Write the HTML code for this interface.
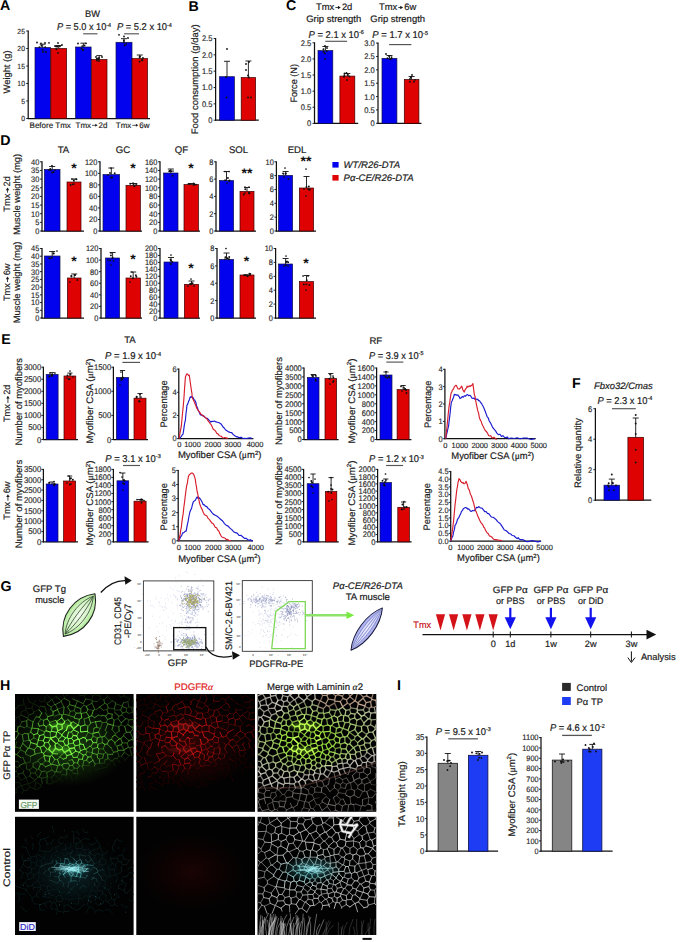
<!DOCTYPE html>
<html><head><meta charset="utf-8"><title>Figure</title>
<style>
html,body{margin:0;padding:0;background:#fff;overflow:hidden;}
svg{display:block;}
text{font-family:"Liberation Sans",sans-serif;text-rendering:geometricPrecision;}
</style></head><body>
<svg width="700" height="942" viewBox="0 0 700 942">
<rect x="0" y="0" width="700" height="942" fill="#fff"/>
<text x="0.1" y="10.3" font-size="14.2" fill="#000" font-weight="bold">A</text>
<text x="92.5" y="16.85" font-size="9.3" text-anchor="middle" fill="#1a1a1a" stroke="#1a1a1a" stroke-width="0.19">BW</text>
<text x="57" y="30.45" font-size="9.9" fill="#1a1a1a" stroke="#1a1a1a" stroke-width="0.2" textLength="54" lengthAdjust="spacingAndGlyphs"><tspan font-style="italic">P</tspan> = 5.0 x 10<tspan font-size="5.74" dy="-3.56">-4</tspan></text>
<text x="116.9" y="30.45" font-size="9.9" fill="#1a1a1a" stroke="#1a1a1a" stroke-width="0.2" textLength="55" lengthAdjust="spacingAndGlyphs"><tspan font-style="italic">P</tspan> = 5.2 x 10<tspan font-size="5.74" dy="-3.56">-4</tspan></text>
<line x1="83.2" y1="33.8" x2="97.5" y2="33.8" stroke="#555" stroke-width="1.15"/>
<line x1="124.1" y1="33.8" x2="139" y2="33.8" stroke="#555" stroke-width="1.15"/>
<line x1="28.2" y1="30.5" x2="28.2" y2="119" stroke="#111" stroke-width="1.25"/>
<line x1="27.7" y1="118.5" x2="150" y2="118.5" stroke="#111" stroke-width="1.25"/>
<line x1="26.2" y1="118.5" x2="28.2" y2="118.5" stroke="#111" stroke-width="0.9"/>
<text x="25" y="121.16" font-size="7.4" text-anchor="end" fill="#2a2a2a" stroke="#2a2a2a" stroke-width="0.15" textLength="3.82" lengthAdjust="spacingAndGlyphs">0</text>
<line x1="26.2" y1="101" x2="28.2" y2="101" stroke="#111" stroke-width="0.9"/>
<text x="25" y="103.66" font-size="7.4" text-anchor="end" fill="#2a2a2a" stroke="#2a2a2a" stroke-width="0.15" textLength="3.82" lengthAdjust="spacingAndGlyphs">5</text>
<line x1="26.2" y1="83.5" x2="28.2" y2="83.5" stroke="#111" stroke-width="0.9"/>
<text x="25" y="86.16" font-size="7.4" text-anchor="end" fill="#2a2a2a" stroke="#2a2a2a" stroke-width="0.15" textLength="7.63" lengthAdjust="spacingAndGlyphs">10</text>
<line x1="26.2" y1="66" x2="28.2" y2="66" stroke="#111" stroke-width="0.9"/>
<text x="25" y="68.66" font-size="7.4" text-anchor="end" fill="#2a2a2a" stroke="#2a2a2a" stroke-width="0.15" textLength="7.63" lengthAdjust="spacingAndGlyphs">15</text>
<line x1="26.2" y1="48.5" x2="28.2" y2="48.5" stroke="#111" stroke-width="0.9"/>
<text x="25" y="51.16" font-size="7.4" text-anchor="end" fill="#2a2a2a" stroke="#2a2a2a" stroke-width="0.15" textLength="7.63" lengthAdjust="spacingAndGlyphs">20</text>
<line x1="26.2" y1="31" x2="28.2" y2="31" stroke="#111" stroke-width="0.9"/>
<text x="25" y="33.66" font-size="7.4" text-anchor="end" fill="#2a2a2a" stroke="#2a2a2a" stroke-width="0.15" textLength="7.63" lengthAdjust="spacingAndGlyphs">25</text>
<rect x="35" y="47.5" width="15.4" height="71" fill="#0202ee" stroke="#10104a" stroke-width="0.7"/>
<line x1="42.7" y1="44.2" x2="42.7" y2="47.5" stroke="#111" stroke-width="0.9"/>
<line x1="39.7" y1="44.2" x2="45.7" y2="44.2" stroke="#111" stroke-width="0.9"/>
<circle cx="45.24" cy="47.24" r="0.95" fill="#111"/>
<circle cx="39.4" cy="47.08" r="0.95" fill="#111"/>
<circle cx="41.45" cy="45.72" r="0.95" fill="#111"/>
<circle cx="42.66" cy="49.87" r="0.95" fill="#111"/>
<rect x="50.8" y="48.5" width="15.8" height="70" fill="#de0202" stroke="#3a0000" stroke-width="0.7"/>
<line x1="58.7" y1="45.5" x2="58.7" y2="48.5" stroke="#111" stroke-width="0.9"/>
<line x1="55.7" y1="45.5" x2="61.7" y2="45.5" stroke="#111" stroke-width="0.9"/>
<circle cx="56.3" cy="49.29" r="0.95" fill="#111"/>
<circle cx="59.9" cy="46.29" r="0.95" fill="#111"/>
<circle cx="56.09" cy="46.44" r="0.95" fill="#111"/>
<circle cx="57.56" cy="46.63" r="0.95" fill="#111"/>
<rect x="75.6" y="47" width="15.5" height="71.5" fill="#0202ee" stroke="#10104a" stroke-width="0.7"/>
<line x1="83.35" y1="43.2" x2="83.35" y2="47" stroke="#111" stroke-width="0.9"/>
<line x1="80.35" y1="43.2" x2="86.35" y2="43.2" stroke="#111" stroke-width="0.9"/>
<circle cx="81.51" cy="48.54" r="0.95" fill="#111"/>
<circle cx="84.53" cy="45.54" r="0.95" fill="#111"/>
<circle cx="82.97" cy="50.02" r="0.95" fill="#111"/>
<circle cx="82.21" cy="46.11" r="0.95" fill="#111"/>
<rect x="91.5" y="59.5" width="15.5" height="59" fill="#de0202" stroke="#3a0000" stroke-width="0.7"/>
<line x1="99.25" y1="55.6" x2="99.25" y2="59.5" stroke="#111" stroke-width="0.9"/>
<line x1="96.25" y1="55.6" x2="102.25" y2="55.6" stroke="#111" stroke-width="0.9"/>
<circle cx="96.93" cy="58.72" r="0.95" fill="#111"/>
<circle cx="98.24" cy="59.1" r="0.95" fill="#111"/>
<circle cx="98" cy="58.53" r="0.95" fill="#111"/>
<circle cx="96.92" cy="60.47" r="0.95" fill="#111"/>
<rect x="116" y="42.3" width="16" height="76.2" fill="#0202ee" stroke="#10104a" stroke-width="0.7"/>
<line x1="124" y1="38.7" x2="124" y2="42.3" stroke="#111" stroke-width="0.9"/>
<line x1="121" y1="38.7" x2="127" y2="38.7" stroke="#111" stroke-width="0.9"/>
<circle cx="123.89" cy="42.21" r="0.95" fill="#111"/>
<circle cx="126.17" cy="44.08" r="0.95" fill="#111"/>
<circle cx="123.85" cy="40.4" r="0.95" fill="#111"/>
<circle cx="124.78" cy="45.31" r="0.95" fill="#111"/>
<rect x="132" y="58.6" width="15.5" height="59.9" fill="#de0202" stroke="#3a0000" stroke-width="0.7"/>
<line x1="139.75" y1="55" x2="139.75" y2="58.6" stroke="#111" stroke-width="0.9"/>
<line x1="136.75" y1="55" x2="142.75" y2="55" stroke="#111" stroke-width="0.9"/>
<circle cx="139.61" cy="61.67" r="0.95" fill="#111"/>
<circle cx="142.43" cy="60.4" r="0.95" fill="#111"/>
<circle cx="142.04" cy="60" r="0.95" fill="#111"/>
<circle cx="139.51" cy="57.11" r="0.95" fill="#111"/>
<circle cx="37" cy="42.5" r="0.9" fill="#111"/>
<circle cx="41" cy="43.5" r="0.9" fill="#111"/>
<circle cx="45" cy="43" r="0.9" fill="#111"/>
<circle cx="49" cy="42.8" r="0.9" fill="#111"/>
<circle cx="43" cy="52" r="0.9" fill="#111"/>
<circle cx="46" cy="52" r="0.9" fill="#111"/>
<circle cx="55" cy="46" r="0.9" fill="#111"/>
<circle cx="58" cy="43" r="0.9" fill="#111"/>
<circle cx="62" cy="45" r="0.9" fill="#111"/>
<circle cx="58" cy="53" r="0.9" fill="#111"/>
<circle cx="78" cy="43.5" r="0.9" fill="#111"/>
<circle cx="86" cy="43.3" r="0.9" fill="#111"/>
<circle cx="83" cy="50" r="0.9" fill="#111"/>
<circle cx="96" cy="57" r="0.9" fill="#111"/>
<circle cx="99" cy="58" r="0.9" fill="#111"/>
<circle cx="102" cy="57" r="0.9" fill="#111"/>
<circle cx="99" cy="61" r="0.9" fill="#111"/>
<circle cx="119" cy="34.8" r="0.9" fill="#111"/>
<circle cx="124" cy="36.5" r="0.9" fill="#111"/>
<circle cx="128" cy="38" r="0.9" fill="#111"/>
<circle cx="140" cy="56.5" r="0.9" fill="#111"/>
<circle cx="143" cy="58" r="0.9" fill="#111"/>
<text x="50.2" y="127.5" font-size="8" text-anchor="middle" fill="#1a1a1a" stroke="#1a1a1a" stroke-width="0.16" textLength="41.3" lengthAdjust="spacingAndGlyphs">Before Tmx</text>
<g transform="translate(91.5 127.5)"><text x="-16" y="0" font-size="8" fill="#1a1a1a" stroke="#1a1a1a" stroke-width="0.16" textLength="15.55" lengthAdjust="spacingAndGlyphs">Tmx</text><text x="16" y="0" font-size="8" fill="#1a1a1a" stroke="#1a1a1a" stroke-width="0.16" text-anchor="end" textLength="8.9" lengthAdjust="spacingAndGlyphs">2d</text><path d="M0.51 -2.16H4.7" stroke="#1a1a1a" stroke-width="0.72"/><path d="M6.14 -2.16L3.74 -3.68L3.74 -0.64Z" fill="#1a1a1a"/></g>
<g transform="translate(132.6 127.5)"><text x="-16.85" y="0" font-size="8" fill="#1a1a1a" stroke="#1a1a1a" stroke-width="0.16" textLength="15.55" lengthAdjust="spacingAndGlyphs">Tmx</text><text x="16.85" y="0" font-size="8" fill="#1a1a1a" stroke="#1a1a1a" stroke-width="0.16" text-anchor="end" textLength="10.22" lengthAdjust="spacingAndGlyphs">6w</text><path d="M-0.34 -2.16H4.23" stroke="#1a1a1a" stroke-width="0.72"/><path d="M5.67 -2.16L3.27 -3.68L3.27 -0.64Z" fill="#1a1a1a"/></g>
<text x="9.68" y="72" font-size="9.4" text-anchor="middle" fill="#1a1a1a" stroke="#1a1a1a" stroke-width="0.19" transform="rotate(-90 9.68 72)" textLength="43" lengthAdjust="spacingAndGlyphs">Weight (g)</text>
<text x="188.4" y="10.6" font-size="14.2" fill="#000" font-weight="bold">B</text>
<line x1="215.6" y1="38" x2="215.6" y2="120.7" stroke="#111" stroke-width="1.25"/>
<line x1="215.1" y1="120.2" x2="258.8" y2="120.2" stroke="#111" stroke-width="1.25"/>
<line x1="213.6" y1="120.2" x2="215.6" y2="120.2" stroke="#111" stroke-width="0.9"/>
<text x="212.4" y="123.13" font-size="8.14" text-anchor="end" fill="#2a2a2a" stroke="#2a2a2a" stroke-width="0.16" textLength="4.2" lengthAdjust="spacingAndGlyphs">0</text>
<line x1="213.6" y1="103.86" x2="215.6" y2="103.86" stroke="#111" stroke-width="0.9"/>
<text x="212.4" y="106.79" font-size="8.14" text-anchor="end" fill="#2a2a2a" stroke="#2a2a2a" stroke-width="0.16" textLength="10.49" lengthAdjust="spacingAndGlyphs">0.5</text>
<line x1="213.6" y1="87.52" x2="215.6" y2="87.52" stroke="#111" stroke-width="0.9"/>
<text x="212.4" y="90.45" font-size="8.14" text-anchor="end" fill="#2a2a2a" stroke="#2a2a2a" stroke-width="0.16" textLength="10.49" lengthAdjust="spacingAndGlyphs">1.0</text>
<line x1="213.6" y1="71.18" x2="215.6" y2="71.18" stroke="#111" stroke-width="0.9"/>
<text x="212.4" y="74.11" font-size="8.14" text-anchor="end" fill="#2a2a2a" stroke="#2a2a2a" stroke-width="0.16" textLength="10.49" lengthAdjust="spacingAndGlyphs">1.5</text>
<line x1="213.6" y1="54.84" x2="215.6" y2="54.84" stroke="#111" stroke-width="0.9"/>
<text x="212.4" y="57.77" font-size="8.14" text-anchor="end" fill="#2a2a2a" stroke="#2a2a2a" stroke-width="0.16" textLength="10.49" lengthAdjust="spacingAndGlyphs">2.0</text>
<line x1="213.6" y1="38.5" x2="215.6" y2="38.5" stroke="#111" stroke-width="0.9"/>
<text x="212.4" y="41.43" font-size="8.14" text-anchor="end" fill="#2a2a2a" stroke="#2a2a2a" stroke-width="0.16" textLength="10.49" lengthAdjust="spacingAndGlyphs">2.5</text>
<rect x="219.5" y="76.7" width="14.9" height="43.5" fill="#0202ee" stroke="#10104a" stroke-width="0.7"/>
<line x1="227" y1="61.3" x2="227" y2="76.7" stroke="#111" stroke-width="0.9"/>
<line x1="224" y1="61.3" x2="230" y2="61.3" stroke="#111" stroke-width="0.9"/>
<rect x="241.2" y="77.6" width="14.4" height="42.6" fill="#de0202" stroke="#3a0000" stroke-width="0.7"/>
<line x1="248.4" y1="61" x2="248.4" y2="77.6" stroke="#111" stroke-width="0.9"/>
<line x1="245.4" y1="61" x2="251.4" y2="61" stroke="#111" stroke-width="0.9"/>
<circle cx="227" cy="49" r="0.9" fill="#111"/>
<circle cx="226" cy="77" r="0.9" fill="#111"/>
<circle cx="226.5" cy="97.5" r="0.9" fill="#111"/>
<circle cx="249" cy="62" r="0.9" fill="#111"/>
<circle cx="246" cy="64" r="0.9" fill="#111"/>
<circle cx="246" cy="70" r="0.9" fill="#111"/>
<circle cx="248" cy="75.5" r="0.9" fill="#111"/>
<circle cx="249" cy="77.5" r="0.9" fill="#111"/>
<circle cx="248" cy="97.5" r="0.9" fill="#111"/>
<circle cx="251" cy="97.5" r="0.9" fill="#111"/>
<text x="197.58" y="79.3" font-size="9.4" text-anchor="middle" fill="#1a1a1a" stroke="#1a1a1a" stroke-width="0.19" transform="rotate(-90 197.58 79.3)" textLength="110" lengthAdjust="spacingAndGlyphs">Food consumption (g/day)</text>
<text x="286" y="10.4" font-size="14.2" fill="#000" font-weight="bold">C</text>
<g transform="translate(334.2 10.08)"><text x="-18.15" y="0" font-size="9.4" fill="#1a1a1a" stroke="#1a1a1a" stroke-width="0.19" textLength="18.27" lengthAdjust="spacingAndGlyphs">Tmx</text><text x="18.15" y="0" font-size="9.4" fill="#1a1a1a" stroke="#1a1a1a" stroke-width="0.19" text-anchor="end" textLength="10.45" lengthAdjust="spacingAndGlyphs">2d</text><path d="M1.25 -2.54H4.88" stroke="#1a1a1a" stroke-width="0.85"/><path d="M6.57 -2.54L3.75 -4.32L3.75 -0.75Z" fill="#1a1a1a"/></g>
<text x="333.7" y="21.98" font-size="9.4" text-anchor="middle" fill="#1a1a1a" stroke="#1a1a1a" stroke-width="0.19" textLength="55" lengthAdjust="spacingAndGlyphs">Grip strength</text>
<g transform="translate(397.6 10.08)"><text x="-18.6" y="0" font-size="9.4" fill="#1a1a1a" stroke="#1a1a1a" stroke-width="0.19" textLength="18.21" lengthAdjust="spacingAndGlyphs">Tmx</text><text x="18.6" y="0" font-size="9.4" fill="#1a1a1a" stroke="#1a1a1a" stroke-width="0.19" text-anchor="end" textLength="11.97" lengthAdjust="spacingAndGlyphs">6w</text><path d="M0.73 -2.54H3.81" stroke="#1a1a1a" stroke-width="0.85"/><path d="M5.5 -2.54L2.68 -4.32L2.68 -0.75Z" fill="#1a1a1a"/></g>
<text x="397.7" y="21.98" font-size="9.4" text-anchor="middle" fill="#1a1a1a" stroke="#1a1a1a" stroke-width="0.19" textLength="54.7" lengthAdjust="spacingAndGlyphs">Grip strength</text>
<text x="308.6" y="37.75" font-size="9.9" fill="#1a1a1a" stroke="#1a1a1a" stroke-width="0.2" textLength="55.3" lengthAdjust="spacingAndGlyphs"><tspan font-style="italic">P</tspan> = 2.1 x 10<tspan font-size="5.74" dy="-3.56">-6</tspan></text>
<text x="372.3" y="38.35" font-size="9.9" fill="#1a1a1a" stroke="#1a1a1a" stroke-width="0.2" textLength="55.7" lengthAdjust="spacingAndGlyphs"><tspan font-style="italic">P</tspan> = 1.7 x 10<tspan font-size="5.74" dy="-3.56">-5</tspan></text>
<line x1="325.3" y1="41.3" x2="347.1" y2="41.3" stroke="#555" stroke-width="1.15"/>
<line x1="389.1" y1="44.6" x2="411.4" y2="44.6" stroke="#555" stroke-width="1.15"/>
<line x1="314.5" y1="42.3" x2="314.5" y2="123.9" stroke="#111" stroke-width="1.25"/>
<line x1="314" y1="123.4" x2="358.2" y2="123.4" stroke="#111" stroke-width="1.25"/>
<line x1="312.5" y1="123.4" x2="314.5" y2="123.4" stroke="#111" stroke-width="0.9"/>
<text x="311.3" y="126.33" font-size="8.14" text-anchor="end" fill="#2a2a2a" stroke="#2a2a2a" stroke-width="0.16" textLength="4.2" lengthAdjust="spacingAndGlyphs">0</text>
<line x1="312.5" y1="107.28" x2="314.5" y2="107.28" stroke="#111" stroke-width="0.9"/>
<text x="311.3" y="110.21" font-size="8.14" text-anchor="end" fill="#2a2a2a" stroke="#2a2a2a" stroke-width="0.16" textLength="10.49" lengthAdjust="spacingAndGlyphs">0.5</text>
<line x1="312.5" y1="91.16" x2="314.5" y2="91.16" stroke="#111" stroke-width="0.9"/>
<text x="311.3" y="94.09" font-size="8.14" text-anchor="end" fill="#2a2a2a" stroke="#2a2a2a" stroke-width="0.16" textLength="10.49" lengthAdjust="spacingAndGlyphs">1.0</text>
<line x1="312.5" y1="75.04" x2="314.5" y2="75.04" stroke="#111" stroke-width="0.9"/>
<text x="311.3" y="77.97" font-size="8.14" text-anchor="end" fill="#2a2a2a" stroke="#2a2a2a" stroke-width="0.16" textLength="10.49" lengthAdjust="spacingAndGlyphs">1.5</text>
<line x1="312.5" y1="58.92" x2="314.5" y2="58.92" stroke="#111" stroke-width="0.9"/>
<text x="311.3" y="61.85" font-size="8.14" text-anchor="end" fill="#2a2a2a" stroke="#2a2a2a" stroke-width="0.16" textLength="10.49" lengthAdjust="spacingAndGlyphs">2.0</text>
<line x1="312.5" y1="42.8" x2="314.5" y2="42.8" stroke="#111" stroke-width="0.9"/>
<text x="311.3" y="45.73" font-size="8.14" text-anchor="end" fill="#2a2a2a" stroke="#2a2a2a" stroke-width="0.16" textLength="10.49" lengthAdjust="spacingAndGlyphs">2.5</text>
<rect x="318" y="50.6" width="14.8" height="72.8" fill="#0202ee" stroke="#10104a" stroke-width="0.7"/>
<line x1="325.4" y1="46.5" x2="325.4" y2="50.6" stroke="#111" stroke-width="0.9"/>
<line x1="322.4" y1="46.5" x2="328.4" y2="46.5" stroke="#111" stroke-width="0.9"/>
<circle cx="323.47" cy="51.7" r="0.95" fill="#111"/>
<circle cx="324.8" cy="53.32" r="0.95" fill="#111"/>
<circle cx="323.45" cy="49.24" r="0.95" fill="#111"/>
<circle cx="326.9" cy="51.09" r="0.95" fill="#111"/>
<rect x="339.9" y="76.1" width="14.9" height="47.3" fill="#de0202" stroke="#3a0000" stroke-width="0.7"/>
<line x1="347.3" y1="73.5" x2="347.3" y2="76.1" stroke="#111" stroke-width="0.9"/>
<line x1="344.3" y1="73.5" x2="350.3" y2="73.5" stroke="#111" stroke-width="0.9"/>
<circle cx="344.39" cy="75.27" r="0.95" fill="#111"/>
<circle cx="349.31" cy="76.56" r="0.95" fill="#111"/>
<circle cx="344.51" cy="73.55" r="0.95" fill="#111"/>
<circle cx="343.96" cy="76.68" r="0.95" fill="#111"/>
<line x1="378" y1="42.6" x2="378" y2="123.8" stroke="#111" stroke-width="1.25"/>
<line x1="377.5" y1="123.3" x2="421.4" y2="123.3" stroke="#111" stroke-width="1.25"/>
<line x1="376" y1="123.3" x2="378" y2="123.3" stroke="#111" stroke-width="0.9"/>
<text x="374.8" y="126.23" font-size="8.14" text-anchor="end" fill="#2a2a2a" stroke="#2a2a2a" stroke-width="0.16" textLength="4.2" lengthAdjust="spacingAndGlyphs">0</text>
<line x1="376" y1="109.93" x2="378" y2="109.93" stroke="#111" stroke-width="0.9"/>
<text x="374.8" y="112.86" font-size="8.14" text-anchor="end" fill="#2a2a2a" stroke="#2a2a2a" stroke-width="0.16" textLength="10.49" lengthAdjust="spacingAndGlyphs">0.5</text>
<line x1="376" y1="96.57" x2="378" y2="96.57" stroke="#111" stroke-width="0.9"/>
<text x="374.8" y="99.5" font-size="8.14" text-anchor="end" fill="#2a2a2a" stroke="#2a2a2a" stroke-width="0.16" textLength="10.49" lengthAdjust="spacingAndGlyphs">1.0</text>
<line x1="376" y1="83.2" x2="378" y2="83.2" stroke="#111" stroke-width="0.9"/>
<text x="374.8" y="86.13" font-size="8.14" text-anchor="end" fill="#2a2a2a" stroke="#2a2a2a" stroke-width="0.16" textLength="10.49" lengthAdjust="spacingAndGlyphs">1.5</text>
<line x1="376" y1="69.83" x2="378" y2="69.83" stroke="#111" stroke-width="0.9"/>
<text x="374.8" y="72.76" font-size="8.14" text-anchor="end" fill="#2a2a2a" stroke="#2a2a2a" stroke-width="0.16" textLength="10.49" lengthAdjust="spacingAndGlyphs">2.0</text>
<line x1="376" y1="56.47" x2="378" y2="56.47" stroke="#111" stroke-width="0.9"/>
<text x="374.8" y="59.4" font-size="8.14" text-anchor="end" fill="#2a2a2a" stroke="#2a2a2a" stroke-width="0.16" textLength="10.49" lengthAdjust="spacingAndGlyphs">2.5</text>
<line x1="376" y1="43.1" x2="378" y2="43.1" stroke="#111" stroke-width="0.9"/>
<text x="374.8" y="46.03" font-size="8.14" text-anchor="end" fill="#2a2a2a" stroke="#2a2a2a" stroke-width="0.16" textLength="10.49" lengthAdjust="spacingAndGlyphs">3.0</text>
<rect x="382" y="58.4" width="14.9" height="64.9" fill="#0202ee" stroke="#10104a" stroke-width="0.7"/>
<line x1="389.5" y1="55.5" x2="389.5" y2="58.4" stroke="#111" stroke-width="0.9"/>
<line x1="386.5" y1="55.5" x2="392.5" y2="55.5" stroke="#111" stroke-width="0.9"/>
<circle cx="390.18" cy="59.18" r="0.95" fill="#111"/>
<circle cx="391.55" cy="57.11" r="0.95" fill="#111"/>
<circle cx="391.72" cy="58.6" r="0.95" fill="#111"/>
<circle cx="387.52" cy="58.2" r="0.95" fill="#111"/>
<rect x="404.3" y="79.5" width="14.6" height="43.8" fill="#de0202" stroke="#3a0000" stroke-width="0.7"/>
<line x1="411.6" y1="76.5" x2="411.6" y2="79.5" stroke="#111" stroke-width="0.9"/>
<line x1="408.6" y1="76.5" x2="414.6" y2="76.5" stroke="#111" stroke-width="0.9"/>
<circle cx="409.81" cy="81.8" r="0.95" fill="#111"/>
<circle cx="413.91" cy="81.8" r="0.95" fill="#111"/>
<circle cx="415" cy="79.83" r="0.95" fill="#111"/>
<circle cx="410.75" cy="77.24" r="0.95" fill="#111"/>
<circle cx="325" cy="46" r="0.9" fill="#111"/>
<circle cx="327" cy="48" r="0.9" fill="#111"/>
<circle cx="325" cy="59" r="0.9" fill="#111"/>
<circle cx="346.5" cy="73" r="0.9" fill="#111"/>
<circle cx="348" cy="75" r="0.9" fill="#111"/>
<circle cx="347" cy="80" r="0.9" fill="#111"/>
<circle cx="386" cy="54" r="0.9" fill="#111"/>
<circle cx="389" cy="56" r="0.9" fill="#111"/>
<circle cx="412" cy="75" r="0.9" fill="#111"/>
<circle cx="410" cy="79" r="0.9" fill="#111"/>
<text x="297.15" y="83.3" font-size="9.3" text-anchor="middle" fill="#1a1a1a" stroke="#1a1a1a" stroke-width="0.19" transform="rotate(-90 297.15 83.3)" textLength="38.6" lengthAdjust="spacingAndGlyphs">Force (N)</text>
<text x="0.2" y="145.4" font-size="14.2" fill="#000" font-weight="bold">D</text>
<text x="63.5" y="153.46" font-size="9.6" text-anchor="middle" fill="#1a1a1a" stroke="#1a1a1a" stroke-width="0.19">TA</text>
<text x="123" y="153.46" font-size="9.6" text-anchor="middle" fill="#1a1a1a" stroke="#1a1a1a" stroke-width="0.19">GC</text>
<text x="181.5" y="153.46" font-size="9.6" text-anchor="middle" fill="#1a1a1a" stroke="#1a1a1a" stroke-width="0.19">QF</text>
<text x="238.5" y="153.46" font-size="9.6" text-anchor="middle" fill="#1a1a1a" stroke="#1a1a1a" stroke-width="0.19">SOL</text>
<text x="297" y="153.46" font-size="9.6" text-anchor="middle" fill="#1a1a1a" stroke="#1a1a1a" stroke-width="0.19">EDL</text>
<line x1="42" y1="161.3" x2="42" y2="231.5" stroke="#111" stroke-width="1.25"/>
<line x1="41.5" y1="231" x2="84" y2="231" stroke="#111" stroke-width="1.25"/>
<line x1="40" y1="231" x2="42" y2="231" stroke="#111" stroke-width="0.9"/>
<text x="39.4" y="233.89" font-size="8.03" text-anchor="end" fill="#2a2a2a" stroke="#2a2a2a" stroke-width="0.16" textLength="4.14" lengthAdjust="spacingAndGlyphs">0</text>
<line x1="40" y1="222.35" x2="42" y2="222.35" stroke="#111" stroke-width="0.9"/>
<text x="39.4" y="225.24" font-size="8.03" text-anchor="end" fill="#2a2a2a" stroke="#2a2a2a" stroke-width="0.16" textLength="4.14" lengthAdjust="spacingAndGlyphs">5</text>
<line x1="40" y1="213.7" x2="42" y2="213.7" stroke="#111" stroke-width="0.9"/>
<text x="39.4" y="216.59" font-size="8.03" text-anchor="end" fill="#2a2a2a" stroke="#2a2a2a" stroke-width="0.16" textLength="8.28" lengthAdjust="spacingAndGlyphs">10</text>
<line x1="40" y1="205.05" x2="42" y2="205.05" stroke="#111" stroke-width="0.9"/>
<text x="39.4" y="207.94" font-size="8.03" text-anchor="end" fill="#2a2a2a" stroke="#2a2a2a" stroke-width="0.16" textLength="8.28" lengthAdjust="spacingAndGlyphs">15</text>
<line x1="40" y1="196.4" x2="42" y2="196.4" stroke="#111" stroke-width="0.9"/>
<text x="39.4" y="199.29" font-size="8.03" text-anchor="end" fill="#2a2a2a" stroke="#2a2a2a" stroke-width="0.16" textLength="8.28" lengthAdjust="spacingAndGlyphs">20</text>
<line x1="40" y1="187.75" x2="42" y2="187.75" stroke="#111" stroke-width="0.9"/>
<text x="39.4" y="190.64" font-size="8.03" text-anchor="end" fill="#2a2a2a" stroke="#2a2a2a" stroke-width="0.16" textLength="8.28" lengthAdjust="spacingAndGlyphs">25</text>
<line x1="40" y1="179.1" x2="42" y2="179.1" stroke="#111" stroke-width="0.9"/>
<text x="39.4" y="181.99" font-size="8.03" text-anchor="end" fill="#2a2a2a" stroke="#2a2a2a" stroke-width="0.16" textLength="8.28" lengthAdjust="spacingAndGlyphs">30</text>
<line x1="40" y1="170.45" x2="42" y2="170.45" stroke="#111" stroke-width="0.9"/>
<text x="39.4" y="173.34" font-size="8.03" text-anchor="end" fill="#2a2a2a" stroke="#2a2a2a" stroke-width="0.16" textLength="8.28" lengthAdjust="spacingAndGlyphs">35</text>
<line x1="40" y1="161.8" x2="42" y2="161.8" stroke="#111" stroke-width="0.9"/>
<text x="39.4" y="164.69" font-size="8.03" text-anchor="end" fill="#2a2a2a" stroke="#2a2a2a" stroke-width="0.16" textLength="8.28" lengthAdjust="spacingAndGlyphs">40</text>
<rect x="44.4" y="169.4" width="15.6" height="61.6" fill="#0202ee" stroke="#10104a" stroke-width="0.7"/>
<line x1="52.2" y1="166.5" x2="52.2" y2="169.4" stroke="#111" stroke-width="0.9"/>
<line x1="49.2" y1="166.5" x2="55.2" y2="166.5" stroke="#111" stroke-width="0.9"/>
<circle cx="52.09" cy="172.6" r="0.95" fill="#111"/>
<circle cx="50.26" cy="168.89" r="0.95" fill="#111"/>
<circle cx="50.78" cy="169.89" r="0.95" fill="#111"/>
<circle cx="53.55" cy="172" r="0.95" fill="#111"/>
<rect x="67" y="182" width="14" height="49" fill="#de0202" stroke="#3a0000" stroke-width="0.7"/>
<line x1="74" y1="179" x2="74" y2="182" stroke="#111" stroke-width="0.9"/>
<line x1="71" y1="179" x2="77" y2="179" stroke="#111" stroke-width="0.9"/>
<circle cx="70.68" cy="185.01" r="0.95" fill="#111"/>
<circle cx="76.5" cy="179.33" r="0.95" fill="#111"/>
<circle cx="73.76" cy="180.37" r="0.95" fill="#111"/>
<circle cx="72.76" cy="184.34" r="0.95" fill="#111"/>
<text x="74" y="172.88" font-size="14" text-anchor="middle" fill="#111" font-weight="bold">*</text>
<line x1="100" y1="161.3" x2="100" y2="231.5" stroke="#111" stroke-width="1.25"/>
<line x1="99.5" y1="231" x2="142" y2="231" stroke="#111" stroke-width="1.25"/>
<line x1="98" y1="231" x2="100" y2="231" stroke="#111" stroke-width="0.9"/>
<text x="97.4" y="233.89" font-size="8.03" text-anchor="end" fill="#2a2a2a" stroke="#2a2a2a" stroke-width="0.16" textLength="4.14" lengthAdjust="spacingAndGlyphs">0</text>
<line x1="98" y1="219.47" x2="100" y2="219.47" stroke="#111" stroke-width="0.9"/>
<text x="97.4" y="222.36" font-size="8.03" text-anchor="end" fill="#2a2a2a" stroke="#2a2a2a" stroke-width="0.16" textLength="8.28" lengthAdjust="spacingAndGlyphs">20</text>
<line x1="98" y1="207.93" x2="100" y2="207.93" stroke="#111" stroke-width="0.9"/>
<text x="97.4" y="210.82" font-size="8.03" text-anchor="end" fill="#2a2a2a" stroke="#2a2a2a" stroke-width="0.16" textLength="8.28" lengthAdjust="spacingAndGlyphs">40</text>
<line x1="98" y1="196.4" x2="100" y2="196.4" stroke="#111" stroke-width="0.9"/>
<text x="97.4" y="199.29" font-size="8.03" text-anchor="end" fill="#2a2a2a" stroke="#2a2a2a" stroke-width="0.16" textLength="8.28" lengthAdjust="spacingAndGlyphs">60</text>
<line x1="98" y1="184.87" x2="100" y2="184.87" stroke="#111" stroke-width="0.9"/>
<text x="97.4" y="187.76" font-size="8.03" text-anchor="end" fill="#2a2a2a" stroke="#2a2a2a" stroke-width="0.16" textLength="8.28" lengthAdjust="spacingAndGlyphs">80</text>
<line x1="98" y1="173.33" x2="100" y2="173.33" stroke="#111" stroke-width="0.9"/>
<text x="97.4" y="176.22" font-size="8.03" text-anchor="end" fill="#2a2a2a" stroke="#2a2a2a" stroke-width="0.16" textLength="12.42" lengthAdjust="spacingAndGlyphs">100</text>
<line x1="98" y1="161.8" x2="100" y2="161.8" stroke="#111" stroke-width="0.9"/>
<text x="97.4" y="164.69" font-size="8.03" text-anchor="end" fill="#2a2a2a" stroke="#2a2a2a" stroke-width="0.16" textLength="12.42" lengthAdjust="spacingAndGlyphs">120</text>
<rect x="103" y="174.6" width="16.6" height="56.4" fill="#0202ee" stroke="#10104a" stroke-width="0.7"/>
<line x1="111.3" y1="168" x2="111.3" y2="174.6" stroke="#111" stroke-width="0.9"/>
<line x1="108.3" y1="168" x2="114.3" y2="168" stroke="#111" stroke-width="0.9"/>
<circle cx="110" cy="172.95" r="0.95" fill="#111"/>
<circle cx="111" cy="177.49" r="0.95" fill="#111"/>
<circle cx="112.12" cy="177.56" r="0.95" fill="#111"/>
<circle cx="114.73" cy="173.23" r="0.95" fill="#111"/>
<rect x="126" y="185.4" width="14.4" height="45.6" fill="#de0202" stroke="#3a0000" stroke-width="0.7"/>
<line x1="133.2" y1="183.5" x2="133.2" y2="185.4" stroke="#111" stroke-width="0.9"/>
<line x1="130.2" y1="183.5" x2="136.2" y2="183.5" stroke="#111" stroke-width="0.9"/>
<circle cx="136.47" cy="183.9" r="0.95" fill="#111"/>
<circle cx="134.38" cy="186.32" r="0.95" fill="#111"/>
<circle cx="133.75" cy="184.08" r="0.95" fill="#111"/>
<circle cx="130.2" cy="183.82" r="0.95" fill="#111"/>
<text x="133" y="172.88" font-size="14" text-anchor="middle" fill="#111" font-weight="bold">*</text>
<line x1="160" y1="161.3" x2="160" y2="231.5" stroke="#111" stroke-width="1.25"/>
<line x1="159.5" y1="231" x2="200" y2="231" stroke="#111" stroke-width="1.25"/>
<line x1="158" y1="231" x2="160" y2="231" stroke="#111" stroke-width="0.9"/>
<text x="157.4" y="233.89" font-size="8.03" text-anchor="end" fill="#2a2a2a" stroke="#2a2a2a" stroke-width="0.16" textLength="4.14" lengthAdjust="spacingAndGlyphs">0</text>
<line x1="158" y1="222.35" x2="160" y2="222.35" stroke="#111" stroke-width="0.9"/>
<text x="157.4" y="225.24" font-size="8.03" text-anchor="end" fill="#2a2a2a" stroke="#2a2a2a" stroke-width="0.16" textLength="8.28" lengthAdjust="spacingAndGlyphs">20</text>
<line x1="158" y1="213.7" x2="160" y2="213.7" stroke="#111" stroke-width="0.9"/>
<text x="157.4" y="216.59" font-size="8.03" text-anchor="end" fill="#2a2a2a" stroke="#2a2a2a" stroke-width="0.16" textLength="8.28" lengthAdjust="spacingAndGlyphs">40</text>
<line x1="158" y1="205.05" x2="160" y2="205.05" stroke="#111" stroke-width="0.9"/>
<text x="157.4" y="207.94" font-size="8.03" text-anchor="end" fill="#2a2a2a" stroke="#2a2a2a" stroke-width="0.16" textLength="8.28" lengthAdjust="spacingAndGlyphs">60</text>
<line x1="158" y1="196.4" x2="160" y2="196.4" stroke="#111" stroke-width="0.9"/>
<text x="157.4" y="199.29" font-size="8.03" text-anchor="end" fill="#2a2a2a" stroke="#2a2a2a" stroke-width="0.16" textLength="8.28" lengthAdjust="spacingAndGlyphs">80</text>
<line x1="158" y1="187.75" x2="160" y2="187.75" stroke="#111" stroke-width="0.9"/>
<text x="157.4" y="190.64" font-size="8.03" text-anchor="end" fill="#2a2a2a" stroke="#2a2a2a" stroke-width="0.16" textLength="12.42" lengthAdjust="spacingAndGlyphs">100</text>
<line x1="158" y1="179.1" x2="160" y2="179.1" stroke="#111" stroke-width="0.9"/>
<text x="157.4" y="181.99" font-size="8.03" text-anchor="end" fill="#2a2a2a" stroke="#2a2a2a" stroke-width="0.16" textLength="12.42" lengthAdjust="spacingAndGlyphs">120</text>
<line x1="158" y1="170.45" x2="160" y2="170.45" stroke="#111" stroke-width="0.9"/>
<text x="157.4" y="173.34" font-size="8.03" text-anchor="end" fill="#2a2a2a" stroke="#2a2a2a" stroke-width="0.16" textLength="12.42" lengthAdjust="spacingAndGlyphs">140</text>
<line x1="158" y1="161.8" x2="160" y2="161.8" stroke="#111" stroke-width="0.9"/>
<text x="157.4" y="164.69" font-size="8.03" text-anchor="end" fill="#2a2a2a" stroke="#2a2a2a" stroke-width="0.16" textLength="12.42" lengthAdjust="spacingAndGlyphs">160</text>
<rect x="163.6" y="173" width="14.4" height="58" fill="#0202ee" stroke="#10104a" stroke-width="0.7"/>
<line x1="170.8" y1="169" x2="170.8" y2="173" stroke="#111" stroke-width="0.9"/>
<line x1="167.8" y1="169" x2="173.8" y2="169" stroke="#111" stroke-width="0.9"/>
<circle cx="169.91" cy="170.67" r="0.95" fill="#111"/>
<circle cx="172.55" cy="175.69" r="0.95" fill="#111"/>
<circle cx="169.21" cy="171.32" r="0.95" fill="#111"/>
<circle cx="171.19" cy="171.13" r="0.95" fill="#111"/>
<rect x="184" y="184.6" width="14.4" height="46.4" fill="#de0202" stroke="#3a0000" stroke-width="0.7"/>
<line x1="191.2" y1="183.5" x2="191.2" y2="184.6" stroke="#111" stroke-width="0.9"/>
<line x1="188.2" y1="183.5" x2="194.2" y2="183.5" stroke="#111" stroke-width="0.9"/>
<circle cx="193.54" cy="184.88" r="0.95" fill="#111"/>
<circle cx="194.57" cy="184.43" r="0.95" fill="#111"/>
<circle cx="193.68" cy="183.43" r="0.95" fill="#111"/>
<circle cx="188.48" cy="183.89" r="0.95" fill="#111"/>
<text x="191" y="172.88" font-size="14" text-anchor="middle" fill="#111" font-weight="bold">*</text>
<line x1="216" y1="161.3" x2="216" y2="231.5" stroke="#111" stroke-width="1.25"/>
<line x1="215.5" y1="231" x2="256" y2="231" stroke="#111" stroke-width="1.25"/>
<line x1="214" y1="231" x2="216" y2="231" stroke="#111" stroke-width="0.9"/>
<text x="213.4" y="233.89" font-size="8.03" text-anchor="end" fill="#2a2a2a" stroke="#2a2a2a" stroke-width="0.16" textLength="4.14" lengthAdjust="spacingAndGlyphs">0</text>
<line x1="214" y1="213.7" x2="216" y2="213.7" stroke="#111" stroke-width="0.9"/>
<text x="213.4" y="216.59" font-size="8.03" text-anchor="end" fill="#2a2a2a" stroke="#2a2a2a" stroke-width="0.16" textLength="4.14" lengthAdjust="spacingAndGlyphs">2</text>
<line x1="214" y1="196.4" x2="216" y2="196.4" stroke="#111" stroke-width="0.9"/>
<text x="213.4" y="199.29" font-size="8.03" text-anchor="end" fill="#2a2a2a" stroke="#2a2a2a" stroke-width="0.16" textLength="4.14" lengthAdjust="spacingAndGlyphs">4</text>
<line x1="214" y1="179.1" x2="216" y2="179.1" stroke="#111" stroke-width="0.9"/>
<text x="213.4" y="181.99" font-size="8.03" text-anchor="end" fill="#2a2a2a" stroke="#2a2a2a" stroke-width="0.16" textLength="4.14" lengthAdjust="spacingAndGlyphs">6</text>
<line x1="214" y1="161.8" x2="216" y2="161.8" stroke="#111" stroke-width="0.9"/>
<text x="213.4" y="164.69" font-size="8.03" text-anchor="end" fill="#2a2a2a" stroke="#2a2a2a" stroke-width="0.16" textLength="4.14" lengthAdjust="spacingAndGlyphs">8</text>
<rect x="219.4" y="180.6" width="14.2" height="50.4" fill="#0202ee" stroke="#10104a" stroke-width="0.7"/>
<line x1="226.5" y1="171.5" x2="226.5" y2="180.6" stroke="#111" stroke-width="0.9"/>
<line x1="223.5" y1="171.5" x2="229.5" y2="171.5" stroke="#111" stroke-width="0.9"/>
<circle cx="229.16" cy="180.9" r="0.95" fill="#111"/>
<circle cx="227.93" cy="178" r="0.95" fill="#111"/>
<circle cx="225.15" cy="180.17" r="0.95" fill="#111"/>
<circle cx="229.6" cy="180.41" r="0.95" fill="#111"/>
<rect x="240" y="191.4" width="14" height="39.6" fill="#de0202" stroke="#3a0000" stroke-width="0.7"/>
<line x1="247" y1="187.5" x2="247" y2="191.4" stroke="#111" stroke-width="0.9"/>
<line x1="244" y1="187.5" x2="250" y2="187.5" stroke="#111" stroke-width="0.9"/>
<circle cx="249.56" cy="193.41" r="0.95" fill="#111"/>
<circle cx="245.27" cy="189.26" r="0.95" fill="#111"/>
<circle cx="249.02" cy="192.68" r="0.95" fill="#111"/>
<circle cx="243.79" cy="194.56" r="0.95" fill="#111"/>
<text x="247" y="178.48" font-size="14" text-anchor="middle" fill="#111" font-weight="bold">**</text>
<line x1="276.4" y1="161.3" x2="276.4" y2="231.5" stroke="#111" stroke-width="1.25"/>
<line x1="275.9" y1="231" x2="316" y2="231" stroke="#111" stroke-width="1.25"/>
<line x1="274.4" y1="231" x2="276.4" y2="231" stroke="#111" stroke-width="0.9"/>
<text x="273.8" y="233.89" font-size="8.03" text-anchor="end" fill="#2a2a2a" stroke="#2a2a2a" stroke-width="0.16" textLength="4.14" lengthAdjust="spacingAndGlyphs">0</text>
<line x1="274.4" y1="217.16" x2="276.4" y2="217.16" stroke="#111" stroke-width="0.9"/>
<text x="273.8" y="220.05" font-size="8.03" text-anchor="end" fill="#2a2a2a" stroke="#2a2a2a" stroke-width="0.16" textLength="4.14" lengthAdjust="spacingAndGlyphs">2</text>
<line x1="274.4" y1="203.32" x2="276.4" y2="203.32" stroke="#111" stroke-width="0.9"/>
<text x="273.8" y="206.21" font-size="8.03" text-anchor="end" fill="#2a2a2a" stroke="#2a2a2a" stroke-width="0.16" textLength="4.14" lengthAdjust="spacingAndGlyphs">4</text>
<line x1="274.4" y1="189.48" x2="276.4" y2="189.48" stroke="#111" stroke-width="0.9"/>
<text x="273.8" y="192.37" font-size="8.03" text-anchor="end" fill="#2a2a2a" stroke="#2a2a2a" stroke-width="0.16" textLength="4.14" lengthAdjust="spacingAndGlyphs">6</text>
<line x1="274.4" y1="175.64" x2="276.4" y2="175.64" stroke="#111" stroke-width="0.9"/>
<text x="273.8" y="178.53" font-size="8.03" text-anchor="end" fill="#2a2a2a" stroke="#2a2a2a" stroke-width="0.16" textLength="4.14" lengthAdjust="spacingAndGlyphs">8</text>
<line x1="274.4" y1="161.8" x2="276.4" y2="161.8" stroke="#111" stroke-width="0.9"/>
<text x="273.8" y="164.69" font-size="8.03" text-anchor="end" fill="#2a2a2a" stroke="#2a2a2a" stroke-width="0.16" textLength="8.28" lengthAdjust="spacingAndGlyphs">10</text>
<rect x="278.6" y="175.4" width="14" height="55.6" fill="#0202ee" stroke="#10104a" stroke-width="0.7"/>
<line x1="285.6" y1="171.5" x2="285.6" y2="175.4" stroke="#111" stroke-width="0.9"/>
<line x1="282.6" y1="171.5" x2="288.6" y2="171.5" stroke="#111" stroke-width="0.9"/>
<circle cx="286.01" cy="173.49" r="0.95" fill="#111"/>
<circle cx="283.02" cy="173.34" r="0.95" fill="#111"/>
<circle cx="288.45" cy="178.91" r="0.95" fill="#111"/>
<circle cx="283.64" cy="173.86" r="0.95" fill="#111"/>
<rect x="299.4" y="188" width="14.2" height="43" fill="#de0202" stroke="#3a0000" stroke-width="0.7"/>
<line x1="306.5" y1="176.5" x2="306.5" y2="188" stroke="#111" stroke-width="0.9"/>
<line x1="303.5" y1="176.5" x2="309.5" y2="176.5" stroke="#111" stroke-width="0.9"/>
<circle cx="306.46" cy="186.9" r="0.95" fill="#111"/>
<circle cx="309.85" cy="189.46" r="0.95" fill="#111"/>
<circle cx="308.85" cy="186.57" r="0.95" fill="#111"/>
<circle cx="309.23" cy="189.87" r="0.95" fill="#111"/>
<text x="306" y="165.88" font-size="14" text-anchor="middle" fill="#111" font-weight="bold">**</text>
<line x1="42" y1="248" x2="42" y2="318.5" stroke="#111" stroke-width="1.25"/>
<line x1="41.5" y1="318" x2="84" y2="318" stroke="#111" stroke-width="1.25"/>
<line x1="40" y1="318" x2="42" y2="318" stroke="#111" stroke-width="0.9"/>
<text x="39.4" y="320.89" font-size="8.03" text-anchor="end" fill="#2a2a2a" stroke="#2a2a2a" stroke-width="0.16" textLength="4.14" lengthAdjust="spacingAndGlyphs">0</text>
<line x1="40" y1="310.28" x2="42" y2="310.28" stroke="#111" stroke-width="0.9"/>
<text x="39.4" y="313.17" font-size="8.03" text-anchor="end" fill="#2a2a2a" stroke="#2a2a2a" stroke-width="0.16" textLength="4.14" lengthAdjust="spacingAndGlyphs">5</text>
<line x1="40" y1="302.56" x2="42" y2="302.56" stroke="#111" stroke-width="0.9"/>
<text x="39.4" y="305.45" font-size="8.03" text-anchor="end" fill="#2a2a2a" stroke="#2a2a2a" stroke-width="0.16" textLength="8.28" lengthAdjust="spacingAndGlyphs">10</text>
<line x1="40" y1="294.83" x2="42" y2="294.83" stroke="#111" stroke-width="0.9"/>
<text x="39.4" y="297.72" font-size="8.03" text-anchor="end" fill="#2a2a2a" stroke="#2a2a2a" stroke-width="0.16" textLength="8.28" lengthAdjust="spacingAndGlyphs">15</text>
<line x1="40" y1="287.11" x2="42" y2="287.11" stroke="#111" stroke-width="0.9"/>
<text x="39.4" y="290" font-size="8.03" text-anchor="end" fill="#2a2a2a" stroke="#2a2a2a" stroke-width="0.16" textLength="8.28" lengthAdjust="spacingAndGlyphs">20</text>
<line x1="40" y1="279.39" x2="42" y2="279.39" stroke="#111" stroke-width="0.9"/>
<text x="39.4" y="282.28" font-size="8.03" text-anchor="end" fill="#2a2a2a" stroke="#2a2a2a" stroke-width="0.16" textLength="8.28" lengthAdjust="spacingAndGlyphs">25</text>
<line x1="40" y1="271.67" x2="42" y2="271.67" stroke="#111" stroke-width="0.9"/>
<text x="39.4" y="274.56" font-size="8.03" text-anchor="end" fill="#2a2a2a" stroke="#2a2a2a" stroke-width="0.16" textLength="8.28" lengthAdjust="spacingAndGlyphs">30</text>
<line x1="40" y1="263.94" x2="42" y2="263.94" stroke="#111" stroke-width="0.9"/>
<text x="39.4" y="266.84" font-size="8.03" text-anchor="end" fill="#2a2a2a" stroke="#2a2a2a" stroke-width="0.16" textLength="8.28" lengthAdjust="spacingAndGlyphs">35</text>
<line x1="40" y1="256.22" x2="42" y2="256.22" stroke="#111" stroke-width="0.9"/>
<text x="39.4" y="259.11" font-size="8.03" text-anchor="end" fill="#2a2a2a" stroke="#2a2a2a" stroke-width="0.16" textLength="8.28" lengthAdjust="spacingAndGlyphs">40</text>
<line x1="40" y1="248.5" x2="42" y2="248.5" stroke="#111" stroke-width="0.9"/>
<text x="39.4" y="251.39" font-size="8.03" text-anchor="end" fill="#2a2a2a" stroke="#2a2a2a" stroke-width="0.16" textLength="8.28" lengthAdjust="spacingAndGlyphs">45</text>
<rect x="44.4" y="256" width="15.6" height="62" fill="#0202ee" stroke="#10104a" stroke-width="0.7"/>
<line x1="52.2" y1="251.5" x2="52.2" y2="256" stroke="#111" stroke-width="0.9"/>
<line x1="49.2" y1="251.5" x2="55.2" y2="251.5" stroke="#111" stroke-width="0.9"/>
<circle cx="53.49" cy="253.37" r="0.95" fill="#111"/>
<circle cx="49.94" cy="258.49" r="0.95" fill="#111"/>
<circle cx="51.91" cy="257.74" r="0.95" fill="#111"/>
<circle cx="53.71" cy="253.49" r="0.95" fill="#111"/>
<rect x="67.4" y="278" width="13.6" height="40" fill="#de0202" stroke="#3a0000" stroke-width="0.7"/>
<line x1="74.2" y1="274" x2="74.2" y2="278" stroke="#111" stroke-width="0.9"/>
<line x1="71.2" y1="274" x2="77.2" y2="274" stroke="#111" stroke-width="0.9"/>
<circle cx="71.34" cy="275.84" r="0.95" fill="#111"/>
<circle cx="71.45" cy="276.49" r="0.95" fill="#111"/>
<circle cx="75.02" cy="275.04" r="0.95" fill="#111"/>
<circle cx="77.38" cy="279.99" r="0.95" fill="#111"/>
<text x="74" y="265.88" font-size="14" text-anchor="middle" fill="#111" font-weight="bold">*</text>
<line x1="101" y1="248" x2="101" y2="318.5" stroke="#111" stroke-width="1.25"/>
<line x1="100.5" y1="318" x2="142" y2="318" stroke="#111" stroke-width="1.25"/>
<line x1="99" y1="318" x2="101" y2="318" stroke="#111" stroke-width="0.9"/>
<text x="98.4" y="320.89" font-size="8.03" text-anchor="end" fill="#2a2a2a" stroke="#2a2a2a" stroke-width="0.16" textLength="4.14" lengthAdjust="spacingAndGlyphs">0</text>
<line x1="99" y1="306.42" x2="101" y2="306.42" stroke="#111" stroke-width="0.9"/>
<text x="98.4" y="309.31" font-size="8.03" text-anchor="end" fill="#2a2a2a" stroke="#2a2a2a" stroke-width="0.16" textLength="8.28" lengthAdjust="spacingAndGlyphs">20</text>
<line x1="99" y1="294.83" x2="101" y2="294.83" stroke="#111" stroke-width="0.9"/>
<text x="98.4" y="297.72" font-size="8.03" text-anchor="end" fill="#2a2a2a" stroke="#2a2a2a" stroke-width="0.16" textLength="8.28" lengthAdjust="spacingAndGlyphs">40</text>
<line x1="99" y1="283.25" x2="101" y2="283.25" stroke="#111" stroke-width="0.9"/>
<text x="98.4" y="286.14" font-size="8.03" text-anchor="end" fill="#2a2a2a" stroke="#2a2a2a" stroke-width="0.16" textLength="8.28" lengthAdjust="spacingAndGlyphs">60</text>
<line x1="99" y1="271.67" x2="101" y2="271.67" stroke="#111" stroke-width="0.9"/>
<text x="98.4" y="274.56" font-size="8.03" text-anchor="end" fill="#2a2a2a" stroke="#2a2a2a" stroke-width="0.16" textLength="8.28" lengthAdjust="spacingAndGlyphs">80</text>
<line x1="99" y1="260.08" x2="101" y2="260.08" stroke="#111" stroke-width="0.9"/>
<text x="98.4" y="262.97" font-size="8.03" text-anchor="end" fill="#2a2a2a" stroke="#2a2a2a" stroke-width="0.16" textLength="12.42" lengthAdjust="spacingAndGlyphs">100</text>
<line x1="99" y1="248.5" x2="101" y2="248.5" stroke="#111" stroke-width="0.9"/>
<text x="98.4" y="251.39" font-size="8.03" text-anchor="end" fill="#2a2a2a" stroke="#2a2a2a" stroke-width="0.16" textLength="12.42" lengthAdjust="spacingAndGlyphs">120</text>
<rect x="105.6" y="258" width="14" height="60" fill="#0202ee" stroke="#10104a" stroke-width="0.7"/>
<line x1="112.6" y1="252.5" x2="112.6" y2="258" stroke="#111" stroke-width="0.9"/>
<line x1="109.6" y1="252.5" x2="115.6" y2="252.5" stroke="#111" stroke-width="0.9"/>
<circle cx="112.57" cy="257.69" r="0.95" fill="#111"/>
<circle cx="110.12" cy="260.42" r="0.95" fill="#111"/>
<circle cx="113.57" cy="260.87" r="0.95" fill="#111"/>
<circle cx="110.94" cy="255.38" r="0.95" fill="#111"/>
<rect x="126" y="278" width="14.4" height="40" fill="#de0202" stroke="#3a0000" stroke-width="0.7"/>
<line x1="133.2" y1="272" x2="133.2" y2="278" stroke="#111" stroke-width="0.9"/>
<line x1="130.2" y1="272" x2="136.2" y2="272" stroke="#111" stroke-width="0.9"/>
<circle cx="132.81" cy="278.36" r="0.95" fill="#111"/>
<circle cx="135.88" cy="275.27" r="0.95" fill="#111"/>
<circle cx="130.74" cy="276.32" r="0.95" fill="#111"/>
<circle cx="136.41" cy="276.77" r="0.95" fill="#111"/>
<text x="133" y="263.88" font-size="14" text-anchor="middle" fill="#111" font-weight="bold">*</text>
<line x1="160" y1="248" x2="160" y2="318.5" stroke="#111" stroke-width="1.25"/>
<line x1="159.5" y1="318" x2="200" y2="318" stroke="#111" stroke-width="1.25"/>
<line x1="158" y1="318" x2="160" y2="318" stroke="#111" stroke-width="0.9"/>
<text x="157.4" y="320.89" font-size="8.03" text-anchor="end" fill="#2a2a2a" stroke="#2a2a2a" stroke-width="0.16" textLength="4.14" lengthAdjust="spacingAndGlyphs">0</text>
<line x1="158" y1="311.05" x2="160" y2="311.05" stroke="#111" stroke-width="0.9"/>
<text x="157.4" y="313.94" font-size="8.03" text-anchor="end" fill="#2a2a2a" stroke="#2a2a2a" stroke-width="0.16" textLength="8.28" lengthAdjust="spacingAndGlyphs">20</text>
<line x1="158" y1="304.1" x2="160" y2="304.1" stroke="#111" stroke-width="0.9"/>
<text x="157.4" y="306.99" font-size="8.03" text-anchor="end" fill="#2a2a2a" stroke="#2a2a2a" stroke-width="0.16" textLength="8.28" lengthAdjust="spacingAndGlyphs">40</text>
<line x1="158" y1="297.15" x2="160" y2="297.15" stroke="#111" stroke-width="0.9"/>
<text x="157.4" y="300.04" font-size="8.03" text-anchor="end" fill="#2a2a2a" stroke="#2a2a2a" stroke-width="0.16" textLength="8.28" lengthAdjust="spacingAndGlyphs">60</text>
<line x1="158" y1="290.2" x2="160" y2="290.2" stroke="#111" stroke-width="0.9"/>
<text x="157.4" y="293.09" font-size="8.03" text-anchor="end" fill="#2a2a2a" stroke="#2a2a2a" stroke-width="0.16" textLength="8.28" lengthAdjust="spacingAndGlyphs">80</text>
<line x1="158" y1="283.25" x2="160" y2="283.25" stroke="#111" stroke-width="0.9"/>
<text x="157.4" y="286.14" font-size="8.03" text-anchor="end" fill="#2a2a2a" stroke="#2a2a2a" stroke-width="0.16" textLength="12.42" lengthAdjust="spacingAndGlyphs">100</text>
<line x1="158" y1="276.3" x2="160" y2="276.3" stroke="#111" stroke-width="0.9"/>
<text x="157.4" y="279.19" font-size="8.03" text-anchor="end" fill="#2a2a2a" stroke="#2a2a2a" stroke-width="0.16" textLength="12.42" lengthAdjust="spacingAndGlyphs">120</text>
<line x1="158" y1="269.35" x2="160" y2="269.35" stroke="#111" stroke-width="0.9"/>
<text x="157.4" y="272.24" font-size="8.03" text-anchor="end" fill="#2a2a2a" stroke="#2a2a2a" stroke-width="0.16" textLength="12.42" lengthAdjust="spacingAndGlyphs">140</text>
<line x1="158" y1="262.4" x2="160" y2="262.4" stroke="#111" stroke-width="0.9"/>
<text x="157.4" y="265.29" font-size="8.03" text-anchor="end" fill="#2a2a2a" stroke="#2a2a2a" stroke-width="0.16" textLength="12.42" lengthAdjust="spacingAndGlyphs">160</text>
<line x1="158" y1="255.45" x2="160" y2="255.45" stroke="#111" stroke-width="0.9"/>
<text x="157.4" y="258.34" font-size="8.03" text-anchor="end" fill="#2a2a2a" stroke="#2a2a2a" stroke-width="0.16" textLength="12.42" lengthAdjust="spacingAndGlyphs">180</text>
<line x1="158" y1="248.5" x2="160" y2="248.5" stroke="#111" stroke-width="0.9"/>
<text x="157.4" y="251.39" font-size="8.03" text-anchor="end" fill="#2a2a2a" stroke="#2a2a2a" stroke-width="0.16" textLength="12.42" lengthAdjust="spacingAndGlyphs">200</text>
<rect x="164" y="262" width="14" height="56" fill="#0202ee" stroke="#10104a" stroke-width="0.7"/>
<line x1="171" y1="257.5" x2="171" y2="262" stroke="#111" stroke-width="0.9"/>
<line x1="168" y1="257.5" x2="174" y2="257.5" stroke="#111" stroke-width="0.9"/>
<circle cx="172.26" cy="261.87" r="0.95" fill="#111"/>
<circle cx="171.02" cy="260.58" r="0.95" fill="#111"/>
<circle cx="170.55" cy="259.8" r="0.95" fill="#111"/>
<circle cx="170.79" cy="263.95" r="0.95" fill="#111"/>
<rect x="184.4" y="284.4" width="14.2" height="33.6" fill="#de0202" stroke="#3a0000" stroke-width="0.7"/>
<line x1="191.5" y1="281" x2="191.5" y2="284.4" stroke="#111" stroke-width="0.9"/>
<line x1="188.5" y1="281" x2="194.5" y2="281" stroke="#111" stroke-width="0.9"/>
<circle cx="191.13" cy="283.64" r="0.95" fill="#111"/>
<circle cx="192.59" cy="283.18" r="0.95" fill="#111"/>
<circle cx="190.58" cy="284.36" r="0.95" fill="#111"/>
<circle cx="190.21" cy="283.86" r="0.95" fill="#111"/>
<text x="191" y="272.88" font-size="14" text-anchor="middle" fill="#111" font-weight="bold">*</text>
<line x1="217" y1="248" x2="217" y2="318.5" stroke="#111" stroke-width="1.25"/>
<line x1="216.5" y1="318" x2="256" y2="318" stroke="#111" stroke-width="1.25"/>
<line x1="215" y1="318" x2="217" y2="318" stroke="#111" stroke-width="0.9"/>
<text x="214.4" y="320.89" font-size="8.03" text-anchor="end" fill="#2a2a2a" stroke="#2a2a2a" stroke-width="0.16" textLength="4.14" lengthAdjust="spacingAndGlyphs">0</text>
<line x1="215" y1="300.62" x2="217" y2="300.62" stroke="#111" stroke-width="0.9"/>
<text x="214.4" y="303.52" font-size="8.03" text-anchor="end" fill="#2a2a2a" stroke="#2a2a2a" stroke-width="0.16" textLength="4.14" lengthAdjust="spacingAndGlyphs">2</text>
<line x1="215" y1="283.25" x2="217" y2="283.25" stroke="#111" stroke-width="0.9"/>
<text x="214.4" y="286.14" font-size="8.03" text-anchor="end" fill="#2a2a2a" stroke="#2a2a2a" stroke-width="0.16" textLength="4.14" lengthAdjust="spacingAndGlyphs">4</text>
<line x1="215" y1="265.88" x2="217" y2="265.88" stroke="#111" stroke-width="0.9"/>
<text x="214.4" y="268.77" font-size="8.03" text-anchor="end" fill="#2a2a2a" stroke="#2a2a2a" stroke-width="0.16" textLength="4.14" lengthAdjust="spacingAndGlyphs">6</text>
<line x1="215" y1="248.5" x2="217" y2="248.5" stroke="#111" stroke-width="0.9"/>
<text x="214.4" y="251.39" font-size="8.03" text-anchor="end" fill="#2a2a2a" stroke="#2a2a2a" stroke-width="0.16" textLength="4.14" lengthAdjust="spacingAndGlyphs">8</text>
<rect x="219.4" y="259.4" width="14.2" height="58.6" fill="#0202ee" stroke="#10104a" stroke-width="0.7"/>
<line x1="226.5" y1="253" x2="226.5" y2="259.4" stroke="#111" stroke-width="0.9"/>
<line x1="223.5" y1="253" x2="229.5" y2="253" stroke="#111" stroke-width="0.9"/>
<circle cx="225.39" cy="257.31" r="0.95" fill="#111"/>
<circle cx="229.25" cy="256.99" r="0.95" fill="#111"/>
<circle cx="227.43" cy="258.17" r="0.95" fill="#111"/>
<circle cx="228.76" cy="259.37" r="0.95" fill="#111"/>
<rect x="240" y="275" width="14" height="43" fill="#de0202" stroke="#3a0000" stroke-width="0.7"/>
<line x1="247" y1="275" x2="247" y2="275" stroke="#111" stroke-width="0.9"/>
<line x1="244" y1="275" x2="250" y2="275" stroke="#111" stroke-width="0.9"/>
<circle cx="249.43" cy="273.58" r="0.95" fill="#111"/>
<circle cx="247.63" cy="276.19" r="0.95" fill="#111"/>
<circle cx="250.35" cy="273.89" r="0.95" fill="#111"/>
<circle cx="245.4" cy="275.23" r="0.95" fill="#111"/>
<text x="246.4" y="265.88" font-size="14" text-anchor="middle" fill="#111" font-weight="bold">*</text>
<line x1="275.6" y1="248" x2="275.6" y2="318.5" stroke="#111" stroke-width="1.25"/>
<line x1="275.1" y1="318" x2="316" y2="318" stroke="#111" stroke-width="1.25"/>
<line x1="273.6" y1="318" x2="275.6" y2="318" stroke="#111" stroke-width="0.9"/>
<text x="273" y="320.89" font-size="8.03" text-anchor="end" fill="#2a2a2a" stroke="#2a2a2a" stroke-width="0.16" textLength="4.14" lengthAdjust="spacingAndGlyphs">0</text>
<line x1="273.6" y1="304.1" x2="275.6" y2="304.1" stroke="#111" stroke-width="0.9"/>
<text x="273" y="306.99" font-size="8.03" text-anchor="end" fill="#2a2a2a" stroke="#2a2a2a" stroke-width="0.16" textLength="4.14" lengthAdjust="spacingAndGlyphs">2</text>
<line x1="273.6" y1="290.2" x2="275.6" y2="290.2" stroke="#111" stroke-width="0.9"/>
<text x="273" y="293.09" font-size="8.03" text-anchor="end" fill="#2a2a2a" stroke="#2a2a2a" stroke-width="0.16" textLength="4.14" lengthAdjust="spacingAndGlyphs">4</text>
<line x1="273.6" y1="276.3" x2="275.6" y2="276.3" stroke="#111" stroke-width="0.9"/>
<text x="273" y="279.19" font-size="8.03" text-anchor="end" fill="#2a2a2a" stroke="#2a2a2a" stroke-width="0.16" textLength="4.14" lengthAdjust="spacingAndGlyphs">6</text>
<line x1="273.6" y1="262.4" x2="275.6" y2="262.4" stroke="#111" stroke-width="0.9"/>
<text x="273" y="265.29" font-size="8.03" text-anchor="end" fill="#2a2a2a" stroke="#2a2a2a" stroke-width="0.16" textLength="4.14" lengthAdjust="spacingAndGlyphs">8</text>
<line x1="273.6" y1="248.5" x2="275.6" y2="248.5" stroke="#111" stroke-width="0.9"/>
<text x="273" y="251.39" font-size="8.03" text-anchor="end" fill="#2a2a2a" stroke="#2a2a2a" stroke-width="0.16" textLength="8.28" lengthAdjust="spacingAndGlyphs">10</text>
<rect x="278.6" y="264" width="14" height="54" fill="#0202ee" stroke="#10104a" stroke-width="0.7"/>
<line x1="285.6" y1="258.5" x2="285.6" y2="264" stroke="#111" stroke-width="0.9"/>
<line x1="282.6" y1="258.5" x2="288.6" y2="258.5" stroke="#111" stroke-width="0.9"/>
<circle cx="286.08" cy="262.06" r="0.95" fill="#111"/>
<circle cx="288.16" cy="262.16" r="0.95" fill="#111"/>
<circle cx="285.81" cy="265.22" r="0.95" fill="#111"/>
<circle cx="286.95" cy="261.54" r="0.95" fill="#111"/>
<rect x="299.4" y="281.6" width="14.2" height="36.4" fill="#de0202" stroke="#3a0000" stroke-width="0.7"/>
<line x1="306.5" y1="275.5" x2="306.5" y2="281.6" stroke="#111" stroke-width="0.9"/>
<line x1="303.5" y1="275.5" x2="309.5" y2="275.5" stroke="#111" stroke-width="0.9"/>
<circle cx="309.34" cy="285.07" r="0.95" fill="#111"/>
<circle cx="303.73" cy="284.38" r="0.95" fill="#111"/>
<circle cx="306.76" cy="280.16" r="0.95" fill="#111"/>
<circle cx="306.28" cy="284.33" r="0.95" fill="#111"/>
<text x="306" y="267.88" font-size="14" text-anchor="middle" fill="#111" font-weight="bold">*</text>
<circle cx="52" cy="165.5" r="0.85" fill="#111"/>
<circle cx="49" cy="170" r="0.85" fill="#111"/>
<circle cx="55" cy="170" r="0.85" fill="#111"/>
<circle cx="72" cy="179" r="0.85" fill="#111"/>
<circle cx="76" cy="179" r="0.85" fill="#111"/>
<circle cx="74" cy="184" r="0.85" fill="#111"/>
<circle cx="111" cy="168" r="0.85" fill="#111"/>
<circle cx="108" cy="175" r="0.85" fill="#111"/>
<circle cx="133" cy="183" r="0.85" fill="#111"/>
<circle cx="136" cy="185" r="0.85" fill="#111"/>
<circle cx="170" cy="171" r="0.85" fill="#111"/>
<circle cx="173" cy="171" r="0.85" fill="#111"/>
<circle cx="190" cy="184" r="0.85" fill="#111"/>
<circle cx="194" cy="184" r="0.85" fill="#111"/>
<circle cx="196" cy="184.5" r="0.85" fill="#111"/>
<circle cx="225" cy="171.5" r="0.85" fill="#111"/>
<circle cx="229" cy="171.5" r="0.85" fill="#111"/>
<circle cx="227" cy="183" r="0.85" fill="#111"/>
<circle cx="245" cy="187" r="0.85" fill="#111"/>
<circle cx="249" cy="187" r="0.85" fill="#111"/>
<circle cx="245" cy="193" r="0.85" fill="#111"/>
<circle cx="249" cy="193" r="0.85" fill="#111"/>
<circle cx="285" cy="168" r="0.85" fill="#111"/>
<circle cx="284" cy="177" r="0.85" fill="#111"/>
<circle cx="306" cy="169" r="0.85" fill="#111"/>
<circle cx="304" cy="189" r="0.85" fill="#111"/>
<circle cx="308" cy="189" r="0.85" fill="#111"/>
<circle cx="306" cy="196" r="0.85" fill="#111"/>
<circle cx="57" cy="251" r="0.85" fill="#111"/>
<circle cx="49" cy="258" r="0.85" fill="#111"/>
<circle cx="75" cy="275" r="0.85" fill="#111"/>
<circle cx="70" cy="282" r="0.85" fill="#111"/>
<circle cx="111" cy="253" r="0.85" fill="#111"/>
<circle cx="108" cy="260" r="0.85" fill="#111"/>
<circle cx="111" cy="265" r="0.85" fill="#111"/>
<circle cx="132" cy="272" r="0.85" fill="#111"/>
<circle cx="130" cy="282" r="0.85" fill="#111"/>
<circle cx="171" cy="255" r="0.85" fill="#111"/>
<circle cx="191" cy="279" r="0.85" fill="#111"/>
<circle cx="188" cy="286" r="0.85" fill="#111"/>
<circle cx="194" cy="286" r="0.85" fill="#111"/>
<circle cx="226" cy="248.5" r="0.85" fill="#111"/>
<circle cx="225" cy="259" r="0.85" fill="#111"/>
<circle cx="229" cy="259" r="0.85" fill="#111"/>
<circle cx="244" cy="275" r="0.85" fill="#111"/>
<circle cx="247" cy="275" r="0.85" fill="#111"/>
<circle cx="250" cy="275" r="0.85" fill="#111"/>
<circle cx="286" cy="256" r="0.85" fill="#111"/>
<circle cx="284" cy="266" r="0.85" fill="#111"/>
<circle cx="288" cy="266" r="0.85" fill="#111"/>
<circle cx="303" cy="276" r="0.85" fill="#111"/>
<circle cx="308" cy="276" r="0.85" fill="#111"/>
<circle cx="306" cy="290" r="0.85" fill="#111"/>
<g transform="translate(10.01 193.9) rotate(-90)"><text x="-17.75" y="0" font-size="9.2" fill="#1a1a1a" stroke="#1a1a1a" stroke-width="0.18" textLength="17.88" lengthAdjust="spacingAndGlyphs">Tmx</text><text x="17.75" y="0" font-size="9.2" fill="#1a1a1a" stroke="#1a1a1a" stroke-width="0.18" text-anchor="end" textLength="10.23" lengthAdjust="spacingAndGlyphs">2d</text><path d="M1.24 -2.48H4.76" stroke="#1a1a1a" stroke-width="0.83"/><path d="M6.42 -2.48L3.66 -4.23L3.66 -0.74Z" fill="#1a1a1a"/></g>
<text x="20.25" y="194.4" font-size="9.3" text-anchor="middle" fill="#1a1a1a" stroke="#1a1a1a" stroke-width="0.19" transform="rotate(-90 20.25 194.4)" textLength="81.2" lengthAdjust="spacingAndGlyphs">Muscle weight (mg)</text>
<g transform="translate(10.01 282.3) rotate(-90)"><text x="-18.75" y="0" font-size="9.2" fill="#1a1a1a" stroke="#1a1a1a" stroke-width="0.18" textLength="17.88" lengthAdjust="spacingAndGlyphs">Tmx</text><text x="18.75" y="0" font-size="9.2" fill="#1a1a1a" stroke="#1a1a1a" stroke-width="0.18" text-anchor="end" textLength="11.76" lengthAdjust="spacingAndGlyphs">6w</text><path d="M0.24 -2.48H4.23" stroke="#1a1a1a" stroke-width="0.83"/><path d="M5.89 -2.48L3.13 -4.23L3.13 -0.74Z" fill="#1a1a1a"/></g>
<text x="20.25" y="282.5" font-size="9.3" text-anchor="middle" fill="#1a1a1a" stroke="#1a1a1a" stroke-width="0.19" transform="rotate(-90 20.25 282.5)" textLength="81.6" lengthAdjust="spacingAndGlyphs">Muscle weight (mg)</text>
<rect x="332.4" y="162" width="6.2" height="5.6" fill="#0202ee"/>
<rect x="332.4" y="175" width="6.2" height="5.6" fill="#de0202"/>
<text x="343.6" y="168" font-size="9.5" fill="#1a1a1a" stroke="#1a1a1a" stroke-width="0.19" font-style="italic" textLength="56.4" lengthAdjust="spacingAndGlyphs">WT/R26-DTA</text>
<text x="343.6" y="181" font-size="9.5" fill="#1a1a1a" stroke="#1a1a1a" stroke-width="0.19" font-style="italic" textLength="70" lengthAdjust="spacingAndGlyphs">Pα-CE/R26-DTA</text>
<text x="1.2" y="344" font-size="14.2" fill="#000" font-weight="bold">E</text>
<text x="130" y="343.46" font-size="9.6" text-anchor="middle" fill="#1a1a1a" stroke="#1a1a1a" stroke-width="0.19">TA</text>
<text x="375.8" y="344.06" font-size="9.6" text-anchor="middle" fill="#1a1a1a" stroke="#1a1a1a" stroke-width="0.19">RF</text>
<text x="105" y="359.35" font-size="9.9" fill="#1a1a1a" stroke="#1a1a1a" stroke-width="0.2" textLength="56" lengthAdjust="spacingAndGlyphs"><tspan font-style="italic">P</tspan> = 1.9 x 10<tspan font-size="5.74" dy="-3.56">-4</tspan></text>
<line x1="122.4" y1="362.4" x2="140" y2="362.4" stroke="#555" stroke-width="1.15"/>
<text x="369.1" y="358.75" font-size="9.9" fill="#1a1a1a" stroke="#1a1a1a" stroke-width="0.2" textLength="54.3" lengthAdjust="spacingAndGlyphs"><tspan font-style="italic">P</tspan> = 3.9 x 10<tspan font-size="5.74" dy="-3.56">-5</tspan></text>
<line x1="386.3" y1="362.1" x2="403.4" y2="362.1" stroke="#555" stroke-width="1.15"/>
<text x="105.3" y="461.75" font-size="9.9" fill="#1a1a1a" stroke="#1a1a1a" stroke-width="0.2" textLength="55.4" lengthAdjust="spacingAndGlyphs"><tspan font-style="italic">P</tspan> = 3.1 x 10<tspan font-size="5.74" dy="-3.56">-3</tspan></text>
<line x1="123" y1="465.5" x2="140" y2="465.5" stroke="#555" stroke-width="1.15"/>
<text x="369.1" y="462.35" font-size="9.9" fill="#1a1a1a" stroke="#1a1a1a" stroke-width="0.2" textLength="54.7" lengthAdjust="spacingAndGlyphs"><tspan font-style="italic">P</tspan> = 1.2 x 10<tspan font-size="5.74" dy="-3.56">-3</tspan></text>
<line x1="386.1" y1="465.5" x2="403.1" y2="465.5" stroke="#555" stroke-width="1.15"/>
<line x1="43.4" y1="366.7" x2="43.4" y2="440" stroke="#111" stroke-width="1.25"/>
<line x1="42.9" y1="439.5" x2="78" y2="439.5" stroke="#111" stroke-width="1.25"/>
<line x1="41.4" y1="439.5" x2="43.4" y2="439.5" stroke="#111" stroke-width="0.9"/>
<text x="41.2" y="442.51" font-size="8.36" text-anchor="end" fill="#2a2a2a" stroke="#2a2a2a" stroke-width="0.17" textLength="4.31" lengthAdjust="spacingAndGlyphs">0</text>
<line x1="41.4" y1="427.45" x2="43.4" y2="427.45" stroke="#111" stroke-width="0.9"/>
<text x="41.2" y="430.46" font-size="8.36" text-anchor="end" fill="#2a2a2a" stroke="#2a2a2a" stroke-width="0.17" textLength="12.93" lengthAdjust="spacingAndGlyphs">500</text>
<line x1="41.4" y1="415.4" x2="43.4" y2="415.4" stroke="#111" stroke-width="0.9"/>
<text x="41.2" y="418.41" font-size="8.36" text-anchor="end" fill="#2a2a2a" stroke="#2a2a2a" stroke-width="0.17" textLength="17.24" lengthAdjust="spacingAndGlyphs">1000</text>
<line x1="41.4" y1="403.35" x2="43.4" y2="403.35" stroke="#111" stroke-width="0.9"/>
<text x="41.2" y="406.36" font-size="8.36" text-anchor="end" fill="#2a2a2a" stroke="#2a2a2a" stroke-width="0.17" textLength="17.24" lengthAdjust="spacingAndGlyphs">1500</text>
<line x1="41.4" y1="391.3" x2="43.4" y2="391.3" stroke="#111" stroke-width="0.9"/>
<text x="41.2" y="394.31" font-size="8.36" text-anchor="end" fill="#2a2a2a" stroke="#2a2a2a" stroke-width="0.17" textLength="17.24" lengthAdjust="spacingAndGlyphs">2000</text>
<line x1="41.4" y1="379.25" x2="43.4" y2="379.25" stroke="#111" stroke-width="0.9"/>
<text x="41.2" y="382.26" font-size="8.36" text-anchor="end" fill="#2a2a2a" stroke="#2a2a2a" stroke-width="0.17" textLength="17.24" lengthAdjust="spacingAndGlyphs">2500</text>
<line x1="41.4" y1="367.2" x2="43.4" y2="367.2" stroke="#111" stroke-width="0.9"/>
<text x="41.2" y="370.21" font-size="8.36" text-anchor="end" fill="#2a2a2a" stroke="#2a2a2a" stroke-width="0.17" textLength="17.24" lengthAdjust="spacingAndGlyphs">3000</text>
<rect x="46.2" y="374.4" width="11.9" height="65.1" fill="#0202ee" stroke="#10104a" stroke-width="0.7"/>
<line x1="52.15" y1="372.6" x2="52.15" y2="374.4" stroke="#111" stroke-width="0.9"/>
<line x1="49.55" y1="372.6" x2="54.75" y2="372.6" stroke="#111" stroke-width="0.9"/>
<circle cx="51.84" cy="375.94" r="0.95" fill="#111"/>
<circle cx="51.42" cy="375.16" r="0.95" fill="#111"/>
<circle cx="52.33" cy="374.74" r="0.95" fill="#111"/>
<circle cx="49.38" cy="376.51" r="0.95" fill="#111"/>
<rect x="64" y="376" width="11.8" height="63.5" fill="#de0202" stroke="#3a0000" stroke-width="0.7"/>
<line x1="69.9" y1="373.1" x2="69.9" y2="376" stroke="#111" stroke-width="0.9"/>
<line x1="67.3" y1="373.1" x2="72.5" y2="373.1" stroke="#111" stroke-width="0.9"/>
<circle cx="69.61" cy="378.9" r="0.95" fill="#111"/>
<circle cx="67.47" cy="375.38" r="0.95" fill="#111"/>
<circle cx="68.96" cy="379.26" r="0.95" fill="#111"/>
<circle cx="70.5" cy="374.3" r="0.95" fill="#111"/>
<line x1="113.4" y1="366.7" x2="113.4" y2="440" stroke="#111" stroke-width="1.25"/>
<line x1="112.9" y1="439.5" x2="148" y2="439.5" stroke="#111" stroke-width="1.25"/>
<line x1="111.4" y1="439.5" x2="113.4" y2="439.5" stroke="#111" stroke-width="0.9"/>
<text x="111.2" y="442.51" font-size="8.36" text-anchor="end" fill="#2a2a2a" stroke="#2a2a2a" stroke-width="0.17" textLength="4.31" lengthAdjust="spacingAndGlyphs">0</text>
<line x1="111.4" y1="415.4" x2="113.4" y2="415.4" stroke="#111" stroke-width="0.9"/>
<text x="111.2" y="418.41" font-size="8.36" text-anchor="end" fill="#2a2a2a" stroke="#2a2a2a" stroke-width="0.17" textLength="12.93" lengthAdjust="spacingAndGlyphs">500</text>
<line x1="111.4" y1="391.3" x2="113.4" y2="391.3" stroke="#111" stroke-width="0.9"/>
<text x="111.2" y="394.31" font-size="8.36" text-anchor="end" fill="#2a2a2a" stroke="#2a2a2a" stroke-width="0.17" textLength="17.24" lengthAdjust="spacingAndGlyphs">1000</text>
<line x1="111.4" y1="367.2" x2="113.4" y2="367.2" stroke="#111" stroke-width="0.9"/>
<text x="111.2" y="370.21" font-size="8.36" text-anchor="end" fill="#2a2a2a" stroke="#2a2a2a" stroke-width="0.17" textLength="17.24" lengthAdjust="spacingAndGlyphs">1500</text>
<rect x="116.4" y="377.4" width="12.2" height="62.1" fill="#0202ee" stroke="#10104a" stroke-width="0.7"/>
<line x1="122.5" y1="370.5" x2="122.5" y2="377.4" stroke="#111" stroke-width="0.9"/>
<line x1="119.9" y1="370.5" x2="125.1" y2="370.5" stroke="#111" stroke-width="0.9"/>
<circle cx="122.09" cy="379.26" r="0.95" fill="#111"/>
<circle cx="121.3" cy="378.23" r="0.95" fill="#111"/>
<circle cx="121.2" cy="380.11" r="0.95" fill="#111"/>
<circle cx="122.8" cy="377.36" r="0.95" fill="#111"/>
<rect x="134" y="398.2" width="12" height="41.3" fill="#de0202" stroke="#3a0000" stroke-width="0.7"/>
<line x1="140" y1="393.5" x2="140" y2="398.2" stroke="#111" stroke-width="0.9"/>
<line x1="137.4" y1="393.5" x2="142.6" y2="393.5" stroke="#111" stroke-width="0.9"/>
<circle cx="139.66" cy="401.57" r="0.95" fill="#111"/>
<circle cx="136.57" cy="397.49" r="0.95" fill="#111"/>
<circle cx="138.95" cy="401.09" r="0.95" fill="#111"/>
<circle cx="136.7" cy="396.66" r="0.95" fill="#111"/>
<line x1="304" y1="367.5" x2="304" y2="440" stroke="#111" stroke-width="1.25"/>
<line x1="303.5" y1="439.5" x2="338.6" y2="439.5" stroke="#111" stroke-width="1.25"/>
<line x1="302" y1="439.5" x2="304" y2="439.5" stroke="#111" stroke-width="0.9"/>
<text x="301.8" y="442.43" font-size="8.14" text-anchor="end" fill="#2a2a2a" stroke="#2a2a2a" stroke-width="0.16" textLength="4.2" lengthAdjust="spacingAndGlyphs">0</text>
<line x1="302" y1="430.56" x2="304" y2="430.56" stroke="#111" stroke-width="0.9"/>
<text x="301.8" y="433.49" font-size="8.14" text-anchor="end" fill="#2a2a2a" stroke="#2a2a2a" stroke-width="0.16" textLength="12.59" lengthAdjust="spacingAndGlyphs">500</text>
<line x1="302" y1="421.62" x2="304" y2="421.62" stroke="#111" stroke-width="0.9"/>
<text x="301.8" y="424.56" font-size="8.14" text-anchor="end" fill="#2a2a2a" stroke="#2a2a2a" stroke-width="0.16" textLength="16.79" lengthAdjust="spacingAndGlyphs">1000</text>
<line x1="302" y1="412.69" x2="304" y2="412.69" stroke="#111" stroke-width="0.9"/>
<text x="301.8" y="415.62" font-size="8.14" text-anchor="end" fill="#2a2a2a" stroke="#2a2a2a" stroke-width="0.16" textLength="16.79" lengthAdjust="spacingAndGlyphs">1500</text>
<line x1="302" y1="403.75" x2="304" y2="403.75" stroke="#111" stroke-width="0.9"/>
<text x="301.8" y="406.68" font-size="8.14" text-anchor="end" fill="#2a2a2a" stroke="#2a2a2a" stroke-width="0.16" textLength="16.79" lengthAdjust="spacingAndGlyphs">2000</text>
<line x1="302" y1="394.81" x2="304" y2="394.81" stroke="#111" stroke-width="0.9"/>
<text x="301.8" y="397.74" font-size="8.14" text-anchor="end" fill="#2a2a2a" stroke="#2a2a2a" stroke-width="0.16" textLength="16.79" lengthAdjust="spacingAndGlyphs">2500</text>
<line x1="302" y1="385.88" x2="304" y2="385.88" stroke="#111" stroke-width="0.9"/>
<text x="301.8" y="388.81" font-size="8.14" text-anchor="end" fill="#2a2a2a" stroke="#2a2a2a" stroke-width="0.16" textLength="16.79" lengthAdjust="spacingAndGlyphs">3000</text>
<line x1="302" y1="376.94" x2="304" y2="376.94" stroke="#111" stroke-width="0.9"/>
<text x="301.8" y="379.87" font-size="8.14" text-anchor="end" fill="#2a2a2a" stroke="#2a2a2a" stroke-width="0.16" textLength="16.79" lengthAdjust="spacingAndGlyphs">3500</text>
<line x1="302" y1="368" x2="304" y2="368" stroke="#111" stroke-width="0.9"/>
<text x="301.8" y="370.93" font-size="8.14" text-anchor="end" fill="#2a2a2a" stroke="#2a2a2a" stroke-width="0.16" textLength="16.79" lengthAdjust="spacingAndGlyphs">4000</text>
<rect x="307.4" y="377.4" width="11.6" height="62.1" fill="#0202ee" stroke="#10104a" stroke-width="0.7"/>
<line x1="313.2" y1="374.5" x2="313.2" y2="377.4" stroke="#111" stroke-width="0.9"/>
<line x1="310.6" y1="374.5" x2="315.8" y2="374.5" stroke="#111" stroke-width="0.9"/>
<circle cx="315.56" cy="379.74" r="0.95" fill="#111"/>
<circle cx="315.85" cy="380.8" r="0.95" fill="#111"/>
<circle cx="312.67" cy="375.99" r="0.95" fill="#111"/>
<circle cx="315.46" cy="375.22" r="0.95" fill="#111"/>
<rect x="325" y="378.6" width="11.6" height="60.9" fill="#de0202" stroke="#3a0000" stroke-width="0.7"/>
<line x1="330.8" y1="373.5" x2="330.8" y2="378.6" stroke="#111" stroke-width="0.9"/>
<line x1="328.2" y1="373.5" x2="333.4" y2="373.5" stroke="#111" stroke-width="0.9"/>
<circle cx="333.52" cy="381" r="0.95" fill="#111"/>
<circle cx="329.41" cy="378.79" r="0.95" fill="#111"/>
<circle cx="333.36" cy="377.67" r="0.95" fill="#111"/>
<circle cx="333.04" cy="382" r="0.95" fill="#111"/>
<line x1="376.6" y1="367.5" x2="376.6" y2="440" stroke="#111" stroke-width="1.25"/>
<line x1="376.1" y1="439.5" x2="411.4" y2="439.5" stroke="#111" stroke-width="1.25"/>
<line x1="374.6" y1="439.5" x2="376.6" y2="439.5" stroke="#111" stroke-width="0.9"/>
<text x="374.4" y="442.43" font-size="8.14" text-anchor="end" fill="#2a2a2a" stroke="#2a2a2a" stroke-width="0.16" textLength="4.2" lengthAdjust="spacingAndGlyphs">0</text>
<line x1="374.6" y1="430.56" x2="376.6" y2="430.56" stroke="#111" stroke-width="0.9"/>
<text x="374.4" y="433.49" font-size="8.14" text-anchor="end" fill="#2a2a2a" stroke="#2a2a2a" stroke-width="0.16" textLength="12.59" lengthAdjust="spacingAndGlyphs">200</text>
<line x1="374.6" y1="421.62" x2="376.6" y2="421.62" stroke="#111" stroke-width="0.9"/>
<text x="374.4" y="424.56" font-size="8.14" text-anchor="end" fill="#2a2a2a" stroke="#2a2a2a" stroke-width="0.16" textLength="12.59" lengthAdjust="spacingAndGlyphs">400</text>
<line x1="374.6" y1="412.69" x2="376.6" y2="412.69" stroke="#111" stroke-width="0.9"/>
<text x="374.4" y="415.62" font-size="8.14" text-anchor="end" fill="#2a2a2a" stroke="#2a2a2a" stroke-width="0.16" textLength="12.59" lengthAdjust="spacingAndGlyphs">600</text>
<line x1="374.6" y1="403.75" x2="376.6" y2="403.75" stroke="#111" stroke-width="0.9"/>
<text x="374.4" y="406.68" font-size="8.14" text-anchor="end" fill="#2a2a2a" stroke="#2a2a2a" stroke-width="0.16" textLength="12.59" lengthAdjust="spacingAndGlyphs">800</text>
<line x1="374.6" y1="394.81" x2="376.6" y2="394.81" stroke="#111" stroke-width="0.9"/>
<text x="374.4" y="397.74" font-size="8.14" text-anchor="end" fill="#2a2a2a" stroke="#2a2a2a" stroke-width="0.16" textLength="16.79" lengthAdjust="spacingAndGlyphs">1000</text>
<line x1="374.6" y1="385.88" x2="376.6" y2="385.88" stroke="#111" stroke-width="0.9"/>
<text x="374.4" y="388.81" font-size="8.14" text-anchor="end" fill="#2a2a2a" stroke="#2a2a2a" stroke-width="0.16" textLength="16.79" lengthAdjust="spacingAndGlyphs">1200</text>
<line x1="374.6" y1="376.94" x2="376.6" y2="376.94" stroke="#111" stroke-width="0.9"/>
<text x="374.4" y="379.87" font-size="8.14" text-anchor="end" fill="#2a2a2a" stroke="#2a2a2a" stroke-width="0.16" textLength="16.79" lengthAdjust="spacingAndGlyphs">1400</text>
<line x1="374.6" y1="368" x2="376.6" y2="368" stroke="#111" stroke-width="0.9"/>
<text x="374.4" y="370.93" font-size="8.14" text-anchor="end" fill="#2a2a2a" stroke="#2a2a2a" stroke-width="0.16" textLength="16.79" lengthAdjust="spacingAndGlyphs">1600</text>
<rect x="380" y="375" width="12" height="64.5" fill="#0202ee" stroke="#10104a" stroke-width="0.7"/>
<line x1="386" y1="372" x2="386" y2="375" stroke="#111" stroke-width="0.9"/>
<line x1="383.4" y1="372" x2="388.6" y2="372" stroke="#111" stroke-width="0.9"/>
<circle cx="385.68" cy="376.95" r="0.95" fill="#111"/>
<circle cx="387.31" cy="377.73" r="0.95" fill="#111"/>
<circle cx="389.46" cy="377.59" r="0.95" fill="#111"/>
<circle cx="388.97" cy="376.47" r="0.95" fill="#111"/>
<rect x="397.1" y="389.6" width="12" height="49.9" fill="#de0202" stroke="#3a0000" stroke-width="0.7"/>
<line x1="403.1" y1="385.5" x2="403.1" y2="389.6" stroke="#111" stroke-width="0.9"/>
<line x1="400.5" y1="385.5" x2="405.7" y2="385.5" stroke="#111" stroke-width="0.9"/>
<circle cx="404.37" cy="389.3" r="0.95" fill="#111"/>
<circle cx="406.03" cy="389.95" r="0.95" fill="#111"/>
<circle cx="406.45" cy="393.02" r="0.95" fill="#111"/>
<circle cx="405.26" cy="388.95" r="0.95" fill="#111"/>
<line x1="43.4" y1="468.9" x2="43.4" y2="542.3" stroke="#111" stroke-width="1.25"/>
<line x1="42.9" y1="541.8" x2="78" y2="541.8" stroke="#111" stroke-width="1.25"/>
<line x1="41.4" y1="541.8" x2="43.4" y2="541.8" stroke="#111" stroke-width="0.9"/>
<text x="41.2" y="544.81" font-size="8.36" text-anchor="end" fill="#2a2a2a" stroke="#2a2a2a" stroke-width="0.17" textLength="4.31" lengthAdjust="spacingAndGlyphs">0</text>
<line x1="41.4" y1="531.46" x2="43.4" y2="531.46" stroke="#111" stroke-width="0.9"/>
<text x="41.2" y="534.47" font-size="8.36" text-anchor="end" fill="#2a2a2a" stroke="#2a2a2a" stroke-width="0.17" textLength="12.93" lengthAdjust="spacingAndGlyphs">500</text>
<line x1="41.4" y1="521.11" x2="43.4" y2="521.11" stroke="#111" stroke-width="0.9"/>
<text x="41.2" y="524.12" font-size="8.36" text-anchor="end" fill="#2a2a2a" stroke="#2a2a2a" stroke-width="0.17" textLength="17.24" lengthAdjust="spacingAndGlyphs">1000</text>
<line x1="41.4" y1="510.77" x2="43.4" y2="510.77" stroke="#111" stroke-width="0.9"/>
<text x="41.2" y="513.78" font-size="8.36" text-anchor="end" fill="#2a2a2a" stroke="#2a2a2a" stroke-width="0.17" textLength="17.24" lengthAdjust="spacingAndGlyphs">1500</text>
<line x1="41.4" y1="500.43" x2="43.4" y2="500.43" stroke="#111" stroke-width="0.9"/>
<text x="41.2" y="503.44" font-size="8.36" text-anchor="end" fill="#2a2a2a" stroke="#2a2a2a" stroke-width="0.17" textLength="17.24" lengthAdjust="spacingAndGlyphs">2000</text>
<line x1="41.4" y1="490.09" x2="43.4" y2="490.09" stroke="#111" stroke-width="0.9"/>
<text x="41.2" y="493.1" font-size="8.36" text-anchor="end" fill="#2a2a2a" stroke="#2a2a2a" stroke-width="0.17" textLength="17.24" lengthAdjust="spacingAndGlyphs">2500</text>
<line x1="41.4" y1="479.74" x2="43.4" y2="479.74" stroke="#111" stroke-width="0.9"/>
<text x="41.2" y="482.75" font-size="8.36" text-anchor="end" fill="#2a2a2a" stroke="#2a2a2a" stroke-width="0.17" textLength="17.24" lengthAdjust="spacingAndGlyphs">3000</text>
<line x1="41.4" y1="469.4" x2="43.4" y2="469.4" stroke="#111" stroke-width="0.9"/>
<text x="41.2" y="472.41" font-size="8.36" text-anchor="end" fill="#2a2a2a" stroke="#2a2a2a" stroke-width="0.17" textLength="17.24" lengthAdjust="spacingAndGlyphs">3500</text>
<rect x="46.2" y="484" width="11.8" height="57.8" fill="#0202ee" stroke="#10104a" stroke-width="0.7"/>
<line x1="52.1" y1="482" x2="52.1" y2="484" stroke="#111" stroke-width="0.9"/>
<line x1="49.5" y1="482" x2="54.7" y2="482" stroke="#111" stroke-width="0.9"/>
<circle cx="49.36" cy="482.6" r="0.95" fill="#111"/>
<circle cx="54.08" cy="485.58" r="0.95" fill="#111"/>
<circle cx="54" cy="483.94" r="0.95" fill="#111"/>
<circle cx="54.93" cy="484.18" r="0.95" fill="#111"/>
<rect x="63.6" y="481" width="12" height="60.8" fill="#de0202" stroke="#3a0000" stroke-width="0.7"/>
<line x1="69.6" y1="476" x2="69.6" y2="481" stroke="#111" stroke-width="0.9"/>
<line x1="67" y1="476" x2="72.2" y2="476" stroke="#111" stroke-width="0.9"/>
<circle cx="70.29" cy="478.65" r="0.95" fill="#111"/>
<circle cx="70.97" cy="478.2" r="0.95" fill="#111"/>
<circle cx="69.85" cy="484.43" r="0.95" fill="#111"/>
<circle cx="72.84" cy="479.8" r="0.95" fill="#111"/>
<line x1="113.4" y1="468.9" x2="113.4" y2="542.3" stroke="#111" stroke-width="1.25"/>
<line x1="112.9" y1="541.8" x2="148.6" y2="541.8" stroke="#111" stroke-width="1.25"/>
<line x1="111.4" y1="541.8" x2="113.4" y2="541.8" stroke="#111" stroke-width="0.9"/>
<text x="111.2" y="544.73" font-size="8.14" text-anchor="end" fill="#2a2a2a" stroke="#2a2a2a" stroke-width="0.16" textLength="4.2" lengthAdjust="spacingAndGlyphs">0</text>
<line x1="111.4" y1="533.76" x2="113.4" y2="533.76" stroke="#111" stroke-width="0.9"/>
<text x="111.2" y="536.69" font-size="8.14" text-anchor="end" fill="#2a2a2a" stroke="#2a2a2a" stroke-width="0.16" textLength="12.59" lengthAdjust="spacingAndGlyphs">200</text>
<line x1="111.4" y1="525.71" x2="113.4" y2="525.71" stroke="#111" stroke-width="0.9"/>
<text x="111.2" y="528.64" font-size="8.14" text-anchor="end" fill="#2a2a2a" stroke="#2a2a2a" stroke-width="0.16" textLength="12.59" lengthAdjust="spacingAndGlyphs">400</text>
<line x1="111.4" y1="517.67" x2="113.4" y2="517.67" stroke="#111" stroke-width="0.9"/>
<text x="111.2" y="520.6" font-size="8.14" text-anchor="end" fill="#2a2a2a" stroke="#2a2a2a" stroke-width="0.16" textLength="12.59" lengthAdjust="spacingAndGlyphs">600</text>
<line x1="111.4" y1="509.62" x2="113.4" y2="509.62" stroke="#111" stroke-width="0.9"/>
<text x="111.2" y="512.55" font-size="8.14" text-anchor="end" fill="#2a2a2a" stroke="#2a2a2a" stroke-width="0.16" textLength="12.59" lengthAdjust="spacingAndGlyphs">800</text>
<line x1="111.4" y1="501.58" x2="113.4" y2="501.58" stroke="#111" stroke-width="0.9"/>
<text x="111.2" y="504.51" font-size="8.14" text-anchor="end" fill="#2a2a2a" stroke="#2a2a2a" stroke-width="0.16" textLength="16.79" lengthAdjust="spacingAndGlyphs">1000</text>
<line x1="111.4" y1="493.53" x2="113.4" y2="493.53" stroke="#111" stroke-width="0.9"/>
<text x="111.2" y="496.46" font-size="8.14" text-anchor="end" fill="#2a2a2a" stroke="#2a2a2a" stroke-width="0.16" textLength="16.79" lengthAdjust="spacingAndGlyphs">1200</text>
<line x1="111.4" y1="485.49" x2="113.4" y2="485.49" stroke="#111" stroke-width="0.9"/>
<text x="111.2" y="488.42" font-size="8.14" text-anchor="end" fill="#2a2a2a" stroke="#2a2a2a" stroke-width="0.16" textLength="16.79" lengthAdjust="spacingAndGlyphs">1400</text>
<line x1="111.4" y1="477.44" x2="113.4" y2="477.44" stroke="#111" stroke-width="0.9"/>
<text x="111.2" y="480.37" font-size="8.14" text-anchor="end" fill="#2a2a2a" stroke="#2a2a2a" stroke-width="0.16" textLength="16.79" lengthAdjust="spacingAndGlyphs">1600</text>
<line x1="111.4" y1="469.4" x2="113.4" y2="469.4" stroke="#111" stroke-width="0.9"/>
<text x="111.2" y="472.33" font-size="8.14" text-anchor="end" fill="#2a2a2a" stroke="#2a2a2a" stroke-width="0.16" textLength="16.79" lengthAdjust="spacingAndGlyphs">1800</text>
<rect x="117" y="480.8" width="11.7" height="61" fill="#0202ee" stroke="#10104a" stroke-width="0.7"/>
<line x1="122.85" y1="473" x2="122.85" y2="480.8" stroke="#111" stroke-width="0.9"/>
<line x1="120.25" y1="473" x2="125.45" y2="473" stroke="#111" stroke-width="0.9"/>
<circle cx="123.85" cy="480.21" r="0.95" fill="#111"/>
<circle cx="122.98" cy="483.22" r="0.95" fill="#111"/>
<circle cx="124.6" cy="480.72" r="0.95" fill="#111"/>
<circle cx="124.12" cy="483.98" r="0.95" fill="#111"/>
<rect x="134" y="501.2" width="12.1" height="40.6" fill="#de0202" stroke="#3a0000" stroke-width="0.7"/>
<line x1="140.05" y1="499.5" x2="140.05" y2="501.2" stroke="#111" stroke-width="0.9"/>
<line x1="137.45" y1="499.5" x2="142.65" y2="499.5" stroke="#111" stroke-width="0.9"/>
<circle cx="142.34" cy="499.69" r="0.95" fill="#111"/>
<circle cx="141.22" cy="499.51" r="0.95" fill="#111"/>
<circle cx="141.56" cy="499.64" r="0.95" fill="#111"/>
<circle cx="141.47" cy="502.79" r="0.95" fill="#111"/>
<line x1="303.6" y1="468.9" x2="303.6" y2="542.3" stroke="#111" stroke-width="1.25"/>
<line x1="303.1" y1="541.8" x2="338.8" y2="541.8" stroke="#111" stroke-width="1.25"/>
<line x1="301.6" y1="541.8" x2="303.6" y2="541.8" stroke="#111" stroke-width="0.9"/>
<text x="301.4" y="544.73" font-size="8.14" text-anchor="end" fill="#2a2a2a" stroke="#2a2a2a" stroke-width="0.16" textLength="4.2" lengthAdjust="spacingAndGlyphs">0</text>
<line x1="301.6" y1="533.76" x2="303.6" y2="533.76" stroke="#111" stroke-width="0.9"/>
<text x="301.4" y="536.69" font-size="8.14" text-anchor="end" fill="#2a2a2a" stroke="#2a2a2a" stroke-width="0.16" textLength="12.59" lengthAdjust="spacingAndGlyphs">500</text>
<line x1="301.6" y1="525.71" x2="303.6" y2="525.71" stroke="#111" stroke-width="0.9"/>
<text x="301.4" y="528.64" font-size="8.14" text-anchor="end" fill="#2a2a2a" stroke="#2a2a2a" stroke-width="0.16" textLength="16.79" lengthAdjust="spacingAndGlyphs">1000</text>
<line x1="301.6" y1="517.67" x2="303.6" y2="517.67" stroke="#111" stroke-width="0.9"/>
<text x="301.4" y="520.6" font-size="8.14" text-anchor="end" fill="#2a2a2a" stroke="#2a2a2a" stroke-width="0.16" textLength="16.79" lengthAdjust="spacingAndGlyphs">1500</text>
<line x1="301.6" y1="509.62" x2="303.6" y2="509.62" stroke="#111" stroke-width="0.9"/>
<text x="301.4" y="512.55" font-size="8.14" text-anchor="end" fill="#2a2a2a" stroke="#2a2a2a" stroke-width="0.16" textLength="16.79" lengthAdjust="spacingAndGlyphs">2000</text>
<line x1="301.6" y1="501.58" x2="303.6" y2="501.58" stroke="#111" stroke-width="0.9"/>
<text x="301.4" y="504.51" font-size="8.14" text-anchor="end" fill="#2a2a2a" stroke="#2a2a2a" stroke-width="0.16" textLength="16.79" lengthAdjust="spacingAndGlyphs">2500</text>
<line x1="301.6" y1="493.53" x2="303.6" y2="493.53" stroke="#111" stroke-width="0.9"/>
<text x="301.4" y="496.46" font-size="8.14" text-anchor="end" fill="#2a2a2a" stroke="#2a2a2a" stroke-width="0.16" textLength="16.79" lengthAdjust="spacingAndGlyphs">3000</text>
<line x1="301.6" y1="485.49" x2="303.6" y2="485.49" stroke="#111" stroke-width="0.9"/>
<text x="301.4" y="488.42" font-size="8.14" text-anchor="end" fill="#2a2a2a" stroke="#2a2a2a" stroke-width="0.16" textLength="16.79" lengthAdjust="spacingAndGlyphs">3500</text>
<line x1="301.6" y1="477.44" x2="303.6" y2="477.44" stroke="#111" stroke-width="0.9"/>
<text x="301.4" y="480.37" font-size="8.14" text-anchor="end" fill="#2a2a2a" stroke="#2a2a2a" stroke-width="0.16" textLength="16.79" lengthAdjust="spacingAndGlyphs">4000</text>
<line x1="301.6" y1="469.4" x2="303.6" y2="469.4" stroke="#111" stroke-width="0.9"/>
<text x="301.4" y="472.33" font-size="8.14" text-anchor="end" fill="#2a2a2a" stroke="#2a2a2a" stroke-width="0.16" textLength="16.79" lengthAdjust="spacingAndGlyphs">4500</text>
<rect x="307.2" y="483.7" width="11.7" height="58.1" fill="#0202ee" stroke="#10104a" stroke-width="0.7"/>
<line x1="313.05" y1="474" x2="313.05" y2="483.7" stroke="#111" stroke-width="0.9"/>
<line x1="310.45" y1="474" x2="315.65" y2="474" stroke="#111" stroke-width="0.9"/>
<circle cx="311.15" cy="485.97" r="0.95" fill="#111"/>
<circle cx="312.51" cy="487.24" r="0.95" fill="#111"/>
<circle cx="311.29" cy="480.94" r="0.95" fill="#111"/>
<circle cx="311.98" cy="482.43" r="0.95" fill="#111"/>
<rect x="325.4" y="491.5" width="11.4" height="50.3" fill="#de0202" stroke="#3a0000" stroke-width="0.7"/>
<line x1="331.1" y1="477.6" x2="331.1" y2="491.5" stroke="#111" stroke-width="0.9"/>
<line x1="328.5" y1="477.6" x2="333.7" y2="477.6" stroke="#111" stroke-width="0.9"/>
<circle cx="331.29" cy="493.06" r="0.95" fill="#111"/>
<circle cx="328.15" cy="491.68" r="0.95" fill="#111"/>
<circle cx="331.12" cy="488.88" r="0.95" fill="#111"/>
<circle cx="332.5" cy="489.48" r="0.95" fill="#111"/>
<line x1="377.6" y1="468.9" x2="377.6" y2="542.3" stroke="#111" stroke-width="1.25"/>
<line x1="377.1" y1="541.8" x2="411.6" y2="541.8" stroke="#111" stroke-width="1.25"/>
<line x1="375.6" y1="541.8" x2="377.6" y2="541.8" stroke="#111" stroke-width="0.9"/>
<text x="375.4" y="544.73" font-size="8.14" text-anchor="end" fill="#2a2a2a" stroke="#2a2a2a" stroke-width="0.16" textLength="4.2" lengthAdjust="spacingAndGlyphs">0</text>
<line x1="375.6" y1="534.56" x2="377.6" y2="534.56" stroke="#111" stroke-width="0.9"/>
<text x="375.4" y="537.49" font-size="8.14" text-anchor="end" fill="#2a2a2a" stroke="#2a2a2a" stroke-width="0.16" textLength="12.59" lengthAdjust="spacingAndGlyphs">200</text>
<line x1="375.6" y1="527.32" x2="377.6" y2="527.32" stroke="#111" stroke-width="0.9"/>
<text x="375.4" y="530.25" font-size="8.14" text-anchor="end" fill="#2a2a2a" stroke="#2a2a2a" stroke-width="0.16" textLength="12.59" lengthAdjust="spacingAndGlyphs">400</text>
<line x1="375.6" y1="520.08" x2="377.6" y2="520.08" stroke="#111" stroke-width="0.9"/>
<text x="375.4" y="523.01" font-size="8.14" text-anchor="end" fill="#2a2a2a" stroke="#2a2a2a" stroke-width="0.16" textLength="12.59" lengthAdjust="spacingAndGlyphs">600</text>
<line x1="375.6" y1="512.84" x2="377.6" y2="512.84" stroke="#111" stroke-width="0.9"/>
<text x="375.4" y="515.77" font-size="8.14" text-anchor="end" fill="#2a2a2a" stroke="#2a2a2a" stroke-width="0.16" textLength="12.59" lengthAdjust="spacingAndGlyphs">800</text>
<line x1="375.6" y1="505.6" x2="377.6" y2="505.6" stroke="#111" stroke-width="0.9"/>
<text x="375.4" y="508.53" font-size="8.14" text-anchor="end" fill="#2a2a2a" stroke="#2a2a2a" stroke-width="0.16" textLength="16.79" lengthAdjust="spacingAndGlyphs">1000</text>
<line x1="375.6" y1="498.36" x2="377.6" y2="498.36" stroke="#111" stroke-width="0.9"/>
<text x="375.4" y="501.29" font-size="8.14" text-anchor="end" fill="#2a2a2a" stroke="#2a2a2a" stroke-width="0.16" textLength="16.79" lengthAdjust="spacingAndGlyphs">1200</text>
<line x1="375.6" y1="491.12" x2="377.6" y2="491.12" stroke="#111" stroke-width="0.9"/>
<text x="375.4" y="494.05" font-size="8.14" text-anchor="end" fill="#2a2a2a" stroke="#2a2a2a" stroke-width="0.16" textLength="16.79" lengthAdjust="spacingAndGlyphs">1400</text>
<line x1="375.6" y1="483.88" x2="377.6" y2="483.88" stroke="#111" stroke-width="0.9"/>
<text x="375.4" y="486.81" font-size="8.14" text-anchor="end" fill="#2a2a2a" stroke="#2a2a2a" stroke-width="0.16" textLength="16.79" lengthAdjust="spacingAndGlyphs">1600</text>
<line x1="375.6" y1="476.64" x2="377.6" y2="476.64" stroke="#111" stroke-width="0.9"/>
<text x="375.4" y="479.57" font-size="8.14" text-anchor="end" fill="#2a2a2a" stroke="#2a2a2a" stroke-width="0.16" textLength="16.79" lengthAdjust="spacingAndGlyphs">1800</text>
<line x1="375.6" y1="469.4" x2="377.6" y2="469.4" stroke="#111" stroke-width="0.9"/>
<text x="375.4" y="472.33" font-size="8.14" text-anchor="end" fill="#2a2a2a" stroke="#2a2a2a" stroke-width="0.16" textLength="16.79" lengthAdjust="spacingAndGlyphs">2000</text>
<rect x="380" y="482.5" width="11.5" height="59.3" fill="#0202ee" stroke="#10104a" stroke-width="0.7"/>
<line x1="385.75" y1="479" x2="385.75" y2="482.5" stroke="#111" stroke-width="0.9"/>
<line x1="383.15" y1="479" x2="388.35" y2="479" stroke="#111" stroke-width="0.9"/>
<circle cx="384.66" cy="485.51" r="0.95" fill="#111"/>
<circle cx="384.12" cy="485.14" r="0.95" fill="#111"/>
<circle cx="382.51" cy="480.7" r="0.95" fill="#111"/>
<circle cx="384.73" cy="482.23" r="0.95" fill="#111"/>
<rect x="397.8" y="507.3" width="11.6" height="34.5" fill="#de0202" stroke="#3a0000" stroke-width="0.7"/>
<line x1="403.6" y1="502" x2="403.6" y2="507.3" stroke="#111" stroke-width="0.9"/>
<line x1="401" y1="502" x2="406.2" y2="502" stroke="#111" stroke-width="0.9"/>
<circle cx="402.45" cy="504.45" r="0.95" fill="#111"/>
<circle cx="406.61" cy="507.02" r="0.95" fill="#111"/>
<circle cx="401.77" cy="509.59" r="0.95" fill="#111"/>
<circle cx="404.89" cy="507.32" r="0.95" fill="#111"/>
<circle cx="50" cy="373" r="0.85" fill="#111"/>
<circle cx="55" cy="373" r="0.85" fill="#111"/>
<circle cx="70" cy="371" r="0.85" fill="#111"/>
<circle cx="67" cy="378" r="0.85" fill="#111"/>
<circle cx="73" cy="377" r="0.85" fill="#111"/>
<circle cx="121" cy="372" r="0.85" fill="#111"/>
<circle cx="123" cy="378" r="0.85" fill="#111"/>
<circle cx="120" cy="385" r="0.85" fill="#111"/>
<circle cx="140" cy="394.5" r="0.85" fill="#111"/>
<circle cx="141" cy="397" r="0.85" fill="#111"/>
<circle cx="312" cy="375.5" r="0.85" fill="#111"/>
<circle cx="316" cy="376" r="0.85" fill="#111"/>
<circle cx="330" cy="374.5" r="0.85" fill="#111"/>
<circle cx="333" cy="376" r="0.85" fill="#111"/>
<circle cx="330" cy="384" r="0.85" fill="#111"/>
<circle cx="386" cy="371.5" r="0.85" fill="#111"/>
<circle cx="384" cy="375.5" r="0.85" fill="#111"/>
<circle cx="401" cy="386.5" r="0.85" fill="#111"/>
<circle cx="404" cy="387.5" r="0.85" fill="#111"/>
<circle cx="402" cy="391" r="0.85" fill="#111"/>
<circle cx="49" cy="483" r="0.85" fill="#111"/>
<circle cx="54" cy="481.5" r="0.85" fill="#111"/>
<circle cx="69" cy="476" r="0.85" fill="#111"/>
<circle cx="67" cy="483" r="0.85" fill="#111"/>
<circle cx="71" cy="484" r="0.85" fill="#111"/>
<circle cx="120" cy="472.5" r="0.85" fill="#111"/>
<circle cx="122" cy="477" r="0.85" fill="#111"/>
<circle cx="124" cy="480" r="0.85" fill="#111"/>
<circle cx="123" cy="490" r="0.85" fill="#111"/>
<circle cx="137" cy="499.5" r="0.85" fill="#111"/>
<circle cx="141" cy="499.5" r="0.85" fill="#111"/>
<circle cx="144" cy="500.5" r="0.85" fill="#111"/>
<circle cx="309" cy="477.5" r="0.85" fill="#111"/>
<circle cx="315" cy="479" r="0.85" fill="#111"/>
<circle cx="313" cy="493" r="0.85" fill="#111"/>
<circle cx="331" cy="477.5" r="0.85" fill="#111"/>
<circle cx="331" cy="485" r="0.85" fill="#111"/>
<circle cx="329" cy="501" r="0.85" fill="#111"/>
<circle cx="332" cy="499.5" r="0.85" fill="#111"/>
<circle cx="385.5" cy="474" r="0.85" fill="#111"/>
<circle cx="386" cy="480" r="0.85" fill="#111"/>
<circle cx="384" cy="484" r="0.85" fill="#111"/>
<circle cx="404" cy="501.5" r="0.85" fill="#111"/>
<circle cx="402" cy="509" r="0.85" fill="#111"/>
<circle cx="404" cy="509" r="0.85" fill="#111"/>
<line x1="178.8" y1="368.6" x2="178.8" y2="439.1" stroke="#111" stroke-width="1.25"/>
<line x1="178.3" y1="438.6" x2="253.4" y2="438.6" stroke="#111" stroke-width="1.25"/>
<line x1="176.8" y1="438.6" x2="178.8" y2="438.6" stroke="#111" stroke-width="0.9"/>
<text x="176.6" y="441.49" font-size="8.03" text-anchor="end" fill="#2a2a2a" stroke="#2a2a2a" stroke-width="0.16" textLength="4.14" lengthAdjust="spacingAndGlyphs">0</text>
<line x1="176.8" y1="415.43" x2="178.8" y2="415.43" stroke="#111" stroke-width="0.9"/>
<text x="176.6" y="418.32" font-size="8.03" text-anchor="end" fill="#2a2a2a" stroke="#2a2a2a" stroke-width="0.16" textLength="4.14" lengthAdjust="spacingAndGlyphs">2</text>
<line x1="176.8" y1="392.27" x2="178.8" y2="392.27" stroke="#111" stroke-width="0.9"/>
<text x="176.6" y="395.16" font-size="8.03" text-anchor="end" fill="#2a2a2a" stroke="#2a2a2a" stroke-width="0.16" textLength="4.14" lengthAdjust="spacingAndGlyphs">4</text>
<line x1="176.8" y1="369.1" x2="178.8" y2="369.1" stroke="#111" stroke-width="0.9"/>
<text x="176.6" y="371.99" font-size="8.03" text-anchor="end" fill="#2a2a2a" stroke="#2a2a2a" stroke-width="0.16" textLength="4.14" lengthAdjust="spacingAndGlyphs">6</text>
<path d="M179.9 438.6 L180.68 437.01 L181.45 436.32 L182.22 434.87 L183 434.07 L183.6 430.55 L184.2 426.1 L184.8 422.47 L185.4 420.24 L185.78 415.79 L186.15 412.22 L186.53 409.92 L186.9 405.55 L187.7 404.16 L188.5 401.61 L189.3 399.9 L190.1 397.14 L190.38 397.52 L190.65 397.49 L190.92 396.54 L191.2 396.49 L192.1 397.35 L193 397.35 L193.9 399.44 L194.8 400.15 L195.38 401.46 L195.95 402.8 L196.53 405.91 L197.1 407.06 L197.9 409.23 L198.7 411.26 L199.5 412.77 L200.3 414.87 L201.48 414.63 L202.65 415.88 L203.82 415.91 L205 417.3 L206.18 418.38 L207.35 418.31 L208.52 419.54 L209.7 420.85 L210.88 422.04 L212.05 421.2 L213.22 421.5 L214.4 420.98 L215.97 421.89 L217.55 422.27 L219.12 422.79 L220.7 423.74 L221.88 425.11 L223.05 427 L224.22 428.02 L225.4 429.79 L226.97 430.67 L228.55 431.89 L230.12 432.37 L231.7 432.56 L233.27 434.65 L234.85 435.79 L236.43 436.67 L238 437.11 L239.57 437.67 L241.15 437.19 L242.73 438.51 L244.3 438.3 L246.25 438.49 L248.2 438.11 L250.15 437.83 L252.1 438.6" fill="none" stroke="#1a1ad0" stroke-width="1.15" stroke-linejoin="round"/>
<path d="M179.1 438.6 L179.68 435.03 L180.25 431.67 L180.82 428.98 L181.4 425.45 L182 418.63 L182.6 412.49 L183.2 406.64 L183.8 399.78 L184.2 394.22 L184.6 387.86 L185 382.86 L185.4 376.94 L185.9 375.8 L186.4 374.72 L186.9 373.92 L187.4 374.08 L187.88 374.5 L188.35 375.04 L188.83 375.61 L189.3 375.21 L189.78 378.55 L190.25 382.2 L190.72 385.52 L191.2 388.87 L191.5 391.26 L191.8 392.34 L192.1 395.52 L192.4 397.97 L193.2 399.68 L194 401.13 L194.8 403.58 L195.6 404.94 L196.78 408.25 L197.95 410.08 L199.12 411.53 L200.3 413.08 L201.48 414.85 L202.65 415.12 L203.82 416.41 L205 417.16 L206.18 418.19 L207.35 419.61 L208.52 421.48 L209.7 422.79 L210.88 424.31 L212.05 426.49 L213.22 429.25 L214.4 429.97 L215.57 431.15 L216.75 433.25 L217.93 433.87 L219.1 435.46 L220.3 435.95 L221.5 436.35 L222.7 438 L223.9 437.8 L224.93 437.51 L225.95 438.06 L226.97 437.92 L228 438.6" fill="none" stroke="#d81e2c" stroke-width="1.15" stroke-linejoin="round"/>
<line x1="444.9" y1="368.8" x2="444.9" y2="439.2" stroke="#111" stroke-width="1.25"/>
<line x1="444.4" y1="438.7" x2="535.7" y2="438.7" stroke="#111" stroke-width="1.25"/>
<line x1="442.9" y1="438.7" x2="444.9" y2="438.7" stroke="#111" stroke-width="0.9"/>
<text x="442.7" y="441.59" font-size="8.03" text-anchor="end" fill="#2a2a2a" stroke="#2a2a2a" stroke-width="0.16" textLength="4.14" lengthAdjust="spacingAndGlyphs">0</text>
<line x1="442.9" y1="421.35" x2="444.9" y2="421.35" stroke="#111" stroke-width="0.9"/>
<text x="442.7" y="424.24" font-size="8.03" text-anchor="end" fill="#2a2a2a" stroke="#2a2a2a" stroke-width="0.16" textLength="4.14" lengthAdjust="spacingAndGlyphs">1</text>
<line x1="442.9" y1="404" x2="444.9" y2="404" stroke="#111" stroke-width="0.9"/>
<text x="442.7" y="406.89" font-size="8.03" text-anchor="end" fill="#2a2a2a" stroke="#2a2a2a" stroke-width="0.16" textLength="4.14" lengthAdjust="spacingAndGlyphs">2</text>
<line x1="442.9" y1="386.65" x2="444.9" y2="386.65" stroke="#111" stroke-width="0.9"/>
<text x="442.7" y="389.54" font-size="8.03" text-anchor="end" fill="#2a2a2a" stroke="#2a2a2a" stroke-width="0.16" textLength="4.14" lengthAdjust="spacingAndGlyphs">3</text>
<line x1="442.9" y1="369.3" x2="444.9" y2="369.3" stroke="#111" stroke-width="0.9"/>
<text x="442.7" y="372.19" font-size="8.03" text-anchor="end" fill="#2a2a2a" stroke="#2a2a2a" stroke-width="0.16" textLength="4.14" lengthAdjust="spacingAndGlyphs">4</text>
<path d="M445.7 438.7 L446.43 435.47 L447.15 432.24 L447.88 428.9 L448.6 425.71 L449.3 419.66 L450 414.23 L450.7 407.07 L451.4 402.04 L452.12 401.03 L452.85 398.79 L453.57 397.42 L454.3 394.38 L455 394.95 L455.7 394.59 L456.4 395.07 L457.1 395.12 L457.83 394.95 L458.55 396 L459.27 396.82 L460 398.57 L461.07 397.95 L462.15 396.61 L463.23 397.25 L464.3 395.82 L465.38 396.24 L466.45 395.1 L467.53 394.55 L468.6 395.59 L469.68 395.26 L470.75 395.99 L471.82 397.95 L472.9 398.5 L473.95 397.91 L475 399.34 L476.05 399.01 L477.1 399.58 L477.83 399.18 L478.55 400.71 L479.27 400.66 L480 401.45 L480.73 402.75 L481.45 403.23 L482.17 404.75 L482.9 405.87 L483.95 408.33 L485 410.7 L486.05 413.58 L487.1 416.56 L488.18 417.76 L489.25 420.98 L490.32 422.59 L491.4 424.7 L492.82 427.66 L494.25 429.27 L495.68 431.16 L497.1 433.57 L498.55 434.63 L500 434.29 L501.45 436.46 L502.9 435.64 L504.32 437.22 L505.75 437.8 L507.18 436.9 L508.6 438.56 L511.45 438.04 L514.3 438.53 L517.15 437.76 L520 438.7 L523.75 437.97 L527.5 438.19 L531.25 439.43 L535 438.7" fill="none" stroke="#1a1ad0" stroke-width="1.15" stroke-linejoin="round"/>
<path d="M445.7 438.7 L446.43 432.17 L447.15 425.22 L447.88 417.68 L448.6 410.32 L449.18 405.63 L449.75 402.41 L450.32 397.83 L450.9 394.02 L451.4 392.32 L451.9 391.88 L452.4 390.01 L452.9 389.78 L453.6 388.59 L454.3 387.01 L455 386.14 L455.7 385.29 L456.43 385.58 L457.15 387.24 L457.88 388.71 L458.6 388.92 L459.3 389.06 L460 388.15 L460.7 387.68 L461.4 386.14 L462.12 387.17 L462.85 389.73 L463.57 391.16 L464.3 392.01 L465 390.03 L465.7 388.77 L466.4 388.04 L467.1 386.07 L467.83 387.12 L468.55 386.54 L469.27 385.92 L470 386.65 L470.73 385.48 L471.45 385.69 L472.17 384.96 L472.9 383.62 L473.25 386.33 L473.6 388.92 L473.95 391.59 L474.3 394.36 L475 396.42 L475.7 400.53 L476.4 404.49 L477.1 407.59 L477.83 410.89 L478.55 412.94 L479.27 417.06 L480 419.34 L481.07 421.19 L482.15 424.56 L483.23 426.5 L484.3 428.81 L485.38 430.7 L486.45 431.57 L487.53 433.11 L488.6 435.58 L489.68 436.04 L490.75 435.67 L491.82 437.62 L492.9 437.9 L493.92 437.33 L494.95 438.03 L495.98 439.15 L497 438.7" fill="none" stroke="#d81e2c" stroke-width="1.15" stroke-linejoin="round"/>
<line x1="178.2" y1="469.9" x2="178.2" y2="541.3" stroke="#111" stroke-width="1.25"/>
<line x1="177.7" y1="540.8" x2="253" y2="540.8" stroke="#111" stroke-width="1.25"/>
<line x1="176.2" y1="540.8" x2="178.2" y2="540.8" stroke="#111" stroke-width="0.9"/>
<text x="176" y="543.69" font-size="8.03" text-anchor="end" fill="#2a2a2a" stroke="#2a2a2a" stroke-width="0.16" textLength="4.14" lengthAdjust="spacingAndGlyphs">0</text>
<line x1="176.2" y1="526.72" x2="178.2" y2="526.72" stroke="#111" stroke-width="0.9"/>
<text x="176" y="529.61" font-size="8.03" text-anchor="end" fill="#2a2a2a" stroke="#2a2a2a" stroke-width="0.16" textLength="4.14" lengthAdjust="spacingAndGlyphs">1</text>
<line x1="176.2" y1="512.64" x2="178.2" y2="512.64" stroke="#111" stroke-width="0.9"/>
<text x="176" y="515.53" font-size="8.03" text-anchor="end" fill="#2a2a2a" stroke="#2a2a2a" stroke-width="0.16" textLength="4.14" lengthAdjust="spacingAndGlyphs">2</text>
<line x1="176.2" y1="498.56" x2="178.2" y2="498.56" stroke="#111" stroke-width="0.9"/>
<text x="176" y="501.45" font-size="8.03" text-anchor="end" fill="#2a2a2a" stroke="#2a2a2a" stroke-width="0.16" textLength="4.14" lengthAdjust="spacingAndGlyphs">3</text>
<line x1="176.2" y1="484.48" x2="178.2" y2="484.48" stroke="#111" stroke-width="0.9"/>
<text x="176" y="487.37" font-size="8.03" text-anchor="end" fill="#2a2a2a" stroke="#2a2a2a" stroke-width="0.16" textLength="4.14" lengthAdjust="spacingAndGlyphs">4</text>
<line x1="176.2" y1="470.4" x2="178.2" y2="470.4" stroke="#111" stroke-width="0.9"/>
<text x="176" y="473.29" font-size="8.03" text-anchor="end" fill="#2a2a2a" stroke="#2a2a2a" stroke-width="0.16" textLength="4.14" lengthAdjust="spacingAndGlyphs">5</text>
<path d="M178.9 540.8 L179.82 538.69 L180.75 536.59 L181.68 535.57 L182.6 532.82 L183.5 532.96 L184.4 532.09 L185.3 530.99 L186.2 531.11 L187.1 525.81 L188 521.89 L188.9 516.76 L189.8 512.25 L190.73 510.03 L191.65 507.92 L192.57 504.05 L193.5 501.46 L194.4 500.9 L195.3 500.22 L196.2 498.42 L197.1 496.93 L197.72 498.16 L198.35 496.97 L198.97 498.57 L199.6 497.96 L200.5 499.26 L201.4 500.74 L202.3 502.57 L203.2 504.91 L204.1 504.49 L205 505.73 L205.9 506.42 L206.8 506.6 L208.03 508.4 L209.25 509.15 L210.47 510.67 L211.7 512.43 L213.52 514.39 L215.35 515.18 L217.18 516.2 L219 517.84 L220.82 519.45 L222.65 521.03 L224.48 523.65 L226.3 525.32 L228.12 526.12 L229.95 528.17 L231.78 529.62 L233.6 531.7 L235.4 532.67 L237.2 533.16 L239 535.47 L240.8 535.29 L242.62 536.79 L244.45 538.36 L246.28 538.42 L248.1 540 L249.32 540.18 L250.55 539.66 L251.78 540.87 L253 540.8" fill="none" stroke="#1a1ad0" stroke-width="1.15" stroke-linejoin="round"/>
<path d="M178.9 540.8 L179.5 537.01 L180.1 534.84 L180.7 530.15 L181.3 527.73 L181.93 521.89 L182.55 517.3 L183.18 513.65 L183.8 507.54 L184.4 503.38 L185 498.23 L185.6 493.38 L186.2 488.59 L186.8 485.06 L187.4 483.03 L188 478.79 L188.6 475.97 L189.4 474.61 L190.2 473.98 L191 473.18 L191.8 472.94 L192.53 473.13 L193.25 473.73 L193.97 474.99 L194.7 477.19 L195.3 479.35 L195.9 483.89 L196.5 487.15 L197.1 491.26 L197.72 493.77 L198.35 497.36 L198.97 500.07 L199.6 503.34 L200.5 506.19 L201.4 508.13 L202.3 509.88 L203.2 512.2 L204.42 514.81 L205.65 515.28 L206.88 516.01 L208.1 518.41 L209.3 519.35 L210.5 521.12 L211.7 522.88 L212.9 523.46 L214.12 525.07 L215.35 527.4 L216.58 527.72 L217.8 530.22 L218.7 530.68 L219.6 533.15 L220.5 534.7 L221.4 536.62 L222.62 537.37 L223.85 537.76 L225.08 538.19 L226.3 539.6 L227.5 539.34 L228.7 540.25 L229.9 540.52 L231.1 540.8" fill="none" stroke="#d81e2c" stroke-width="1.15" stroke-linejoin="round"/>
<line x1="450.7" y1="470.9" x2="450.7" y2="541.6" stroke="#111" stroke-width="1.25"/>
<line x1="450.2" y1="541.1" x2="541.1" y2="541.1" stroke="#111" stroke-width="1.25"/>
<line x1="448.7" y1="541.1" x2="450.7" y2="541.1" stroke="#111" stroke-width="0.9"/>
<text x="448.5" y="543.95" font-size="7.92" text-anchor="end" fill="#2a2a2a" stroke="#2a2a2a" stroke-width="0.16" textLength="10.21" lengthAdjust="spacingAndGlyphs">0.0</text>
<line x1="448.7" y1="533.36" x2="450.7" y2="533.36" stroke="#111" stroke-width="0.9"/>
<text x="448.5" y="536.21" font-size="7.92" text-anchor="end" fill="#2a2a2a" stroke="#2a2a2a" stroke-width="0.16" textLength="10.21" lengthAdjust="spacingAndGlyphs">0.5</text>
<line x1="448.7" y1="525.61" x2="450.7" y2="525.61" stroke="#111" stroke-width="0.9"/>
<text x="448.5" y="528.46" font-size="7.92" text-anchor="end" fill="#2a2a2a" stroke="#2a2a2a" stroke-width="0.16" textLength="10.21" lengthAdjust="spacingAndGlyphs">1.0</text>
<line x1="448.7" y1="517.87" x2="450.7" y2="517.87" stroke="#111" stroke-width="0.9"/>
<text x="448.5" y="520.72" font-size="7.92" text-anchor="end" fill="#2a2a2a" stroke="#2a2a2a" stroke-width="0.16" textLength="10.21" lengthAdjust="spacingAndGlyphs">1.5</text>
<line x1="448.7" y1="510.12" x2="450.7" y2="510.12" stroke="#111" stroke-width="0.9"/>
<text x="448.5" y="512.97" font-size="7.92" text-anchor="end" fill="#2a2a2a" stroke="#2a2a2a" stroke-width="0.16" textLength="10.21" lengthAdjust="spacingAndGlyphs">2.0</text>
<line x1="448.7" y1="502.38" x2="450.7" y2="502.38" stroke="#111" stroke-width="0.9"/>
<text x="448.5" y="505.23" font-size="7.92" text-anchor="end" fill="#2a2a2a" stroke="#2a2a2a" stroke-width="0.16" textLength="10.21" lengthAdjust="spacingAndGlyphs">2.5</text>
<line x1="448.7" y1="494.63" x2="450.7" y2="494.63" stroke="#111" stroke-width="0.9"/>
<text x="448.5" y="497.48" font-size="7.92" text-anchor="end" fill="#2a2a2a" stroke="#2a2a2a" stroke-width="0.16" textLength="10.21" lengthAdjust="spacingAndGlyphs">3.0</text>
<line x1="448.7" y1="486.89" x2="450.7" y2="486.89" stroke="#111" stroke-width="0.9"/>
<text x="448.5" y="489.74" font-size="7.92" text-anchor="end" fill="#2a2a2a" stroke="#2a2a2a" stroke-width="0.16" textLength="10.21" lengthAdjust="spacingAndGlyphs">3.5</text>
<line x1="448.7" y1="479.14" x2="450.7" y2="479.14" stroke="#111" stroke-width="0.9"/>
<text x="448.5" y="482" font-size="7.92" text-anchor="end" fill="#2a2a2a" stroke="#2a2a2a" stroke-width="0.16" textLength="10.21" lengthAdjust="spacingAndGlyphs">4.0</text>
<line x1="448.7" y1="471.4" x2="450.7" y2="471.4" stroke="#111" stroke-width="0.9"/>
<text x="448.5" y="474.25" font-size="7.92" text-anchor="end" fill="#2a2a2a" stroke="#2a2a2a" stroke-width="0.16" textLength="10.21" lengthAdjust="spacingAndGlyphs">4.5</text>
<path d="M450.7 541.1 L451.25 539.69 L451.8 538.2 L452.35 536.47 L452.9 536.29 L453.42 532.51 L453.95 530.9 L454.48 529.14 L455 525.43 L455.8 524.31 L456.6 522.54 L457.4 519.74 L458.2 518.41 L459 517.3 L459.8 515.27 L460.6 514.09 L461.4 511.55 L462.38 510.36 L463.35 508.83 L464.32 508.14 L465.3 507.48 L465.95 507.47 L466.6 508.29 L467.25 508.19 L467.9 509.29 L468.7 508.81 L469.5 509.67 L470.3 510.83 L471.1 511.46 L471.9 510.97 L472.7 510.44 L473.5 510.73 L474.3 510.64 L474.95 509.67 L475.6 509.45 L476.25 507.39 L476.9 507.42 L477.85 507.68 L478.8 506.64 L479.75 507.43 L480.7 507.89 L482.05 508.19 L483.4 509.88 L484.75 511.7 L486.1 511.48 L487.43 513.33 L488.75 513.64 L490.07 515.45 L491.4 517.03 L493.02 517.27 L494.65 518.31 L496.27 519.78 L497.9 521.86 L499.5 522.9 L501.1 524.89 L502.7 527.42 L504.3 529.97 L505.9 530.5 L507.5 531.79 L509.1 533.5 L510.7 533.95 L512.3 535.55 L513.9 535.73 L515.5 537.25 L517.1 538.63 L518.17 537.71 L519.25 539.04 L520.33 539.65 L521.4 539.44 L523.55 539.9 L525.7 541.34 L527.85 541.62 L530 541.1 L532.67 540.49 L535.35 541.43 L538.03 541.82 L540.7 541.1" fill="none" stroke="#1a1ad0" stroke-width="1.15" stroke-linejoin="round"/>
<path d="M450.7 541.1 L451.25 537.71 L451.8 533.99 L452.35 530.72 L452.9 526.63 L453.42 522.25 L453.95 516.92 L454.48 511.3 L455 505.16 L455.52 501.18 L456.05 496.32 L456.58 491.65 L457.1 488.22 L457.55 486.04 L458 482.27 L458.45 481.33 L458.9 478.67 L459.52 479.21 L460.15 479.95 L460.77 481.48 L461.4 482.03 L461.95 482.67 L462.5 482.91 L463.05 482.34 L463.6 483.63 L464.23 483.7 L464.85 483.4 L465.48 482.56 L466.1 481.37 L466.8 483.18 L467.5 485.26 L468.2 488.43 L468.9 489.28 L469.7 491.54 L470.5 494.54 L471.3 495.75 L472.1 498.28 L472.93 501.05 L473.75 503.4 L474.57 507.19 L475.4 510.55 L476.2 511.6 L477 513.86 L477.8 516.31 L478.6 517.86 L479.68 520.19 L480.75 522.31 L481.82 523.65 L482.9 525.05 L483.7 527.17 L484.5 527.64 L485.3 529.91 L486.1 531.2 L487.18 532.91 L488.25 533.48 L489.32 535.89 L490.4 536.15 L491.72 536.97 L493.05 538.69 L494.38 539.62 L495.7 539.6 L497.3 539.87 L498.9 540.21 L500.5 540.32 L502.1 541.1" fill="none" stroke="#d81e2c" stroke-width="1.15" stroke-linejoin="round"/>
<text x="179.3" y="447" font-size="7.5" text-anchor="middle" fill="#2a2a2a" stroke="#2a2a2a" stroke-width="0.15">0</text>
<text x="192.5" y="447" font-size="7.5" text-anchor="middle" fill="#2a2a2a" stroke="#2a2a2a" stroke-width="0.15" textLength="16.6" lengthAdjust="spacingAndGlyphs">1000</text>
<text x="212.9" y="447" font-size="7.5" text-anchor="middle" fill="#2a2a2a" stroke="#2a2a2a" stroke-width="0.15" textLength="16.6" lengthAdjust="spacingAndGlyphs">2000</text>
<text x="232.9" y="447" font-size="7.5" text-anchor="middle" fill="#2a2a2a" stroke="#2a2a2a" stroke-width="0.15" textLength="16.6" lengthAdjust="spacingAndGlyphs">3000</text>
<text x="255" y="447" font-size="7.5" text-anchor="middle" fill="#2a2a2a" stroke="#2a2a2a" stroke-width="0.15" textLength="16.6" lengthAdjust="spacingAndGlyphs">4000</text>
<text x="445.3" y="447.8" font-size="7.5" text-anchor="middle" fill="#2a2a2a" stroke="#2a2a2a" stroke-width="0.15">0</text>
<text x="459.9" y="447.8" font-size="7.5" text-anchor="middle" fill="#2a2a2a" stroke="#2a2a2a" stroke-width="0.15" textLength="16.6" lengthAdjust="spacingAndGlyphs">1000</text>
<text x="479.7" y="447.8" font-size="7.5" text-anchor="middle" fill="#2a2a2a" stroke="#2a2a2a" stroke-width="0.15" textLength="16.6" lengthAdjust="spacingAndGlyphs">2000</text>
<text x="499.3" y="447.8" font-size="7.5" text-anchor="middle" fill="#2a2a2a" stroke="#2a2a2a" stroke-width="0.15" textLength="16.6" lengthAdjust="spacingAndGlyphs">3000</text>
<text x="519.1" y="447.8" font-size="7.5" text-anchor="middle" fill="#2a2a2a" stroke="#2a2a2a" stroke-width="0.15" textLength="16.6" lengthAdjust="spacingAndGlyphs">4000</text>
<text x="538.7" y="447.8" font-size="7.5" text-anchor="middle" fill="#2a2a2a" stroke="#2a2a2a" stroke-width="0.15" textLength="16.6" lengthAdjust="spacingAndGlyphs">5000</text>
<text x="178.9" y="550.3" font-size="7.5" text-anchor="middle" fill="#2a2a2a" stroke="#2a2a2a" stroke-width="0.15">0</text>
<text x="192.5" y="550.3" font-size="7.5" text-anchor="middle" fill="#2a2a2a" stroke="#2a2a2a" stroke-width="0.15" textLength="16.6" lengthAdjust="spacingAndGlyphs">1000</text>
<text x="213.4" y="550.3" font-size="7.5" text-anchor="middle" fill="#2a2a2a" stroke="#2a2a2a" stroke-width="0.15" textLength="16.6" lengthAdjust="spacingAndGlyphs">2000</text>
<text x="233.2" y="550.3" font-size="7.5" text-anchor="middle" fill="#2a2a2a" stroke="#2a2a2a" stroke-width="0.15" textLength="16.6" lengthAdjust="spacingAndGlyphs">3000</text>
<text x="255.7" y="550.3" font-size="7.5" text-anchor="middle" fill="#2a2a2a" stroke="#2a2a2a" stroke-width="0.15" textLength="16.6" lengthAdjust="spacingAndGlyphs">4000</text>
<text x="450.3" y="549.6" font-size="7.5" text-anchor="middle" fill="#2a2a2a" stroke="#2a2a2a" stroke-width="0.15">0</text>
<text x="465.5" y="549.6" font-size="7.5" text-anchor="middle" fill="#2a2a2a" stroke="#2a2a2a" stroke-width="0.15" textLength="16.6" lengthAdjust="spacingAndGlyphs">1000</text>
<text x="485.2" y="549.6" font-size="7.5" text-anchor="middle" fill="#2a2a2a" stroke="#2a2a2a" stroke-width="0.15" textLength="16.6" lengthAdjust="spacingAndGlyphs">2000</text>
<text x="505" y="549.6" font-size="7.5" text-anchor="middle" fill="#2a2a2a" stroke="#2a2a2a" stroke-width="0.15" textLength="16.6" lengthAdjust="spacingAndGlyphs">3000</text>
<text x="524.9" y="549.6" font-size="7.5" text-anchor="middle" fill="#2a2a2a" stroke="#2a2a2a" stroke-width="0.15" textLength="16.6" lengthAdjust="spacingAndGlyphs">4000</text>
<text x="544.6" y="549.6" font-size="7.5" text-anchor="middle" fill="#2a2a2a" stroke="#2a2a2a" stroke-width="0.15" textLength="16.6" lengthAdjust="spacingAndGlyphs">5000</text>
<text x="177.9" y="458.46" font-size="9.6" fill="#1a1a1a" stroke="#1a1a1a" stroke-width="0.19" textLength="83.5" lengthAdjust="spacingAndGlyphs">Myofiber CSA (<tspan font-family="Liberation Serif">μ</tspan>m<tspan font-size="6" dy="-3.5">2</tspan><tspan dy="3.5">)</tspan></text>
<text x="451.3" y="459.16" font-size="9.6" fill="#1a1a1a" stroke="#1a1a1a" stroke-width="0.19" textLength="82.8" lengthAdjust="spacingAndGlyphs">Myofiber CSA (<tspan font-family="Liberation Serif">μ</tspan>m<tspan font-size="6" dy="-3.5">2</tspan><tspan dy="3.5">)</tspan></text>
<text x="178.3" y="561.76" font-size="9.6" fill="#1a1a1a" stroke="#1a1a1a" stroke-width="0.19" textLength="82.4" lengthAdjust="spacingAndGlyphs">Myofiber CSA (<tspan font-family="Liberation Serif">μ</tspan>m<tspan font-size="6" dy="-3.5">2</tspan><tspan dy="3.5">)</tspan></text>
<text x="457.1" y="561.46" font-size="9.6" fill="#1a1a1a" stroke="#1a1a1a" stroke-width="0.19" textLength="82.7" lengthAdjust="spacingAndGlyphs">Myofiber CSA (<tspan font-family="Liberation Serif">μ</tspan>m<tspan font-size="6" dy="-3.5">2</tspan><tspan dy="3.5">)</tspan></text>
<text x="166.78" y="404" font-size="9.4" text-anchor="middle" fill="#1a1a1a" stroke="#1a1a1a" stroke-width="0.19" transform="rotate(-90 166.78 404)" textLength="47.2" lengthAdjust="spacingAndGlyphs">Percentage</text>
<text x="431.38" y="404.3" font-size="9.4" text-anchor="middle" fill="#1a1a1a" stroke="#1a1a1a" stroke-width="0.19" transform="rotate(-90 431.38 404.3)" textLength="47.2" lengthAdjust="spacingAndGlyphs">Percentage</text>
<text x="166.98" y="506.8" font-size="9.4" text-anchor="middle" fill="#1a1a1a" stroke="#1a1a1a" stroke-width="0.19" transform="rotate(-90 166.98 506.8)" textLength="47.2" lengthAdjust="spacingAndGlyphs">Percentage</text>
<text x="430.48" y="506.8" font-size="9.4" text-anchor="middle" fill="#1a1a1a" stroke="#1a1a1a" stroke-width="0.19" transform="rotate(-90 430.48 506.8)" textLength="47.2" lengthAdjust="spacingAndGlyphs">Percentage</text>
<g transform="translate(10.41 403.3) rotate(-90)"><text x="-18.8" y="0" font-size="9.2" fill="#1a1a1a" stroke="#1a1a1a" stroke-width="0.18" textLength="17.88" lengthAdjust="spacingAndGlyphs">Tmx</text><text x="18.8" y="0" font-size="9.2" fill="#1a1a1a" stroke="#1a1a1a" stroke-width="0.18" text-anchor="end" textLength="10.23" lengthAdjust="spacingAndGlyphs">2d</text><path d="M0.19 -2.48H5.81" stroke="#1a1a1a" stroke-width="0.83"/><path d="M7.47 -2.48L4.71 -4.23L4.71 -0.74Z" fill="#1a1a1a"/></g>
<text x="21.72" y="401.7" font-size="9.5" text-anchor="middle" fill="#1a1a1a" stroke="#1a1a1a" stroke-width="0.19" transform="rotate(-90 21.72 401.7)" textLength="87.4" lengthAdjust="spacingAndGlyphs">Number of myofibers</text>
<g transform="translate(10.41 500.6) rotate(-90)"><text x="-19.1" y="0" font-size="9.2" fill="#1a1a1a" stroke="#1a1a1a" stroke-width="0.18" textLength="17.88" lengthAdjust="spacingAndGlyphs">Tmx</text><text x="19.1" y="0" font-size="9.2" fill="#1a1a1a" stroke="#1a1a1a" stroke-width="0.18" text-anchor="end" textLength="11.76" lengthAdjust="spacingAndGlyphs">6w</text><path d="M-0.11 -2.48H4.58" stroke="#1a1a1a" stroke-width="0.83"/><path d="M6.24 -2.48L3.48 -4.23L3.48 -0.74Z" fill="#1a1a1a"/></g>
<text x="21.72" y="504" font-size="9.5" text-anchor="middle" fill="#1a1a1a" stroke="#1a1a1a" stroke-width="0.19" transform="rotate(-90 21.72 504)" textLength="88.5" lengthAdjust="spacingAndGlyphs">Number of myofibers</text>
<text x="282.02" y="401" font-size="9.5" text-anchor="middle" fill="#1a1a1a" stroke="#1a1a1a" stroke-width="0.19" transform="rotate(-90 282.02 401)" textLength="88" lengthAdjust="spacingAndGlyphs">Number of myofibers</text>
<text x="282.02" y="501" font-size="9.5" text-anchor="middle" fill="#1a1a1a" stroke="#1a1a1a" stroke-width="0.19" transform="rotate(-90 282.02 501)" textLength="88" lengthAdjust="spacingAndGlyphs">Number of myofibers</text>
<text x="93.42" y="401" font-size="9.5" text-anchor="middle" fill="#1a1a1a" stroke="#1a1a1a" stroke-width="0.19" transform="rotate(-90 93.42 401)" textLength="85" lengthAdjust="spacingAndGlyphs">Myofiber CSA (<tspan font-family="Liberation Serif">μ</tspan>m<tspan font-size="6" dy="-3.5">2</tspan><tspan dy="3.5">)</tspan></text>
<text x="93.42" y="503" font-size="9.5" text-anchor="middle" fill="#1a1a1a" stroke="#1a1a1a" stroke-width="0.19" transform="rotate(-90 93.42 503)" textLength="85" lengthAdjust="spacingAndGlyphs">Myofiber CSA (<tspan font-family="Liberation Serif">μ</tspan>m<tspan font-size="6" dy="-3.5">2</tspan><tspan dy="3.5">)</tspan></text>
<text x="354.82" y="401" font-size="9.5" text-anchor="middle" fill="#1a1a1a" stroke="#1a1a1a" stroke-width="0.19" transform="rotate(-90 354.82 401)" textLength="85" lengthAdjust="spacingAndGlyphs">Myofiber CSA (<tspan font-family="Liberation Serif">μ</tspan>m<tspan font-size="6" dy="-3.5">2</tspan><tspan dy="3.5">)</tspan></text>
<text x="354.62" y="503" font-size="9.5" text-anchor="middle" fill="#1a1a1a" stroke="#1a1a1a" stroke-width="0.19" transform="rotate(-90 354.62 503)" textLength="85" lengthAdjust="spacingAndGlyphs">Myofiber CSA (<tspan font-family="Liberation Serif">μ</tspan>m<tspan font-size="6" dy="-3.5">2</tspan><tspan dy="3.5">)</tspan></text>
<text x="572" y="387.7" font-size="14.2" fill="#000" font-weight="bold">F</text>
<text x="594" y="388.88" font-size="9.4" fill="#1a1a1a" stroke="#1a1a1a" stroke-width="0.19" font-style="italic" textLength="58.8" lengthAdjust="spacingAndGlyphs">Fbxo32/Cmas</text>
<text x="597.5" y="403.75" font-size="9.9" fill="#1a1a1a" stroke="#1a1a1a" stroke-width="0.2" textLength="54.8" lengthAdjust="spacingAndGlyphs"><tspan font-style="italic">P</tspan> = 2.3 x 10<tspan font-size="5.74" dy="-3.56">-4</tspan></text>
<line x1="612" y1="408.7" x2="635.8" y2="408.7" stroke="#555" stroke-width="1.15"/>
<line x1="595.4" y1="408.2" x2="595.4" y2="500.7" stroke="#111" stroke-width="1.25"/>
<line x1="594.9" y1="500.2" x2="651.3" y2="500.2" stroke="#111" stroke-width="1.25"/>
<line x1="593.4" y1="500.2" x2="595.4" y2="500.2" stroke="#111" stroke-width="0.9"/>
<text x="592.2" y="503.13" font-size="8.14" text-anchor="end" fill="#2a2a2a" stroke="#2a2a2a" stroke-width="0.16" textLength="4.2" lengthAdjust="spacingAndGlyphs">0</text>
<line x1="593.4" y1="469.7" x2="595.4" y2="469.7" stroke="#111" stroke-width="0.9"/>
<text x="592.2" y="472.63" font-size="8.14" text-anchor="end" fill="#2a2a2a" stroke="#2a2a2a" stroke-width="0.16" textLength="4.2" lengthAdjust="spacingAndGlyphs">2</text>
<line x1="593.4" y1="439.2" x2="595.4" y2="439.2" stroke="#111" stroke-width="0.9"/>
<text x="592.2" y="442.13" font-size="8.14" text-anchor="end" fill="#2a2a2a" stroke="#2a2a2a" stroke-width="0.16" textLength="4.2" lengthAdjust="spacingAndGlyphs">4</text>
<line x1="593.4" y1="408.7" x2="595.4" y2="408.7" stroke="#111" stroke-width="0.9"/>
<text x="592.2" y="411.63" font-size="8.14" text-anchor="end" fill="#2a2a2a" stroke="#2a2a2a" stroke-width="0.16" textLength="4.2" lengthAdjust="spacingAndGlyphs">6</text>
<rect x="604" y="485.2" width="15.6" height="15" fill="#0202ee" stroke="#10104a" stroke-width="0.7"/>
<line x1="611.8" y1="479.1" x2="611.8" y2="485.2" stroke="#111" stroke-width="0.9"/>
<line x1="608.8" y1="479.1" x2="614.8" y2="479.1" stroke="#111" stroke-width="0.9"/>
<circle cx="608.88" cy="486.84" r="0.95" fill="#111"/>
<circle cx="608.71" cy="483.22" r="0.95" fill="#111"/>
<circle cx="612.63" cy="482.69" r="0.95" fill="#111"/>
<circle cx="612.82" cy="483.34" r="0.95" fill="#111"/>
<rect x="627.9" y="437.3" width="15.7" height="62.9" fill="#de0202" stroke="#3a0000" stroke-width="0.7"/>
<line x1="635.7" y1="418" x2="635.7" y2="437.3" stroke="#111" stroke-width="0.9"/>
<line x1="632.7" y1="418" x2="638.7" y2="418" stroke="#111" stroke-width="0.9"/>
<circle cx="611.8" cy="474.5" r="0.95" fill="#111"/>
<circle cx="608" cy="485.5" r="0.95" fill="#111"/>
<circle cx="616" cy="485.5" r="0.95" fill="#111"/>
<circle cx="609" cy="490.3" r="0.95" fill="#111"/>
<circle cx="614" cy="490.3" r="0.95" fill="#111"/>
<circle cx="635.7" cy="415" r="0.95" fill="#111"/>
<circle cx="635.7" cy="423.5" r="0.95" fill="#111"/>
<circle cx="635.7" cy="434" r="0.95" fill="#111"/>
<circle cx="635.7" cy="449.8" r="0.95" fill="#111"/>
<circle cx="635.7" cy="462.5" r="0.95" fill="#111"/>
<text x="580.78" y="453" font-size="9.4" text-anchor="middle" fill="#1a1a1a" stroke="#1a1a1a" stroke-width="0.19" transform="rotate(-90 580.78 453)" textLength="70" lengthAdjust="spacingAndGlyphs">Relative quantity</text>
<text x="0.5" y="591.1" font-size="14.2" fill="#000" font-weight="bold">G</text>
<text x="49.4" y="591.62" font-size="9.5" text-anchor="middle" fill="#1a1a1a" stroke="#1a1a1a" stroke-width="0.19" textLength="33.2" lengthAdjust="spacingAndGlyphs">GFP Tg</text>
<text x="49.8" y="603.32" font-size="9.5" text-anchor="middle" fill="#1a1a1a" stroke="#1a1a1a" stroke-width="0.19" textLength="29.2" lengthAdjust="spacingAndGlyphs">muscle</text>
<defs><radialGradient id="spG" cx="0.5" cy="0.5" r="0.5"><stop offset="0" stop-color="#f2fbee"/><stop offset="0.6" stop-color="#d4f4c4"/><stop offset="1" stop-color="#a6e88c"/></radialGradient><radialGradient id="spB" cx="0.5" cy="0.5" r="0.5"><stop offset="0" stop-color="#e8eaff"/><stop offset="1" stop-color="#9ea4ec"/></radialGradient></defs>
<g transform="translate(79.2 615.1) rotate(-53.43)"><path d="M-26.52 0 C-11.93 -15.3 11.93 -15.3 26.52 0 C11.93 15.3 -11.93 15.3 -26.52 0Z" fill="url(#spG)" stroke="#222" stroke-width="1.1" stroke-linejoin="round"/><path d="M-23.52 0 C-10.61 8.62 10.61 8.62 23.52 0" fill="none" stroke="#3a4a3a" stroke-width="0.75"/><path d="M-23.52 0 C-10.61 2.87 10.61 2.87 23.52 0" fill="none" stroke="#3a4a3a" stroke-width="0.75"/><path d="M-23.52 0 C-10.61 -2.87 10.61 -2.87 23.52 0" fill="none" stroke="#3a4a3a" stroke-width="0.75"/><path d="M-23.52 0 C-10.61 -8.63 10.61 -8.63 23.52 0" fill="none" stroke="#3a4a3a" stroke-width="0.75"/></g>
<path d="M100.8 592.5 Q112 580 126 580.6" fill="none" stroke="#111" stroke-width="1.3"/>
<path d="M131.8 580.6 L124.5 576.3 L125.3 584.8Z" fill="#111"/>
<rect x="143.4" y="580.9" width="70.4" height="70" fill="none" stroke="#333" stroke-width="0.9"/>
<path d="M184.04 603.27h0.9M198.47 597.92h0.9M183.36 600.61h0.9M195.11 607.59h0.9M184.1 593.24h0.9M196.59 603.84h0.9M201.97 606.89h0.9M191.34 599.35h0.9M208.71 599.27h0.9M186.9 594.17h0.9M192.62 601.87h0.9M189.76 600.63h0.9M193.78 605.15h0.9M199.13 602.26h0.9M180.37 605.21h0.9M182.77 599.97h0.9M182.42 601.01h0.9M186.94 602.28h0.9M213.45 600.71h0.9M197.48 593.06h0.9M190.13 604.97h0.9M191.4 603.22h0.9M192.67 594.96h0.9M195.66 596.13h0.9M204.17 597.97h0.9M196.46 601.01h0.9M198.19 597.39h0.9M198.49 600.26h0.9M200.21 604.75h0.9M192.92 596.32h0.9M196.99 603.81h0.9M202.67 598.74h0.9M195.61 604.05h0.9M193.84 602.25h0.9M193.18 597.41h0.9M185.41 598.62h0.9M195.84 610.07h0.9M198.35 607.32h0.9M197.05 605.19h0.9M193.19 605.63h0.9M203.53 599.03h0.9M187.49 612.76h0.9M193.59 606.83h0.9M197.68 594.19h0.9M207.82 611.65h0.9M193.15 605.51h0.9M192.82 595.7h0.9M191.27 603.24h0.9M199.25 605.26h0.9M192.39 609.13h0.9M187.06 605.76h0.9M199.23 599.25h0.9M180.36 595.56h0.9M193.54 604.17h0.9M202.06 594.97h0.9M192.01 604.89h0.9M190.97 586.78h0.9M197.24 614.87h0.9M198.53 595.5h0.9M189.32 602.33h0.9M208.18 604.7h0.9M192.74 610.34h0.9M191.47 612.17h0.9M187.55 598.15h0.9M196.69 609.55h0.9M196.25 602.81h0.9M180.16 596.72h0.9M188.03 597.8h0.9M195.81 598.99h0.9M197.12 601.49h0.9M189.84 601.71h0.9M194.79 606.15h0.9M188.9 599.6h0.9M183.14 610.62h0.9M201.44 599.93h0.9M188.89 593.58h0.9M193.1 602.24h0.9M206.18 602.48h0.9M186.94 586.33h0.9M201.16 602.14h0.9M181.54 602.08h0.9M181.54 621.88h0.9M199.27 604.43h0.9M190.86 588.16h0.9M191.18 591.67h0.9M195.88 588.17h0.9M186.1 608.32h0.9M202.69 593.91h0.9M182.03 606.28h0.9M197.55 595.08h0.9M187.49 596.84h0.9M184.27 596.92h0.9M200.13 605.14h0.9M205.37 600.48h0.9M191.12 595.11h0.9M191.2 593.12h0.9M180.45 605.18h0.9M201.36 606.02h0.9M200.66 602.51h0.9M187.33 601.52h0.9M189.57 594.33h0.9M181 592.1h0.9M191.96 601.9h0.9M188.92 609.57h0.9M193.16 604.5h0.9M199.92 596.08h0.9M179.2 605.51h0.9M187.53 608.87h0.9M194.19 607.04h0.9M196.96 588.52h0.9M196.67 596.96h0.9M187.09 598.39h0.9M196.99 606.31h0.9M198.57 591.04h0.9M188.16 586.75h0.9M191.34 604.6h0.9M187.03 602.47h0.9M193.5 607.05h0.9M186.66 596.03h0.9M187.04 611.52h0.9M199.09 600.26h0.9M193.47 601.69h0.9M193.32 599.75h0.9M189.83 593.46h0.9M187.83 610.9h0.9M195.49 601.39h0.9M190.6 601.38h0.9M194.3 597.12h0.9M193.28 602.44h0.9M187.13 596.27h0.9M185.51 594.62h0.9M197.78 586.84h0.9M190.27 597.33h0.9M187.97 601.59h0.9M199.33 601.46h0.9M191.09 597.33h0.9M191.16 606.47h0.9M189.44 594.12h0.9M183.78 594.36h0.9M182.97 607.59h0.9M194.31 599.58h0.9M201.49 597.05h0.9M196.89 605.81h0.9M181.95 591.66h0.9M185.97 606.44h0.9M200.42 593.63h0.9M198.82 598.7h0.9M189.44 597.69h0.9M189.89 590.09h0.9M185.49 593.59h0.9M195.19 613.53h0.9M209.76 598.98h0.9M180.81 598.56h0.9M185.89 612.9h0.9M195.71 596.63h0.9M198.08 604.22h0.9M181.44 597.81h0.9M190.44 601.11h0.9M192.86 598.97h0.9M193.23 597.48h0.9M186.17 610.09h0.9M194.34 603.63h0.9M181.63 600h0.9M197.32 593.25h0.9M199.14 598.66h0.9M194.62 600.2h0.9M193.42 608.22h0.9M189.38 610.39h0.9M186.92 595.41h0.9M196.62 594.6h0.9M189.59 606.44h0.9M199.87 590.35h0.9M195.29 612.3h0.9M199.77 599.56h0.9M188.1 599.22h0.9M184.51 599.41h0.9M190.78 600.13h0.9M199.69 599.62h0.9M182.52 607.31h0.9M185.03 598.32h0.9M191.13 598.94h0.9M185.48 599.51h0.9M206.2 597.36h0.9M191.11 607.74h0.9M196.84 605.58h0.9M197.6 589.19h0.9M186.38 601.77h0.9M195.24 608.77h0.9M195.05 599.57h0.9M192.26 599.73h0.9M193.61 605.05h0.9M189.79 596.12h0.9M186.44 607.58h0.9M200.33 606.95h0.9M197.57 606h0.9M191.98 604.98h0.9M185.16 599.78h0.9M187.23 605.36h0.9M188.23 600.35h0.9M194.6 609.13h0.9M186.85 595.37h0.9M197.31 594.36h0.9M194.94 597.58h0.9M191.31 590.07h0.9M196.64 598h0.9M186.16 613.46h0.9M196.63 622.05h0.9M194.65 598.91h0.9M192.7 610.64h0.9M191.82 603.71h0.9M195.36 595.54h0.9M192.84 597.98h0.9M183.9 606.23h0.9M196.33 601.45h0.9M186.1 588.97h0.9M195.16 600.41h0.9M181.06 600.64h0.9M182.11 600.84h0.9M192.93 603.13h0.9M193.41 602.03h0.9M184.59 598.7h0.9M188.68 599.59h0.9M193.76 604.71h0.9M202.63 585.59h0.9M194.61 599.81h0.9M206.79 606.6h0.9M181.25 603.41h0.9M188.62 606.96h0.9M185.14 600.39h0.9M191.14 600.42h0.9M188.2 589.97h0.9M194.99 606.99h0.9M191.56 594.9h0.9M193.32 604.39h0.9M190.86 600.92h0.9M201.16 594.29h0.9M188.37 589.57h0.9M187.45 596.56h0.9M185.76 596.84h0.9M203.68 599.82h0.9M191.26 614.19h0.9M191.61 590.6h0.9M194.62 595.38h0.9M202.65 593.52h0.9M188.23 591.36h0.9M192.63 594.91h0.9M191.57 598.74h0.9M188.02 606.66h0.9M198.08 601.37h0.9M186.15 594.58h0.9M193.75 615.35h0.9M189.03 596.29h0.9M187.47 594.43h0.9M185.68 599.77h0.9M201.32 600.99h0.9M188.68 591.31h0.9M193.39 600.84h0.9M184.03 594.48h0.9M191.73 607.07h0.9M196.07 602.23h0.9M189.9 602.92h0.9M191.92 614.04h0.9M184.64 598.79h0.9M200.24 599.41h0.9M201.26 600.74h0.9M192.95 598.78h0.9M183.03 595.18h0.9M206.4 604.87h0.9M195.94 606.72h0.9M195.7 607.13h0.9M190.27 599.66h0.9M198.39 598.89h0.9M183.35 599.64h0.9M188.46 604.68h0.9M187.32 594.63h0.9M189.84 610.32h0.9M191.69 601.97h0.9M192.06 602.77h0.9M198.03 609.37h0.9M181.31 609.17h0.9M191.98 599.08h0.9M207.59 599.98h0.9M204.64 606.81h0.9M185.31 603.93h0.9M196.79 600.25h0.9M176.87 598.94h0.9M190.75 594.35h0.9M203.87 599.53h0.9M189.44 599.2h0.9M186.91 596.34h0.9M192.61 602.88h0.9M188.7 600.46h0.9M182.96 604.13h0.9M187.13 602.29h0.9M186.11 597.91h0.9M193.4 593.73h0.9M208.05 600.78h0.9M191.53 596.59h0.9M202.37 609.32h0.9M193.95 592.79h0.9M188.72 604.7h0.9M188.67 593.9h0.9M184.28 596.37h0.9M192.09 597.11h0.9M192.12 617.75h0.9M203.52 594.77h0.9M194.23 601.52h0.9M191.1 607.26h0.9M189.84 599.05h0.9M189.56 600.4h0.9M200.36 605.66h0.9M183.28 598.35h0.9M186.82 605.9h0.9M193.46 606.34h0.9M191.6 589.55h0.9M194.93 602.36h0.9M195.3 593.18h0.9M192.53 596.87h0.9M187.53 603.12h0.9M194.29 595.65h0.9M180.87 586.16h0.9M188.26 607.73h0.9M191.64 587.49h0.9M186.39 603.53h0.9M202.87 608.01h0.9M194.38 602.18h0.9M185.11 598.29h0.9M189.83 596.36h0.9M192.41 598.64h0.9M194.19 609.6h0.9M196.82 603.51h0.9M190.44 591.88h0.9M191.26 604.26h0.9M185.45 608.52h0.9M189.83 603.23h0.9M189.86 593.47h0.9M205.44 594.03h0.9M197.97 597.66h0.9M193.81 596.17h0.9M189.29 606.52h0.9M204.65 595.92h0.9M192.07 606.69h0.9M187.9 605.26h0.9M186.9 604.62h0.9M194.84 608.27h0.9M194.36 593.84h0.9M196.32 594.39h0.9M196.88 610.06h0.9M195.87 597.68h0.9M199.75 602.01h0.9M183.91 598.87h0.9M201.22 599.18h0.9M192.79 598.94h0.9M181.04 597.94h0.9M194.32 602.25h0.9M190.87 588.19h0.9M199.94 605.32h0.9M198.65 608.8h0.9M189.11 597.37h0.9M194.04 611.04h0.9" stroke="#6a78b0" stroke-width="0.9" stroke-opacity="0.55" fill="none"/>
<path d="M185.94 600.82h1.1M190.03 598.32h1.1M194.38 600.23h1.1M190.04 606.31h1.1M189.27 595.58h1.1M186.19 598.16h1.1M193.3 602.98h1.1M194.99 606.48h1.1M197.03 602.34h1.1M195.76 602.41h1.1M189.15 603.04h1.1M191.37 599.43h1.1M198.21 602.9h1.1M189.47 599.91h1.1M199.45 599.32h1.1M193.79 602.39h1.1M193 602.27h1.1M189.49 598.55h1.1M190.63 598.93h1.1M194.06 605.66h1.1M188.04 602.13h1.1M187.72 597.74h1.1M190.35 600.58h1.1M189.64 590.94h1.1M196.11 599.23h1.1M188.94 602.61h1.1M189.08 595.13h1.1M192.93 601.68h1.1M188.26 603.17h1.1M192.52 596.17h1.1M197.41 601.14h1.1M187.17 601.8h1.1M191.64 603.64h1.1M186.41 603.89h1.1M194.54 602.66h1.1M193.36 604.86h1.1M193.74 600.65h1.1M188.22 604.14h1.1M194.68 601.25h1.1M191.73 602.75h1.1M182.26 601.31h1.1M182.32 601.04h1.1M194.94 606.91h1.1M189.51 601.71h1.1M190.93 592.28h1.1M193.76 600.12h1.1M191.41 596.83h1.1M191.02 600.46h1.1M195.71 601.21h1.1M203.55 598.72h1.1M190.23 599.98h1.1M188.29 605.53h1.1M193.46 595.65h1.1M191.55 604.25h1.1M186.13 600.7h1.1M190.33 608.45h1.1M192.64 598.72h1.1M189.17 606.87h1.1M189.51 608.27h1.1M185.62 599.49h1.1M190.32 597.67h1.1M190.41 602.62h1.1M188.81 595.08h1.1M195.94 605.38h1.1M188.72 601.25h1.1M182.04 603.86h1.1M186.44 598.2h1.1M198.84 595.68h1.1M191.24 596.37h1.1M184.61 596.03h1.1M192.13 595.53h1.1M189.07 602.75h1.1M190.6 595.51h1.1M196.48 600.59h1.1M196.15 596.44h1.1M197.15 595.38h1.1M184.97 598.66h1.1M189.84 601.09h1.1M189.17 602.41h1.1M195.9 597.85h1.1M186.28 598.74h1.1M194.06 603.05h1.1M189.93 596.66h1.1M191.1 603.58h1.1M188.63 604.76h1.1M191.96 601.19h1.1M188.93 604.99h1.1M191.31 594.87h1.1M194.06 598.67h1.1M194.98 600.75h1.1M188.94 600.76h1.1M189.41 597.22h1.1M191.23 603.11h1.1M191.41 599.85h1.1M189.19 602.18h1.1M192.12 603.55h1.1M192.45 607.71h1.1M185.58 599.96h1.1M193.05 603.33h1.1M185.72 595.82h1.1M191 603.88h1.1M195.04 594.77h1.1M191.61 604.31h1.1M191.25 596.5h1.1M188.61 595.42h1.1M195.38 599.23h1.1M189.63 597.05h1.1M190.66 596.93h1.1M187.69 600h1.1M190.33 601.77h1.1M191.67 604.34h1.1M190.99 601.07h1.1M191.95 597.29h1.1M195.35 598.15h1.1M185.55 604.56h1.1M193.46 598.15h1.1M194.52 603.56h1.1M193.64 596h1.1M191.77 596.47h1.1M188.98 598.16h1.1" stroke="#a8a040" stroke-width="1.1" stroke-opacity="0.7" fill="none"/>
<path d="M188.4 647.31h0.9M183.52 635.77h0.9M190.99 644.33h0.9M192.01 644h0.9M188.63 640.16h0.9M184.24 641.53h0.9M186.94 645.57h0.9M194.02 637.92h0.9M194.6 642.25h0.9M197.57 647.65h0.9M193.65 636.1h0.9M194.34 636.87h0.9M200.81 640.05h0.9M188.43 648.81h0.9M177.3 642.49h0.9M182.18 640.55h0.9M184.12 644.8h0.9M187.64 643.61h0.9M194.31 636.33h0.9M199.68 641.52h0.9M178.04 640.06h0.9M195.97 645.94h0.9M184.91 642.76h0.9M191.5 646.07h0.9M188.84 645.88h0.9M183.46 639.84h0.9M194.54 644.98h0.9M189.47 644.56h0.9M191.29 645.14h0.9M198.1 644.26h0.9M195.66 641h0.9M185.84 634.02h0.9M192.73 642.52h0.9M193.61 635.73h0.9M186.35 640.42h0.9M176.94 645.64h0.9M198.53 637.86h0.9M192.99 648.57h0.9M181.15 645.94h0.9M201.16 649.07h0.9M180.08 638.61h0.9M191.31 646.71h0.9M180.82 639.72h0.9M181.84 646.36h0.9M185.82 644.46h0.9M194.44 646.56h0.9M192.81 643.62h0.9M198.12 644.12h0.9M180.78 640.49h0.9M196.31 642.91h0.9M187.3 643.29h0.9M213.59 642.23h0.9M193.28 644.05h0.9M187.88 646.69h0.9M195.97 643.84h0.9M180.11 646.93h0.9M195.32 642.11h0.9M170.49 642.2h0.9M181.11 641.58h0.9M186.16 639.43h0.9M197.09 642.82h0.9M198.69 638.94h0.9M188.45 647.31h0.9M192.16 639.8h0.9M183.42 640.28h0.9M189.21 644.88h0.9M190.86 645.12h0.9M195.85 642.84h0.9M199.08 645.06h0.9M188.49 641.81h0.9M189.68 639.75h0.9M180.16 642.54h0.9M186.12 644.51h0.9M185.51 642.75h0.9M191.23 640.71h0.9M191.19 639.8h0.9M186.72 645.28h0.9M192.59 642.38h0.9M184.14 644.9h0.9M204.13 634.57h0.9M197.34 643.17h0.9M197.68 646.59h0.9M182.47 648.64h0.9M185.52 641.49h0.9M194.28 642.08h0.9M191.69 640.53h0.9M182.31 642.45h0.9M181.92 647.21h0.9M191.52 647.43h0.9M180.8 634.91h0.9M173.37 641.02h0.9M180.49 643.67h0.9M179.27 637.4h0.9M191.77 640.96h0.9M194.63 645.28h0.9M192.3 638.01h0.9M183.52 650.52h0.9M188.12 643.43h0.9M190.65 642.28h0.9M188.52 640.35h0.9M186.03 635.14h0.9M201.74 641.99h0.9M180.32 644.23h0.9M194.54 637.19h0.9M186.02 647.74h0.9M193.65 643.91h0.9M196.9 641.9h0.9M187.63 648.1h0.9M188.43 642.09h0.9M194.33 642.5h0.9M180.89 649.17h0.9M189.23 648.82h0.9M193.4 639.11h0.9M200.85 641.75h0.9M183.58 642.27h0.9M174.36 643.83h0.9M184.53 641.47h0.9M183.35 644.8h0.9M192.32 646.25h0.9M201.69 643.38h0.9M190.41 643.47h0.9M183.91 640.41h0.9M195.16 639.29h0.9M175.84 641.11h0.9M191.58 647.64h0.9M184.61 639.02h0.9M190.43 641.81h0.9M191.53 640.52h0.9M191.16 640.29h0.9M196.79 643.36h0.9M193.83 640.79h0.9M179.45 642.41h0.9M189.34 646.3h0.9M196.63 642.23h0.9M189.39 638.82h0.9M189.42 643.11h0.9M186.74 638.48h0.9M198.86 639.04h0.9M201.53 646.57h0.9M200.74 639.32h0.9M194.18 637.38h0.9M187.11 636.9h0.9M184.46 640.54h0.9M196.53 646.19h0.9M187.04 641.32h0.9M182.96 638.27h0.9M176.94 641.56h0.9M193.89 639.6h0.9M192.26 638.22h0.9M182.49 640.42h0.9M195.93 640.45h0.9M195.08 641.06h0.9M181.75 635.17h0.9M186.25 638.9h0.9M196.05 643.87h0.9M177.98 645.29h0.9M193.39 632h0.9M182.19 643.16h0.9M178.28 639.71h0.9M193.27 643.17h0.9M192.78 644.46h0.9M183.33 650.75h0.9M193.28 649.86h0.9M187.69 644.27h0.9M191.99 641.76h0.9M191.79 643.2h0.9M195.32 643.41h0.9M189.96 644h0.9M199.78 642.53h0.9M193.84 642.77h0.9M175.69 639.1h0.9M183.08 637.37h0.9M185.18 636.05h0.9M191.45 640.38h0.9M198.19 643.62h0.9M180.57 641.5h0.9M189.86 639.88h0.9M186.99 638.45h0.9M184.38 643.24h0.9M187.19 646.51h0.9M174.62 639.46h0.9M186.91 647.45h0.9M197.34 644.91h0.9M196.36 647.85h0.9M194.24 641.42h0.9M190.76 639.7h0.9M187.89 643.54h0.9M185.93 642.59h0.9M186.41 637.61h0.9M179.35 644.65h0.9M189.66 645.13h0.9M188.71 642.17h0.9M191.28 641.02h0.9M199.07 645.71h0.9M192.18 638.53h0.9M185.63 642.91h0.9M197.49 642.03h0.9M189.16 644h0.9M190.15 641.61h0.9M181.42 646.45h0.9M188.93 640.34h0.9M188.55 637.5h0.9M177.52 635.89h0.9M191.85 637.49h0.9M190.01 637.96h0.9M176.76 639.94h0.9M184.02 639.68h0.9M201.26 642.79h0.9M185.02 645.13h0.9M186.92 646.33h0.9M178.22 645.87h0.9M181.57 639.51h0.9M190.55 638.31h0.9M177.64 640.68h0.9M187.01 636.31h0.9M195.92 639.17h0.9M184.75 641.23h0.9M189.41 645.73h0.9M174 642.06h0.9M195.26 642.86h0.9M188.52 638.13h0.9M191.39 640.32h0.9M189.98 638.31h0.9M186.82 641.51h0.9M178.66 645.62h0.9M188.16 637.51h0.9M187.25 642.46h0.9M186.61 638.39h0.9M187.44 637.25h0.9M177.35 646.12h0.9M200.94 648.53h0.9M204.83 646.75h0.9M182.48 640.02h0.9M196.71 640.35h0.9M186.54 641.93h0.9M191.95 637.22h0.9M189.22 643.72h0.9M174.65 645.94h0.9M194.38 639.15h0.9M201.82 643.47h0.9M192.36 647.42h0.9M170.98 642.03h0.9M196.46 646.98h0.9M188.76 641.36h0.9M183.64 640.83h0.9M182.99 633.59h0.9M184.89 638.47h0.9M184.79 640.39h0.9M185.59 642.35h0.9M188.53 640.73h0.9M184.66 641.63h0.9M186.8 641.54h0.9M198.66 642.84h0.9M186.21 634.81h0.9M178.81 631.64h0.9M195.15 645.85h0.9M186.15 640.36h0.9M192.31 644h0.9M176.82 641.1h0.9M186.79 637.58h0.9" stroke="#6a78b0" stroke-width="0.9" stroke-opacity="0.55" fill="none"/>
<path d="M193.38 643.94h1.1M183.02 638.12h1.1M188.09 643.52h1.1M187.91 639.08h1.1M186.52 644.87h1.1M182.98 644.1h1.1M190.59 642.96h1.1M191.57 640.91h1.1M188.03 645.6h1.1M186.96 641.16h1.1M182.9 641.06h1.1M191.46 644.5h1.1M191.1 643.27h1.1M190.84 642.68h1.1M192.53 641.72h1.1M192.79 641.87h1.1M182.16 639.46h1.1M187.75 641.1h1.1M183.7 640.49h1.1M189.25 642.81h1.1M191.89 640.3h1.1M190.02 644.06h1.1M189.92 645.51h1.1M186.64 642h1.1M189.22 641.21h1.1M188.32 642.47h1.1M188.38 641.02h1.1M186.76 641.86h1.1M182.46 642.37h1.1M184.2 641.52h1.1M184.23 642.2h1.1M187.03 641.5h1.1M185.6 642.23h1.1M194.78 638.46h1.1M190.53 642.45h1.1M187 639.51h1.1M194.7 642.37h1.1M192.44 641.28h1.1M185.51 644.12h1.1M191.4 641.42h1.1M187.67 643.22h1.1M185.39 640.37h1.1M188.35 643.98h1.1M191.88 642.38h1.1M193.78 641.72h1.1M186.59 646.59h1.1M186.58 643.18h1.1M190.69 642.25h1.1M189.41 643.37h1.1M190.69 640.88h1.1M188.55 644.72h1.1M191.38 641.17h1.1M188.78 640.09h1.1M183.51 640.99h1.1M194.79 640.81h1.1M180.83 641.8h1.1M185.87 643.46h1.1M193.37 641.37h1.1M189.01 640.28h1.1M193.25 640.6h1.1M188.66 646.66h1.1M184.93 642.35h1.1M188.35 642.93h1.1M190.37 644.92h1.1M190.46 643.2h1.1M183.75 642.81h1.1M183.37 644.39h1.1M188.34 643.92h1.1M186.63 642.48h1.1M188.89 643.11h1.1M188.15 640.89h1.1M187.1 640.77h1.1M184.97 639.67h1.1M182.87 645.7h1.1M185.68 639.87h1.1M192.41 642.59h1.1M188.05 644.24h1.1M195.8 640.38h1.1M194.09 643.15h1.1M193.08 641h1.1M195.09 644.29h1.1M178.45 644.51h1.1M193.8 639.33h1.1M189.86 641.69h1.1M189.43 640.36h1.1M191.08 643.47h1.1M188.16 641.9h1.1M181.84 643.09h1.1M183.6 642.07h1.1M185.44 647.11h1.1" stroke="#90a050" stroke-width="1.1" stroke-opacity="0.7" fill="none"/>
<path d="M189.6 621.8h0.9M188.79 618.49h0.9M189.74 621.91h0.9M193.4 615.77h0.9M199.36 602.56h0.9M189.23 627.44h0.9M188.16 617.3h0.9M188.76 626.31h0.9M194.11 612.48h0.9M189.84 617.92h0.9M193.26 618.73h0.9M189.51 628.57h0.9M187.58 623.17h0.9M185.53 619.76h0.9M180.64 616.14h0.9M186.51 617.15h0.9M197.55 607.19h0.9M179.38 622.88h0.9M191.18 622.39h0.9M193.43 634.49h0.9M186.67 613.1h0.9M187.93 628.83h0.9M190.39 620.21h0.9M189.93 623.25h0.9M181.48 624.25h0.9M185.19 619.94h0.9M186.49 621.95h0.9M192.54 620.2h0.9M189.32 627.16h0.9M190.59 617.32h0.9M191.99 618.94h0.9M187.53 622.85h0.9M194.96 616.12h0.9M187.04 622.48h0.9M185.12 622.28h0.9M193.92 610.38h0.9M188.82 617.07h0.9M197.19 625.27h0.9M191.21 620.8h0.9M184.42 622h0.9M190.17 621.74h0.9M196.14 626.37h0.9M184.96 619.17h0.9M189.93 614.07h0.9M187.91 617.69h0.9M189.46 622.41h0.9M186.12 629.52h0.9M186.31 625.8h0.9M184.4 615.64h0.9M186.15 619.07h0.9M192.13 612.3h0.9M195.63 614.14h0.9M194.92 622.84h0.9M186.71 626.86h0.9M186.78 621.62h0.9M189.04 639.57h0.9M184.69 633.58h0.9M187.61 617.22h0.9M186.72 629.43h0.9M187.92 616.78h0.9" stroke="#8890c0" stroke-width="0.9" stroke-opacity="0.5" fill="none"/>
<path d="M156.52 648.06h0.9M156.11 646.9h0.9M155.53 647.76h0.9M157.84 649.96h0.9M159.69 645.19h0.9M157.44 646.67h0.9M157.93 641.99h0.9M159.22 636.51h0.9M157.91 652.41h0.9M159.05 640.14h0.9M160.18 645.66h0.9M156.83 642.9h0.9M158.28 647.97h0.9M157.82 651.15h0.9M156.79 648h0.9M154.97 638.33h0.9M157.84 646.01h0.9M161.73 643.92h0.9M158.61 640.88h0.9M158.11 647.02h0.9M157.26 648.67h0.9M160.84 647.18h0.9M157.96 644.44h0.9M159.28 641.6h0.9M159.98 643.06h0.9M158.62 641.31h0.9M156.22 642.32h0.9M159.1 645.28h0.9M158.23 648.55h0.9M156.3 648.19h0.9M156.91 642.02h0.9M156.99 648.8h0.9M161.34 643.21h0.9M155.94 639.66h0.9M158.13 646.6h0.9M158.85 645.98h0.9M160.8 645.28h0.9M158.86 644.16h0.9M156.16 637.33h0.9M158.11 642.99h0.9M157.01 642.95h0.9M158.13 645.47h0.9M153.57 643.75h0.9M158.9 646.2h0.9M157.57 645.63h0.9M154.84 646.25h0.9M157.45 645.24h0.9M159.31 645.44h0.9M155.74 638.09h0.9M157.07 644.97h0.9M158.44 648.55h0.9M158.77 646.09h0.9M154.49 647.7h0.9M158.32 652.23h0.9M159.52 642.38h0.9M158.2 647.21h0.9M156.15 639.32h0.9M158.88 643.16h0.9M157.62 645.33h0.9M157.44 647.76h0.9" stroke="#806050" stroke-width="0.9" stroke-opacity="0.6" fill="none"/>
<path d="M149.86 605.51h0.9M186.22 606.34h0.9M177.21 582.05h0.9M171.43 602.62h0.9M188.59 612.99h0.9M174.76 596.27h0.9M162.77 609.84h0.9M194.2 574.33h0.9M133.97 647.53h0.9M198.69 622.55h0.9M180.67 602.73h0.9M170.06 587.86h0.9M184.23 606.57h0.9M146.94 600.75h0.9M167.25 598.15h0.9M203.89 630.99h0.9M128.74 619.77h0.9M191.12 635.58h0.9M187.2 572.71h0.9M188.42 611.94h0.9M197.16 619.59h0.9M153.33 646.08h0.9M157.94 631.99h0.9M181.98 600.18h0.9M142.05 594.2h0.9M161.97 607.14h0.9M172.35 641.45h0.9M181.71 632.93h0.9M158.29 602.18h0.9M189.1 629.18h0.9M185.62 602.1h0.9M159.88 644.29h0.9M165.16 603.21h0.9M198.38 611.85h0.9M165.93 626.49h0.9M172.21 635.24h0.9M173.41 594.63h0.9M211.69 634.05h0.9M177.42 608.03h0.9M155.4 599.25h0.9M156.38 626.71h0.9M193.11 603.99h0.9M167.82 617.48h0.9M174.93 620.29h0.9M182.44 617.95h0.9M184.49 591.29h0.9M185.65 571.91h0.9M176.66 604.68h0.9M180.52 606.44h0.9M178.51 575.9h0.9M167.18 594.71h0.9M180.26 613.45h0.9M168.19 599.87h0.9M164.23 607.15h0.9M181.06 622.88h0.9M172.46 589.47h0.9M162.37 622.97h0.9M159.1 602.79h0.9M140.53 625.94h0.9M175.11 597.02h0.9M171.23 620.59h0.9M172.79 613.26h0.9M174.37 586.7h0.9M148.8 627.79h0.9M166.26 630.83h0.9M191.13 600.2h0.9M164.83 598.76h0.9M198.47 609.64h0.9M170.68 625.93h0.9M160.79 598.16h0.9M165.95 608.28h0.9M155.58 597.14h0.9M176.44 590.42h0.9M159.38 617.15h0.9M159.52 605.39h0.9M185.92 611.07h0.9M201.12 607.42h0.9M152.11 616.12h0.9M177.66 623.77h0.9M153.43 606.92h0.9M190.58 613.5h0.9M191.01 596.21h0.9M181.38 609.64h0.9M197.4 591.36h0.9M192.13 613.65h0.9M175.58 597.27h0.9M158.86 581.7h0.9M179.04 591.69h0.9M191.27 618.03h0.9M181.61 630.72h0.9M173.42 626.5h0.9M150.06 600.96h0.9M189.11 607.16h0.9M198.29 611.4h0.9M162.46 635.66h0.9M176.77 605.89h0.9M173.62 595.37h0.9M169.51 624.62h0.9M164.85 606.79h0.9M163.58 610.51h0.9M182.53 619.63h0.9M169.92 595.92h0.9M179.1 626.34h0.9M184.15 660.61h0.9M176.86 599.96h0.9M170.93 628.54h0.9M161.33 606.87h0.9M151.6 605.56h0.9M185.15 628.99h0.9M183.87 629.13h0.9M164.67 639.61h0.9M200.72 579.33h0.9M158.82 623.73h0.9M185.8 634.76h0.9M177.59 591.3h0.9M164.73 637.3h0.9M175.06 577.74h0.9M172.49 623.02h0.9M174.96 621.72h0.9M182.15 610.41h0.9" stroke="#b0b8d8" stroke-width="0.9" stroke-opacity="0.5" fill="none"/>
<rect x="173.7" y="627.6" width="32.1" height="22.1" fill="none" stroke="#111" stroke-width="1.3"/>
<text x="141.5" y="585.2" font-size="2.8" text-anchor="end" fill="#444" stroke="#444" stroke-width="0.06">10⁵</text>
<text x="141.5" y="602.2" font-size="2.8" text-anchor="end" fill="#444" stroke="#444" stroke-width="0.06">10⁴</text>
<text x="141.5" y="618.7" font-size="2.8" text-anchor="end" fill="#444" stroke="#444" stroke-width="0.06">10³</text>
<text x="141.5" y="635.7" font-size="2.8" text-anchor="end" fill="#444" stroke="#444" stroke-width="0.06">10²</text>
<text x="141.5" y="642.7" font-size="2.8" text-anchor="end" fill="#444" stroke="#444" stroke-width="0.06">0</text>
<text x="141.5" y="649.2" font-size="2.8" text-anchor="end" fill="#444" stroke="#444" stroke-width="0.06">-10²</text>
<text x="147.5" y="655.8" font-size="2.8" text-anchor="middle" fill="#444" stroke="#444" stroke-width="0.06">-10²</text>
<text x="159" y="655.8" font-size="2.8" text-anchor="middle" fill="#444" stroke="#444" stroke-width="0.06">0</text>
<text x="169.5" y="655.8" font-size="2.8" text-anchor="middle" fill="#444" stroke="#444" stroke-width="0.06">10²</text>
<text x="186" y="655.8" font-size="2.8" text-anchor="middle" fill="#444" stroke="#444" stroke-width="0.06">10³</text>
<text x="202" y="655.8" font-size="2.8" text-anchor="middle" fill="#444" stroke="#444" stroke-width="0.06">10⁴</text>
<text x="121.18" y="621" font-size="9.4" text-anchor="middle" fill="#1a1a1a" stroke="#1a1a1a" stroke-width="0.19" transform="rotate(-90 121.18 621)" textLength="48" lengthAdjust="spacingAndGlyphs">CD31, CD45</text>
<text x="130.88" y="621" font-size="9.4" text-anchor="middle" fill="#1a1a1a" stroke="#1a1a1a" stroke-width="0.19" transform="rotate(-90 130.88 621)" textLength="34" lengthAdjust="spacingAndGlyphs">-PE/Cy7</text>
<text x="177.6" y="666.4" font-size="9.4" text-anchor="middle" fill="#1a1a1a" stroke="#1a1a1a" stroke-width="0.19" textLength="19.5" lengthAdjust="spacingAndGlyphs">GFP</text>
<path d="M206 647 Q212 660 232 656.2" fill="none" stroke="#111" stroke-width="1.3"/>
<path d="M240 655.2 L232 651.2 L232.8 659.8Z" fill="#111"/>
<rect x="242.3" y="580.6" width="70" height="70.7" fill="none" stroke="#333" stroke-width="0.9"/>
<path d="M269.01 603.29h0.9M255.2 597.86h0.9M265.38 604.33h0.9M265.84 597.2h0.9M255.4 599.94h0.9M270.67 600.05h0.9M259.07 599.52h0.9M263.78 598.25h0.9M262.29 600.73h0.9M276.74 599.94h0.9M270.81 597.56h0.9M269.86 600.47h0.9M257.54 600.02h0.9M270.24 599.29h0.9M271.35 603.81h0.9M276.61 604.05h0.9M251.09 600.92h0.9M256.29 602.4h0.9M262.96 600.63h0.9M266.38 598.63h0.9M263.16 598.32h0.9M280.7 598.97h0.9M262.46 595.76h0.9M249.28 598.03h0.9M269.35 601.98h0.9M264.81 598.52h0.9M278.67 597.57h0.9M254.77 601.28h0.9M253.53 600.74h0.9M270.89 599.92h0.9M265.93 600.19h0.9M256.37 592.3h0.9M251.54 600.07h0.9M247.8 598.71h0.9M264.16 603.37h0.9M250.22 598.79h0.9M264.32 601.38h0.9M250.08 604.67h0.9M255.08 602.77h0.9M260.54 601.09h0.9M277.12 601.84h0.9M263.47 597.61h0.9M256.51 596.57h0.9M280.24 596.25h0.9M239.43 604.15h0.9M273.68 599.2h0.9M269.76 598.05h0.9M257.19 601.33h0.9M265.81 598.96h0.9M276.76 601.91h0.9M263.55 597.16h0.9M263.53 599.3h0.9M261.63 602.07h0.9M257.18 600.74h0.9M269.41 600.96h0.9M282.77 595.76h0.9M261.73 597.15h0.9M261.68 606.32h0.9M247.65 599.35h0.9M268.12 600.31h0.9M270.44 596.22h0.9M270.97 597.7h0.9M251.38 601.48h0.9M266.51 598.26h0.9M254.93 599.57h0.9M262.15 599.64h0.9M253.17 594.3h0.9M273.95 600.49h0.9M251.12 596.16h0.9M256.01 599.03h0.9M243.16 603.53h0.9M266 599.25h0.9M265.31 600.62h0.9M271.67 600.43h0.9M273.46 603.89h0.9M259.38 598.92h0.9M254.27 599.47h0.9M255.67 600.07h0.9M264.89 601.38h0.9M251.81 602.73h0.9M259.37 599.76h0.9M257.54 595.07h0.9M264.42 595.63h0.9M272.04 600.14h0.9M276.09 601.65h0.9M268.42 603.52h0.9M261.75 603.86h0.9M260.98 600.67h0.9M256.07 601.38h0.9M268.11 598.78h0.9M250.64 599.94h0.9M265.88 599.64h0.9M253.37 598.23h0.9M259.72 593.5h0.9M256.85 603.6h0.9M250.61 599.48h0.9M277.22 601.79h0.9M270.34 599.66h0.9M250.2 607.19h0.9M264.79 600.62h0.9M276.79 602.04h0.9M262.61 597.28h0.9M260.7 599.65h0.9M256.02 597.87h0.9M253.11 599.73h0.9M256.76 601.04h0.9M271.15 600.81h0.9M262.26 603.9h0.9M267.92 596.34h0.9M255.64 600.5h0.9M254.18 601.9h0.9M246.37 595.27h0.9M270.84 601.46h0.9M247.71 600.2h0.9M274.09 597.24h0.9M251.39 596.99h0.9M253.23 595.69h0.9M257.71 596.4h0.9M262.59 605.57h0.9M252.63 602.27h0.9M272.5 594.26h0.9M263.02 599.98h0.9M259.02 602h0.9M258.09 600.89h0.9M258.54 599.67h0.9M255 605.67h0.9M261.52 597.22h0.9M279.49 603.93h0.9M260.26 598.37h0.9M255.42 603.08h0.9M259.09 598.23h0.9M269.57 599.34h0.9M261.54 604.83h0.9M269.76 603.1h0.9M265.76 603.21h0.9M260.49 602.4h0.9M271.4 598.98h0.9M250.5 601.34h0.9M260.93 601.52h0.9M256.63 601.32h0.9M270.64 605.89h0.9M278.03 600.98h0.9M274.89 598.44h0.9M272.54 600.35h0.9M273.94 600.84h0.9M259.95 598.24h0.9M273.27 600.15h0.9M268.41 601.2h0.9M243.7 601.51h0.9M258.68 600.98h0.9M266.34 595.51h0.9M259.19 599.85h0.9M265.49 602.35h0.9M255.91 599.43h0.9M267.6 595.44h0.9M278.64 597.65h0.9M273.82 600.36h0.9M278.89 602.6h0.9M261.71 595.78h0.9M263.19 600.81h0.9M266.9 596.87h0.9M254.61 598.06h0.9M264.53 597.84h0.9M260.96 602.32h0.9M258.25 603.35h0.9M264.66 599.39h0.9M271.82 601.23h0.9M259.45 598.54h0.9M261.61 600.86h0.9M272.24 600.68h0.9" stroke="#8088b8" stroke-width="0.9" stroke-opacity="0.55" fill="none"/>
<path d="M292.92 609.14h0.9M309.75 613.22h0.9M291.12 612.79h0.9M287.06 605.5h0.9M293.07 607.21h0.9M294.67 608.67h0.9M279.73 601.74h0.9M285.06 597.49h0.9M289.55 608.17h0.9M295.39 604.57h0.9M288.67 613.62h0.9M294.27 603.58h0.9M298.77 606.07h0.9M296.9 608.13h0.9M287.59 602.17h0.9M289.27 625.01h0.9M286.33 619.66h0.9M297.66 607.55h0.9M296.44 618.73h0.9M288.26 606.67h0.9M296.46 612.25h0.9M302.26 612.75h0.9M283.37 609.71h0.9M283.18 614.75h0.9M294.08 607.42h0.9M284.9 615.65h0.9M287.83 617.72h0.9M284.35 608.29h0.9M286.87 603.48h0.9M305.73 620.6h0.9M286.4 615.02h0.9M279.62 617.92h0.9M296.29 607.87h0.9M287.99 611.58h0.9M292.67 607.75h0.9M285.12 608.39h0.9M287.56 614.97h0.9M290.54 611.54h0.9M280.44 607.64h0.9M287.78 606.79h0.9M289.38 608.16h0.9M281.26 615.99h0.9M295.37 606.83h0.9M293.68 604.21h0.9M282.79 608.81h0.9M299.06 609.46h0.9M281.26 611.63h0.9M286.81 605.61h0.9M292.17 599.15h0.9M279.78 600.96h0.9M296.43 610.81h0.9M286.67 605.9h0.9M294 618.11h0.9M286.01 611.9h0.9M303.88 614.08h0.9M288.35 612.41h0.9M290.89 614.5h0.9M292.32 607.18h0.9M289.59 612.68h0.9M286.31 610.77h0.9M285 618.12h0.9M299.29 604.84h0.9M295.2 611.39h0.9M290.83 608.74h0.9M291.85 616.66h0.9M283.23 616.73h0.9M288.78 603.43h0.9M290.02 614.35h0.9M289.79 612.19h0.9M288.37 606.96h0.9M296.09 604.46h0.9M296.06 612.46h0.9M288.71 608.93h0.9M288.65 610.12h0.9M290.05 609.46h0.9M279.19 597.12h0.9M292.28 606.4h0.9M287.05 609.29h0.9M283.98 620.02h0.9M290.31 609.26h0.9M284.27 615.88h0.9M294.47 619.65h0.9M295.45 605.27h0.9M283.08 618.88h0.9M286.46 609.69h0.9M289.44 613.48h0.9M293.47 603.92h0.9M286.66 599.55h0.9M293.53 609.36h0.9M280.71 616.82h0.9M290.4 604.08h0.9M287.98 606.72h0.9M290.93 611.64h0.9M287.06 613.02h0.9M275.56 608.24h0.9M294.03 616.28h0.9M294.9 603.91h0.9M280.74 608.26h0.9M303.27 612h0.9M286.12 599.98h0.9M291.14 607.57h0.9M293.15 611.53h0.9M277.02 609.57h0.9M294.77 606.66h0.9M283.52 603.15h0.9M282.77 623.84h0.9M298.28 606.54h0.9M298.05 603.74h0.9M287.21 605.68h0.9M289.2 614.34h0.9M301.74 614.83h0.9M289.64 611.26h0.9M288.96 612.56h0.9M285.35 611.82h0.9M292.83 616.09h0.9M285.58 612.86h0.9M291.82 605.26h0.9M279.1 606.85h0.9M295.15 608.52h0.9M303.05 613.7h0.9M286.16 609.63h0.9M292.82 613.2h0.9M288.88 613.05h0.9M306.88 615.86h0.9M291.15 607.34h0.9M280.18 611.3h0.9M287.92 609.94h0.9M287.13 614.97h0.9M296.25 605.94h0.9M282.49 612.16h0.9M297.99 612.75h0.9M292.92 601.64h0.9M287.1 613.78h0.9M292.27 610.16h0.9M293.41 615.44h0.9M290.68 605.87h0.9M282.3 611.47h0.9M289.23 609.11h0.9M296.41 606.19h0.9M288.66 614.19h0.9M285.22 597.07h0.9M287.11 615.16h0.9M286.81 608.69h0.9M279.8 617.47h0.9M280.4 606.13h0.9M289.17 622.06h0.9M290.8 605.8h0.9M281.82 608.3h0.9M283.3 606.4h0.9M290.44 617.61h0.9M283.99 618.5h0.9M279.32 622h0.9M286.54 607.91h0.9M287.51 611.59h0.9M289.86 608.17h0.9M286.27 606.85h0.9M290.48 606.92h0.9M286.32 601.4h0.9M290.31 613.15h0.9M284.46 616.23h0.9M289.95 610.8h0.9M280.67 613.93h0.9M297.16 621.94h0.9M286.75 609.82h0.9M294.28 613.4h0.9M286.62 610.55h0.9M295.6 613.57h0.9M289.85 616.5h0.9M281.9 612.82h0.9M286.5 607.98h0.9M294.65 620.73h0.9M292.68 610.96h0.9M299.31 614.77h0.9M277.93 606.53h0.9M286.51 606.13h0.9M281.91 614.12h0.9M291.17 620.74h0.9M288.65 610.97h0.9M286.09 616.4h0.9M297.23 620.37h0.9M295.89 606.79h0.9M296.95 604.82h0.9M286.86 609.17h0.9M301.81 606.06h0.9M284.82 611.76h0.9M296.84 613.72h0.9M293.34 605.29h0.9M288.17 618.02h0.9M290.9 606.48h0.9M288.41 618.43h0.9M299.79 612.84h0.9M285.84 620.39h0.9M286.82 611.01h0.9M292.68 610.36h0.9M289.4 620.08h0.9M292.12 601.85h0.9M287.15 618.3h0.9M289.42 604.29h0.9M295.39 613.31h0.9M290.62 613.82h0.9M288.33 611.5h0.9M293.58 607.09h0.9M297.22 604.16h0.9M301.76 610.87h0.9M292.45 603.18h0.9M294.69 605.45h0.9M293.1 610.54h0.9M285.96 621.01h0.9M291.32 607.36h0.9M288.43 612.36h0.9M290.69 615.54h0.9M287.31 611.75h0.9M287.75 606.26h0.9M294.86 605.62h0.9M281.53 614.38h0.9M287.62 613.82h0.9M293.3 613.49h0.9M290.87 619.74h0.9M284.72 617.43h0.9M289.67 612.25h0.9" stroke="#6a74a8" stroke-width="0.9" stroke-opacity="0.55" fill="none"/>
<path d="M281.02 600.92h0.9M269.96 609.39h0.9M262.72 606.26h0.9M264.89 611.01h0.9M270.32 622.13h0.9M269.2 622.84h0.9M270.51 612.66h0.9M266.44 601.87h0.9M258.26 610.71h0.9M266.69 614.67h0.9M269.65 598.95h0.9M263.43 600.34h0.9M273.6 610.26h0.9M268.35 602.43h0.9M260.07 605.57h0.9M267 615.89h0.9M258.58 614.58h0.9M262.5 606.13h0.9M265.62 607.06h0.9M270.3 619.96h0.9M269.59 605.96h0.9M270.06 615h0.9M272.67 613.94h0.9M258.02 603.81h0.9M265.2 620.4h0.9M266.77 620.28h0.9M269.31 599.57h0.9M267.85 616.75h0.9M269.98 596.68h0.9M270.1 605.51h0.9M255.1 605.68h0.9M255.91 598.73h0.9M276.1 635.57h0.9M273.84 615.57h0.9M278.81 614.66h0.9M261.78 587.09h0.9M272.95 589.06h0.9M250.64 604.84h0.9M267.97 602.78h0.9M273.76 610.44h0.9M268.83 615.72h0.9M264.12 613.4h0.9M281.45 602.06h0.9M268.6 616.57h0.9M264.4 610.9h0.9M257.43 607.04h0.9M267.88 622.46h0.9M273.29 605.67h0.9M261.03 629.63h0.9M272.97 592.44h0.9M265.64 602.46h0.9M264.04 594.37h0.9M265.17 606.33h0.9M266.27 621.85h0.9M269.04 599.36h0.9M257.32 606.22h0.9M274.58 620.9h0.9M264.19 623.12h0.9M270.32 605.5h0.9M270.32 610.79h0.9M261.07 607.25h0.9M268.72 624.77h0.9M261.55 614h0.9M267.89 611.13h0.9M260.45 624.24h0.9M275.58 627.64h0.9M270.61 626.48h0.9M271.04 621.68h0.9M265.81 613.93h0.9M265.86 601.13h0.9M265.21 600.46h0.9M261.11 607.8h0.9M264.2 632.44h0.9M278.51 622.57h0.9M272.61 603.12h0.9M269.51 597.25h0.9M264.06 606.91h0.9M265.64 620.4h0.9M263.1 635.99h0.9M264.78 620.32h0.9M258.33 620.92h0.9M260.45 613.77h0.9M267.83 620.07h0.9M271.56 615.72h0.9M266.98 631.48h0.9M265.1 611.92h0.9M265.04 613.18h0.9M262.07 607.65h0.9M270.92 605.98h0.9M270.68 605.92h0.9M276.46 610.45h0.9M278.5 616.81h0.9M267.09 621.36h0.9M274.92 627.18h0.9M276.28 620.81h0.9M260.82 621.19h0.9M267.35 615.89h0.9M275.54 604.59h0.9M275.93 635.93h0.9M271.24 608.66h0.9M276.19 613.65h0.9M274.25 624.45h0.9M258.75 615.05h0.9M258.68 604.71h0.9M271.55 599.76h0.9M263.52 607.17h0.9M269.76 615.29h0.9M270.54 606.68h0.9M263.31 615.89h0.9M262.59 603.57h0.9M272.06 603.71h0.9M262.37 623.07h0.9M267.55 589.22h0.9M263.26 631.31h0.9M284.94 608.69h0.9M272.04 619.1h0.9M269.7 593.36h0.9M273.83 614.46h0.9M266.37 595.37h0.9M263.97 610.5h0.9" stroke="#9aa0c8" stroke-width="0.9" stroke-opacity="0.45" fill="none"/>
<path d="M264.62 609.4h0.9M287.6 660.53h0.9M276.16 642h0.9M286.94 637.18h0.9M280.92 640.74h0.9M266.73 611.18h0.9M247.56 635.22h0.9M275.93 627.62h0.9M239.94 625.33h0.9M269.11 617.19h0.9M260.02 651.29h0.9M287.46 636.62h0.9M273.89 623.12h0.9M265.24 635.56h0.9M258.92 625.5h0.9M291.42 613.92h0.9M259.72 647.41h0.9M274.91 629.91h0.9M259.07 612.57h0.9M285.69 599.82h0.9M276.01 621.93h0.9M268.76 605.28h0.9M281.66 634.48h0.9M273.77 632.58h0.9M252.27 629.91h0.9M276.28 627.13h0.9M228.67 626.82h0.9M271.39 615.73h0.9M270.79 642.1h0.9M268.81 642.34h0.9M262.89 619.99h0.9M273.39 618.23h0.9M247.78 631.67h0.9M269.97 634.41h0.9M258.56 623.19h0.9M276.39 622.62h0.9M267.14 630.49h0.9M260.1 630.63h0.9M250.66 633.38h0.9M305.13 635.02h0.9M264.74 610.27h0.9M254.74 624.83h0.9M259.84 633.41h0.9M271.86 636.35h0.9M267.05 636.71h0.9M287.93 618.14h0.9M268.59 626.56h0.9M268.84 640.48h0.9M265.55 618.26h0.9M252.49 611.93h0.9M268.71 637.75h0.9M270.68 619.26h0.9M267.84 618.1h0.9M283.27 629.35h0.9M289.13 635.27h0.9M278.29 617.84h0.9M276.7 623.91h0.9M262.97 630.08h0.9M291.35 633.61h0.9M296.52 635.52h0.9M252.53 622.58h0.9M294.91 634.69h0.9M271.53 623.49h0.9M272.71 633.03h0.9M265.14 627.9h0.9M274.22 616.83h0.9M267.38 620.65h0.9M262.52 618.94h0.9M262.64 619.74h0.9M293.17 626.76h0.9M275.45 620.07h0.9M272.51 633.38h0.9M291.26 647.26h0.9M265.13 647.81h0.9M271.86 641.82h0.9M270.05 636.57h0.9M269.75 614.31h0.9M278.33 625.54h0.9M269.45 631.57h0.9M277.55 655.37h0.9M257.45 623.57h0.9M259.05 642.21h0.9M267.4 622.6h0.9M277.1 629.77h0.9M277.98 613.18h0.9M271.29 635.23h0.9M263.63 642.11h0.9M269.91 620.62h0.9M265.8 634.47h0.9M284.32 623.76h0.9M278.3 625.25h0.9M259.53 618.4h0.9M280.4 624.05h0.9M272.98 646.28h0.9M283.68 624.51h0.9M267.48 631.66h0.9M244.34 635.81h0.9M261.83 636.53h0.9M261.87 625.1h0.9M281.28 635.62h0.9" stroke="#b8bcd8" stroke-width="0.9" stroke-opacity="0.45" fill="none"/>
<path d="M271.7 648.7 L275.8 611.4 L289.1 601.7 L305.3 601.7 L305.3 648.7Z" fill="none" stroke="#7ed957" stroke-width="1.3"/>
<text x="240.5" y="585.2" font-size="2.8" text-anchor="end" fill="#444" stroke="#444" stroke-width="0.06">10⁵</text>
<text x="240.5" y="601.2" font-size="2.8" text-anchor="end" fill="#444" stroke="#444" stroke-width="0.06">10⁴</text>
<text x="240.5" y="618.2" font-size="2.8" text-anchor="end" fill="#444" stroke="#444" stroke-width="0.06">10³</text>
<text x="240.5" y="637.2" font-size="2.8" text-anchor="end" fill="#444" stroke="#444" stroke-width="0.06">10²</text>
<text x="240.5" y="648.2" font-size="2.8" text-anchor="end" fill="#444" stroke="#444" stroke-width="0.06">0</text>
<text x="253" y="655.8" font-size="2.8" text-anchor="middle" fill="#444" stroke="#444" stroke-width="0.06">0</text>
<text x="271" y="655.8" font-size="2.8" text-anchor="middle" fill="#444" stroke="#444" stroke-width="0.06">10²</text>
<text x="289" y="655.8" font-size="2.8" text-anchor="middle" fill="#444" stroke="#444" stroke-width="0.06">10³</text>
<text x="305" y="655.8" font-size="2.8" text-anchor="middle" fill="#444" stroke="#444" stroke-width="0.06">10⁴</text>
<text x="231.68" y="615.5" font-size="9.4" text-anchor="middle" fill="#1a1a1a" stroke="#1a1a1a" stroke-width="0.19" transform="rotate(-90 231.68 615.5)" textLength="69" lengthAdjust="spacingAndGlyphs">SM/C-2.6-BV421</text>
<text x="276.3" y="667.42" font-size="9.5" text-anchor="middle" fill="#1a1a1a" stroke="#1a1a1a" stroke-width="0.19" textLength="54" lengthAdjust="spacingAndGlyphs">PDGFRα-PE</text>
<line x1="305.9" y1="615.3" x2="347.5" y2="615.3" stroke="#8ee46a" stroke-width="2.4"/>
<path d="M354.2 615.3 L346.5 611.5 L346.5 619.1Z" fill="#78ea40"/>
<text x="367.8" y="588.62" font-size="9.5" text-anchor="middle" fill="#1a1a1a" stroke="#1a1a1a" stroke-width="0.19" font-style="italic" textLength="69.9" lengthAdjust="spacingAndGlyphs">Pα-CE/R26-DTA</text>
<text x="367.8" y="599.92" font-size="9.5" text-anchor="middle" fill="#1a1a1a" stroke="#1a1a1a" stroke-width="0.19" textLength="44.2" lengthAdjust="spacingAndGlyphs">TA muscle</text>
<g transform="translate(366.7 629.1) rotate(-53.48)"><path d="M-26.38 0 C-11.87 -9.04 11.87 -9.04 26.38 0 C11.87 9.04 -11.87 9.04 -26.38 0Z" fill="url(#spB)" stroke="#1a1a3a" stroke-width="1" stroke-linejoin="round"/><path d="M-23.88 0 C-10.55 5.1 10.55 5.1 23.88 0" fill="none" stroke="#4a50a8" stroke-width="0.45"/><path d="M-23.88 0 C-10.55 3.4 10.55 3.4 23.88 0" fill="none" stroke="#ffffff" stroke-width="0.45"/><path d="M-23.88 0 C-10.55 1.7 10.55 1.7 23.88 0" fill="none" stroke="#4a50a8" stroke-width="0.45"/><path d="M-23.88 0 C-10.55 0 10.55 0 23.88 0" fill="none" stroke="#ffffff" stroke-width="0.45"/><path d="M-23.88 0 C-10.55 -1.7 10.55 -1.7 23.88 0" fill="none" stroke="#4a50a8" stroke-width="0.45"/><path d="M-23.88 0 C-10.55 -3.4 10.55 -3.4 23.88 0" fill="none" stroke="#ffffff" stroke-width="0.45"/><path d="M-23.88 0 C-10.55 -5.1 10.55 -5.1 23.88 0" fill="none" stroke="#4a50a8" stroke-width="0.45"/></g>
<line x1="422.5" y1="634.6" x2="648" y2="634.6" stroke="#111" stroke-width="1.1"/>
<path d="M656.2 634.6 L646.5 629.8 L646.5 639.4Z" fill="#111"/>
<text x="413.3" y="627.75" font-size="9.3" fill="#c8161d" stroke="#c8161d" stroke-width="0.19" textLength="17.8" lengthAdjust="spacingAndGlyphs">Tmx</text>
<path d="M435.9 614.3 L445.1 614.3 L440.5 630.6Z" fill="#d41218"/>
<path d="M449 614.3 L458.2 614.3 L453.6 630.6Z" fill="#d41218"/>
<path d="M462.3 614.3 L471.5 614.3 L466.9 630.6Z" fill="#d41218"/>
<path d="M475.3 614.3 L484.5 614.3 L479.9 630.6Z" fill="#d41218"/>
<path d="M488.6 614.3 L497.8 614.3 L493.2 630.6Z" fill="#d41218"/>
<line x1="493.2" y1="631.5" x2="493.2" y2="637.5" stroke="#111" stroke-width="1"/>
<text x="493.2" y="646.51" font-size="9.2" text-anchor="middle" fill="#1a1a1a" stroke="#1a1a1a" stroke-width="0.18">0</text>
<line x1="510.3" y1="631.5" x2="510.3" y2="637.5" stroke="#111" stroke-width="1"/>
<text x="510.3" y="646.51" font-size="9.2" text-anchor="middle" fill="#1a1a1a" stroke="#1a1a1a" stroke-width="0.18">1d</text>
<line x1="550.9" y1="631.5" x2="550.9" y2="637.5" stroke="#111" stroke-width="1"/>
<text x="550.9" y="646.51" font-size="9.2" text-anchor="middle" fill="#1a1a1a" stroke="#1a1a1a" stroke-width="0.18">1w</text>
<line x1="590.7" y1="631.5" x2="590.7" y2="637.5" stroke="#111" stroke-width="1"/>
<text x="590.7" y="646.51" font-size="9.2" text-anchor="middle" fill="#1a1a1a" stroke="#1a1a1a" stroke-width="0.18">2w</text>
<line x1="631.4" y1="631.5" x2="631.4" y2="637.5" stroke="#111" stroke-width="1"/>
<text x="631.4" y="646.51" font-size="9.2" text-anchor="middle" fill="#1a1a1a" stroke="#1a1a1a" stroke-width="0.18">3w</text>
<line x1="510.3" y1="607.8" x2="510.3" y2="619" stroke="#1212ee" stroke-width="2.2"/>
<path d="M504.7 617.3 L515.9 617.3 L510.3 629.3Z" fill="#1212ee"/>
<text x="510.3" y="592.95" font-size="9.3" text-anchor="middle" fill="#1a1a1a" stroke="#1a1a1a" stroke-width="0.19" textLength="35" lengthAdjust="spacingAndGlyphs">GFP Pα</text>
<text x="510.3" y="603.75" font-size="9.3" text-anchor="middle" fill="#1a1a1a" stroke="#1a1a1a" stroke-width="0.19" textLength="28.5" lengthAdjust="spacingAndGlyphs">or PBS</text>
<line x1="550.9" y1="607.8" x2="550.9" y2="619" stroke="#1212ee" stroke-width="2.2"/>
<path d="M545.3 617.3 L556.5 617.3 L550.9 629.3Z" fill="#1212ee"/>
<text x="550.9" y="592.95" font-size="9.3" text-anchor="middle" fill="#1a1a1a" stroke="#1a1a1a" stroke-width="0.19" textLength="35" lengthAdjust="spacingAndGlyphs">GFP Pα</text>
<text x="550.9" y="603.75" font-size="9.3" text-anchor="middle" fill="#1a1a1a" stroke="#1a1a1a" stroke-width="0.19" textLength="28.5" lengthAdjust="spacingAndGlyphs">or PBS</text>
<line x1="590.7" y1="607.8" x2="590.7" y2="619" stroke="#1212ee" stroke-width="2.2"/>
<path d="M585.1 617.3 L596.3 617.3 L590.7 629.3Z" fill="#1212ee"/>
<text x="590.7" y="592.95" font-size="9.3" text-anchor="middle" fill="#1a1a1a" stroke="#1a1a1a" stroke-width="0.19" textLength="35" lengthAdjust="spacingAndGlyphs">GFP Pα</text>
<text x="590.7" y="603.75" font-size="9.3" text-anchor="middle" fill="#1a1a1a" stroke="#1a1a1a" stroke-width="0.19" textLength="25.5" lengthAdjust="spacingAndGlyphs">or DiD</text>
<line x1="631.4" y1="651.4" x2="631.4" y2="661.5" stroke="#111" stroke-width="1"/>
<path d="M627.8 657.6 L631.4 662.5 L635 657.6" fill="none" stroke="#111" stroke-width="1.0"/>
<text x="640.9" y="660.35" font-size="9.3" fill="#1a1a1a" stroke="#1a1a1a" stroke-width="0.19" textLength="34.7" lengthAdjust="spacingAndGlyphs">Analysis</text>
<text x="397.1" y="689.9" font-size="14.2" fill="#000" font-weight="bold">I</text>
<rect x="562.1" y="682.9" width="8.7" height="8" fill="#2a2a2a"/>
<rect x="562.1" y="697" width="8.7" height="8" fill="#1f3cf5"/>
<text x="576.6" y="690.72" font-size="9.5" fill="#1a1a1a" stroke="#1a1a1a" stroke-width="0.19" textLength="30.6" lengthAdjust="spacingAndGlyphs">Control</text>
<text x="576.6" y="704.82" font-size="9.5" fill="#1a1a1a" stroke="#1a1a1a" stroke-width="0.19" textLength="26.3" lengthAdjust="spacingAndGlyphs">Pα TP</text>
<line x1="426.9" y1="736.6" x2="426.9" y2="851.7" stroke="#111" stroke-width="1.25"/>
<line x1="426.4" y1="851.2" x2="498.1" y2="851.2" stroke="#111" stroke-width="1.25"/>
<line x1="424.9" y1="851.2" x2="426.9" y2="851.2" stroke="#111" stroke-width="0.9"/>
<text x="424.3" y="854.21" font-size="8.36" text-anchor="end" fill="#2a2a2a" stroke="#2a2a2a" stroke-width="0.17" textLength="4.31" lengthAdjust="spacingAndGlyphs">0</text>
<line x1="424.9" y1="834.9" x2="426.9" y2="834.9" stroke="#111" stroke-width="0.9"/>
<text x="424.3" y="837.91" font-size="8.36" text-anchor="end" fill="#2a2a2a" stroke="#2a2a2a" stroke-width="0.17" textLength="4.31" lengthAdjust="spacingAndGlyphs">5</text>
<line x1="424.9" y1="818.6" x2="426.9" y2="818.6" stroke="#111" stroke-width="0.9"/>
<text x="424.3" y="821.61" font-size="8.36" text-anchor="end" fill="#2a2a2a" stroke="#2a2a2a" stroke-width="0.17" textLength="8.62" lengthAdjust="spacingAndGlyphs">10</text>
<line x1="424.9" y1="802.3" x2="426.9" y2="802.3" stroke="#111" stroke-width="0.9"/>
<text x="424.3" y="805.31" font-size="8.36" text-anchor="end" fill="#2a2a2a" stroke="#2a2a2a" stroke-width="0.17" textLength="8.62" lengthAdjust="spacingAndGlyphs">15</text>
<line x1="424.9" y1="786" x2="426.9" y2="786" stroke="#111" stroke-width="0.9"/>
<text x="424.3" y="789.01" font-size="8.36" text-anchor="end" fill="#2a2a2a" stroke="#2a2a2a" stroke-width="0.17" textLength="8.62" lengthAdjust="spacingAndGlyphs">20</text>
<line x1="424.9" y1="769.7" x2="426.9" y2="769.7" stroke="#111" stroke-width="0.9"/>
<text x="424.3" y="772.71" font-size="8.36" text-anchor="end" fill="#2a2a2a" stroke="#2a2a2a" stroke-width="0.17" textLength="8.62" lengthAdjust="spacingAndGlyphs">25</text>
<line x1="424.9" y1="753.4" x2="426.9" y2="753.4" stroke="#111" stroke-width="0.9"/>
<text x="424.3" y="756.41" font-size="8.36" text-anchor="end" fill="#2a2a2a" stroke="#2a2a2a" stroke-width="0.17" textLength="8.62" lengthAdjust="spacingAndGlyphs">30</text>
<line x1="424.9" y1="737.1" x2="426.9" y2="737.1" stroke="#111" stroke-width="0.9"/>
<text x="424.3" y="740.11" font-size="8.36" text-anchor="end" fill="#2a2a2a" stroke="#2a2a2a" stroke-width="0.17" textLength="8.62" lengthAdjust="spacingAndGlyphs">35</text>
<rect x="438.1" y="763.3" width="19.4" height="87.9" fill="#858585" stroke="#1a1a1a" stroke-width="0.8"/>
<line x1="447.8" y1="753.5" x2="447.8" y2="763.3" stroke="#111" stroke-width="0.9"/>
<line x1="444.8" y1="753.5" x2="450.8" y2="753.5" stroke="#111" stroke-width="0.9"/>
<circle cx="449.72" cy="760.58" r="0.95" fill="#111"/>
<circle cx="448.32" cy="760.65" r="0.95" fill="#111"/>
<circle cx="450.12" cy="766.14" r="0.95" fill="#111"/>
<circle cx="447.12" cy="761.11" r="0.95" fill="#111"/>
<rect x="468.4" y="755.3" width="19.5" height="95.9" fill="#1f3cf5" stroke="#101040" stroke-width="0.8"/>
<line x1="478.1" y1="751.5" x2="478.1" y2="755.3" stroke="#111" stroke-width="0.9"/>
<line x1="475.1" y1="751.5" x2="481.1" y2="751.5" stroke="#111" stroke-width="0.9"/>
<circle cx="479.13" cy="757.65" r="0.95" fill="#111"/>
<circle cx="481.37" cy="757.89" r="0.95" fill="#111"/>
<circle cx="479.59" cy="754.06" r="0.95" fill="#111"/>
<circle cx="476.36" cy="753.33" r="0.95" fill="#111"/>
<circle cx="444" cy="760" r="0.95" fill="#111"/>
<circle cx="451" cy="763" r="0.95" fill="#111"/>
<circle cx="447.5" cy="770" r="0.95" fill="#111"/>
<circle cx="472" cy="752.5" r="0.95" fill="#111"/>
<circle cx="482" cy="752.5" r="0.95" fill="#111"/>
<circle cx="478" cy="760" r="0.95" fill="#111"/>
<text x="435.7" y="734.85" font-size="9.9" fill="#1a1a1a" stroke="#1a1a1a" stroke-width="0.2" textLength="55.1" lengthAdjust="spacingAndGlyphs"><tspan font-style="italic">P</tspan> = 9.5 x 10<tspan font-size="5.74" dy="-3.56">-3</tspan></text>
<line x1="448.3" y1="738.8" x2="477.9" y2="738.8" stroke="#6a6a6a" stroke-width="1.4"/>
<line x1="541" y1="737.1" x2="541" y2="851.7" stroke="#111" stroke-width="1.25"/>
<line x1="540.5" y1="851.2" x2="612.6" y2="851.2" stroke="#111" stroke-width="1.25"/>
<line x1="539" y1="851.2" x2="541" y2="851.2" stroke="#111" stroke-width="0.9"/>
<text x="538.6" y="854.05" font-size="7.92" text-anchor="end" fill="#2a2a2a" stroke="#2a2a2a" stroke-width="0.16" textLength="4.08" lengthAdjust="spacingAndGlyphs">0</text>
<line x1="539" y1="840.87" x2="541" y2="840.87" stroke="#111" stroke-width="0.9"/>
<text x="538.6" y="843.72" font-size="7.92" text-anchor="end" fill="#2a2a2a" stroke="#2a2a2a" stroke-width="0.16" textLength="12.25" lengthAdjust="spacingAndGlyphs">100</text>
<line x1="539" y1="830.55" x2="541" y2="830.55" stroke="#111" stroke-width="0.9"/>
<text x="538.6" y="833.4" font-size="7.92" text-anchor="end" fill="#2a2a2a" stroke="#2a2a2a" stroke-width="0.16" textLength="12.25" lengthAdjust="spacingAndGlyphs">200</text>
<line x1="539" y1="820.22" x2="541" y2="820.22" stroke="#111" stroke-width="0.9"/>
<text x="538.6" y="823.07" font-size="7.92" text-anchor="end" fill="#2a2a2a" stroke="#2a2a2a" stroke-width="0.16" textLength="12.25" lengthAdjust="spacingAndGlyphs">300</text>
<line x1="539" y1="809.89" x2="541" y2="809.89" stroke="#111" stroke-width="0.9"/>
<text x="538.6" y="812.74" font-size="7.92" text-anchor="end" fill="#2a2a2a" stroke="#2a2a2a" stroke-width="0.16" textLength="12.25" lengthAdjust="spacingAndGlyphs">400</text>
<line x1="539" y1="799.56" x2="541" y2="799.56" stroke="#111" stroke-width="0.9"/>
<text x="538.6" y="802.41" font-size="7.92" text-anchor="end" fill="#2a2a2a" stroke="#2a2a2a" stroke-width="0.16" textLength="12.25" lengthAdjust="spacingAndGlyphs">500</text>
<line x1="539" y1="789.24" x2="541" y2="789.24" stroke="#111" stroke-width="0.9"/>
<text x="538.6" y="792.09" font-size="7.92" text-anchor="end" fill="#2a2a2a" stroke="#2a2a2a" stroke-width="0.16" textLength="12.25" lengthAdjust="spacingAndGlyphs">600</text>
<line x1="539" y1="778.91" x2="541" y2="778.91" stroke="#111" stroke-width="0.9"/>
<text x="538.6" y="781.76" font-size="7.92" text-anchor="end" fill="#2a2a2a" stroke="#2a2a2a" stroke-width="0.16" textLength="12.25" lengthAdjust="spacingAndGlyphs">700</text>
<line x1="539" y1="768.58" x2="541" y2="768.58" stroke="#111" stroke-width="0.9"/>
<text x="538.6" y="771.43" font-size="7.92" text-anchor="end" fill="#2a2a2a" stroke="#2a2a2a" stroke-width="0.16" textLength="12.25" lengthAdjust="spacingAndGlyphs">800</text>
<line x1="539" y1="758.25" x2="541" y2="758.25" stroke="#111" stroke-width="0.9"/>
<text x="538.6" y="761.11" font-size="7.92" text-anchor="end" fill="#2a2a2a" stroke="#2a2a2a" stroke-width="0.16" textLength="12.25" lengthAdjust="spacingAndGlyphs">900</text>
<line x1="539" y1="747.93" x2="541" y2="747.93" stroke="#111" stroke-width="0.9"/>
<text x="538.6" y="750.78" font-size="7.92" text-anchor="end" fill="#2a2a2a" stroke="#2a2a2a" stroke-width="0.16" textLength="16.33" lengthAdjust="spacingAndGlyphs">1000</text>
<line x1="539" y1="737.6" x2="541" y2="737.6" stroke="#111" stroke-width="0.9"/>
<text x="538.6" y="740.45" font-size="7.92" text-anchor="end" fill="#2a2a2a" stroke="#2a2a2a" stroke-width="0.16" textLength="16.33" lengthAdjust="spacingAndGlyphs">1100</text>
<rect x="552.3" y="760.1" width="19.5" height="91.1" fill="#858585" stroke="#1a1a1a" stroke-width="0.8"/>
<line x1="562" y1="754" x2="562" y2="760.1" stroke="#111" stroke-width="0.9"/>
<line x1="559" y1="754" x2="565" y2="754" stroke="#111" stroke-width="0.9"/>
<circle cx="561.38" cy="762.94" r="0.95" fill="#111"/>
<circle cx="563.62" cy="762.08" r="0.95" fill="#111"/>
<circle cx="563.04" cy="759.49" r="0.95" fill="#111"/>
<circle cx="562.02" cy="761.57" r="0.95" fill="#111"/>
<rect x="582.7" y="749.2" width="19.2" height="102" fill="#1f3cf5" stroke="#101040" stroke-width="0.8"/>
<line x1="592.3" y1="744.4" x2="592.3" y2="749.2" stroke="#111" stroke-width="0.9"/>
<line x1="589.3" y1="744.4" x2="595.3" y2="744.4" stroke="#111" stroke-width="0.9"/>
<circle cx="592.89" cy="746.89" r="0.95" fill="#111"/>
<circle cx="588.88" cy="747.99" r="0.95" fill="#111"/>
<circle cx="590.56" cy="751.77" r="0.95" fill="#111"/>
<circle cx="589.62" cy="749.23" r="0.95" fill="#111"/>
<circle cx="555" cy="761.5" r="0.95" fill="#111"/>
<circle cx="561" cy="761.5" r="0.95" fill="#111"/>
<circle cx="568" cy="761" r="0.95" fill="#111"/>
<circle cx="585.5" cy="745" r="0.95" fill="#111"/>
<circle cx="589" cy="751.5" r="0.95" fill="#111"/>
<circle cx="596" cy="751.5" r="0.95" fill="#111"/>
<circle cx="594" cy="743.5" r="0.95" fill="#111"/>
<text x="549.9" y="731.45" font-size="9.9" fill="#1a1a1a" stroke="#1a1a1a" stroke-width="0.2" textLength="54.9" lengthAdjust="spacingAndGlyphs"><tspan font-style="italic">P</tspan> = 4.6 x 10<tspan font-size="5.74" dy="-3.56">-2</tspan></text>
<line x1="562.1" y1="735.4" x2="591.9" y2="735.4" stroke="#555" stroke-width="1.3"/>
<text x="405.12" y="794.1" font-size="9.5" text-anchor="middle" fill="#1a1a1a" stroke="#1a1a1a" stroke-width="0.19" transform="rotate(-90 405.12 794.1)" textLength="65.6" lengthAdjust="spacingAndGlyphs">TA weight (mg)</text>
<text x="514.82" y="794.7" font-size="9.5" text-anchor="middle" fill="#1a1a1a" stroke="#1a1a1a" stroke-width="0.19" transform="rotate(-90 514.82 794.7)" textLength="83.7" lengthAdjust="spacingAndGlyphs">Myofiber CSA (<tspan font-family="Liberation Serif">μ</tspan>m<tspan font-size="6" dy="-3.5">2</tspan><tspan dy="3.5">)</tspan></text>
<text x="0.1" y="689.7" font-size="14.2" fill="#000" font-weight="bold">H</text>
<text x="193.7" y="689.82" font-size="9.5" text-anchor="middle" fill="#e02020" stroke="#e02020" stroke-width="0.19" textLength="39" lengthAdjust="spacingAndGlyphs">PDGFR<tspan font-family="Liberation Serif" font-style="italic">α</tspan></text>
<text x="315" y="689.62" font-size="9.5" text-anchor="middle" fill="#1a1a1a" stroke="#1a1a1a" stroke-width="0.19" textLength="96" lengthAdjust="spacingAndGlyphs">Merge with Laminin <tspan font-family="Liberation Serif" font-style="italic">α</tspan>2</text>
<text x="10.12" y="755.2" font-size="9.5" text-anchor="middle" fill="#1a1a1a" stroke="#1a1a1a" stroke-width="0.19" transform="rotate(-90 10.12 755.2)" textLength="49" lengthAdjust="spacingAndGlyphs">GFP Pα TP</text>
<text x="10.12" y="867.5" font-size="9.5" text-anchor="middle" fill="#1a1a1a" stroke="#1a1a1a" stroke-width="0.19" transform="rotate(-90 10.12 867.5)" textLength="38.9" lengthAdjust="spacingAndGlyphs">Control</text>
<defs><clipPath id="clip_r1c1"><rect x="15" y="694" width="118.6" height="117.8"/></clipPath><clipPath id="clip_r1c2"><rect x="136.3" y="694" width="118.7" height="117.8"/></clipPath><clipPath id="clip_r1c3"><rect x="257.5" y="694" width="118.8" height="117.8"/></clipPath><clipPath id="clip_r2c1"><rect x="15" y="816.8" width="118.6" height="118.2"/></clipPath><clipPath id="clip_r2c2"><rect x="136.3" y="816.8" width="118.7" height="118.2"/></clipPath><clipPath id="clip_r2c3"><rect x="257.5" y="816.8" width="118.8" height="118.2"/></clipPath><radialGradient id="gGreen" cx="0.5" cy="0.5" r="0.5"><stop offset="0" stop-color="#2a6a18" stop-opacity="0.6"/><stop offset="1" stop-color="#2a6a18" stop-opacity="0"/></radialGradient>
<radialGradient id="gRed" cx="0.5" cy="0.5" r="0.5"><stop offset="0" stop-color="#4a0606" stop-opacity="0.6"/><stop offset="1" stop-color="#4a0606" stop-opacity="0"/></radialGradient>
<radialGradient id="gCyan" cx="0.5" cy="0.5" r="0.5"><stop offset="0" stop-color="#70e8f0" stop-opacity="0.8"/><stop offset="0.45" stop-color="#2a8890" stop-opacity="0.35"/><stop offset="1" stop-color="#104048" stop-opacity="0"/></radialGradient>
<radialGradient id="gCyanF" cx="0.5" cy="0.5" r="0.5"><stop offset="0" stop-color="#164a50" stop-opacity="0.5"/><stop offset="1" stop-color="#0a2a30" stop-opacity="0"/></radialGradient>
<radialGradient id="gRedF" cx="0.5" cy="0.5" r="0.5"><stop offset="0" stop-color="#220303" stop-opacity="0.75"/><stop offset="1" stop-color="#1a0000" stop-opacity="0"/></radialGradient>
<radialGradient id="gCyanM" cx="0.5" cy="0.5" r="0.5"><stop offset="0" stop-color="#50d0d8" stop-opacity="0.45"/><stop offset="1" stop-color="#50d0d8" stop-opacity="0"/></radialGradient><filter id="blur06" x="-5%" y="-5%" width="110%" height="110%"><feGaussianBlur stdDeviation="0.6"/></filter><filter id="blur15" x="-30%" y="-60%" width="160%" height="220%"><feGaussianBlur stdDeviation="1.5"/></filter><filter id="blur1" x="-5%" y="-5%" width="110%" height="110%"><feGaussianBlur stdDeviation="1.0"/></filter></defs>
<rect x="15" y="694" width="118.6" height="117.8" fill="#020202"/>
<rect x="136.3" y="694" width="118.7" height="117.8" fill="#020202"/>
<rect x="257.5" y="694" width="118.8" height="117.8" fill="#020202"/>
<rect x="15" y="816.8" width="118.6" height="118.2" fill="#020202"/>
<rect x="136.3" y="816.8" width="118.7" height="118.2" fill="#020202"/>
<rect x="257.5" y="816.8" width="118.8" height="118.2" fill="#020202"/>
<ellipse cx="68" cy="745" rx="60" ry="42" fill="url(#gGreen)" clip-path="url(#clip_r1c1)"/>
<g filter="url(#blur15)" clip-path="url(#clip_r1c1)" fill="#50d020" fill-opacity="0.45"><ellipse cx="62" cy="726" rx="14" ry="3.5"/><ellipse cx="60" cy="750" rx="14" ry="3"/></g>
<g clip-path="url(#clip_r1c1)" fill="none" stroke-linecap="round"><path d="M16.3 792.3L15.8 789.3M16.3 792.3L14.1 795.2M15.8 789.3L20.9 785.5M11.1 786.5L14.5 782.0M14.5 782.0L19.9 783.0M20.9 785.5L19.9 783.0M64.5 696.8L60.9 691.3M64.5 696.8L70.8 692.5M20.9 785.5L21.4 785.8M21.6 793.8L23.6 790.4M21.4 785.8L23.6 790.4M64.5 696.8L64.2 698.3M60.0 690.9L56.1 694.2M14.5 782.0L13.3 778.3M13.3 778.3L18.0 775.8M20.9 780.3L18.0 775.8M135.1 699.3L133.1 700.3M135.6 754.5L131.7 755.0M131.2 755.4L131.7 755.0M129.1 755.6L131.2 755.4M27.0 790.5L29.5 786.8M29.5 786.8L34.6 788.9M23.6 790.4L27.0 790.5M21.4 785.8L28.2 783.6M28.2 783.6L28.6 783.9M28.6 783.9L29.5 786.8M28.6 783.9L34.7 780.9M34.7 780.9L35.6 782.4M35.6 782.4L34.6 788.9M47.5 783.8L51.5 783.9M40.9 786.9L36.0 789.7M41.0 784.7L35.6 782.4M41.0 784.7L40.9 786.9M34.9 789.5L36.0 789.7M46.9 783.3L47.5 783.8M41.0 784.7L42.3 783.3M72.1 693.2L77.1 692.3M26.0 777.7L29.8 776.0M28.2 783.6L26.0 777.7M20.9 780.3L26.0 777.7M34.8 780.3L34.7 780.9M18.0 775.8L18.4 774.2M129.1 755.6L124.9 759.8M124.9 761.2L124.9 759.8M124.9 759.8L121.5 756.2M119.0 756.5L121.5 756.2M125.3 690.5L123.8 695.9M123.8 695.9L128.9 698.5M128.9 698.5L129.4 699.5M127.9 701.7L129.4 699.5M128.7 706.8L126.6 708.3M123.8 695.9L120.6 697.2M107.4 696.7L112.2 700.9M91.2 772.1L89.0 771.1M95.8 770.6L96.2 769.6M89.0 771.1L89.6 766.5M89.6 766.5L94.3 766.1M96.2 769.6L94.3 766.1M44.5 700.6L45.2 696.8M44.5 700.6L47.2 703.2M51.7 699.6L47.5 695.3M56.0 696.6L52.3 699.7M47.2 704.2L47.2 703.2M51.5 783.9L53.2 781.9M56.2 781.8L53.2 781.9M51.2 777.4L53.2 781.9M51.2 777.4L47.3 776.8M103.8 699.9L100.5 698.4M97.5 701.6L100.5 698.4M102.5 692.5L99.8 696.1M104.4 692.5L107.4 695.9M99.8 696.1L100.5 698.4M117.2 758.3L120.0 762.5M120.9 688.8L117.5 693.8M120.6 697.2L117.5 693.8M83.4 769.3L80.9 774.0M80.9 774.0L78.0 773.8M96.2 769.6L100.6 768.3M100.6 768.3L100.7 768.4M44.5 700.6L41.0 701.8M38.8 699.8L41.0 701.8M35.4 700.4L33.5 703.6M33.5 703.6L39.6 706.9M18.1 761.5L19.8 765.3M23.8 770.7L19.3 766.5M56.2 781.8L58.8 779.2M54.6 774.6L58.8 779.2M62.3 780.9L59.7 779.1M99.8 696.1L95.4 694.6M95.4 694.6L96.2 688.8M107.3 765.6L111.3 760.7M115.0 765.8L112.7 760.5M111.3 760.7L112.7 760.5M100.7 768.4L107.4 767.0M104.5 762.8L107.3 765.6M11.4 702.7L15.5 700.7M17.1 707.9L15.3 708.7M17.1 707.9L18.0 705.6M15.3 708.7L10.9 707.5M16.2 771.3L17.3 767.6M18.4 774.2L16.2 771.3M70.6 775.0L72.3 780.1M77.6 774.1L75.7 779.5M78.0 773.8L77.6 774.1M59.7 779.1L61.8 774.6M66.1 778.8L66.1 775.1M70.6 775.0L66.8 774.5M24.1 704.8L23.1 698.4M29.7 702.3L27.7 697.2M18.0 705.6L24.1 704.8M26.2 708.6L25.4 705.7M26.2 708.6L25.7 709.8M25.7 709.8L21.5 711.8M32.0 708.2L33.5 703.6M32.0 708.2L26.2 708.6M33.5 703.6L29.7 702.3M33.5 703.6L33.5 703.6M15.3 708.7L14.0 715.4M77.1 692.3L80.1 695.4M92.9 695.9L90.0 693.4M92.9 695.9L92.0 700.2M90.0 693.4L84.9 694.4M85.7 699.0L84.2 695.3M84.9 694.4L84.2 695.3M95.4 694.6L92.9 695.9M90.7 687.1L90.0 693.4M84.5 689.7L84.9 694.4M80.1 695.4L84.2 695.3M39.6 706.9L39.0 709.8M32.0 708.2L34.0 711.7M34.0 711.7L39.0 709.8M21.7 721.9L18.6 717.1M14.1 723.8L16.6 717.3M14.1 723.8L18.1 726.9M16.6 717.3L18.6 717.1M14.0 715.4L16.6 717.3M11.4 724.0L14.1 723.8M21.5 711.8L20.8 715.1M20.8 715.1L18.6 717.1M29.0 715.1L27.7 717.9M25.7 709.8L29.0 715.1" stroke="#0f1f09" stroke-width="1"/><path d="M64.2 698.3L61.3 700.8M56.0 696.6L61.3 700.8M138.0 707.0L134.1 705.8M133.1 700.3L134.1 705.8M128.4 747.3L129.7 747.8M129.7 747.8L131.7 755.0M123.9 750.2L124.3 752.3M129.1 755.6L124.3 752.3M134.4 742.6L133.6 746.5M133.6 746.5L137.6 749.6M38.5 769.0L37.1 769.4M26.0 777.7L26.0 777.7M26.0 777.7L23.0 772.7M29.8 776.0L30.8 773.1M30.8 773.1L29.5 770.0M23.8 770.7L23.0 772.7M26.7 769.0L29.5 770.0M34.8 780.3L29.8 776.0M18.4 774.2L23.0 772.7M34.8 780.3L37.9 777.2M37.9 777.2L35.2 773.0M35.2 773.0L30.8 773.1M37.1 769.4L35.2 773.0M33.1 766.8L29.5 770.0M30.5 761.8L26.0 763.3M26.0 763.3L26.7 769.0M117.5 751.5L119.0 756.5M134.3 713.7L133.7 719.5M137.6 730.1L132.7 729.3M132.7 729.3L132.2 727.5M134.1 705.8L131.6 707.5M127.9 701.7L128.7 706.8M128.7 706.8L131.6 707.5M122.1 705.8L122.3 706.5M123.5 702.7L127.9 701.7M131.6 707.5L132.6 712.6M122.1 705.8L115.6 703.8M107.4 696.7L103.8 699.9M112.2 700.9L107.2 704.4M134.4 742.6L140.3 742.4M132.1 739.4L132.7 737.8M89.2 762.7L88.9 765.5M82.8 765.5L88.9 765.5M47.2 703.2L51.7 699.6M52.3 699.7L51.7 699.6M52.3 699.7L54.6 704.4M63.8 707.0L57.7 709.1M54.6 704.4L51.2 707.0M30.5 761.8L30.5 756.3M26.0 763.3L25.2 762.8M14.1 752.0L8.4 751.0M10.7 745.8L15.2 746.8M14.1 752.0L15.3 747.0M45.1 771.1L46.8 772.5M39.3 777.0L41.4 778.2M41.4 778.2L47.1 777.0M47.1 777.0L47.3 776.8M37.9 777.2L39.3 777.0M42.3 783.3L41.4 778.2M46.9 783.3L47.1 777.0M119.0 756.5L117.2 758.3M126.6 708.3L126.5 711.7M132.6 712.6L128.2 713.2M112.5 700.9L112.2 700.9M112.5 700.9L115.3 702.7M77.2 768.4L78.0 773.8M99.7 763.1L100.2 763.6M100.2 763.6L104.5 762.8M104.5 762.8L105.0 759.9M95.1 764.0L99.7 763.1M44.8 706.7L40.5 706.2M51.9 770.1L51.0 764.5M23.0 757.6L20.7 757.6M16.6 754.5L15.8 754.5M18.1 761.5L13.3 761.1M20.7 749.9L20.1 748.3M22.7 742.5L22.8 743.4M16.9 741.4L15.2 746.8M15.4 739.5L14.0 739.4M51.2 777.4L54.6 774.6M55.0 772.1L54.6 774.6M117.2 758.3L114.3 758.7M108.0 758.7L111.3 760.7M114.3 758.7L112.7 760.5M123.6 735.7L123.9 734.2M121.2 722.9L121.0 724.9M121.0 724.9L124.7 726.4M124.7 726.4L127.9 724.7M127.9 724.7L128.7 719.9M128.7 719.9L127.1 718.8M121.7 715.1L125.7 718.8M118.1 718.5L118.8 716.3M118.8 726.5L113.4 725.5M114.1 720.1L118.1 718.5M87.8 709.6L93.3 710.4M44.8 706.7L46.3 711.3M22.3 734.8L18.7 733.7M11.3 764.2L17.3 767.6M11.0 772.0L16.2 771.3M19.3 766.5L17.3 767.6M72.2 772.9L77.6 774.1M61.8 774.6L66.1 775.1M60.7 772.3L63.4 768.4M66.1 775.1L66.8 774.5M114.3 708.9L108.2 707.9M114.3 708.9L114.8 710.1M120.6 709.9L114.8 710.1M103.3 710.3L107.0 709.6M97.5 701.6L92.4 701.1M92.0 700.2L85.7 699.0M92.4 701.1L92.0 700.2M21.7 721.9L20.0 726.1M33.5 713.3L29.0 715.1M33.1 721.7L33.1 721.7M27.7 717.9L27.9 719.4M34.0 711.7L33.5 713.3M20.8 715.1L27.7 717.9M26.8 720.7L27.9 719.4M31.6 728.5L26.9 726.5M26.9 726.5L24.3 727.7" stroke="#1e3e12" stroke-width="1"/><path d="M59.6 714.1L54.5 716.4M64.2 698.3L69.7 701.4M128.4 747.3L127.3 743.1M127.3 743.1L122.3 742.8M124.0 749.9L121.3 744.7M124.0 749.9L123.9 750.2M132.1 739.4L134.4 742.6M128.9 740.6L127.3 743.1M129.7 747.8L133.6 746.5M69.7 701.4L69.6 704.7M63.8 707.0L61.2 701.5M61.3 700.8L61.2 701.5M33.1 763.4L38.0 761.2M33.1 763.4L33.1 766.8M38.0 761.2L40.5 764.0M37.1 769.4L33.1 766.8M124.3 752.3L121.5 756.2M135.2 720.9L133.7 719.5M132.7 737.8L138.2 736.0M132.7 737.8L130.2 732.2M132.7 729.3L130.2 732.2M135.2 720.9L132.2 727.5M122.1 705.8L123.5 702.7M122.3 706.5L126.6 708.3M115.6 703.8L115.3 702.7M103.8 699.9L104.8 703.3M104.8 703.3L107.2 704.4M113.5 752.2L110.9 747.6M103.2 748.9L105.8 752.5M95.1 764.0L94.3 766.1M92.2 752.7L86.9 751.6M68.7 715.3L70.3 711.3M61.2 701.5L55.4 704.6M55.4 704.6L57.7 709.1M47.2 704.2L51.2 707.0M25.8 754.3L30.5 756.3M23.0 757.6L25.2 762.8M15.8 754.5L14.1 752.0M15.8 754.5L13.0 757.7M15.2 746.8L15.3 747.0M41.6 771.6L45.1 771.1M41.6 771.6L39.3 777.0M46.8 772.5L47.3 776.8M38.5 769.0L41.6 771.6M100.0 706.7L104.8 703.3M122.3 706.5L120.6 709.9M120.6 709.9L122.4 713.1M122.4 713.1L126.5 711.7M126.5 711.7L128.2 713.2M96.1 709.6L99.8 707.2M99.8 707.2L103.3 710.3M98.6 715.0L101.1 715.9M98.8 748.9L103.2 748.9M72.6 698.9L77.5 701.1M75.2 706.2L77.5 701.1M83.4 769.3L82.1 766.1M103.6 754.2L105.8 752.6M99.3 759.2L102.8 758.0M51.9 770.1L46.8 772.5M38.0 761.2L38.1 760.0M25.2 762.8L19.8 765.3M19.3 766.5L19.8 765.3M25.6 752.4L20.7 749.9M15.3 747.0L20.1 748.3M25.8 754.3L25.6 752.4M16.6 754.5L20.7 749.9M74.3 768.1L77.2 768.4M74.3 768.1L71.8 770.8M71.8 770.8L68.1 768.9M51.9 770.1L55.0 772.1M55.0 772.1L56.1 771.6M113.5 752.2L112.6 754.3M105.8 752.6L107.5 754.3M105.0 759.9L108.0 758.7M119.2 731.0L115.3 733.8M128.9 740.6L123.6 735.7M126.4 732.3L123.9 734.2M111.6 739.4L112.5 736.6M125.7 718.8L127.1 718.8M121.7 715.1L118.8 716.3M118.1 718.5L121.2 722.9M118.8 726.5L121.0 724.9M133.7 719.5L128.7 719.9M121.7 715.1L122.4 713.1M102.3 722.7L106.5 722.4M106.5 722.4L107.4 719.5M114.1 720.1L111.9 718.0M115.3 733.8L112.0 729.5M76.2 713.2L74.1 710.7M74.1 710.7L75.4 706.7M70.3 711.3L74.1 710.7M51.2 707.0L50.9 709.4M23.4 741.4L22.7 742.5M45.3 760.9L49.1 761.5M42.5 764.2L45.3 760.9M38.1 760.0L44.0 756.3M66.8 774.5L66.6 769.5M63.4 768.4L66.6 769.5M56.1 771.6L60.7 772.3M108.2 713.4L107.0 709.6M107.0 709.6L108.2 707.9M115.6 703.8L114.3 708.9M107.2 704.4L108.2 707.9M105.3 730.3L106.7 732.3M98.6 732.1L100.1 728.5M102.3 722.7L100.4 728.4M80.8 708.6L83.8 705.3M83.8 705.3L86.3 706.4M94.9 709.4L91.9 703.1M86.3 706.4L91.9 703.1M92.4 701.1L91.9 703.1M45.5 712.8L47.7 716.6M77.5 701.1L77.8 701.0M77.8 701.0L83.2 703.7M83.2 703.7L85.7 699.0M43.6 720.3L40.8 719.3M40.8 719.3L39.4 717.2M18.1 726.9L20.0 726.1M40.8 719.3L38.2 723.4M38.4 740.1L33.9 737.9M23.4 741.4L29.0 740.2M36.1 716.9L33.1 721.7M33.1 721.7L27.9 719.4M26.8 720.7L21.7 721.9M30.7 732.2L28.1 733.9M20.0 726.1L24.3 727.7" stroke="#2d5e1a" stroke-width="1"/><path d="M62.0 715.0L59.6 714.1M128.4 747.3L124.0 749.9M122.3 742.8L121.3 744.7M132.1 739.4L128.9 740.6M69.6 704.7L67.5 706.9M63.8 707.0L64.1 707.2M64.6 721.4L68.0 719.7M38.5 769.0L40.5 764.0M123.9 750.2L118.1 750.5M121.3 744.7L116.9 746.0M118.1 750.5L116.9 746.0M117.5 751.5L118.1 750.5M78.4 725.0L78.1 725.0M83.9 760.7L86.4 760.2M83.9 760.7L82.8 765.5M86.4 760.2L89.2 762.7M117.5 751.5L113.5 752.2M107.2 744.0L110.8 747.6M114.9 742.6L115.1 745.0M104.9 744.4L103.2 748.9M93.0 760.4L95.1 764.0M90.8 756.7L92.4 753.2M93.0 760.4L90.8 756.7M97.2 754.5L98.2 753.5M98.2 753.5L98.8 748.9M83.9 760.7L82.5 759.3M85.9 749.3L86.9 751.6M62.0 715.0L63.4 714.1M63.4 714.1L68.7 715.3M68.9 715.6L68.7 715.3M63.4 714.1L64.1 707.2M67.5 706.9L70.3 711.3M55.4 704.6L54.6 704.4M59.6 714.1L57.5 709.6M102.4 715.3L101.1 715.9M94.8 717.6L98.6 715.0M92.8 748.7L90.7 746.4M102.3 742.7L97.9 744.2M95.4 721.7L90.7 723.0M87.9 726.1L85.1 724.9M68.9 715.6L74.1 717.1M69.6 704.7L75.2 706.2M77.2 768.4L79.5 766.0M82.8 765.5L82.1 766.1M77.6 763.0L79.5 766.0M98.2 753.5L103.6 754.2M99.7 763.1L99.3 759.2M97.5 757.8L99.3 759.2M103.6 754.2L102.8 758.0M46.2 726.7L49.6 724.2M55.4 720.4L49.8 722.4M49.8 722.4L49.6 724.2M45.4 766.8L42.5 764.2M51.8 764.2L54.9 759.4M57.9 765.6L59.4 764.9M57.5 759.5L54.9 759.4M35.1 754.1L41.8 752.4M16.6 754.5L20.7 757.6M22.8 743.4L20.1 748.3M35.0 754.2L35.1 754.1M78.8 759.2L77.3 757.2M77.6 763.0L74.0 762.7M74.3 768.1L72.5 765.4M59.4 764.9L62.0 765.2M72.5 765.4L69.6 765.5M69.6 765.5L68.1 768.9M51.1 764.5L51.8 764.2M57.9 765.6L56.1 771.6M112.6 754.3L107.5 754.3M108.0 758.7L107.5 754.3M123.6 735.7L120.7 738.8M119.4 738.8L120.7 738.8M119.4 738.8L115.1 735.0M122.3 742.8L120.7 738.8M130.2 732.2L126.4 732.3M121.2 722.9L125.7 718.8M126.4 732.3L124.7 726.4M118.8 726.5L119.2 731.0M132.2 727.5L127.9 724.7M100.7 721.0L102.3 722.7M102.4 715.3L105.6 716.1M105.6 716.1L107.4 719.5M85.1 738.0L88.2 732.4M114.1 720.1L113.4 725.4M106.5 722.4L107.7 723.9M111.9 718.0L107.4 719.5M112.0 729.5L113.4 725.5M88.8 717.4L84.0 719.1M86.5 712.4L81.2 713.5M85.1 724.9L84.0 719.1M94.8 717.6L91.6 715.8M86.5 712.4L87.8 709.6M94.9 709.4L93.3 710.4M75.4 706.7L80.8 708.6M80.7 713.0L80.8 708.6M74.1 717.1L76.2 713.2M81.2 713.5L80.7 713.0M75.2 706.2L75.4 706.7M50.9 709.4L53.1 711.6M23.4 741.4L22.3 734.8M15.4 739.5L18.7 733.7M11.8 732.0L17.2 731.4M17.2 731.4L18.7 733.7M72.2 759.6L69.1 760.5M62.0 765.2L63.4 768.4M68.1 768.9L66.6 769.5M112.2 714.2L108.2 713.4M111.9 718.0L112.2 714.2M105.6 716.1L108.2 713.4M118.8 716.3L114.5 712.1M100.0 706.7L99.8 707.2M93.1 736.1L97.3 738.1M88.2 732.4L92.6 734.0M93.9 728.3L93.2 733.3M93.2 733.3L92.6 734.0M106.7 732.3L104.5 736.1M98.6 732.1L100.6 736.7M107.7 723.9L105.3 730.3M108.7 740.5L104.5 736.1M102.3 742.7L102.1 737.1M96.8 727.1L100.1 728.5M47.1 718.9L47.7 716.6M44.6 731.8L38.4 728.9M43.6 720.3L43.6 725.0M39.0 709.8L41.7 713.1M17.2 731.4L18.1 726.9M33.7 734.7L33.9 737.9M33.9 737.9L30.0 740.7M39.4 717.2L36.1 716.9M24.7 733.4L28.1 733.9M32.0 728.1L31.6 728.5M26.8 720.7L26.9 726.5M22.3 734.8L24.7 733.4" stroke="#3c7d23" stroke-width="1"/><path d="M62.5 747.4L65.2 745.2M107.2 744.0L108.7 740.5M114.9 742.6L111.6 739.4M111.6 739.4L108.7 740.5M110.8 747.6L110.9 747.6M107.2 744.0L104.9 744.4M93.0 760.4L89.2 762.7M88.0 757.1L85.7 754.6M85.7 754.6L86.9 751.6M97.5 757.8L97.2 754.5M97.2 754.5L92.4 753.2M97.6 747.4L92.8 748.7M92.8 748.7L92.2 752.7M57.7 709.1L57.5 709.6M50.2 732.1L50.5 738.1M66.3 730.5L65.3 730.6M59.9 756.5L64.3 752.4M100.7 721.0L95.5 721.8M71.5 731.9L73.3 735.4M96.8 727.1L95.5 721.8M96.8 727.1L93.9 728.3M89.1 725.5L90.7 723.0M78.4 725.0L79.5 719.3M79.5 719.3L74.6 718.2M74.6 718.2L74.1 717.1M105.8 752.5L105.8 752.6M46.1 730.8L46.2 726.7M43.7 734.4L44.6 731.8M38.4 740.3L43.2 740.8M29.1 747.9L34.2 749.9M29.1 747.9L30.8 742.6M34.2 749.9L37.3 746.1M40.5 764.0L42.5 764.2M45.4 766.8L51.0 764.5M51.8 764.2L57.9 765.6M59.9 756.9L57.5 759.5M52.5 753.6L52.3 752.9M30.5 756.3L35.0 754.2M34.2 749.9L35.1 754.1M22.8 743.4L28.0 748.3M25.6 752.4L28.0 748.3M29.1 747.9L28.0 748.3M79.4 752.3L79.2 752.4M77.3 757.2L79.2 752.4M74.0 762.7L72.5 765.4M59.9 756.9L63.3 759.2M114.9 742.6L119.4 738.8M112.5 736.6L115.1 735.0M107.7 723.9L113.4 725.4M113.4 725.5L113.4 725.4M89.2 716.7L86.5 712.4M90.7 723.0L88.8 717.4M91.6 715.8L89.2 716.7M91.6 715.8L93.3 710.4M76.2 713.2L80.7 713.0M57.5 709.6L53.1 711.6M53.1 715.2L53.1 711.6M38.4 740.3L38.4 740.1M51.7 755.4L50.1 756.3M51.1 764.5L49.1 761.5M71.7 754.1L71.6 754.3M68.0 763.1L69.6 765.5M63.2 763.8L68.0 763.1M91.0 739.4L93.1 736.1M93.1 736.1L92.6 734.0M104.5 736.1L102.1 737.1M102.1 737.1L100.6 736.7M97.3 738.1L100.6 736.7M87.8 709.6L86.3 706.4M53.1 715.2L47.7 716.6M47.1 718.9L43.6 720.3M39.4 717.2L41.7 713.1M43.6 725.0L39.3 726.2M32.0 728.1L38.3 728.7M32.0 728.1L33.1 721.7M31.6 728.5L30.7 732.2M29.0 740.2L28.1 733.9" stroke="#4b9c2c" stroke-width="1"/><path d="M62.0 715.0L61.8 717.8M78.1 725.0L73.2 721.9M73.2 721.9L71.3 722.8M73.4 729.8L73.5 728.9M71.5 731.9L68.5 732.2M79.1 745.0L80.5 750.7M78.4 725.0L80.6 726.4M90.8 756.7L88.0 757.1M92.2 752.7L92.4 753.2M86.4 760.2L88.0 757.1M98.8 748.9L97.6 747.4M55.9 743.6L55.0 745.1M50.6 738.2L50.6 738.6M75.1 745.8L74.3 747.8M73.3 743.1L68.5 744.0M95.4 721.7L95.5 721.8M78.5 732.3L76.7 735.9M85.9 749.3L89.6 746.3M89.6 746.3L90.7 746.4M104.9 744.4L102.3 742.7M87.5 731.3L87.9 726.1M82.5 759.3L78.8 759.2M78.8 759.2L77.6 763.0M46.1 730.8L44.6 731.8M44.9 737.1L43.7 734.4M48.3 742.4L44.6 742.8M59.4 764.9L57.5 759.5M51.7 755.4L52.5 753.6M47.2 749.2L43.6 753.4M63.2 763.8L62.0 765.2M90.7 746.4L93.2 742.6M86.8 740.2L91.0 739.4M88.8 717.4L89.2 716.7M81.2 713.5L81.7 717.8M79.5 719.3L81.7 717.8M45.3 760.9L44.0 756.3M66.5 757.8L66.9 755.6M74.0 762.7L72.2 759.6M96.6 742.8L97.3 738.1M49.8 722.4L47.1 718.9M39.5 735.7L37.5 733.5M38.4 728.9L37.5 733.5M38.2 723.4L39.3 726.2M38.4 728.9L38.3 728.7M30.8 742.6L30.0 740.7M29.0 740.2L30.0 740.7M33.7 734.7L30.7 732.2" stroke="#5abc34" stroke-width="1"/><path d="M61.8 717.8L56.7 721.4M55.4 720.4L56.7 721.4M61.8 717.8L64.6 721.4M68.0 719.7L71.3 722.8M62.5 747.4L57.3 743.0M67.1 737.7L65.6 737.9M79.1 745.0L80.0 744.0M85.0 749.0L80.5 750.7M80.6 726.4L80.5 731.5M82.5 759.3L83.3 755.2M83.3 755.2L85.7 754.6M83.3 755.2L79.4 752.3M85.0 749.0L85.9 749.3M50.2 732.1L51.5 731.4M55.8 736.4L58.5 739.4M56.6 732.2L57.4 731.7M51.5 731.4L52.2 726.8M50.4 746.0L48.3 742.4M75.1 745.8L79.1 745.0M97.6 747.4L97.9 744.2M80.6 726.4L85.1 724.9M38.4 740.3L36.9 744.4M43.8 745.6L40.2 747.2M40.2 747.2L37.3 746.1M36.9 744.4L37.3 746.1M30.8 742.6L36.9 744.4M57.7 753.9L52.5 753.6M54.9 759.4L51.7 755.4M40.2 747.2L41.8 752.4M41.8 752.4L43.6 753.4M86.5 741.8L86.8 740.2M87.5 731.3L88.2 732.4M93.2 742.6L96.6 742.8M43.7 734.4L39.5 735.7M50.1 756.3L44.3 755.5M50.1 756.3L49.1 761.5M44.0 756.3L44.3 755.5M43.6 753.4L44.3 755.5M73.3 757.5L71.6 754.3M77.3 757.2L73.3 757.5M64.6 752.4L66.9 755.6M63.3 759.2L66.5 757.8M93.2 733.3L98.6 732.1M46.2 726.7L43.6 725.0M37.5 733.5L33.7 734.7" stroke="#69db3d" stroke-width="1"/><path d="M73.4 729.8L71.5 731.9M62.0 735.6L65.6 737.9M62.0 735.6L58.5 739.4M65.6 737.9L63.3 741.3M63.3 741.3L58.6 741.0M58.6 741.0L58.5 739.4M65.2 745.2L63.3 741.3M65.2 745.2L67.5 745.3M67.5 745.3L68.5 744.0M67.1 737.7L68.2 738.5M68.2 738.5L68.5 744.0M85.0 749.0L83.3 744.4M83.3 744.4L80.0 744.0M73.4 729.8L78.5 732.3M80.5 750.7L79.4 752.3M55.8 736.4L56.6 732.2M50.6 738.2L50.5 738.1M51.5 731.4L56.6 732.2M65.3 730.6L61.8 734.7M61.8 734.7L57.4 731.7M57.8 730.7L57.4 731.7M68.5 732.2L67.1 737.7M62.0 735.6L61.8 734.7M48.3 742.4L50.6 738.6M57.3 743.0L55.9 743.6M67.5 745.3L69.5 748.7M75.1 745.8L73.3 743.1M71.5 738.4L73.8 741.0M71.5 738.4L73.3 735.4M76.7 735.9L78.1 739.0M73.3 743.1L73.8 741.0M68.2 738.5L71.5 738.4M80.0 744.0L79.2 739.5M79.2 739.5L78.1 739.0M79.2 739.5L83.0 737.5M80.5 731.5L81.0 731.9M87.5 731.3L81.0 731.9M50.2 732.1L46.1 730.8M44.9 737.1L50.5 738.1M43.8 745.6L44.6 742.8M44.6 742.8L43.2 740.8M44.9 737.1L43.2 740.8M43.8 745.6L47.2 749.2M74.3 747.8L75.8 751.1M79.2 752.4L75.8 751.1M75.8 751.1L71.7 754.1M83.0 737.5L85.1 738.0M85.1 738.0L86.8 740.2M93.2 742.6L91.0 739.4M38.4 740.1L39.5 735.7M71.6 754.3L66.9 755.6" stroke="#78fa46" stroke-width="1"/><path d="M57.6 723.7L56.7 721.4M57.6 723.7L62.0 724.6M64.6 721.4L64.1 723.3M62.0 724.6L64.1 723.3M70.5 725.0L71.3 722.8M70.5 725.0L73.5 728.9M73.5 728.9L78.1 725.0M67.6 726.2L70.5 725.0M67.6 726.2L66.3 730.5M55.8 736.4L50.6 738.2M62.3 728.7L57.8 730.7M62.0 724.6L62.3 728.7M57.6 723.7L56.5 725.9M56.5 725.9L57.8 730.7M56.5 725.9L52.2 726.8M55.9 743.6L50.6 738.6M62.5 747.4L62.1 749.1M62.1 749.1L59.0 750.2M55.0 745.1L55.6 748.1M55.6 748.1L59.0 750.2M62.1 749.1L64.3 752.4M74.3 747.8L69.5 748.7M64.3 752.4L64.6 752.4M64.6 752.4L69.3 749.6M69.5 748.7L69.3 749.6M73.8 741.0L78.1 739.0M73.3 735.4L76.7 735.9M52.2 726.8L49.6 724.2M50.4 746.0L48.6 749.0M55.6 748.1L52.3 752.9M48.6 749.0L52.3 752.9M69.3 749.6L71.7 754.1" stroke="#82f546" stroke-width="1.25"/></g>
<ellipse cx="192" cy="745" rx="60" ry="44" fill="url(#gRed)" clip-path="url(#clip_r1c2)"/>
<g filter="url(#blur15)" clip-path="url(#clip_r1c2)" fill="#a01010" fill-opacity="0.35"><ellipse cx="183.3" cy="726" rx="14" ry="3.5"/><ellipse cx="181.3" cy="750" rx="14" ry="3"/></g>
<g clip-path="url(#clip_r1c2)" fill="none" stroke-linecap="round"><path d="M137.1 789.3L132.6 786.7M137.1 789.3L142.3 785.5M132.4 786.5L135.8 782.0M135.8 782.0L141.2 783.0M142.3 785.5L141.2 783.0M185.8 696.8L182.3 691.3M142.3 785.5L142.7 785.8M142.7 785.8L144.9 790.4M185.8 696.8L185.6 698.3M185.6 698.3L182.7 700.8M177.3 696.6L182.7 700.8M177.3 696.6L177.4 694.2M181.3 690.9L177.4 694.2M185.6 698.3L191.1 701.4M193.4 693.2L192.2 692.5M153.8 687.9L155.7 693.4M160.5 693.4L163.1 689.0M135.8 782.0L134.6 778.3M141.2 783.0L142.2 780.3M134.6 778.3L139.3 775.8M142.2 780.3L139.3 775.8M249.8 747.3L245.4 749.9M256.5 699.3L254.5 700.3M259.4 707.0L255.4 705.8M254.5 700.3L255.4 705.8M256.9 754.5L253.1 755.0M252.6 755.4L253.1 755.0M253.0 761.2L257.1 762.9M251.1 747.8L253.1 755.0M250.5 755.6L252.6 755.4M253.5 739.4L250.2 740.6M255.0 746.5L259.0 749.6M148.4 790.5L150.8 786.8M150.8 786.8L155.9 788.9M149.5 783.6L149.9 783.9M149.9 783.9L150.8 786.8M149.9 783.9L156.0 780.9M156.0 780.9L156.9 782.4M162.3 784.7L156.9 782.4M162.3 784.7L162.3 786.9M156.2 789.5L157.3 789.7M168.3 783.3L163.6 783.4M168.3 783.3L168.8 783.8M162.3 784.7L163.6 783.4M193.4 693.2L198.4 692.3M151.1 776.0L152.1 773.1M145.1 770.7L144.3 772.7M148.1 769.0L150.8 770.0M156.1 780.3L156.0 780.9M156.1 780.3L151.1 776.0M139.3 775.8L139.7 774.2M151.8 761.8L154.4 763.4M135.7 696.2L133.8 695.1M135.7 696.2L141.3 693.7M141.3 693.7L141.5 692.7M242.7 744.7L238.3 746.0M250.5 755.6L246.3 759.8M246.3 761.2L246.3 759.8M246.3 759.8L242.9 756.2M240.4 756.5L242.9 756.2M231.2 775.6L232.8 780.4M246.6 690.5L245.2 695.9M245.2 695.9L250.3 698.5M254.5 700.3L250.8 699.5M256.5 720.9L255.1 719.5M254.1 737.8L259.6 736.0M255.4 705.8L253.0 707.5M249.3 701.7L250.1 706.8M250.1 706.8L253.0 707.5M243.7 706.5L248.0 708.3M255.7 713.7L254.0 712.6M243.5 705.8L237.0 703.8M244.9 702.7L241.8 698.2M245.2 695.9L242.0 697.2M241.8 698.2L242.0 697.2M214.2 779.0L212.6 772.1M212.6 772.1L217.1 770.6M218.2 777.4L219.1 775.0M206.4 777.0L209.8 771.3M208.2 778.7L214.2 779.0M212.6 772.1L210.3 771.1M209.8 771.3L210.3 771.1M217.1 770.6L217.6 769.6M210.3 771.1L210.9 766.5M210.9 766.5L215.7 766.1M217.6 769.6L215.7 766.1M210.2 765.5L210.9 766.5M165.9 700.6L166.5 696.8M168.5 703.2L173.0 699.6M173.0 699.6L168.8 695.3M166.5 696.8L168.7 695.3M177.3 696.6L173.7 699.7M173.0 691.7L168.8 695.3M160.5 693.4L161.6 695.5M165.4 689.8L168.7 695.3M161.6 695.5L166.5 696.8M173.7 699.7L175.9 704.4M137.1 754.5L134.3 757.7M162.9 771.6L160.7 777.0M162.7 778.2L168.5 777.0M168.5 777.0L168.7 776.8M163.6 783.4L162.7 778.2M168.3 783.3L168.5 777.0M172.9 783.9L174.6 781.9M172.6 777.4L174.6 781.9M172.6 777.4L168.7 776.8M223.8 692.5L221.1 696.1M225.7 692.5L228.8 695.9M240.4 756.5L238.6 758.3M245.1 762.3L241.4 762.5M238.6 758.3L241.4 762.5M245.1 762.3L245.3 767.3M239.6 765.4L241.4 762.5M254.7 767.8L250.8 766.6M250.8 766.6L248.9 768.3M242.0 772.0L242.8 768.9M245.3 767.3L248.9 768.3M250.5 763.1L250.8 766.6M248.0 708.3L247.8 711.6M234.2 692.0L236.0 693.5M236.0 693.5L238.9 693.8M242.0 697.2L238.9 693.8M233.9 700.9L236.7 702.7M204.8 769.3L203.5 766.1M204.8 769.3L202.3 774.0M198.5 768.4L199.4 773.8M204.1 765.5L203.5 766.1M209.8 771.3L204.8 769.3M217.6 769.6L221.9 768.3M221.9 768.3L222.1 768.4M222.1 768.4L224.1 773.5M225.3 777.9L226.2 774.5M221.6 763.6L225.8 762.8M224.2 758.0L226.4 759.9M225.8 762.8L226.4 759.9M216.4 764.0L221.0 763.1M221.9 768.3L221.6 763.6M161.6 695.5L160.1 699.8M160.1 699.8L162.4 701.8M155.7 693.4L154.4 695.3M147.4 689.3L149.6 696.3M154.4 695.3L149.6 696.3M160.1 699.8L156.8 700.4M154.4 695.3L156.8 700.4M166.1 706.7L161.9 706.2M156.8 700.4L154.8 703.6M161.9 706.2L160.9 706.9M145.1 770.7L140.6 766.5M196.2 786.3L200.5 787.8M201.2 781.4L202.8 785.9M207.3 784.1L204.8 786.1M177.5 781.8L180.1 788.1M191.4 781.1L187.4 778.8M184.4 783.6L183.7 780.9M189.9 786.4L189.4 784.7M195.6 768.1L193.1 770.8M172.6 777.4L176.0 774.6M177.5 781.8L180.2 779.2M183.7 780.9L181.0 779.1M221.1 696.1L216.8 694.6M216.8 694.6L217.6 688.8M234.9 752.2L233.9 754.3M238.6 758.3L235.6 758.7M235.6 758.7L233.9 754.3M226.4 759.9L229.4 758.7M228.6 765.6L228.7 767.0M234.6 769.1L236.4 765.8M236.4 765.8L234.1 760.5M232.7 760.7L234.1 760.5M222.1 768.4L228.7 767.0M225.8 762.8L228.6 765.6M227.1 774.2L229.2 767.7M242.6 723.0L242.4 724.9M242.6 723.0L247.1 718.8M135.7 696.2L136.8 700.7M132.7 702.7L136.8 700.7M138.4 707.9L136.7 708.7M138.4 707.9L139.4 705.6M139.4 705.6L138.3 701.8M136.8 700.7L138.3 701.8M136.7 708.7L132.2 707.5M137.5 771.3L138.6 767.6M140.6 766.5L138.6 767.6M191.9 775.0L193.6 772.9M191.9 775.0L193.7 780.1M193.6 772.9L198.9 774.1M198.9 774.1L197.0 779.5M199.4 773.8L198.9 774.1M193.1 770.8L193.6 772.9M183.1 774.6L182.1 772.3M187.4 775.1L188.1 774.5M177.4 771.6L182.1 772.3M181.0 779.1L183.1 774.6M187.4 778.8L187.4 775.1M191.9 775.0L188.1 774.5M229.6 713.4L228.4 709.6M207.6 706.4L213.2 703.1M213.8 701.1L213.2 703.1M145.4 704.8L144.4 698.4M145.4 704.8L146.7 705.7M146.7 705.7L151.1 702.3M151.1 702.3L149.0 697.2M149.0 697.2L144.4 698.4M144.4 698.4L144.4 698.4M139.4 705.6L145.4 704.8M138.3 701.8L144.4 698.4M147.5 708.6L146.7 705.7M147.5 708.6L147.0 709.8M138.4 707.9L142.8 711.8M147.0 709.8L142.8 711.8M153.4 708.2L147.5 708.6M154.8 703.6L151.1 702.3M149.6 696.3L149.0 697.2M154.8 703.6L154.8 703.6M136.7 708.7L135.3 715.4M198.4 692.3L201.4 695.4M214.3 695.9L211.4 693.4M211.4 693.4L206.2 694.4M206.2 694.4L205.6 695.3M216.8 694.6L214.3 695.9M212.1 687.1L211.4 693.4M205.8 689.7L206.2 694.4M201.4 695.4L205.6 695.3M153.4 708.2L155.3 711.7M143.0 721.9L139.9 717.1M135.4 723.8L137.9 717.3M135.3 715.4L137.9 717.3M138.5 731.4L139.4 726.9M142.8 711.8L142.1 715.1M142.1 715.1L139.9 717.1M148.1 720.7L143.0 721.9" stroke="#1d0202" stroke-width="1"/><path d="M183.3 715.0L183.1 717.8M176.7 720.4L175.9 716.4M249.8 747.3L251.1 747.8M245.4 749.9L245.3 750.2M250.2 740.6L248.7 743.1M182.7 700.8L182.5 701.5M186.0 721.4L189.4 719.7M159.8 769.0L161.9 764.0M147.3 777.7L151.1 776.0M139.7 774.2L144.3 772.7M156.5 773.0L152.1 773.1M158.4 769.4L156.5 773.0M154.4 766.8L150.8 770.0M151.8 761.8L147.3 763.3M147.3 763.3L148.1 769.0M245.6 752.3L242.9 756.2M238.8 751.5L239.5 750.5M238.8 751.5L240.4 756.5M255.7 713.7L255.1 719.5M259.0 730.1L254.1 729.3M256.5 720.9L253.6 727.6M254.1 729.3L253.6 727.6M249.3 701.7L250.8 699.5M244.9 702.7L249.3 701.7M250.1 706.8L248.0 708.3M237.0 703.8L236.7 702.7M228.8 696.7L225.2 699.9M228.8 696.7L233.6 700.9M225.2 699.9L226.2 703.3M205.3 760.7L204.1 765.5M204.1 765.5L210.2 765.5M236.3 742.6L236.4 745.0M228.5 744.0L226.3 744.4M214.4 760.4L210.6 762.7M214.4 760.4L216.4 764.0M216.4 764.0L215.7 766.1M218.9 757.8L218.5 754.5M205.3 760.7L203.9 759.3M165.9 700.6L168.5 703.2M176.7 704.6L179.0 709.1M168.5 704.2L168.5 703.2M147.1 754.3L151.8 756.3M135.4 752.0L129.7 751.0M166.4 771.1L168.1 772.5M168.1 772.5L168.7 776.8M159.8 769.0L162.9 771.6M159.3 777.2L160.7 777.0M221.3 706.7L226.2 703.3M225.2 699.9L221.8 698.4M218.9 701.6L221.8 698.4M243.8 713.1L247.8 711.6M254.0 712.6L249.6 713.2M247.8 711.6L249.6 713.2M221.2 707.2L224.6 710.3M220.0 715.0L222.4 715.9M223.8 715.3L222.4 715.9M222.0 721.0L222.4 715.9M196.0 718.2L195.5 717.1M194.0 698.9L198.9 701.1M198.5 768.4L200.8 766.0M219.6 753.5L224.9 754.2M227.1 752.6L227.1 752.6M224.9 754.2L227.1 752.6M220.7 759.2L224.2 758.0M154.8 703.6L160.9 706.9M166.7 766.8L163.9 764.2M173.2 770.1L168.1 772.5M166.7 766.8L172.4 764.5M173.1 764.2L176.3 759.4M178.9 759.5L176.3 759.4M142.1 757.6L139.4 761.5M139.4 761.5L141.1 765.3M137.9 754.5L137.1 754.5M137.9 754.5L142.1 757.6M139.4 761.5L134.6 761.1M140.6 766.5L141.1 765.3M144.1 743.4L141.5 748.3M142.0 749.9L141.5 748.3M144.0 742.5L138.2 741.4M156.3 754.2L156.4 754.1M137.9 754.5L142.0 749.9M136.7 739.5L135.3 739.4M195.6 768.1L198.5 768.4M184.6 763.8L183.4 765.2M193.8 765.4L190.9 765.5M173.2 770.1L176.4 772.1M176.4 772.1L177.4 771.6M229.4 758.7L232.7 760.7M240.7 738.8L242.1 738.8M250.0 719.9L248.5 718.8M239.5 718.5L240.2 716.3M239.5 718.5L242.6 723.0M240.1 726.5L242.4 724.9M253.6 727.6L249.3 724.7M249.6 713.2L248.5 718.8M223.8 715.3L226.9 716.1M212.1 746.4L214.6 742.6M227.9 722.4L229.1 723.9M229.1 723.9L234.8 725.4M240.1 726.5L234.8 725.5M234.8 725.5L234.8 725.4M210.5 716.7L207.8 712.4M207.8 712.4L202.5 713.5M212.1 723.0L210.2 717.4M209.1 709.6L214.7 710.4M167.6 711.3L172.2 709.4M174.4 715.2L174.5 711.6M144.7 741.4L144.0 742.5M136.7 739.5L140.0 733.7M133.1 732.0L138.5 731.4M189.4 763.1L190.5 760.5M188.1 774.5L187.9 769.5M184.8 768.4L187.9 769.5M233.5 714.2L229.6 713.4M235.9 712.1L236.2 710.1M233.3 718.0L233.5 714.2M242.0 709.9L236.2 710.1M224.6 710.3L228.4 709.6M226.7 730.3L228.1 732.3M228.1 732.3L228.1 732.3M221.4 728.5L221.8 728.4M229.1 723.9L226.7 730.3M202.1 708.6L205.2 705.3M153.4 708.2L154.8 703.6M171.2 722.4L168.4 718.9M205.2 705.3L204.6 703.7M199.1 701.0L204.6 703.7M199.1 701.0L201.4 695.4M214.3 695.9L213.3 700.2M207.1 699.0L205.6 695.3M164.9 720.3L164.9 725.0M166.9 712.8L163.0 713.1M164.9 720.3L162.1 719.3M143.0 721.9L141.3 726.1M135.4 723.8L139.4 726.9M139.4 726.9L141.3 726.1M144.7 741.4L150.3 740.2M154.8 713.3L157.4 716.9M154.8 713.3L150.3 715.1M150.3 715.1L149.0 717.9M154.4 721.7L149.2 719.4M155.3 711.7L154.8 713.3M142.1 715.1L149.0 717.9M153.3 728.1L154.4 721.7M148.1 720.7L149.2 719.4M152.1 732.2L149.4 733.9M148.2 726.5L145.7 727.7M153.3 728.1L152.9 728.5M155.1 734.7L152.1 732.2M148.1 720.7L148.2 726.5" stroke="#3a0505" stroke-width="1"/><path d="M176.7 720.4L178.1 721.4M180.9 714.1L175.9 716.4M194.0 698.9L191.1 701.4M249.8 747.3L248.7 743.1M245.4 749.9L242.7 744.7M255.8 742.6L255.0 746.5M185.1 707.0L182.5 701.5M183.1 717.8L186.0 721.4M194.6 721.9L192.6 722.8M154.4 763.4L159.3 761.2M158.4 769.4L154.4 766.8M245.3 750.2L239.5 750.5M239.5 750.5L238.3 746.0M254.1 737.8L251.5 732.2M254.1 729.3L251.5 732.2M226.2 703.3L228.6 704.4M255.8 742.6L261.7 742.4M183.3 735.6L179.8 739.4M206.4 749.0L204.7 744.4M202.0 726.4L201.8 731.5M207.8 760.2L210.6 762.7M238.3 746.0L236.4 745.0M236.4 745.0L232.3 747.6M234.9 752.2L232.3 747.6M236.3 742.6L233.0 739.4M224.6 748.9L227.1 752.6M213.5 752.7L208.3 751.6M214.4 760.4L212.2 756.7M218.9 757.8L214.4 760.4M218.5 754.5L213.8 753.2M219.0 747.4L214.2 748.7M184.8 714.1L185.4 707.2M182.5 701.5L176.7 704.6M176.7 704.6L175.9 704.4M175.9 704.4L172.5 707.0M179.0 709.1L178.8 709.6M177.2 736.4L179.8 739.4M144.3 757.6L146.5 762.8M137.1 754.5L135.4 752.0M135.4 752.0L136.6 747.0M136.5 746.8L136.6 747.0M181.2 756.5L179.1 753.9M162.9 771.6L166.4 771.1M217.5 709.6L221.2 707.2M217.5 709.6L220.0 715.0M216.2 717.6L220.0 715.0M192.9 738.4L194.7 735.4M194.7 743.1L195.1 741.0M199.9 732.3L198.1 735.9M210.9 746.3L207.8 741.8M226.3 744.4L223.7 742.7M219.0 747.4L219.3 744.2M216.8 721.7L212.1 723.0M196.6 706.2L198.9 701.1M200.8 766.0L203.5 766.1M199.0 763.0L200.8 766.0M224.9 754.2L224.2 758.0M168.5 704.2L166.1 706.7M167.5 730.8L167.5 726.7M165.0 734.4L165.9 731.8M165.9 742.8L164.5 740.8M161.5 747.2L163.1 752.4M146.5 762.8L141.1 765.3M144.1 743.4L149.4 748.3M144.0 742.5L144.1 743.4M147.1 754.3L146.9 752.4M138.2 741.4L136.7 739.5M131.5 743.1L135.3 739.4M135.3 739.4L132.0 736.4M195.3 762.7L193.8 765.4M180.7 764.9L183.4 765.2M176.4 772.1L176.0 774.6M172.4 764.5L173.1 764.2M179.3 765.6L177.4 771.6M245.0 735.7L242.1 738.8M245.0 735.7L245.3 734.2M240.7 738.8L236.5 735.0M236.5 735.0L236.7 733.8M250.2 740.6L245.0 735.7M251.5 732.2L247.8 732.3M247.8 732.3L245.3 734.2M236.3 742.6L240.7 738.8M233.8 736.6L236.5 735.0M246.1 726.4L249.3 724.7M243.0 715.1L247.1 718.8M243.0 715.1L240.2 716.3M240.1 726.5L240.5 731.0M255.1 719.5L250.0 719.9M223.7 722.7L227.9 722.4M227.9 722.4L228.8 719.5M226.9 716.1L228.8 719.5M208.9 731.3L209.6 732.4M214.6 742.6L212.4 739.4M235.5 720.1L233.3 718.0M210.2 717.4L205.4 719.1M216.2 717.6L213.0 715.8M217.5 709.6L216.3 709.4M216.3 709.4L214.7 710.4M196.8 706.7L202.1 708.6M202.5 713.5L202.1 713.0M172.5 707.0L172.2 709.4M175.9 716.4L174.4 715.2M172.2 709.4L174.5 711.6M165.0 734.4L160.8 735.7M143.6 734.8L140.0 733.7M138.5 731.4L140.0 733.7M171.4 756.3L165.7 755.5M164.9 753.4L165.7 755.5M159.5 760.0L165.3 756.3M194.6 757.5L193.6 759.6M186.0 752.4L188.3 755.6M182.1 772.3L184.8 768.4M233.5 714.2L235.9 712.1M235.7 708.9L236.2 710.1M240.2 716.3L235.9 712.1M228.6 704.4L229.6 707.9M221.3 706.7L221.2 707.2M215.2 728.3L214.6 733.3M226.7 730.3L221.8 728.4M218.7 738.1L221.9 736.6M218.2 727.1L221.4 728.5M209.1 709.6L207.6 706.4M205.2 705.3L207.6 706.4M218.9 701.6L213.8 701.1M167.6 711.3L166.9 712.8M174.4 715.2L169.0 716.6M165.9 731.8L159.8 728.9M198.9 701.1L199.1 701.0M213.8 701.1L213.3 700.2M204.6 703.7L207.1 699.0M160.8 717.2L163.0 713.1M155.3 711.7L160.3 709.8M160.3 709.8L163.0 713.1M162.1 719.3L159.6 723.4M159.7 728.7L160.6 726.2M155.3 737.9L151.3 740.7M150.3 740.2L151.3 740.7M154.4 721.7L154.4 721.7M149.0 717.9L149.2 719.4M143.6 734.8L146.0 733.4" stroke="#560808" stroke-width="1"/><path d="M183.3 715.0L180.9 714.1M243.7 742.8L242.7 744.7M191.1 701.4L190.9 704.7M185.4 707.2L188.9 706.9M199.5 725.0L194.6 721.9M187.0 737.9L184.7 741.3M200.5 745.0L201.3 744.0M206.4 749.0L201.9 750.7M199.9 732.3L201.8 731.5M205.3 760.7L207.8 760.2M228.5 744.0L230.1 740.5M228.5 744.0L232.2 747.6M232.2 747.6L232.3 747.6M226.3 744.4L224.6 748.9M209.3 757.1L207.1 754.6M218.5 754.5L219.6 753.5M214.2 748.7L213.5 752.7M206.4 749.0L207.2 749.3M207.2 749.3L208.3 751.6M184.8 714.1L190.1 715.3M188.9 706.9L191.6 711.3M190.1 715.3L191.6 711.3M185.1 707.0L179.0 709.1M177.2 736.4L177.9 732.2M172.8 731.4L177.9 732.2M187.7 730.5L186.7 730.6M176.3 745.1L171.7 746.0M194.7 743.1L189.9 744.0M216.8 721.7L216.9 721.8M189.5 738.5L192.9 738.4M196.4 745.8L200.5 745.0M200.5 739.5L199.5 739.0M207.2 749.3L210.9 746.3M218.2 727.1L216.9 721.8M218.2 727.1L215.2 728.3M210.4 725.5L212.1 723.0M190.3 715.6L195.5 717.1M200.2 759.2L199.0 763.0M218.9 757.8L220.7 759.2M176.7 720.4L171.2 722.4M159.8 740.3L164.5 740.8M166.2 737.1L164.5 740.8M150.4 747.9L152.2 742.6M173.2 770.1L172.4 764.5M173.1 764.2L179.3 765.6M159.3 761.2L159.5 760.0M156.3 754.2L159.5 760.0M156.4 754.1L163.1 752.4M163.1 752.4L164.9 753.4M146.9 752.4L149.4 748.3M150.4 747.9L149.4 748.3M195.6 747.8L197.1 751.1M181.2 756.9L184.7 759.2M184.7 759.2L184.6 763.8M190.9 765.5L189.5 768.9M245.3 734.2L240.5 731.0M240.5 731.0L236.7 733.8M214.6 742.6L218.0 742.8M235.5 720.1L234.8 725.4M233.3 718.0L228.8 719.5M235.5 720.1L239.5 718.5M202.5 713.5L203.1 717.8M205.4 719.1L203.1 717.8M210.4 725.5L209.2 726.1M213.0 715.8L210.5 716.7M200.8 719.3L203.1 717.8M213.0 715.8L214.7 710.4M207.8 712.4L209.1 709.6M197.6 713.2L202.1 713.0M197.6 713.2L195.4 710.7M195.5 717.1L197.6 713.2M196.6 706.2L196.8 706.7M166.1 706.7L167.6 711.3M159.8 740.3L159.7 740.1M159.7 740.1L160.8 735.7M165.3 756.3L165.7 755.5M173.0 755.4L171.4 756.3M163.9 764.2L166.7 760.9M187.8 757.8L188.3 755.6M198.7 757.2L194.6 757.5M189.4 763.1L190.9 765.5M183.4 765.2L184.8 768.4M226.9 716.1L229.6 713.4M218.0 742.8L218.7 738.1M214.4 736.1L214.0 734.0M225.9 736.1L223.5 737.1M230.1 740.5L225.9 736.1M159.8 728.9L159.7 728.7M159.7 740.1L155.3 737.9M152.9 728.5L148.2 726.5M145.7 727.7L146.0 733.4M146.0 733.4L149.4 733.9M150.3 740.2L149.4 733.9" stroke="#730a0a" stroke-width="1"/><path d="M183.1 717.8L178.1 721.4M189.4 719.7L192.6 722.8M184.7 741.3L179.9 741.0M183.8 747.4L178.6 743.0M189.5 738.5L189.9 744.0M204.7 744.4L201.3 744.0M199.8 725.0L199.5 725.0M233.0 739.4L230.1 740.5M212.2 756.7L209.3 757.1M212.2 756.7L213.8 753.2M213.5 752.7L213.8 753.2M207.1 754.6L208.3 751.6M207.8 760.2L209.3 757.1M219.6 753.5L220.2 748.9M220.2 748.9L219.0 747.4M203.9 759.3L204.6 755.2M204.6 755.2L200.8 752.3M201.9 750.7L200.8 752.3M171.5 732.1L172.8 731.4M179.1 730.7L178.7 731.7M171.7 746.0L169.6 742.4M171.9 738.2L171.9 738.6M181.2 756.5L185.7 752.4M188.9 745.3L190.9 748.7M222.0 721.0L216.9 721.8M216.2 717.6L216.8 721.7M201.8 731.5L202.4 731.9M210.9 746.3L212.1 746.4M204.7 744.4L207.8 741.8M215.2 728.3L210.4 725.5M208.9 731.3L209.2 726.1M208.9 731.3L202.4 731.9M209.2 726.1L206.5 724.9M167.5 726.7L170.9 724.2M171.2 722.4L170.9 724.2M159.8 740.3L158.2 744.4M165.1 745.6L161.5 747.2M158.2 744.4L158.6 746.1M169.6 742.4L165.9 742.8M180.7 764.9L178.9 759.5M165.1 745.6L168.5 749.2M181.2 756.5L181.2 756.9M176.3 759.4L173.0 755.4M173.0 755.4L173.8 753.6M200.2 759.2L198.7 757.2M208.2 740.2L212.4 739.4M194.6 757.5L193.0 754.3M193.0 754.3L188.3 755.6M190.5 760.5L187.8 757.8M184.6 763.8L189.4 763.1M214.4 736.1L218.7 738.1M209.6 732.4L214.0 734.0M228.1 732.3L225.9 736.1M223.5 737.1L221.9 736.6M233.4 729.5L228.1 732.3M160.8 735.7L158.8 733.5M159.8 728.9L158.8 733.5M168.4 718.9L164.9 720.3M162.1 719.3L160.8 717.2M164.9 725.0L160.6 726.2M159.6 723.4L160.6 726.2M158.8 733.5L155.1 734.7M155.1 734.7L155.3 737.9M153.3 728.1L159.7 728.7" stroke="#900c0c" stroke-width="1"/><path d="M194.7 729.8L194.8 728.9M183.8 747.4L186.5 745.2M186.5 745.2L184.7 741.3M200.5 745.0L201.9 750.7M194.7 729.8L199.9 732.3M199.8 725.0L202.0 726.4M183.3 735.6L183.2 734.7M172.8 731.4L173.6 726.8M169.6 742.4L171.9 738.6M192.9 731.9L194.7 735.4M202.0 726.4L206.5 724.9M200.8 719.3L196.0 718.2M171.5 732.1L167.5 730.8M167.5 730.8L165.9 731.8M166.2 737.1L171.9 738.1M173.8 753.6L173.7 752.9M200.8 752.3L200.6 752.4M198.7 757.2L200.6 752.4M204.4 737.5L206.5 738.0M207.8 741.8L208.2 740.2M206.5 724.9L205.4 719.1M193.0 754.1L193.0 754.3M184.7 759.2L187.8 757.8M212.4 739.4L214.4 736.1M214.6 733.3L214.0 734.0M220.0 732.1L221.9 736.6M167.5 726.7L164.9 725.0" stroke="#ac0f0f" stroke-width="1"/><path d="M178.9 723.7L178.1 721.4M178.9 723.7L183.3 724.6M183.3 724.6L185.4 723.3M191.9 725.0L192.6 722.8M191.9 725.0L194.8 728.9M194.8 728.9L199.5 725.0M185.4 723.3L188.9 726.2M188.9 726.2L191.9 725.0M188.9 726.2L187.7 730.5M177.2 736.4L171.9 738.2M183.7 728.7L186.7 730.6M183.7 728.7L179.1 730.7M183.3 724.6L183.7 728.7M178.9 723.7L177.9 725.9M177.9 725.9L179.1 730.7M177.9 725.9L173.6 726.8M177.3 743.6L171.9 738.6M183.8 747.4L183.5 749.1M176.3 745.1L176.9 748.1M176.9 748.1L180.3 750.2M183.5 749.1L185.7 752.4M180.3 750.2L179.1 753.9M195.6 747.8L190.9 748.7M185.7 752.4L186.0 752.4M186.0 752.4L190.6 749.6M194.7 735.4L198.1 735.9M173.6 726.8L170.9 724.2M190.6 749.6L193.0 754.1" stroke="#a51313" stroke-width="1.25"/><path d="M189.8 732.2L187.7 730.5M171.5 732.1L171.9 738.1M171.9 738.2L171.9 738.1M183.2 734.7L178.7 731.7M177.9 732.2L178.7 731.7M177.3 743.6L176.3 745.1M204.4 737.5L202.4 731.9M200.6 752.4L197.1 751.1M197.1 751.1L193.0 754.1M206.5 738.0L208.2 740.2" stroke="#c91212" stroke-width="1"/><path d="M192.9 731.9L189.8 732.2M179.9 741.0L179.8 739.4M188.5 737.7L187.0 737.9M188.5 737.7L189.5 738.5M186.7 730.6L183.2 734.7M201.3 744.0L200.5 739.5" stroke="#e61414" stroke-width="1"/></g>
<g filter="url(#blur15)" clip-path="url(#clip_r1c3)" fill="#90e030" fill-opacity="0.4"><ellipse cx="304.5" cy="726" rx="14" ry="3.5"/><ellipse cx="302.5" cy="750" rx="14" ry="3"/></g>
<g clip-path="url(#clip_r1c3)" fill="none" stroke-linecap="round"><path d="M379.4 807.4L373.1 811.3M371.5 784.6L377.8 785.1M357.7 788.6L354.5 790.7M373.1 811.3L373.7 814.6M311.1 786.4L308.4 790.2M354.8 812.5L353.7 804.7M342.6 779.7L342.8 782.4M313.2 808.8L316.4 804.5M314.0 798.6L319.1 797.7M351.5 789.2L346.5 790.6M335.9 782.6L335.5 779.0M272.5 802.1L272.9 801.2M282.5 794.5L279.7 796.8M277.5 789.5L278.5 789.7M276.7 809.5L279.6 806.6M327.5 804.8L328.2 804.3" stroke="#302d2c" stroke-width="1"/><path d="M253.4 795.4L256.6 795.2M256.6 795.2L258.8 792.3M258.8 792.3L264.1 793.8M265.0 797.3L264.3 798.4M268.5 809.3L267.5 804.4M379.3 806.8L375.5 803.0M375.5 803.0L375.5 801.7M368.9 797.6L372.1 797.8M368.9 797.6L368.1 804.0M370.6 789.2L376.8 792.6M379.3 786.6L377.3 792.5M368.9 797.6L368.8 797.5M370.6 789.2L366.8 791.8M357.7 788.6L357.8 785.5M351.5 789.2L350.6 782.8M357.0 813.4L359.4 812.6M368.1 804.0L364.9 806.0M364.6 815.2L367.1 810.3M324.1 785.9L321.8 787.8M321.8 787.8L317.4 786.3M382.2 772.3L377.0 772.4M375.8 777.7L375.5 773.9M377.0 772.4L375.5 773.9M371.8 763.1L372.1 766.6M376.0 767.8L372.1 766.6M371.5 784.6L370.1 782.3M366.8 791.8L364.6 791.0M364.6 791.0L364.5 784.4M364.5 784.4L361.9 782.9M375.8 777.7L370.2 781.5M353.8 781.3L354.0 780.4M347.5 774.5L348.4 774.2M267.5 804.4L272.5 802.1M314.8 792.2L312.3 794.9M314.7 788.1L311.1 786.4M312.3 794.9L309.0 793.8M308.4 790.2L309.0 793.8M359.7 797.3L357.8 797.6M362.6 805.5L361.3 806.0M368.8 797.5L362.5 799.5M362.8 791.4L359.7 797.3M353.7 804.7L355.5 804.0M350.8 803.9L350.1 797.1M359.4 812.6L361.3 806.0M322.5 781.4L326.7 776.9M346.5 777.9L342.6 779.7M342.8 782.4L346.5 784.3M324.8 814.5L331.4 812.5M322.1 810.5L321.9 811.2M316.4 813.3L321.9 811.2M319.2 804.8L316.4 804.5M322.3 802.0L319.2 804.8M327.5 804.8L327.2 806.4M316.4 804.5L313.9 799.3M314.8 792.2L321.0 792.4M314.0 798.6L312.3 794.9M317.4 786.3L314.7 788.1M321.3 792.2L321.0 792.4M364.1 768.9L366.6 767.3M359.4 777.8L359.5 773.0M356.8 771.6L359.5 773.0M370.2 781.5L367.2 777.0M345.4 773.4L347.5 774.5M324.1 785.9L326.1 786.1M327.7 777.0L329.5 778.7M271.3 792.8L270.2 797.4M271.3 792.8L275.4 792.4M275.4 792.4L277.5 789.5M305.3 801.5L308.8 802.5M303.6 807.7L309.5 809.2M309.0 793.8L306.8 795.0M313.2 808.8L310.8 808.4M349.7 814.2L347.7 811.6M347.7 811.6L341.4 811.2M335.4 810.1L331.4 812.4M340.9 787.6L345.3 788.6M340.9 787.6L338.0 790.3M338.0 790.3L338.4 792.6M338.4 792.6L345.6 793.8M345.6 793.8L346.5 790.6M340.5 784.4L340.9 787.6M335.9 782.6L334.2 785.4M334.5 787.8L338.0 790.3M339.5 777.4L335.5 779.0M335.5 779.0L335.5 779.0M279.9 800.9L278.9 802.0M270.2 797.4L272.6 799.7M275.4 792.4L276.4 796.0M286.3 797.6L284.4 794.5M282.5 794.5L284.4 794.5M292.5 791.7L293.1 792.9M299.1 800.2L304.7 801.7M290.0 783.8L288.9 790.1M288.9 790.1L287.0 790.6M284.4 794.5L287.0 790.6M292.5 791.7L288.9 790.1M292.4 796.7L293.5 798.6M293.5 798.6L298.5 800.5M286.4 810.1L284.0 806.9M274.6 809.5L276.7 809.5M280.4 814.0L276.7 809.5M334.5 787.8L329.8 791.4M329.8 791.4L329.8 791.4M321.3 792.2L325.8 794.7M336.6 795.7L334.4 796.5M338.5 803.7L340.7 799.3M343.3 799.1L340.7 799.3M348.7 805.0L345.8 804.3M336.6 795.7L340.7 799.3M294.6 811.0L293.2 807.6M302.2 808.8L301.4 811.9M292.0 807.2L293.2 807.6M307.4 814.5L301.4 811.9M282.9 814.3L285.8 812.5M285.8 812.5L291.4 816.9M333.4 798.2L336.1 804.4M326.0 796.5L329.8 799.6M335.4 810.1L335.2 805.7" stroke="#474442" stroke-width="1"/><path d="M258.4 801.7L260.3 807.1M260.2 807.5L253.7 809.2M260.2 807.5L260.3 807.1M262.3 810.8L260.2 807.5M258.3 789.3L263.5 785.5M258.4 801.7L259.5 799.6M259.5 799.6L256.6 795.2M264.1 793.8L265.0 797.3M264.3 798.4L265.7 803.6M262.3 810.8L268.5 809.3M268.5 809.3L271.6 811.3M371.8 805.4L372.0 810.3M373.1 811.3L372.0 810.3M264.1 793.8L266.1 790.4M266.1 790.4L263.9 785.8M372.1 797.8L376.8 792.6M375.5 801.7L381.1 797.8M376.8 792.6L377.3 792.5M354.5 790.7L351.5 789.2M357.8 785.5L353.8 781.3M350.6 782.8L353.8 781.3M271.6 811.3L271.9 811.3M359.4 812.6L364.6 815.2M372.0 810.3L367.1 810.3M354.8 812.5L349.7 814.2M324.1 785.9L322.5 781.4M322.5 781.4L318.3 779.5M316.1 780.4L317.4 786.3M374.3 761.2L378.4 762.9M266.1 790.4L269.6 790.5M378.9 764.6L376.0 767.8M377.0 772.4L376.0 767.8M378.1 779.4L375.8 777.7M364.5 784.4L370.1 782.3M357.7 788.6L362.8 791.4M362.8 791.4L364.6 791.0M357.8 785.5L361.9 782.9M370.1 782.3L370.2 781.5M352.4 775.6L356.8 771.6M348.4 774.2L350.5 767.7M356.8 771.6L355.9 769.1M349.5 782.7L350.6 782.8M349.5 782.7L346.5 777.9M274.6 809.5L272.5 802.1M314.8 792.2L314.7 788.1M362.5 799.5L362.6 805.5M355.5 804.0L361.3 806.0M354.5 790.7L354.1 795.0M354.1 795.0L357.8 797.6M354.1 795.0L350.1 797.1M364.9 806.0L362.6 805.5M349.5 782.7L346.5 784.3M322.1 810.5L327.2 806.4M327.2 806.4L331.4 812.4M331.4 812.5L331.4 812.4M316.4 813.3L313.2 808.8M319.2 804.8L322.1 810.5M322.3 802.0L327.5 804.8M322.3 802.0L322.2 800.3M370.6 772.9L370.2 768.3M370.2 768.3L366.6 767.3M359.4 777.8L361.8 779.8M359.5 773.0L363.3 772.0M363.3 772.0L367.3 775.2M361.9 782.9L361.8 779.8M364.1 768.9L363.3 772.0M326.1 786.1L328.6 784.1M328.6 784.1L329.5 778.7M272.0 786.7L277.1 788.9M277.1 788.9L277.5 789.5M304.7 801.7L303.6 807.7M304.7 801.7L305.3 801.5M308.8 802.5L310.8 808.4M313.9 799.3L308.8 802.5M306.8 795.0L305.3 801.5M303.4 787.3L301.3 788.1M303.4 787.3L305.6 783.6M303.4 787.3L308.4 790.2M350.8 803.9L348.7 805.0M348.7 805.0L347.7 811.6M339.9 812.2L341.4 811.2M342.8 782.4L340.5 784.4M346.5 784.3L345.3 788.6M335.9 782.6L340.5 784.4M346.2 795.4L345.6 793.8M333.8 772.1L335.5 779.0M342.6 779.7L339.5 777.4M272.9 801.2L278.9 802.0M272.9 801.2L272.6 799.7M272.6 799.7L276.4 796.0M285.7 801.5L279.9 800.9M285.7 801.5L286.3 797.6M282.5 794.5L278.5 789.7M292.5 791.7L295.5 787.9M293.1 792.9L300.5 793.8M295.5 787.9L301.2 788.3M300.9 793.4L300.5 793.8M301.3 788.1L301.2 788.3M299.1 800.2L300.5 793.8M278.5 789.7L283.5 786.9M286.3 797.6L292.4 796.7M285.7 801.5L285.7 801.6M299.1 800.2L298.5 800.5M285.7 801.6L284.0 806.9M292.0 807.2L290.4 803.3M292.0 807.2L286.4 810.1M278.9 802.0L279.6 806.6M326.1 786.1L329.8 791.4M336.6 795.7L338.4 792.6M322.2 800.3L326.0 796.5M342.4 806.0L345.8 804.3M342.4 806.0L338.5 803.7M345.8 804.3L343.3 799.1M341.4 811.2L342.4 806.0M293.2 807.6L297.2 805.0M301.4 811.9L300.1 812.9M291.5 816.9L294.6 811.0M298.5 800.5L297.2 805.0M303.6 807.7L302.2 808.8M335.2 805.7L336.1 804.4M338.5 803.7L336.1 804.4" stroke="#5f5a58" stroke-width="1"/><path d="M304.6 735.6L301.1 739.4M297.6 745.1L293.0 746.0M293.0 746.0L290.8 742.4M286.4 745.6L289.7 749.2M292.7 732.1L293.1 738.1M292.7 732.1L294.1 731.4M294.1 731.4L299.1 732.2M288.7 730.8L292.7 732.1M294.1 731.4L294.8 726.8M310.1 745.3L312.1 748.7M302.5 756.5L302.5 756.9M327.6 749.0L323.1 750.7M309.7 737.7L308.2 737.9M310.7 738.5L311.1 744.0M304.4 734.7L300.0 731.7M308.9 730.5L307.9 730.6M311.0 732.2L309.7 737.7M297.8 753.8L295.5 756.9M323.1 731.5L323.6 731.9M322.6 744.0L321.8 739.5M327.7 738.0L330.8 732.4" stroke="#6a992c" stroke-width="1.25"/><path d="M330.1 731.3L330.8 732.4" stroke="#6b982f" stroke-width="1.25"/><path d="M295.5 756.9L292.6 756.6" stroke="#6c9633" stroke-width="1.25"/><path d="M335.5 748.7L333.3 746.4" stroke="#6d9535" stroke-width="1.25"/><path d="M295.5 756.9L297.5 759.4" stroke="#6d9536" stroke-width="1.25"/><path d="M310.6 719.7L313.9 722.8" stroke="#6e9538" stroke-width="1.25"/><path d="M340.3 747.4L335.5 748.7M335.5 748.7L334.8 752.7M336.5 728.3L331.7 725.5M340.6 744.2L339.3 742.8" stroke="#6f933c" stroke-width="1.25"/><path d="M315.8 721.9L317.2 718.2" stroke="#6f933d" stroke-width="1.25"/><path d="M340.3 747.4L340.6 744.2M327.7 724.9L326.6 719.1" stroke="#70923e" stroke-width="1.25"/><path d="M276.3 734.7L276.5 737.9" stroke="#70923f" stroke-width="1.25"/><path d="M316.6 762.7L314.8 759.6" stroke="#709240" stroke-width="1.25"/><path d="M341.2 732.1L342.7 728.5" stroke="#709141" stroke-width="1.25"/><path d="M289.7 718.9L292.4 722.4" stroke="#719043" stroke-width="1.25"/><path d="M277.6 754.1L284.3 752.4" stroke="#719142" stroke-width="1.25"/><path d="M377.8 699.3L375.8 700.3M380.7 707.0L376.7 705.8M314.7 693.3L319.7 692.3M365.0 706.5L369.3 708.3M347.4 703.3L349.8 704.4M340.2 701.6L343.1 698.4M345.1 692.5L342.4 696.1M347.0 692.5L350.1 695.9M363.5 688.8L360.2 693.8M317.8 706.2L320.1 701.1M338.1 694.6L338.9 688.8M317.8 706.2L318.0 706.7M330.4 709.6L328.9 706.4M337.5 709.4L334.5 703.1M328.9 706.4L334.5 703.1M335.0 701.1L334.5 703.1M319.7 692.3L322.7 695.4M320.4 701.0L322.7 695.4M332.7 693.4L327.5 694.4" stroke="#7d6a5e" stroke-width="1.25"/><path d="M333.4 756.7L330.6 757.1M326.6 719.1L324.3 717.8" stroke="#719044" stroke-width="1.25"/><path d="M340.9 753.5L341.4 748.9M280.8 723.4L281.9 726.2" stroke="#728f46" stroke-width="1.25"/><path d="M286.5 756.3L287.9 760.9M273.3 732.2L276.3 734.7" stroke="#729045" stroke-width="1.25"/><path d="M351.3 740.5L347.2 736.1" stroke="#728f47" stroke-width="1.25"/><path d="M320.2 763.0L316.6 762.7M348.0 730.3L349.4 732.3" stroke="#738e48" stroke-width="1.25"/><path d="M271.6 740.2L272.5 740.7" stroke="#728f48" stroke-width="1.25"/><path d="M326.6 760.7L329.0 760.2M289.7 718.9L286.2 720.3" stroke="#738e49" stroke-width="1.25"/><path d="M335.7 760.4L333.4 756.7M277.6 754.1L277.5 754.2M355.1 736.6L349.4 732.3" stroke="#738d4b" stroke-width="1.25"/><path d="M304.6 715.0L306.0 714.1M287.9 760.9L291.7 761.5M271.6 740.2L270.6 733.9M343.3 721.0L338.1 721.8M273.3 732.2L274.1 728.5" stroke="#738e4a" stroke-width="1.25"/><path d="M273.3 732.2L270.6 733.9" stroke="#738e4b" stroke-width="1.25"/><path d="M304.6 765.2L302.0 764.9" stroke="#748c4d" stroke-width="1.25"/><path d="M290.3 716.6L295.7 715.2" stroke="#748d4d" stroke-width="1.25"/><path d="M354.3 739.4L355.1 736.6M331.8 716.7L329.1 712.4M323.8 713.5L323.3 713.0" stroke="#748c4e" stroke-width="1.25"/><path d="M315.1 765.4L312.2 765.5M280.7 760.0L277.5 754.2" stroke="#748c4f" stroke-width="1.25"/><path d="M357.6 742.6L354.3 739.4M318.8 713.2L316.7 710.7" stroke="#758c4f" stroke-width="1.25"/><path d="M335.7 760.4L335.7 760.4M282.0 717.2L283.3 719.3" stroke="#758b50" stroke-width="1.25"/><path d="M302.2 714.1L300.1 709.6" stroke="#758b51" stroke-width="1.25"/><path d="M270.6 748.3L265.3 743.4" stroke="#758b52" stroke-width="1.25"/><path d="M334.2 715.8L335.9 710.4" stroke="#768a53" stroke-width="1.25"/><path d="M258.4 801.7L253.1 802.0M262.3 810.8L262.1 814.3M258.3 789.3L258.8 792.3M259.5 799.6L264.3 798.4M266.5 816.9L271.6 811.3M368.1 804.0L371.8 805.4M366.8 791.8L368.8 797.5M271.9 811.3L274.4 818.0M354.0 780.4L352.4 775.6M271.9 811.3L274.6 809.5M353.7 804.7L350.8 803.9M321.8 787.8L321.3 792.2M360.9 765.4L364.1 768.9M361.8 779.8L367.2 777.0M354.0 780.4L359.4 777.8M370.6 772.9L367.3 775.2M265.0 797.3L270.2 797.4M307.4 814.5L309.5 809.2M339.9 812.2L340.0 813.6M331.4 812.5L332.6 818.2M339.9 812.2L335.4 810.1M334.2 785.4L334.5 787.8M350.1 797.1L346.2 795.4M301.2 788.3L300.9 793.4M306.8 795.0L300.9 793.4M292.4 796.7L293.1 792.9M284.0 806.9L279.6 806.6M286.4 810.1L285.8 812.5M329.8 799.6L328.2 804.3M328.2 804.3L335.2 805.7M334.4 796.5L333.4 798.2" stroke="#77706d" stroke-width="1"/><path d="M357.6 742.6L357.7 745.0M323.3 713.0L323.4 708.6" stroke="#768b53" stroke-width="1.25"/><path d="M341.3 715.0L343.7 715.9M356.1 725.5L356.1 725.4M267.2 733.4L266.9 727.7" stroke="#768a54" stroke-width="1.25"/><path d="M293.5 709.4L295.7 711.6M356.8 720.1L356.1 725.4" stroke="#778956" stroke-width="1.25"/><path d="M273.1 756.3L268.4 754.3M293.5 709.4L288.9 711.3M366.6 734.2L361.8 731.0M364.9 742.8L363.4 738.8" stroke="#778858" stroke-width="1.25"/><path d="M273.1 761.8L273.1 756.3" stroke="#78875b" stroke-width="1.25"/><path d="M366.3 735.7L366.6 734.2M266.9 727.7L262.5 726.1" stroke="#78885a" stroke-width="1.25"/><path d="M360.1 751.5L360.8 750.5" stroke="#78885b" stroke-width="1.25"/><path d="M257.9 739.5L261.2 733.7" stroke="#78875c" stroke-width="1.25"/><path d="M257.9 739.5L259.4 741.4" stroke="#79865d" stroke-width="1.25"/><path d="M363.7 724.9L367.4 726.4" stroke="#79875d" stroke-width="1.25"/><path d="M306.4 707.0L303.8 701.5M350.8 713.4L349.6 709.6" stroke="#79865f" stroke-width="1.25"/><path d="M354.8 714.2L357.2 712.1" stroke="#7a8560" stroke-width="1.25"/><path d="M371.1 747.3L370.0 743.1M259.7 731.4L254.3 732.0" stroke="#7a8561" stroke-width="1.25"/><path d="M303.8 701.5L297.9 704.6M287.6 771.1L287.9 766.8M349.6 709.6L350.8 707.9" stroke="#7a8562" stroke-width="1.25"/><path d="M273.1 761.8L268.6 763.3M370.6 724.7L371.3 719.9" stroke="#7b8464" stroke-width="1.25"/><path d="M371.3 719.9L369.8 718.8" stroke="#7b8366" stroke-width="1.25"/><path d="M357.0 708.9L350.8 707.9" stroke="#7b8465" stroke-width="1.25"/><path d="M279.6 769.4L275.6 766.8M279.6 769.4L281.0 769.0M380.2 730.1L375.3 729.3" stroke="#7c8367" stroke-width="1.25"/><path d="M309.4 774.5L309.2 769.5M255.5 757.7L258.3 754.5M363.2 709.9L365.1 713.1" stroke="#7c8269" stroke-width="1.25"/><path d="M294.9 699.7L297.1 704.4" stroke="#7c8368" stroke-width="1.25"/><path d="M303.3 772.3L304.4 774.6" stroke="#7d826a" stroke-width="1.25"/><path d="M365.0 706.5L363.2 709.9" stroke="#7d816c" stroke-width="1.25"/><path d="M289.8 704.2L287.3 706.7" stroke="#7d816d" stroke-width="1.25"/><path d="M306.8 698.3L312.3 701.4" stroke="#7e806e" stroke-width="1.25"/><path d="M298.5 743.6L297.6 745.1M298.5 743.6L299.8 743.0M299.8 743.0L305.1 747.4M316.0 729.8L316.1 728.9M314.1 731.9L311.0 732.2M311.0 732.2L308.9 730.5M304.6 735.6L308.2 737.9M308.2 737.9L305.9 741.3M305.9 741.3L301.1 741.0M299.8 743.0L301.1 741.0M298.4 736.4L301.1 739.4M298.4 736.4L299.1 732.2M307.2 752.4L309.5 755.6M316.9 747.8L318.4 751.1M309.5 755.6L314.2 754.3M325.9 744.4L322.6 744.0M310.1 745.3L311.1 744.0M316.9 747.8L317.7 745.8M323.2 726.4L323.1 731.5M304.6 735.6L304.4 734.7M299.1 732.2L300.0 731.7M282.7 747.2L286.4 745.6M287.2 742.8L285.7 740.8M293.2 751.2L292.2 756.2M300.3 753.9L297.8 753.8M332.2 746.3L329.1 741.8M317.7 745.8L321.7 745.0M310.7 738.5L314.1 738.4M321.8 739.5L320.7 739.0M321.8 739.5L325.6 737.5M325.6 737.5L327.7 738.0M329.4 740.2L333.6 739.4" stroke="#80b834" stroke-width="1.25"/><path d="M288.7 730.8L287.1 731.8" stroke="#80b735" stroke-width="1.25"/><path d="M366.9 752.3L364.2 756.2" stroke="#7e7f70" stroke-width="1.25"/><path d="M289.7 777.0L289.9 776.8" stroke="#7e8070" stroke-width="1.25"/><path d="M277.7 773.0L280.5 777.2" stroke="#7f7f71" stroke-width="1.25"/><path d="M265.5 772.7L266.3 770.7M256.6 723.8L260.6 726.9" stroke="#7f7e74" stroke-width="1.25"/><path d="M288.7 730.8L288.8 726.7M321.0 725.0L323.2 726.4M335.8 742.6L333.6 739.4M333.6 739.4L335.7 736.1" stroke="#81b53b" stroke-width="1.25"/><path d="M289.7 703.2L294.2 699.6M258.7 771.3L259.8 767.6" stroke="#807e75" stroke-width="1.25"/><path d="M321.0 725.0L320.7 725.0M315.9 757.5L319.9 757.2M281.0 740.3L280.9 740.1M330.8 732.4L335.2 734.0" stroke="#82b53c" stroke-width="1.25"/><path d="M257.0 782.0L262.5 783.0M257.0 782.0L255.8 778.3M260.5 775.8L263.4 780.3M281.7 693.4L284.3 689.0M318.3 779.5L316.1 780.4M301.4 779.2L302.3 779.1M367.6 759.8L364.2 756.2M360.9 765.4L362.6 762.5M320.2 774.1L314.8 772.9M313.2 775.0L309.4 774.5M298.7 781.8L295.8 781.9M290.0 695.3L290.0 695.3M281.7 693.4L282.8 695.5M286.7 689.8L290.0 695.3M283.6 701.8L283.1 706.2M357.7 765.8L355.9 769.1M345.4 773.4L343.4 768.4M326.0 769.3L331.1 771.3M331.1 771.3L327.7 777.0M314.9 780.1L312.7 781.1M277.0 693.4L275.6 695.3M281.4 699.8L278.0 700.4M262.5 693.7L262.7 692.7M338.8 769.6L338.4 770.6M283.5 786.9L283.6 784.7M289.7 777.0L289.5 783.3M268.2 709.8L271.5 715.1M264.0 711.8L263.3 715.1M265.6 698.4L265.6 698.4M256.5 715.4L259.1 717.3" stroke="#807d77" stroke-width="1.25"/><path d="M282.7 747.2L279.8 746.1" stroke="#82b43f" stroke-width="1.25"/><path d="M315.8 721.9L313.9 722.8M335.8 733.3L335.2 734.0" stroke="#83b340" stroke-width="1.25"/><path d="M323.2 726.4L327.7 724.9" stroke="#83b43f" stroke-width="1.25"/><path d="M284.3 752.4L286.2 753.4M281.0 728.9L287.1 731.8M335.8 742.6L339.3 742.8" stroke="#83b342" stroke-width="1.25"/><path d="M288.8 726.7L292.1 724.2M328.3 754.6L325.9 755.2M280.9 740.1L276.5 737.9" stroke="#84b243" stroke-width="1.25"/><path d="M321.4 759.2L319.9 757.2M336.5 728.3L335.8 733.3" stroke="#84b245" stroke-width="1.25"/><path d="M292.4 722.4L292.1 724.2M335.8 733.3L341.2 732.1" stroke="#85b147" stroke-width="1.25"/><path d="M325.9 755.2L325.1 759.3M281.0 728.9L280.0 733.5" stroke="#85b048" stroke-width="1.25"/><path d="M298.0 720.4L299.3 721.4" stroke="#85b049" stroke-width="1.25"/><path d="M304.3 717.8L307.2 721.4M286.9 755.5L286.5 756.3M339.9 738.1L343.2 736.6" stroke="#86b049" stroke-width="1.25"/><path d="M273.4 742.6L279.4 744.4M276.7 749.9L279.8 746.1M331.7 725.5L333.4 723.0M341.2 732.1L343.2 736.6" stroke="#86af4b" stroke-width="1.25"/><path d="M330.6 757.1L328.3 754.6M298.0 720.4L292.4 722.4" stroke="#86b04a" stroke-width="1.25"/><path d="M292.6 756.6L291.7 761.5" stroke="#86af4c" stroke-width="1.25"/><path d="M341.4 748.9L340.3 747.4M280.9 728.7L281.9 726.2" stroke="#87ae4e" stroke-width="1.25"/><path d="M345.0 742.7L340.6 744.2M325.1 759.3L321.4 759.2" stroke="#87af4d" stroke-width="1.25"/><path d="M310.6 719.7L311.5 715.6M345.0 742.7L344.8 737.1" stroke="#87ae4f" stroke-width="1.25"/><path d="M333.4 756.7L335.1 753.2M317.2 718.2L316.7 717.1M302.0 764.9L300.1 759.5" stroke="#88ad50" stroke-width="1.25"/><path d="M375.8 700.3L376.7 705.8M373.3 692.9L371.6 698.5M367.9 690.5L366.5 695.9M376.7 705.8L374.3 707.5M370.6 701.7L372.1 699.5M371.4 706.8L374.3 707.5M364.8 705.8L365.0 706.5M371.4 706.8L369.3 708.3M358.3 703.8L357.9 702.7M366.5 695.9L363.3 697.2M363.1 698.2L363.3 697.2M350.0 696.7L354.9 700.9M350.1 695.9L350.0 696.7M342.4 696.1L343.1 698.4M355.2 700.9L357.3 693.5M363.3 697.2L360.2 693.8M315.2 698.9L320.1 701.1M318.0 706.7L323.4 708.6M349.8 704.4L350.8 707.9M342.6 706.7L342.5 707.2M323.4 708.6L326.4 705.3M320.1 701.1L320.4 701.0M335.6 695.9L332.7 693.4M328.3 699.0L326.9 695.3M338.1 694.6L335.6 695.9M333.3 687.1L332.7 693.4M335.0 701.1L334.6 700.2" stroke="#968070" stroke-width="1.25"/><path d="M298.0 720.4L297.1 716.4M320.2 763.0L321.4 759.2M347.2 736.1L344.8 737.1" stroke="#88ad51" stroke-width="1.25"/><path d="M311.5 715.6L316.7 717.1M326.6 760.7L325.1 759.3" stroke="#88ac53" stroke-width="1.25"/><path d="M294.4 764.2L297.5 759.4" stroke="#89ac53" stroke-width="1.25"/><path d="M348.0 730.3L343.0 728.4" stroke="#89ac54" stroke-width="1.25"/><path d="M305.8 763.8L310.6 763.1M331.4 717.3L326.6 719.1" stroke="#89ac55" stroke-width="1.25"/><path d="M347.6 744.4L345.9 748.9M311.5 715.6L311.3 715.3M276.7 749.9L277.6 754.1M344.9 722.7L343.0 728.4" stroke="#89ab56" stroke-width="1.25"/><path d="M349.8 744.0L347.6 744.4M316.7 717.1L318.8 713.2M349.4 732.3L349.4 732.3" stroke="#8aab57" stroke-width="1.25"/><path d="M323.8 713.5L324.3 717.8" stroke="#8aaa58" stroke-width="1.25"/><path d="M349.8 744.0L351.3 740.5M331.4 717.3L331.8 716.7" stroke="#8aaa59" stroke-width="1.25"/><path d="M339.8 754.5L340.9 753.5M306.0 714.1L311.3 715.3" stroke="#8aab58" stroke-width="1.25"/><path d="M305.8 763.8L304.6 765.2M297.1 716.4L295.7 715.2M290.3 716.6L289.7 718.9" stroke="#8aaa5a" stroke-width="1.25"/><path d="M354.3 739.4L351.3 740.5M343.3 721.0L344.9 722.7M354.7 729.5L349.4 732.3" stroke="#8ba95b" stroke-width="1.25"/><path d="M280.8 723.4L283.3 719.3M283.3 719.3L286.2 720.3" stroke="#8baa5a" stroke-width="1.25"/><path d="M344.9 722.7L349.2 722.4" stroke="#8ba85d" stroke-width="1.25"/><path d="M334.2 715.8L331.8 716.7" stroke="#8ba95c" stroke-width="1.25"/><path d="M271.6 740.2L265.9 741.4M325.4 765.5L326.6 760.7" stroke="#8ca85e" stroke-width="1.25"/><path d="M353.4 747.6L348.4 752.6M346.2 754.2L348.4 752.6M348.4 752.6L348.4 752.6M293.6 764.5L294.4 764.2M358.0 733.8L354.7 729.5" stroke="#8ca760" stroke-width="1.25"/><path d="M270.6 733.9L267.2 733.4M300.5 765.6L302.0 764.9M355.1 736.6L357.7 735.0" stroke="#8ca85f" stroke-width="1.25"/><path d="M353.4 747.6L353.6 747.6" stroke="#8ca761" stroke-width="1.25"/><path d="M349.2 722.4L350.4 723.9" stroke="#8ca860" stroke-width="1.25"/><path d="M293.6 764.5L293.6 764.5M335.7 760.4L331.8 762.7M357.7 735.0L358.0 733.8M312.9 711.3L316.7 710.7" stroke="#8da761" stroke-width="1.25"/><path d="M353.6 747.6L357.7 745.0M290.3 716.6L288.1 712.8M349.2 722.4L350.1 719.5" stroke="#8da762" stroke-width="1.25"/><path d="M306.0 714.1L306.6 707.2M285.1 764.2L287.9 760.9M350.1 754.3L348.4 752.6M275.6 721.7L275.6 721.7" stroke="#8da663" stroke-width="1.25"/><path d="M264.8 734.8L267.2 733.4" stroke="#8da664" stroke-width="1.25"/><path d="M359.5 746.0L357.7 745.0M282.0 717.2L278.7 716.9" stroke="#8ea565" stroke-width="1.25"/><path d="M316.9 768.1L315.1 765.4M268.1 752.4L270.6 748.3M265.9 741.4L264.8 734.8M265.9 741.4L265.2 742.5M329.1 712.4L330.4 709.6" stroke="#8ea665" stroke-width="1.25"/><path d="M300.1 709.6L295.7 711.6M348.2 716.1L350.1 719.5M269.4 726.5L266.9 727.7" stroke="#8ea566" stroke-width="1.25"/><path d="M341.9 759.2L345.4 758.0M361.4 726.5L356.1 725.5M316.7 710.7L318.0 706.7" stroke="#8ea567" stroke-width="1.25"/><path d="M355.2 754.3L350.1 754.3" stroke="#8ea468" stroke-width="1.25"/><path d="M300.3 709.1L300.1 709.6M362.0 738.8L363.4 738.8" stroke="#8ea568" stroke-width="1.25"/><path d="M338.7 709.6L341.3 715.0M288.1 712.8L284.2 713.1" stroke="#8fa468" stroke-width="1.25"/><path d="M364.0 744.7L359.5 746.0M264.8 734.8L261.2 733.7M330.4 709.6L335.9 710.4" stroke="#8fa469" stroke-width="1.25"/><path d="M306.4 707.0L306.6 707.2M306.6 707.2L310.1 706.9M360.1 751.5L356.1 752.2M337.5 709.4L335.9 710.4" stroke="#8fa36b" stroke-width="1.25"/><path d="M280.5 761.2L283.1 764.0M306.4 707.0L300.3 709.1M262.7 748.3L265.3 743.4" stroke="#8fa46a" stroke-width="1.25"/><path d="M306.0 768.4L309.2 769.5M294.4 770.1L293.6 764.5" stroke="#90a36b" stroke-width="1.25"/><path d="M268.1 752.4L263.2 749.9M309.2 769.5L310.7 768.9M287.9 766.8L285.1 764.2M298.6 771.6L300.5 765.6M361.4 726.5L363.7 724.9M348.2 716.1L350.8 713.4" stroke="#90a36c" stroke-width="1.25"/><path d="M312.2 704.7L310.1 706.9M297.9 704.6L300.3 709.1M312.2 704.7L317.8 706.2M259.7 731.4L261.2 733.7M369.0 732.3L366.6 734.2M354.6 718.0L354.8 714.2" stroke="#90a26e" stroke-width="1.25"/><path d="M324.8 766.1L325.4 765.5M338.7 709.6L337.5 709.4" stroke="#90a36d" stroke-width="1.25"/><path d="M363.9 723.0L363.7 724.9" stroke="#90a26f" stroke-width="1.25"/><path d="M370.0 743.1L364.9 742.8M366.7 749.9L364.0 744.7M287.3 706.7L288.9 711.3M335.7 760.4L337.7 764.0M371.5 740.6L366.3 735.7" stroke="#91a26f" stroke-width="1.25"/><path d="M331.8 762.7L331.5 765.5M360.7 718.5L363.9 723.0" stroke="#91a170" stroke-width="1.25"/><path d="M366.5 750.2L360.8 750.5" stroke="#91a270" stroke-width="1.25"/><path d="M303.3 772.3L306.0 768.4M319.8 768.4L316.9 768.1M262.7 748.3L257.8 747.0" stroke="#91a171" stroke-width="1.25"/><path d="M259.4 741.4L257.7 746.8" stroke="#91a172" stroke-width="1.25"/><path d="M372.8 732.2L369.0 732.3M345.9 710.3L349.6 709.6" stroke="#92a172" stroke-width="1.25"/><path d="M367.4 726.4L370.6 724.7M360.7 718.5L361.5 716.3" stroke="#92a073" stroke-width="1.25"/><path d="M281.0 769.0L283.1 764.0M259.2 754.5L263.2 749.9M278.7 716.9L276.0 713.3" stroke="#92a074" stroke-width="1.25"/><path d="M374.8 739.4L371.5 740.6" stroke="#92a075" stroke-width="1.25"/><path d="M302.5 756.5L306.9 752.4M302.5 756.5L300.3 753.9M316.0 729.8L314.1 731.9M301.1 739.4L301.1 741.0M305.1 747.4L307.8 745.2M307.8 745.2L305.9 741.3M293.2 738.6L290.8 742.4M293.2 738.6L293.2 738.2M286.4 745.6L287.2 742.8M290.8 742.4L287.2 742.8M293.2 738.2L293.1 738.1M310.1 745.3L307.8 745.2M309.1 757.8L309.5 755.6M318.4 751.1L314.3 754.1M315.9 757.5L314.2 754.3M314.3 754.1L314.2 754.3M327.6 749.0L325.9 744.4M323.1 750.7L321.7 745.0M322.6 744.0L321.7 745.0M317.7 745.8L315.9 743.1M315.9 743.1L311.1 744.0M309.7 737.7L310.7 738.5M316.0 729.8L321.1 732.3M321.1 732.3L323.1 731.5M307.9 730.6L304.4 734.7M300.3 730.7L300.0 731.7M281.0 740.3L285.7 740.8M285.7 740.8L287.4 737.1M289.7 749.2L286.2 753.4M328.5 749.3L327.6 749.0M325.9 744.4L329.1 741.8M330.1 731.3L323.6 731.9M322.0 752.3L321.8 752.4M318.4 751.1L321.8 752.4M323.1 750.7L322.0 752.3M314.1 738.4L316.4 741.0M314.1 738.4L315.9 735.3M319.3 735.9L320.7 739.0M315.9 743.1L316.4 741.0M314.1 731.9L315.9 735.3M321.1 732.3L319.3 735.9M325.6 737.5L323.6 731.9M287.1 731.8L286.3 734.4M287.4 737.1L286.3 734.4M329.1 741.8L329.4 740.2M327.7 738.0L329.4 740.2" stroke="#95d63d" stroke-width="1.25"/><path d="M342.3 763.1L341.9 759.2M256.5 739.4L252.7 743.1" stroke="#939f76" stroke-width="1.25"/><path d="M371.1 747.3L372.4 747.8M297.6 772.1L298.6 771.6M265.5 757.6L263.3 757.6M256.6 752.0L257.8 747.0M374.9 727.6L370.6 724.7" stroke="#939f77" stroke-width="1.25"/><path d="M321.8 752.4L319.9 757.2" stroke="#95d63e" stroke-width="1.25"/><path d="M303.9 700.8L303.8 701.5M263.3 757.6L259.2 754.5M375.3 729.3L374.9 727.6M364.3 715.1L368.3 718.8" stroke="#939e79" stroke-width="1.25"/><path d="M328.5 749.3L332.2 746.3" stroke="#95d63f" stroke-width="1.25"/><path d="M270.4 719.4L269.3 720.7" stroke="#939f78" stroke-width="1.25"/><path d="M360.1 751.5L361.7 756.5M260.6 726.9L262.5 726.1" stroke="#949e79" stroke-width="1.25"/><path d="M282.0 735.7L286.3 734.4" stroke="#96d540" stroke-width="1.25"/><path d="M267.7 762.8L268.6 763.3M375.4 737.8L380.8 736.0M364.3 715.1L365.1 713.1" stroke="#949d7b" stroke-width="1.25"/><path d="M372.4 747.8L376.3 746.5M259.2 754.5L258.3 754.5" stroke="#949e7a" stroke-width="1.25"/><path d="M302.5 756.9L305.9 759.2M322.0 752.3L325.9 755.2" stroke="#96d541" stroke-width="1.25"/><path d="M328.5 749.3L329.5 751.6" stroke="#96d442" stroke-width="1.25"/><path d="M287.6 771.1L289.3 772.5M356.9 758.7L355.2 754.3" stroke="#949d7c" stroke-width="1.25"/><path d="M309.1 757.8L305.9 759.2M332.2 746.3L333.3 746.4M302.5 756.9L300.1 759.5" stroke="#97d444" stroke-width="1.25"/><path d="M377.8 720.9L374.9 727.6M263.3 757.6L260.6 761.5" stroke="#959d7d" stroke-width="1.25"/><path d="M280.9 740.1L282.0 735.7" stroke="#97d345" stroke-width="1.25"/><path d="M376.4 719.5L371.3 719.9M370.9 713.2L369.8 718.8M270.4 719.4L270.2 717.9" stroke="#959c7e" stroke-width="1.25"/><path d="M272.0 770.0L275.6 766.8M332.2 766.5L331.5 765.5" stroke="#959c80" stroke-width="1.25"/><path d="M333.3 746.4L335.8 742.6" stroke="#97d347" stroke-width="1.25"/><path d="M279.6 769.4L277.7 773.0M377.8 720.9L376.4 719.5" stroke="#969b81" stroke-width="1.25"/><path d="M320.7 725.0L315.8 721.9M309.1 757.8L311.7 760.5M279.4 744.4L281.0 740.3M292.2 756.2L292.6 756.6M330.1 731.3L330.5 726.1M335.7 736.1L335.2 734.0" stroke="#98d249" stroke-width="1.25"/><path d="M255.8 761.1L260.6 761.5" stroke="#969a83" stroke-width="1.25"/><path d="M377.0 713.7L376.4 719.5" stroke="#979a83" stroke-width="1.25"/><path d="M314.8 759.6L315.9 757.5" stroke="#98d24a" stroke-width="1.25"/><path d="M328.3 754.6L329.5 751.6" stroke="#99d14b" stroke-width="1.25"/><path d="M369.3 708.3L369.1 711.6" stroke="#979a84" stroke-width="1.25"/><path d="M279.8 746.1L279.4 744.4M292.2 756.2L286.9 755.5M335.7 736.1L339.9 738.1" stroke="#99d04d" stroke-width="1.25"/><path d="M337.7 764.0L337.0 766.1" stroke="#979986" stroke-width="1.25"/><path d="M280.0 733.5L282.0 735.7" stroke="#99d14c" stroke-width="1.25"/><path d="M266.3 770.7L269.3 769.0" stroke="#979987" stroke-width="1.25"/><path d="M293.8 777.4L289.9 776.8M374.3 707.5L375.3 712.6M289.8 704.2L289.7 703.2M259.8 767.6L261.8 766.5M276.0 713.3L276.6 711.7M276.0 713.3L271.5 715.1" stroke="#989888" stroke-width="1.25"/><path d="M342.3 763.1L342.9 763.6M354.0 760.7L350.7 758.7M271.5 715.1L270.2 717.9" stroke="#989987" stroke-width="1.25"/><path d="M378.9 712.9L377.0 713.7" stroke="#989988" stroke-width="1.25"/><path d="M334.8 752.7L329.5 751.6M300.1 759.5L297.5 759.4" stroke="#9acf50" stroke-width="1.25"/><path d="M314.8 759.6L311.7 760.5M321.0 725.0L322.1 719.3" stroke="#9acf51" stroke-width="1.25"/><path d="M286.2 753.4L286.9 755.5M330.5 726.1L327.7 724.9" stroke="#9ad050" stroke-width="1.25"/><path d="M253.9 764.2L259.8 767.6" stroke="#98988a" stroke-width="1.25"/><path d="M280.5 777.2L281.9 777.0" stroke="#99988a" stroke-width="1.25"/><path d="M307.2 721.4L310.6 719.7M339.3 742.8L339.9 738.1" stroke="#9bcf51" stroke-width="1.25"/><path d="M288.8 726.7L286.2 725.0" stroke="#9bce52" stroke-width="1.25"/><path d="M364.2 756.2L361.7 756.5M308.7 775.1L304.4 774.6M342.9 763.6L347.1 762.8" stroke="#99978c" stroke-width="1.25"/><path d="M361.7 756.5L359.9 758.3" stroke="#99968d" stroke-width="1.25"/><path d="M331.7 725.5L330.5 726.1" stroke="#9bcf52" stroke-width="1.25"/><path d="M307.1 696.8L303.5 691.3M307.1 696.8L313.4 692.5M263.5 785.5L262.5 783.0M265.5 772.7L268.5 777.7M260.9 774.2L260.5 775.8M255.8 778.3L260.5 775.8M253.5 772.0L258.7 771.3M302.5 690.9L298.7 694.2M314.7 693.3L313.5 692.5M275.1 687.9L277.0 693.4M263.5 785.5L263.9 785.8M263.9 785.8L270.7 783.6M271.2 783.9L270.7 783.6M271.2 783.9L277.2 780.9M277.2 780.9L277.3 780.3M277.3 780.3L280.5 777.2M371.8 755.6L366.9 752.3M301.4 779.2L297.2 774.6M302.3 779.1L304.4 774.6M371.8 763.1L374.3 761.2M371.8 763.1L367.5 761.2M371.8 755.6L367.6 759.8M359.9 758.3L356.9 758.7M359.9 758.3L362.6 762.5M356.9 758.7L355.4 760.5M367.5 761.2L366.4 762.3M350.5 767.7L355.9 769.1M320.6 773.8L320.2 774.1M316.1 780.4L314.9 780.1M314.9 780.1L313.2 775.0M287.1 700.6L289.7 703.2M287.8 696.8L290.0 695.3M298.6 696.6L294.9 699.7M282.8 695.5L287.8 696.8M287.1 700.6L283.6 701.8M366.4 762.3L366.6 767.3M342.9 763.6L343.2 768.3M343.2 768.3L343.4 768.4M347.1 762.8L349.9 765.6M350.5 767.7L350.0 767.0M354.0 760.7L355.4 760.5M338.8 769.6L337.0 766.1M304.9 780.9L308.6 778.8M308.6 778.8L312.7 781.1M308.7 775.1L308.6 778.8M298.7 781.8L301.3 788.1M278.0 700.4L275.6 695.3M256.9 696.2L255.0 695.1M338.4 770.6L333.8 772.1M331.6 771.1L333.8 772.1M295.8 781.9L294.1 783.9M294.1 783.9L295.5 787.9M283.9 778.2L284.8 783.4M283.1 706.2L282.1 706.9M262.5 693.7L265.6 698.4M268.2 709.8L264.0 711.8M272.3 702.3L267.9 705.7M274.6 708.2L268.7 708.6M268.7 708.6L267.9 705.7M276.6 711.7L274.6 708.2M276.1 703.6L276.1 703.6M270.2 697.2L272.3 702.3M268.2 709.8L268.7 708.6M265.6 698.4L266.6 704.8M265.6 698.4L259.5 701.8M266.6 704.8L260.6 705.6M256.9 696.2L258.0 700.7M258.0 700.7L259.5 701.8M259.7 707.9L264.0 711.8M258.0 700.7L253.9 702.7M257.9 708.7L256.5 715.4M259.1 717.3L256.6 723.8M263.3 715.1L261.1 717.1M253.9 724.0L256.6 723.8" stroke="#9a968e" stroke-width="1.25"/><path d="M276.3 734.7L280.0 733.5" stroke="#9ccd56" stroke-width="1.25"/><path d="M305.9 759.2L305.8 763.8" stroke="#9ccd57" stroke-width="1.25"/><path d="M334.8 752.7L335.1 753.2M339.5 727.1L336.5 728.3M280.9 728.7L281.0 728.9" stroke="#9dcc59" stroke-width="1.25"/><path d="M281.9 726.2L286.2 725.0M344.8 737.1L343.2 736.6" stroke="#9dcb5a" stroke-width="1.25"/><path d="M310.6 763.1L311.7 760.5" stroke="#9dcc5a" stroke-width="1.25"/><path d="M322.1 719.3L317.2 718.2" stroke="#9dcb5b" stroke-width="1.25"/><path d="M272.5 740.7L276.5 737.9M339.5 727.1L342.7 728.5" stroke="#9eca5d" stroke-width="1.25"/><path d="M322.1 719.3L324.3 717.8" stroke="#9eca5e" stroke-width="1.25"/><path d="M366.5 695.9L371.6 698.5M371.6 698.5L372.1 699.5M370.6 701.7L371.4 706.8M364.8 705.8L366.2 702.7M366.2 702.7L370.6 701.7M366.2 702.7L363.1 698.2M357.9 702.7L363.1 698.2M350.0 696.7L346.5 699.9M354.9 700.9L349.8 704.4M346.5 699.9L347.4 703.3M342.6 706.7L347.4 703.3M346.5 699.9L343.1 698.4M355.4 692.0L357.3 693.5M357.3 693.5L360.2 693.8M350.1 695.9L355.4 692.0M355.2 700.9L357.9 702.7M342.4 696.1L338.1 694.6M358.3 703.8L357.0 708.9M326.4 705.3L328.9 706.4M340.2 701.6L335.0 701.1M326.4 705.3L325.8 703.7M320.4 701.0L325.8 703.7M335.6 695.9L334.6 700.2M334.6 700.2L328.3 699.0M327.5 694.4L326.9 695.3M325.8 703.7L328.3 699.0M327.1 689.7L327.5 694.4M322.7 695.4L326.9 695.3" stroke="#af9583" stroke-width="1.25"/><path d="M339.5 727.1L338.1 721.8M286.2 725.0L286.2 720.3M342.7 728.5L343.0 728.4" stroke="#9fca5f" stroke-width="1.25"/><path d="M338.0 721.7L333.4 723.0" stroke="#9fc960" stroke-width="1.25"/><path d="M339.8 754.5L335.1 753.2M333.4 723.0L331.4 717.3" stroke="#9fc961" stroke-width="1.25"/><path d="M272.5 740.7L273.4 742.6M330.6 757.1L329.0 760.2M280.9 728.7L274.5 728.1" stroke="#9fc962" stroke-width="1.25"/><path d="M341.4 748.9L345.9 748.9" stroke="#a0c962" stroke-width="1.25"/><path d="M349.4 732.3L347.2 736.1" stroke="#a0c863" stroke-width="1.25"/><path d="M338.0 721.7L338.1 721.8" stroke="#a0c864" stroke-width="1.25"/><path d="M273.4 742.6L271.7 747.9M271.7 747.9L276.7 749.9" stroke="#a1c766" stroke-width="1.25"/><path d="M304.6 715.0L302.2 714.1M297.1 716.4L302.2 714.1M310.6 763.1L312.2 765.5M337.4 717.6L338.0 721.7" stroke="#a1c668" stroke-width="1.25"/><path d="M280.7 760.0L286.5 756.3" stroke="#a1c767" stroke-width="1.25"/><path d="M315.1 765.4L316.6 762.7" stroke="#a1c669" stroke-width="1.25"/><path d="M311.3 715.3L312.9 711.3" stroke="#a2c56a" stroke-width="1.25"/><path d="M274.5 728.1L274.1 728.5" stroke="#a2c669" stroke-width="1.25"/><path d="M345.9 748.9L348.4 752.6M340.2 757.8L339.8 754.5M340.9 753.5L346.2 754.2" stroke="#a2c56b" stroke-width="1.25"/><path d="M350.4 723.9L348.0 730.3" stroke="#a2c66a" stroke-width="1.25"/><path d="M349.8 744.0L353.4 747.6M291.7 761.5L293.6 764.5" stroke="#a2c56c" stroke-width="1.25"/><path d="M270.6 748.3L271.7 747.9M329.0 760.2L331.8 762.7M280.8 723.4L275.6 721.7" stroke="#a3c46d" stroke-width="1.25"/><path d="M337.4 717.6L334.2 715.8" stroke="#a3c56c" stroke-width="1.25"/><path d="M318.8 713.2L323.3 713.0" stroke="#a3c56d" stroke-width="1.25"/><path d="M274.5 728.1L275.6 721.7" stroke="#a3c46e" stroke-width="1.25"/><path d="M320.2 763.0L322.1 766.0M329.1 712.4L323.8 713.5" stroke="#a3c46f" stroke-width="1.25"/><path d="M294.4 764.2L300.5 765.6" stroke="#a3c370" stroke-width="1.25"/><path d="M340.2 757.8L335.7 760.4M295.7 715.2L295.7 711.6M343.3 721.0L343.7 715.9M337.4 717.6L341.3 715.0M274.1 728.5L269.4 726.5" stroke="#a4c370" stroke-width="1.25"/><path d="M273.1 756.3L277.5 754.2M350.4 723.9L356.1 725.4M354.7 729.5L356.1 725.5" stroke="#a4c372" stroke-width="1.25"/><path d="M340.2 757.8L341.9 759.2" stroke="#a4c273" stroke-width="1.25"/><path d="M306.0 768.4L304.6 765.2M346.2 754.2L345.4 758.0M362.0 738.8L357.7 735.0" stroke="#a5c274" stroke-width="1.25"/><path d="M361.8 731.0L358.0 733.8M357.6 742.6L362.0 738.8M278.7 716.9L275.6 721.7" stroke="#a5c175" stroke-width="1.25"/><path d="M356.1 752.2L353.6 747.6M310.7 768.9L312.2 765.5M280.5 761.2L280.7 760.0" stroke="#a5c176" stroke-width="1.25"/><path d="M345.0 715.3L343.7 715.9" stroke="#a5c177" stroke-width="1.25"/><path d="M310.1 706.9L312.9 711.3M265.3 743.4L265.2 742.5M282.0 717.2L284.2 713.1" stroke="#a6c177" stroke-width="1.25"/><path d="M288.9 711.3L288.1 712.8M345.0 715.3L348.2 716.1M354.6 718.0L350.1 719.5M275.6 721.7L270.4 719.4" stroke="#a6c079" stroke-width="1.25"/><path d="M287.9 766.8L293.6 764.5M361.4 726.5L361.8 731.0M269.3 720.7L269.4 726.5" stroke="#a6c07a" stroke-width="1.25"/><path d="M360.8 750.5L359.5 746.0" stroke="#a7bf7b" stroke-width="1.25"/><path d="M356.1 752.2L355.2 754.3M324.8 766.1L322.1 766.0M259.4 741.4L265.2 742.5M366.3 735.7L363.4 738.8" stroke="#a7bf7c" stroke-width="1.25"/><path d="M345.9 710.3L345.0 715.3M356.8 720.1L354.6 718.0" stroke="#a7be7d" stroke-width="1.25"/><path d="M268.4 754.3L268.1 752.4M283.1 764.0L285.1 764.2" stroke="#a7bf7d" stroke-width="1.25"/><path d="M364.9 742.8L364.0 744.7" stroke="#a8be7e" stroke-width="1.25"/><path d="M275.6 763.4L280.5 761.2M322.1 766.0L319.8 768.4M356.8 720.1L360.7 718.5" stroke="#a8bd80" stroke-width="1.25"/><path d="M293.1 738.1L287.4 737.1" stroke="#aaf546" stroke-width="1.25"/><path d="M293.7 707.0L293.5 709.4" stroke="#a8be80" stroke-width="1.25"/><path d="M263.2 749.9L262.7 748.3" stroke="#a8bd81" stroke-width="1.25"/><path d="M338.7 709.6L342.5 707.2M369.0 732.3L367.4 726.4M354.8 714.2L350.8 713.4" stroke="#a9bc83" stroke-width="1.25"/><path d="M265.5 757.6L268.4 754.3" stroke="#a9bc84" stroke-width="1.25"/><path d="M310.7 768.9L314.4 770.8M342.5 707.2L345.9 710.3M345.4 758.0L347.6 759.9M257.9 739.5L256.5 739.4" stroke="#aabb85" stroke-width="1.25"/><path d="M366.7 749.9L366.5 750.2M371.5 740.6L370.0 743.1M259.7 731.4L260.6 726.9" stroke="#aabb86" stroke-width="1.25"/><path d="M297.1 704.4L293.7 707.0" stroke="#aabc85" stroke-width="1.25"/><path d="M275.6 763.4L273.1 761.8M312.3 701.4L312.2 704.7M297.9 704.6L297.1 704.4" stroke="#aabb87" stroke-width="1.25"/><path d="M371.1 747.3L366.7 749.9M284.2 713.1L281.5 709.8" stroke="#aaba88" stroke-width="1.25"/><path d="M257.7 746.8L257.8 747.0" stroke="#abba88" stroke-width="1.25"/><path d="M363.9 723.0L368.3 718.8" stroke="#aabb88" stroke-width="1.25"/><path d="M316.9 768.1L314.4 770.8M256.5 739.4L253.2 736.4" stroke="#abba89" stroke-width="1.25"/><path d="M275.6 766.8L275.6 763.4M375.3 729.3L372.8 732.2M374.8 739.4L375.4 737.8M253.2 745.8L257.7 746.8" stroke="#abb98b" stroke-width="1.25"/><path d="M294.4 770.1L297.6 772.1M303.3 772.3L298.6 771.6M375.4 737.8L372.8 732.2M289.8 704.2L293.7 707.0" stroke="#abba8a" stroke-width="1.25"/><path d="M265.5 757.6L267.7 762.8M357.2 712.1L357.5 710.1" stroke="#acb98c" stroke-width="1.25"/><path d="M282.7 747.2L284.3 752.4" stroke="#aef053" stroke-width="1.25"/><path d="M366.5 750.2L366.9 752.3M374.8 739.4L377.1 742.6M294.4 770.1L289.3 772.5" stroke="#acb98d" stroke-width="1.25"/><path d="M368.3 718.8L369.8 718.8" stroke="#acb88e" stroke-width="1.25"/><path d="M377.1 742.6L376.3 746.5M258.3 754.5L256.6 752.0M357.0 708.9L357.5 710.1" stroke="#adb88f" stroke-width="1.25"/><path d="M284.1 771.6L287.6 771.1M281.0 769.0L284.1 771.6M350.7 758.7L347.6 759.9M363.2 709.9L357.5 710.1" stroke="#adb791" stroke-width="1.25"/><path d="M324.8 766.1L326.0 769.3M256.6 752.0L250.9 751.0" stroke="#adb792" stroke-width="1.25"/><path d="M377.1 742.6L383.0 742.4M269.3 720.7L264.2 721.9" stroke="#aeb693" stroke-width="1.25"/><path d="M269.3 769.0L268.6 763.3M267.7 762.8L262.3 765.3" stroke="#aeb595" stroke-width="1.25"/><path d="M365.1 713.1L369.1 711.6M264.2 721.9L262.5 726.1" stroke="#aeb694" stroke-width="1.25"/><path d="M315.2 698.9L312.3 701.4" stroke="#afb596" stroke-width="1.25"/><path d="M289.9 776.8L289.3 772.5M369.1 711.6L370.9 713.2" stroke="#afb597" stroke-width="1.25"/><path d="M260.6 761.5L262.3 765.3M342.3 763.1L337.7 764.0" stroke="#afb498" stroke-width="1.25"/><path d="M272.0 770.0L269.3 769.0M375.3 712.6L370.9 713.2" stroke="#b0b49a" stroke-width="1.25"/><path d="M281.9 777.0L284.1 771.6" stroke="#b0b39b" stroke-width="1.25"/><path d="M273.3 773.1L272.0 770.0M376.3 746.5L380.3 749.6M297.2 774.6L293.8 777.4M314.8 772.9L314.4 770.8M261.8 766.5L262.3 765.3M347.1 762.8L347.6 759.9" stroke="#b0b39c" stroke-width="1.25"/><path d="M277.7 773.0L273.3 773.1M306.8 698.3L303.9 700.8" stroke="#b1b29d" stroke-width="1.25"/><path d="M304.3 717.8L299.3 721.4" stroke="#b3ea64" stroke-width="1.25"/><path d="M377.0 713.7L375.3 712.6" stroke="#b1b39d" stroke-width="1.25"/><path d="M266.3 770.7L261.8 766.5" stroke="#b1b29e" stroke-width="1.25"/><path d="M283.9 778.2L289.7 777.0" stroke="#b1b1a0" stroke-width="1.25"/><path d="M287.3 706.7L283.1 706.2M337.0 766.1L332.2 766.5" stroke="#b1b29f" stroke-width="1.25"/><path d="M372.4 747.8L374.4 755.0M282.1 706.9L281.5 709.8" stroke="#b2b1a1" stroke-width="1.25"/><path d="M272.3 776.0L273.3 773.1M281.9 777.0L283.9 778.2M319.8 768.4L320.6 773.8" stroke="#b2b1a2" stroke-width="1.25"/><path d="M253.7 786.5L257.0 782.0M265.5 772.7L260.9 774.2M268.5 777.7L263.4 780.3M262.5 783.0L263.4 780.3M307.1 696.8L306.8 698.3M298.6 696.6L303.9 700.8M298.6 696.6L298.7 694.2M315.2 698.9L314.7 693.3M277.0 693.4L281.7 693.4M298.7 694.2L294.2 691.7M268.6 777.7L268.5 777.7M272.3 776.0L268.6 777.7M272.3 776.0L277.3 780.3M378.2 754.5L374.4 755.0M373.9 755.4L374.3 761.2M373.9 755.4L374.4 755.0M371.8 755.6L373.9 755.4M271.2 783.9L272.0 786.7M367.5 761.2L367.6 759.8M357.7 765.8L360.9 765.4M366.4 762.3L362.6 762.5M309.4 774.5L308.7 775.1M326.0 769.3L323.5 774.0M323.5 774.0L320.6 773.8M318.3 779.5L320.2 774.1M326.7 776.9L323.5 774.0M293.8 777.4L295.8 781.9M287.1 700.6L287.8 696.8M294.2 699.6L290.0 695.3M294.2 691.7L290.0 695.3M294.9 699.7L294.2 699.6M282.8 695.5L281.4 699.8M281.4 699.8L283.6 701.8M343.4 768.4L350.0 767.0M349.9 765.6L350.0 767.0M354.0 760.7L349.9 765.6M326.7 776.9L327.7 777.0M338.8 769.6L343.2 768.3M331.1 771.3L331.6 771.1M277.2 780.9L278.1 782.4M278.1 782.4L277.1 788.9M304.9 780.9L305.6 783.6M302.3 779.1L304.9 780.9M268.6 689.3L270.9 696.3M275.6 695.3L270.9 696.3M262.5 693.7L256.9 696.2M338.4 770.6L340.3 775.0M284.8 783.4L283.6 784.7M284.8 783.4L289.5 783.3M290.0 783.8L289.5 783.3M278.1 782.4L283.6 784.7M294.1 783.9L290.0 783.8M276.1 703.6L282.1 706.9M270.9 696.3L270.2 697.2M265.6 698.4L270.2 697.2M270.2 717.9L263.3 715.1M276.1 703.6L274.6 708.2M276.1 703.6L272.3 702.3M259.5 701.8L260.6 705.6M267.9 705.7L266.6 704.8M259.7 707.9L260.6 705.6M259.7 707.9L257.9 708.7M257.9 708.7L253.4 707.5M256.5 715.4L252.7 715.6M261.1 717.1L259.1 717.3M261.1 717.1L264.2 721.9" stroke="#b3afa6" stroke-width="1.25"/><path d="M304.7 749.1L301.6 750.2M304.7 749.1L306.9 752.4M301.6 750.2L300.3 753.9M304.7 749.1L305.1 747.4M297.6 745.1L298.2 748.1M301.6 750.2L298.2 748.1M300.2 723.7L299.3 721.4M300.2 723.7L304.5 724.6M307.2 721.4L306.7 723.3M304.5 724.6L306.7 723.3M313.1 725.0L313.9 722.8M313.1 725.0L316.1 728.9M316.1 728.9L320.7 725.0M306.7 723.3L310.2 726.2M310.2 726.2L313.1 725.0M310.2 726.2L308.9 730.5M298.5 743.6L293.2 738.6M298.4 736.4L293.2 738.2M293.0 746.0L291.1 749.0M289.7 749.2L291.1 749.0M292.1 724.2L294.8 726.8M300.2 723.7L299.1 725.9M299.1 725.9L294.8 726.8M312.1 748.7L311.9 749.6M306.9 752.4L307.2 752.4M311.9 749.6L307.2 752.4M312.1 748.7L316.9 747.8M311.9 749.6L314.3 754.1M304.9 728.7L307.9 730.6M304.9 728.7L300.3 730.7M304.5 724.6L304.9 728.7M299.1 725.9L300.3 730.7M296.0 751.2L297.8 753.8M296.0 751.2L293.2 751.2M298.2 748.1L296.0 751.2M291.1 749.0L293.2 751.2M316.4 741.0L320.7 739.0M315.9 735.3L319.3 735.9" stroke="#befa50" stroke-width="1.5"/><path d="M375.8 700.3L372.1 699.5M364.8 705.8L358.3 703.8M342.6 706.7L340.2 701.6M355.2 700.9L354.9 700.9" stroke="#c8aa96" stroke-width="1.25"/><path d="M304.6 715.0L304.3 717.8" stroke="#b6e570" stroke-width="1.25"/><path d="M347.6 744.4L345.0 742.7" stroke="#b6e66f" stroke-width="1.25"/><path d="M350.1 754.3L350.7 758.7" stroke="#bfd98f" stroke-width="1.25"/><path d="M325.4 765.5L331.5 765.5" stroke="#c2d69a" stroke-width="1.25"/><path d="M361.5 716.3L357.2 712.1" stroke="#c3d59c" stroke-width="1.25"/><path d="M364.3 715.1L361.5 716.3" stroke="#c4d49e" stroke-width="1.25"/><path d="M297.2 774.6L297.6 772.1" stroke="#c6d2a5" stroke-width="1.25"/><path d="M276.6 711.7L281.5 709.8" stroke="#caccb4" stroke-width="1.25"/><path d="M258.7 771.3L260.9 774.2M268.6 777.7L270.7 783.6M357.7 765.8L355.4 760.5M313.2 775.0L314.8 772.9M301.4 779.2L298.7 781.8M331.6 771.1L332.2 766.5M278.0 700.4L276.1 703.6" stroke="#cdc8be" stroke-width="1.25"/></g>
<path d="M257.5 788.24 L260.47 788.18 L263.44 788.12 L266.41 788.06 L269.38 788 L272.35 787.95 L275.32 787.89 L278.29 787.83 L281.26 787.77 L284.23 787.71 L287.2 787.65 L290.17 787.59 L293.14 787.53 L296.11 787.05 L299.08 786.44 L302.05 785.78 L305.02 785.07 L307.99 784.32 L310.96 783.55 L313.93 782.76 L316.9 781.94 L319.87 781.1 L322.84 780.25 L325.81 779.38 L328.78 778.49 L331.75 777.59 L334.72 776.68 L337.69 775.76 L340.66 774.82 L343.63 773.87 L346.6 772.92 L349.57 771.95 L352.54 770.97 L355.51 769.99 L358.48 768.99 L361.45 767.99 L364.42 766.97 L367.39 765.95 L370.36 764.93 L373.33 763.89 L376.3 762.85" fill="none" stroke="#a06a58" stroke-width="1.4" stroke-opacity="0.35" clip-path="url(#clip_r1c3)"/>
<ellipse cx="72" cy="874" rx="52" ry="36" fill="url(#gCyanF)" clip-path="url(#clip_r2c1)"/>
<ellipse cx="73" cy="869" rx="22" ry="9" fill="url(#gCyan)" clip-path="url(#clip_r2c1)"/>
<g filter="url(#blur06)">
<g clip-path="url(#clip_r2c1)" fill="none" stroke-linecap="round"><path d="M98.6 909.9L103.7 911.3M103.4 903.1L98.7 905.3M95.2 902.9L98.7 905.3M98.6 909.9L95.1 911.7M92.0 907.2L95.1 911.7M94.4 913.8L95.1 911.7M41.0 861.2L44.2 858.1M41.0 861.2L37.4 860.8M37.4 860.8L36.3 855.9M36.3 855.9L37.4 854.5M44.2 858.1L37.4 854.5M26.1 847.5L21.4 846.6M28.3 843.6L25.5 840.8M41.0 861.2L41.9 866.1M41.9 866.1L41.9 866.1M44.2 858.1L44.4 858.1M117.7 905.9L114.6 904.6M114.6 904.6L111.0 905.8M109.2 909.7L112.3 913.1M105.3 909.9L109.2 909.7M125.6 907.6L127.9 906.6M120.8 904.0L125.6 907.6M115.8 892.4L118.6 896.7M118.6 896.7L114.1 899.7M110.5 894.0L111.8 898.8M114.1 899.7L111.8 898.8M114.6 904.6L114.1 899.7M111.0 905.8L107.6 901.3M107.6 901.3L111.8 898.8M126.9 893.4L125.3 892.8M118.6 896.7L119.4 897.0M135.6 903.1L128.5 899.7M116.3 890.1L118.3 888.1M125.3 892.8L124.1 890.5M118.3 888.1L124.1 890.5M92.0 907.2L89.3 906.8M89.5 900.4L86.8 904.2M89.3 906.8L86.8 904.2M133.1 895.2L136.2 890.8M126.9 893.4L132.7 886.6M67.9 881.7L63.7 883.5M64.8 887.7L63.4 886.0M29.9 859.9L31.4 862.1M29.9 859.9L24.0 861.3M24.0 861.3L23.1 864.4M27.2 867.7L23.1 864.4M27.2 867.7L30.6 867.4M31.4 862.1L30.6 867.4M37.4 860.8L36.1 862.5M29.9 859.9L30.8 857.4M36.3 855.9L30.8 857.4M31.4 862.1L36.1 862.5M40.6 866.6L37.0 865.6M36.1 862.5L37.0 865.6M14.8 864.0L15.3 868.4M20.1 870.5L22.9 864.5M20.1 870.5L18.6 870.7M85.4 895.7L82.8 898.7M82.8 898.7L79.1 898.6M83.7 892.1L83.6 892.1M78.3 894.0L79.0 898.5M79.1 898.6L79.0 898.5M89.5 900.4L87.8 896.1M87.8 896.1L85.4 895.7M78.3 904.1L79.1 898.6M85.1 904.1L80.8 907.0M73.7 903.8L78.3 904.1M73.1 898.9L79.0 898.5M96.0 891.7L95.8 896.5M96.0 891.7L92.1 889.9M95.8 896.5L89.6 894.8M89.6 894.8L90.5 891.0M90.5 891.0L92.1 889.9M94.9 900.6L96.5 897.8M87.8 896.1L89.6 894.8M96.5 897.8L95.8 896.5M86.2 889.3L83.7 892.1M88.6 885.1L86.2 887.2M92.1 887.5L92.1 889.9M86.2 887.2L86.2 889.3M100.0 876.1L100.7 876.2M100.7 876.2L104.1 874.5M104.1 874.5L104.0 870.5M89.3 906.8L86.6 912.5M80.7 908.0L76.8 910.5M71.1 907.0L71.1 907.3M76.8 910.5L71.1 907.3M10.6 864.0L14.7 863.8M22.3 854.5L21.8 857.8M26.1 847.5L28.1 851.8M24.0 861.3L21.8 857.8M22.9 864.5L23.1 864.4M30.8 857.4L27.9 852.3M92.1 887.5L94.5 885.1M97.8 890.3L96.0 891.7M97.8 890.3L97.5 886.9M94.5 885.1L97.5 886.9M110.5 894.0L109.7 893.6M111.0 886.9L108.6 889.8M109.7 893.6L108.6 889.8M97.8 890.3L102.3 891.0M103.8 886.5L104.1 888.5M97.5 886.9L99.9 884.9M41.9 866.1L45.6 870.8M45.6 870.8L48.5 869.8M48.7 885.3L47.5 886.8M48.7 885.3L52.7 885.2M47.5 886.8L47.9 890.6M53.5 889.2L48.1 890.7M40.6 866.6L38.9 872.7M37.0 865.6L34.2 868.4M38.9 872.7L37.8 872.6M30.6 867.4L31.7 868.4M31.7 868.4L34.2 868.4M67.9 887.2L70.8 889.4M67.7 893.8L63.3 892.1M67.7 893.8L68.3 893.5M70.8 889.4L68.3 893.5M105.5 864.0L106.3 861.3M108.3 867.4L112.3 863.3M110.6 859.3L112.3 863.3M102.6 869.7L101.5 865.0M101.5 865.0L105.5 864.0M108.3 868.7L108.3 867.4M108.1 877.0L109.6 876.7M108.1 877.0L104.9 881.0M104.9 881.0L105.7 883.7M110.8 884.5L112.0 883.0M104.1 874.5L108.1 877.0M109.9 876.4L109.6 876.7M109.9 876.4L108.6 869.0M102.2 880.2L104.9 881.0M103.8 886.5L105.7 883.7M99.9 884.9L99.4 882.3M108.6 889.8L104.1 888.5M118.5 885.6L118.3 888.1M72.8 899.2L68.3 899.8M71.1 907.0L67.4 904.9M68.3 893.5L72.7 896.1M64.2 911.6L69.4 911.2M64.2 911.6L64.0 905.5M67.4 904.9L64.0 905.5M66.9 898.5L62.5 899.1M61.6 901.6L62.5 899.1M25.5 840.8L25.4 838.5M44.4 858.1L45.4 851.8M45.4 851.8L39.7 850.5M41.3 831.5L37.9 835.1M83.6 892.1L80.1 888.1M112.9 850.4L112.5 846.1M105.9 853.6L107.4 850.7M114.5 851.7L112.9 850.4M99.9 847.0L96.2 849.4M99.9 847.0L103.5 854.2M97.0 853.4L102.6 855.1M102.6 855.1L103.5 854.2M92.4 844.9L97.3 841.5M94.7 849.1L96.2 849.4M97.3 841.5L98.3 842.1M100.2 846.6L98.3 842.1M100.2 846.6L99.9 847.0M105.9 853.6L103.5 854.2M101.9 858.1L106.3 861.3M101.9 858.1L102.6 855.1M110.4 857.5L110.7 858.8M114.7 841.4L114.6 844.5M114.6 844.5L112.5 846.1M107.2 844.3L107.2 843.8M97.3 841.5L95.2 837.5M90.7 851.5L94.7 849.1M90.7 851.5L88.4 849.1M92.4 844.9L89.5 844.1M45.4 851.8L46.5 851.1M40.1 845.5L39.7 850.5M94.4 883.6L97.0 881.2M99.4 882.3L97.0 881.2M88.6 885.1L88.8 883.0M106.2 895.3L102.9 893.6M106.2 895.3L105.8 900.9M102.9 893.6L99.0 897.9M99.0 897.9L103.9 901.9M102.3 891.0L102.9 893.6M107.6 901.3L105.8 900.9M96.5 897.8L99.0 897.9M103.4 903.1L103.9 901.9M38.9 872.7L38.9 872.8M44.0 873.5L38.9 872.8M41.0 885.5L40.3 887.1M42.2 885.1L47.5 886.8M40.3 887.1L40.7 889.3M47.9 890.6L44.5 892.4M18.0 901.9L19.4 899.8M12.7 880.5L14.4 881.6M20.1 870.5L23.1 872.8M19.6 878.2L21.4 877.7M21.4 877.7L23.1 872.8M33.7 875.0L31.1 872.7M33.7 875.0L33.5 877.3M33.5 877.3L29.5 879.5M31.1 872.7L27.6 874.3M27.6 874.3L27.9 879.2M29.5 879.5L27.9 879.2M37.8 872.6L33.7 875.0M31.7 868.4L31.1 872.7M38.9 872.8L38.8 879.2M32.7 884.5L37.7 880.6M37.7 880.6L37.7 880.4M25.3 872.5L27.6 874.3M57.9 889.5L54.9 890.1M57.9 889.5L61.4 892.9M60.6 895.0L56.0 896.5M58.7 886.5L57.9 889.5M54.9 882.6L52.7 885.2M53.5 889.2L54.9 890.1M63.3 892.1L61.4 892.9M48.1 890.7L51.8 895.9M51.8 895.9L53.7 895.4M62.5 899.1L60.6 895.0M61.6 901.6L56.4 901.3M56.4 901.3L56.0 896.5M40.4 839.4L39.3 844.4M32.5 843.5L33.1 844.3M30.8 836.8L33.0 839.2M37.9 835.1L37.9 837.0M40.1 845.5L39.3 844.4M32.7 849.5L33.1 844.3M88.8 883.0L85.2 880.5M78.3 894.0L77.0 893.0M80.1 888.1L78.1 888.0M72.7 896.1L75.0 893.2M71.4 889.2L75.0 893.2M77.0 893.0L75.0 893.2M122.2 841.5L116.9 839.5M116.9 839.5L114.7 841.4M108.6 869.0L114.3 869.9M112.3 863.3L115.5 864.7M115.5 864.7L116.2 866.9M114.3 869.9L116.2 866.9M109.9 876.4L115.4 874.8M114.3 869.9L115.4 874.8M79.7 854.8L83.1 849.3M86.4 855.5L84.4 849.9M84.4 849.9L83.1 849.3M88.4 849.1L84.4 849.9M89.5 844.1L88.8 843.3M82.4 848.1L83.1 849.3M82.4 848.1L82.8 844.9M53.1 860.1L51.0 857.4M46.5 851.1L50.1 851.9M51.0 857.4L52.0 854.6M55.0 902.7L57.5 908.0M64.2 911.6L63.6 912.3M63.6 912.3L57.5 910.8M57.5 908.0L57.0 909.4M56.2 914.6L57.5 910.8M57.0 909.4L51.6 908.9M55.0 902.7L52.0 902.8M52.0 902.8L50.5 907.3M50.5 907.3L51.6 908.9M32.3 897.8L31.7 899.0M32.3 897.8L36.4 895.8M31.7 899.0L34.8 904.2M39.1 897.5L36.4 895.8M37.8 903.8L34.8 904.2M20.8 907.1L26.7 911.8M43.6 878.5L44.9 880.9M44.7 875.4L49.6 876.7M41.0 885.5L37.7 880.6M54.9 882.6L54.5 881.9M49.6 876.7L50.1 876.3M19.4 899.8L18.9 893.8M25.0 894.3L18.9 893.8M12.1 897.6L17.7 892.6M14.8 885.1L19.7 887.6M14.4 881.6L14.8 885.1M90.5 853.5L95.1 855.5M90.5 853.5L88.9 855.2M95.1 855.5L95.2 857.5M95.2 857.5L91.7 859.9M91.3 859.8L91.7 859.9M90.7 851.5L90.5 853.5M97.0 853.4L95.1 855.5M86.4 855.5L88.9 855.2M101.9 858.1L99.1 860.6M94.1 863.4L98.9 862.2M96.6 868.7L99.7 863.9M99.7 863.9L98.9 862.2M101.5 865.0L99.7 863.9M50.4 901.2L44.7 903.1M50.2 897.9L43.7 896.3M42.7 897.3L43.7 896.3M52.0 902.8L50.4 901.2M44.7 903.1L46.2 907.2M44.7 903.1L44.7 903.1M44.5 892.4L43.7 896.3M44.7 903.1L39.4 904.9M40.7 889.3L36.4 893.8M36.4 895.8L36.4 893.8M73.8 886.8L76.4 886.4M76.4 886.4L77.7 882.3M79.4 881.7L77.7 882.3M40.4 839.4L44.6 838.6M47.4 844.1L46.3 845.3M47.4 844.1L44.6 838.6M110.7 858.8L117.1 858.0M115.5 864.7L118.6 861.5M117.1 858.0L118.6 861.5M122.6 854.7L117.9 856.0M125.4 847.9L123.3 852.1M118.6 846.7L118.6 849.0M114.5 851.7L114.6 851.8M115.4 874.8L115.9 875.0M120.9 868.4L122.0 870.7M122.0 870.7L121.6 871.7M121.6 871.7L115.9 875.0M115.9 882.5L117.5 878.2M117.5 878.2L115.9 875.0M79.7 854.8L79.0 855.1M53.9 854.4L58.4 857.4M26.1 880.2L25.3 882.5M25.3 882.5L20.8 884.9M122.7 864.5L121.0 861.9M122.7 864.5L126.6 864.6M121.0 861.9L123.8 858.7M123.8 858.7L128.8 860.6M126.6 864.6L128.8 860.6M120.9 868.4L122.7 864.5M118.6 861.5L121.0 861.9M122.6 854.7L123.8 858.7M130.1 859.1L129.7 860.2M129.7 860.2L128.8 860.6M127.3 876.3L123.9 876.3M121.8 878.9L123.9 876.3M121.8 878.9L123.4 882.7M123.4 882.7L126.3 883.8M118.5 885.6L123.4 882.7M124.1 890.5L126.3 883.8M132.7 886.6L132.7 886.6M134.4 864.1L134.4 865.4M134.4 865.4L128.2 868.7M127.3 876.3L129.3 872.4M127.9 869.9L128.2 868.7M134.4 864.1L137.4 861.7M134.4 856.4L137.4 858.7M76.4 848.8L78.9 855.1M78.9 855.1L76.5 855.6M72.1 852.2L72.7 849.7M82.4 848.1L76.4 848.8M79.0 855.1L78.9 855.1M82.8 844.9L80.3 841.9M80.3 841.9L76.2 843.9M76.2 843.9L75.9 848.6M70.2 853.8L70.6 856.8M44.3 910.4L40.0 909.6M39.4 904.9L40.0 909.6M26.2 889.8L27.6 886.7M26.2 889.8L27.0 892.2M27.6 886.7L32.6 885.3M33.4 889.9L33.9 887.4M33.9 887.4L32.6 885.3M25.3 882.5L27.6 886.7M19.9 887.4L26.2 889.8M32.3 897.8L28.1 892.5M32.7 884.5L32.6 885.3M40.3 887.1L33.9 887.4M134.4 865.4L136.4 868.4M129.3 872.4L133.4 873.2M136.4 868.4L133.4 873.2M44.6 838.6L49.3 836.9M76.2 843.9L73.3 842.4M78.4 838.2L80.4 841.1M78.4 838.2L73.6 837.9M73.6 837.9L73.3 842.4M84.8 832.4L87.7 832.2M84.2 838.3L88.9 839.6M89.8 838.5L88.9 839.6M76.4 830.9L79.3 834.6M82.5 828.8L84.8 832.4M80.4 841.1L84.2 838.3M129.2 880.0L135.5 877.4M52.5 826.5L53.8 832.5M64.7 829.7L64.4 831.0M64.3 857.5L65.2 858.4M58.5 857.5L60.6 858.5M70.2 853.8L67.7 853.3M64.5 856.1L67.7 853.3M47.4 844.1L51.2 843.7M50.1 851.9L53.4 846.8M60.9 837.1L57.9 840.7M51.2 843.7L53.0 840.1M53.0 840.1L54.1 839.6M70.7 847.9L71.1 843.4M67.7 853.3L65.4 849.0M65.4 849.0L66.0 848.2M70.7 847.9L66.0 848.2M60.0 852.4L56.7 851.3M56.7 851.3L55.5 847.3M55.5 847.3L59.0 845.6M64.5 856.1L61.5 851.8M65.4 849.0L62.6 849.9M53.9 854.4L56.7 851.3M59.7 843.8L57.9 840.7M73.3 837.5L74.1 832.0M74.1 832.0L71.7 831.4M64.3 837.8L66.6 836.6M67.7 837.4L66.6 836.6M59.7 843.8L63.3 842.9M66.0 848.2L65.5 844.4M60.9 837.1L64.3 837.8M66.7 834.7L66.6 836.6" stroke="#0c1c1d" stroke-width="0.75"/><path d="M41.9 866.1L47.2 863.6M61.1 880.7L63.7 883.5M67.9 887.2L68.8 882.0M63.4 886.0L63.7 883.5M41.9 866.1L40.6 866.6M97.4 872.2L100.0 876.1M102.6 869.7L97.7 871.2M102.6 869.7L104.0 870.5M61.1 880.7L59.9 880.7M57.2 883.0L59.9 880.7M100.7 876.2L102.2 880.2M86.2 887.2L83.0 885.4M83.0 885.4L80.1 888.1M47.8 864.1L52.2 862.8M49.2 868.1L54.6 867.1M94.1 877.8L96.4 878.9M96.4 878.9L97.0 881.2M94.5 885.1L94.4 883.6M45.6 870.8L44.0 873.5M54.9 882.6L57.2 883.0M79.4 881.7L80.1 877.3M70.8 889.4L71.4 889.2M79.7 854.8L85.8 856.1M52.2 862.8L53.1 860.1M54.5 881.9L49.5 880.0M50.6 872.3L50.1 876.3M50.6 872.3L55.2 871.9M54.7 876.6L54.6 876.7M48.5 869.8L50.6 872.3M54.6 867.1L55.4 868.0M58.7 877.0L54.7 876.6M88.9 855.2L91.3 859.8M91.3 859.8L87.8 862.4M94.1 863.4L93.0 865.5M91.7 859.9L94.1 863.4M90.7 870.7L93.7 867.4M75.8 880.7L77.7 882.3M71.4 889.2L73.8 886.8M68.8 882.0L70.5 881.5M80.1 859.8L79.0 855.1M58.5 857.5L58.4 857.4M70.2 853.8L72.1 852.2M70.6 856.8L73.8 858.6M61.0 863.7L60.6 858.5" stroke="#19383a" stroke-width="0.75"/><path d="M60.4 874.0L58.7 877.0M58.7 877.0L59.9 880.7M49.2 868.1L48.5 869.8M91.6 879.3L94.1 877.8M97.4 872.2L93.7 873.9M85.4 878.0L80.7 876.9M87.0 875.7L85.4 878.0M71.2 876.1L70.2 875.5M57.1 863.0L56.1 860.2M87.8 862.4L85.1 859.2M96.6 868.7L93.7 867.4M97.7 871.2L96.6 868.7M70.9 881.0L70.5 881.5M70.9 881.0L75.8 880.7M76.4 861.7L80.1 859.8M73.9 859.1L73.8 858.6M68.1 859.1L69.9 863.3M57.1 863.0L60.8 863.8M59.6 872.9L60.8 868.9" stroke="#265456" stroke-width="0.75"/><path d="M72.2 875.7L75.9 876.6M74.0 871.5L77.5 872.6M63.5 874.3L65.0 877.3M54.6 865.9L54.6 867.1M77.5 872.6L78.6 872.0M76.6 876.2L80.1 877.3M65.6 871.4L68.2 871.4M57.1 863.0L54.6 865.9M55.5 871.6L55.2 871.9M87.4 864.8L93.0 865.5M71.2 876.1L70.9 881.0M81.4 860.7L80.1 859.8M76.4 861.7L73.9 859.1M73.6 864.8L69.9 863.5M81.7 862.9L84.6 865.1M82.3 868.0L78.8 867.3M81.4 860.7L81.7 862.9M55.4 868.0L59.6 867.4M65.6 871.4L64.3 869.0M68.7 864.7L65.4 865.0M64.2 864.0L65.2 858.4M68.1 859.1L65.2 858.4" stroke="#327073" stroke-width="0.75"/><path d="M72.2 875.7L74.0 871.5M80.7 876.9L80.1 877.3M87.0 875.7L87.2 875.7M74.1 868.4L78.5 867.8M87.4 864.8L87.4 864.9M73.6 864.8L74.1 868.4M76.1 863.5L73.6 864.8M76.1 863.5L76.4 861.7M69.9 863.5L69.9 863.3M87.4 864.9L84.6 865.1M83.9 871.7L82.3 868.0M60.8 863.8L59.6 867.4" stroke="#3e8d90" stroke-width="0.75"/><path d="M75.9 876.6L76.6 876.2M81.0 872.9L80.7 876.9M71.2 876.1L72.2 875.7M70.1 869.5L68.2 871.4M59.6 872.9L60.4 874.0M83.9 871.8L83.9 871.7M70.1 869.5L68.7 864.7M84.6 865.1L82.3 868.0M78.5 867.8L78.8 867.3M61.0 863.7L64.2 864.0" stroke="#4ba9ac" stroke-width="0.75"/><path d="M77.5 872.6L76.6 876.2M78.6 872.0L81.0 872.9M74.0 871.5L73.1 869.8M73.1 869.8L74.1 868.4M70.2 875.5L68.2 871.4M63.5 874.3L65.6 871.4M87.8 868.4L83.9 871.7M68.7 864.7L69.9 863.5M81.7 862.9L78.7 865.8M76.1 863.5L78.7 865.8M64.3 869.0L60.8 868.9" stroke="#58c5c9" stroke-width="0.75"/><path d="M78.6 872.0L78.5 867.8M73.1 869.8L70.1 869.5" stroke="#64e1e6" stroke-width="0.75"/></g>
</g>
<path d="M74.4 870.8L89.0 871.5M68.2 868.9L51.4 867.2M75.2 867.5L80.1 871.7M72.4 869.3L68.0 867.0M70.2 870.7L73.6 867.6M74.4 867.6L70.1 869.3M68.0 870.5L74.6 870.8M75.9 870.5L68.1 871.4M72.3 869.7L80.1 873.1M73.5 870.9L65.7 867.8M70.9 867.7L75.9 865.9M70.4 869.4L67.3 871.8M70.7 868.2L84.1 865.5M70.5 868.9L59.4 867.5M75.8 867.1L79.1 869.3M68.1 870.2L62.0 865.8M68.1 867.2L73.5 863.8M69.6 870.0L63.2 874.9M70.8 868.4L87.6 871.4M68.9 870.0L53.8 869.8M68.3 870.8L74.4 875.3M72.9 870.7L67.6 868.9M72.4 868.2L79.1 863.9M68.6 867.6L64.9 870.1M69.3 867.2L87.2 868.6M71.2 867.9L59.7 865.6M71.6 868.7L78.1 872.6M68.3 869.0L60.3 866.4M73.9 870.8L78.1 869.2M68.9 868.7L62.0 872.0M70.4 868.8L86.1 866.6M75.8 868.8L60.2 865.6M71.8 868.2L78.2 871.6M71.0 871.0L67.0 869.0M72.0 868.4L78.6 866.3M74.3 870.5L70.5 873.6M74.2 869.8L89.4 868.9M70.9 869.8L56.1 868.8M74.2 869.8L79.8 872.2M73.2 869.3L65.5 866.0" stroke="#b0f6f8" stroke-width="0.5" stroke-opacity="0.7" fill="none" clip-path="url(#clip_r2c1)"/>
<path d="M23.2 885.6h0.8M48.6 893.7h0.8M71.1 903.1h0.8M90.6 901.8h0.8M58.9 891.9h0.8M100.2 903.8h0.8M59.1 904.8h0.8M114.2 894.7h0.8M125.5 912.2h0.8M76.9 884.4h0.8M39.6 904.4h0.8M121.4 881.0h0.8M95.3 896.8h0.8M99.4 861.2h0.8M104.7 887.8h0.8M92.5 877.4h0.8M88.1 900.4h0.8M89.5 896.8h0.8M24.9 860.4h0.8M68.8 892.3h0.8M45.2 894.6h0.8M88.9 852.7h0.8M72.0 864.7h0.8M27.7 858.7h0.8M55.6 861.8h0.8" stroke="#48a8b0" stroke-width="0.9" stroke-opacity="0.55" fill="none"/>
<ellipse cx="192" cy="872" rx="55" ry="40" fill="url(#gRedF)" clip-path="url(#clip_r2c2)"/>
<ellipse cx="312" cy="869" rx="30" ry="13" fill="url(#gCyanM)" clip-path="url(#clip_r2c3)"/>
<g clip-path="url(#clip_r2c3)" fill="none" stroke-linecap="round"><path d="M300.6 870.0L299.2 872.8" stroke="#417474" stroke-width="1"/><path d="M323.3 865.9L321.3 866.2" stroke="#4e6f6f" stroke-width="1"/><path d="M313.9 864.5L315.2 864.0" stroke="#4c7070" stroke-width="1"/><path d="M321.2 860.5L324.5 858.8" stroke="#5d6a6a" stroke-width="1"/><path d="M321.0 882.6L322.5 883.7M330.3 878.8L333.5 880.6" stroke="#5e6a6a" stroke-width="1"/><path d="M268.7 858.8L271.1 865.0M264.0 877.2L264.9 871.6M331.7 888.3L333.5 884.5" stroke="#656767" stroke-width="1"/><path d="M303.4 888.4L303.4 887.1" stroke="#636868" stroke-width="1"/><path d="M256.2 845.8L256.6 838.3M256.4 838.1L256.6 838.3M261.0 848.8L264.9 842.1M254.7 875.7L257.3 878.8M372.2 868.2L375.0 871.0M365.8 826.1L369.5 823.5M261.0 848.8L261.5 851.0M255.9 855.7L261.5 851.0M264.5 852.5L261.5 851.0M267.3 868.4L261.2 862.3M266.3 857.8L268.7 858.8M266.3 857.8L264.5 852.5M365.8 862.8L366.3 868.5M277.2 816.1L270.6 812.2M260.3 862.3L256.3 869.5M264.9 871.6L256.3 869.5M328.8 904.7L333.1 901.6M334.4 896.4L331.8 898.2M264.0 877.2L267.3 880.7M256.5 884.9L264.1 887.5M307.9 894.5L307.7 894.8M323.6 849.9L320.9 848.3M307.7 892.0L307.9 894.5M263.0 839.5L266.2 831.4M271.2 834.2L266.2 831.4M264.5 890.8L271.2 893.1M267.5 883.8L275.7 887.0M259.5 822.5L255.9 829.6M289.6 889.9L289.3 896.5M256.2 901.8L260.5 902.8M263.6 897.5L260.5 902.8M251.8 908.2L256.5 913.0M269.9 822.9L267.9 814.8M260.1 822.3L262.5 814.6M266.1 831.3L266.7 825.5M270.3 903.4L264.4 906.2" stroke="#666767" stroke-width="1"/><path d="M316.6 872.1L311.8 874.0" stroke="#4f9191" stroke-width="1"/><path d="M317.6 873.3L316.6 872.1" stroke="#529090" stroke-width="1"/><path d="M300.6 870.0L304.1 869.1" stroke="#509191" stroke-width="1"/><path d="M317.6 873.3L323.7 872.6" stroke="#588e8e" stroke-width="1"/><path d="M321.3 866.5L323.7 872.5" stroke="#5b8d8d" stroke-width="1"/><path d="M318.0 876.6L315.1 879.1M315.1 879.1L312.4 877.6" stroke="#608b8b" stroke-width="1"/><path d="M315.2 864.0L320.6 865.3M298.9 865.7L296.4 864.8M302.4 862.7L305.8 864.5" stroke="#618b8b" stroke-width="1"/><path d="M309.8 879.1L312.4 877.6" stroke="#5f8c8c" stroke-width="1"/><path d="M321.3 866.5L321.3 866.2" stroke="#608c8c" stroke-width="1"/><path d="M330.8 873.7L327.7 869.8M315.1 879.1L315.1 880.6" stroke="#678989" stroke-width="1"/><path d="M327.9 868.6L330.1 866.7M287.7 873.3L287.9 873.9" stroke="#698888" stroke-width="1"/><path d="M309.9 881.9L309.8 879.1" stroke="#688989" stroke-width="1"/><path d="M285.7 872.0L287.3 863.2" stroke="#6c8787" stroke-width="1"/><path d="M324.8 876.1L326.8 879.8" stroke="#6b8888" stroke-width="1"/><path d="M330.1 866.7L332.7 868.2M320.5 878.0L321.0 882.6M315.1 880.6L312.0 882.9" stroke="#6d8787" stroke-width="1"/><path d="M315.1 880.6L317.5 883.1M287.9 873.9L286.4 880.5" stroke="#6f8686" stroke-width="1"/><path d="M326.3 862.7L324.5 858.8M309.4 858.3L309.3 858.0" stroke="#748484" stroke-width="1"/><path d="M327.8 880.1L330.3 878.8" stroke="#728585" stroke-width="1"/><path d="M322.5 883.7L322.7 884.1M317.5 883.1L316.0 886.2M310.1 857.1L317.0 857.3" stroke="#778383" stroke-width="1"/><path d="M301.7 859.5L296.9 857.5M281.1 864.2L279.2 869.2" stroke="#758484" stroke-width="1"/><path d="M333.7 855.1L336.3 862.0" stroke="#7c8181" stroke-width="1"/><path d="M330.4 863.1L335.9 862.4M309.3 858.0L310.1 857.1M309.3 858.0L305.0 857.1M276.9 869.4L279.2 869.2" stroke="#768484" stroke-width="1"/><path d="M333.4 884.4L333.5 880.6" stroke="#7a8282" stroke-width="1"/><path d="M305.5 884.5L303.4 887.1" stroke="#788383" stroke-width="1"/><path d="M267.3 868.4L271.1 865.0M348.3 878.9L344.1 877.2M341.7 857.0L337.7 861.8M343.5 864.8L344.8 859.0M299.6 850.9L296.9 857.5M340.3 881.3L340.0 882.2M320.9 889.2L316.9 888.8M316.5 851.8L317.8 855.6M293.1 857.6L289.3 851.8" stroke="#7d8181" stroke-width="1"/><path d="M346.8 883.7L347.2 884.8M357.5 863.8L354.8 866.2M352.6 858.9L349.9 860.9M321.5 894.2L320.9 889.2M267.3 880.7L267.5 883.8M301.0 891.9L296.6 892.0M296.7 848.3L289.3 851.8M275.7 887.0L275.8 887.0" stroke="#7f8080" stroke-width="1"/><path d="M329.9 856.2L330.4 863.1M325.2 857.1L324.5 858.8M342.6 864.9L338.7 869.2M305.5 884.5L310.4 887.6" stroke="#798383" stroke-width="1"/><path d="M345.4 873.3L343.9 871.4M329.3 883.5L333.4 884.4" stroke="#7b8282" stroke-width="1"/><path d="M376.2 896.6L381.3 892.9M376.6 905.3L381.4 904.2M375.7 896.6L376.2 896.6M374.9 897.1L374.4 903.3M375.7 896.6L374.4 890.2M380.3 887.6L377.1 887.0M374.4 890.2L377.1 887.0M256.2 845.8L261.0 848.8M263.0 839.5L256.6 838.3M263.0 839.5L264.9 842.1M257.3 878.8L256.5 884.9M378.7 864.1L373.0 864.6M372.3 858.2L377.2 856.6M377.0 852.6L382.7 848.8M374.4 890.2L370.5 889.9M368.8 886.5L370.1 883.2M380.7 867.9L375.0 871.0M373.0 864.6L372.2 868.2M377.8 877.5L374.4 875.3M374.4 875.3L371.6 875.9M333.2 817.9L329.4 817.9M333.2 817.9L335.0 816.2M325.4 812.7L329.4 817.9M366.5 815.9L360.2 817.5M366.5 815.9L370.1 822.0M354.3 829.5L357.8 830.8M374.4 903.3L368.3 905.1M269.9 850.0L271.5 843.8M271.2 842.7L271.5 843.8M261.2 862.3L266.3 857.8M269.9 850.0L275.6 854.8M366.0 862.5L364.1 855.7M365.8 862.8L358.6 863.5M370.7 861.6L366.0 862.5M346.8 899.8L346.0 900.6M351.6 885.2L352.9 888.2M347.2 884.8L344.9 888.4M349.2 892.4L344.9 888.4M353.6 841.0L353.5 846.2M353.6 841.0L359.5 842.5M360.7 847.7L357.5 849.5M356.3 853.8L357.5 849.5M353.5 840.9L353.9 838.6M346.0 841.5L345.1 840.2M357.8 830.8L359.2 834.6M359.2 834.6L353.9 838.6M344.9 831.5L346.7 833.5M333.9 849.3L328.6 846.9M336.4 842.5L333.8 841.5M324.7 841.1L328.9 836.9M324.7 841.1L328.7 846.0M359.0 877.9L356.8 872.6M359.9 883.8L357.5 880.9M361.5 870.3L358.4 863.7M366.3 868.5L361.7 870.4M366.3 868.5L367.9 869.5M367.9 869.5L368.6 874.2M361.7 870.4L363.8 876.0M363.8 876.0L364.2 876.2M358.4 863.7L358.6 863.5M371.6 875.9L368.6 874.2M359.0 877.9L363.8 876.0M365.8 881.1L364.2 876.2M361.1 884.2L359.9 883.8M323.6 841.1L319.7 836.0M319.7 836.0L319.8 835.2M310.4 833.6L314.2 840.2M319.7 836.0L314.2 840.2M341.7 830.9L338.3 832.9M342.7 821.2L348.2 825.4M342.7 821.2L340.3 824.3M332.2 827.4L332.2 827.4M342.7 821.2L342.7 821.1M342.7 821.1L335.0 816.2M332.2 827.4L324.8 822.7M329.4 817.9L324.8 822.7M375.5 819.0L374.0 811.9M363.8 888.0L363.2 892.2M362.9 892.4L363.2 892.2M349.3 892.4L352.5 895.3M362.9 892.4L359.9 898.5M356.8 890.4L355.2 894.7M352.5 895.3L355.2 894.7M360.0 899.2L358.5 901.9M277.0 855.0L277.9 847.5M278.2 839.5L281.2 841.4M281.2 841.4L280.8 846.0M256.4 858.6L260.3 862.3M261.2 862.3L260.3 862.3M264.0 877.2L257.3 878.8M373.8 832.1L377.4 835.7M378.3 826.8L374.8 828.0M369.5 823.5L374.8 828.0M372.7 848.6L372.6 848.1M363.1 848.1L366.0 845.9M373.5 846.2L372.6 848.1M362.0 835.9L367.3 832.7M362.5 839.5L366.1 841.7M367.3 832.7L368.0 833.1M368.0 833.1L370.3 839.6M366.1 841.7L370.3 839.6M359.2 834.6L362.0 835.9M366.0 845.9L366.1 841.7M373.8 832.1L368.0 833.1M323.6 849.9L327.2 848.8M328.8 904.7L326.5 899.2M328.5 897.2L326.5 899.2M339.3 903.0L341.7 907.3M337.0 902.4L336.0 902.8M333.1 901.6L336.0 902.8M346.3 904.6L341.7 907.3M328.2 893.9L327.4 893.1M334.4 896.4L334.8 892.3M334.8 892.3L333.6 891.8M321.5 894.2L321.1 894.9M321.5 894.2L327.4 893.1M325.3 899.3L321.1 894.9M341.0 894.0L341.0 893.8M341.2 848.2L338.6 854.2M357.5 863.8L352.6 858.9M308.1 899.2L307.7 894.8M308.1 899.2L312.6 900.0M312.8 894.4L314.0 898.4M314.0 898.4L312.6 900.0M319.3 895.8L314.8 892.2M349.9 848.3L350.0 853.5M349.9 848.3L345.3 845.6M342.4 848.0L346.3 854.3M353.5 846.2L349.9 848.3M287.9 818.3L281.2 823.2M285.9 839.4L288.7 843.8M285.9 839.4L286.9 836.0M294.9 839.6L293.2 843.1M288.7 843.8L293.2 843.1M281.6 833.2L286.9 836.0M302.5 841.1L297.8 848.5M296.7 848.3L293.2 843.1M281.9 826.6L289.7 828.5M289.7 828.5L289.4 834.4M264.5 890.8L262.8 893.8M262.8 893.8L254.5 893.8M304.8 902.3L305.6 902.1M304.8 902.3L302.0 908.5M306.8 912.2L310.1 905.9M354.8 903.4L355.1 903.5M351.4 899.5L354.8 903.4M304.8 902.3L300.5 899.4M300.5 899.4L302.7 895.1M271.2 834.2L274.7 832.6M314.2 840.2L313.7 842.5M316.1 831.1L317.1 825.8M313.0 823.3L317.1 825.8M324.9 832.0L321.6 824.7M317.1 825.8L321.6 824.7M325.4 812.7L320.3 815.8M324.8 822.7L322.9 823.1M290.0 828.1L290.5 821.3M290.5 821.3L297.0 821.7M303.0 824.1L298.3 823.6M271.2 893.1L275.7 887.0M314.5 905.6L319.5 901.9M322.8 905.6L321.4 902.5M321.4 902.5L319.5 901.9M313.8 905.2L314.5 905.6M318.1 898.3L319.5 901.9M296.1 896.6L296.6 892.0M302.7 895.1L301.0 891.9M253.5 819.8L259.5 822.5M256.4 838.1L257.3 831.7M266.2 831.4L266.1 831.3M266.1 831.3L257.3 831.7M257.3 831.7L255.9 829.6M305.4 820.0L302.0 816.5M305.4 820.0L311.4 818.8M303.3 812.5L302.0 816.5M303.0 824.1L305.4 820.0M296.1 896.6L291.0 898.1M256.5 913.0L261.8 905.1M260.5 902.8L261.8 905.1M302.0 908.5L298.9 908.8M298.9 908.8L295.3 913.8M296.1 904.4L291.3 903.7M266.7 825.5L260.1 822.3M266.7 825.5L269.6 823.6M269.9 822.9L269.6 823.6M259.5 822.5L260.1 822.3M275.7 827.5L269.6 823.6M277.1 818.6L269.9 822.9M283.6 900.8L285.1 897.5M276.9 897.6L277.5 901.0M289.8 912.0L289.4 905.2M261.8 905.1L264.4 906.2" stroke="#808080" stroke-width="1"/><path d="M342.8 877.8L344.1 877.2M344.1 877.2L345.4 873.3M316.0 886.2L316.9 888.8M272.3 865.1L277.2 861.0" stroke="#7c8282" stroke-width="1"/><path d="M351.3 877.7L351.5 873.6M348.3 878.9L351.3 877.7M264.9 871.6L266.8 869.9M331.7 888.3L327.8 888.5M333.7 855.1L334.2 854.7M349.5 865.5L348.2 866.5M337.3 888.3L335.3 884.9M341.6 887.3L340.0 882.2M314.8 891.2L310.6 888.9M307.7 892.0L303.4 888.4M267.3 880.7L273.9 876.3" stroke="#7e8181" stroke-width="1"/><path d="M326.9 890.1L327.8 888.5M354.8 866.2L349.5 865.5M341.7 857.0L338.6 854.2M349.9 860.9L344.8 859.0M302.9 851.4L299.6 850.9M310.6 850.7L312.1 849.8M285.3 888.9L284.3 887.9M285.3 888.9L289.4 889.6" stroke="#7f8181" stroke-width="1"/><path d="M311.8 874.0L308.5 872.4" stroke="#5cafaf" stroke-width="1"/><path d="M305.7 876.2L308.5 872.4" stroke="#5faeae" stroke-width="1"/><path d="M308.5 872.4L308.5 872.1" stroke="#5bb0b0" stroke-width="1"/><path d="M311.2 866.9L308.5 872.1" stroke="#5cb0b0" stroke-width="1"/><path d="M299.2 872.8L300.6 874.8M304.1 869.1L305.8 864.5" stroke="#65acac" stroke-width="1"/><path d="M312.4 877.6L311.8 874.0M297.3 872.9L299.2 872.8M312.8 866.3L311.2 866.9" stroke="#66acac" stroke-width="1"/><path d="M318.0 876.6L317.6 873.3M305.9 877.0L305.7 876.2M311.2 866.9L306.3 864.4" stroke="#69abab" stroke-width="1"/><path d="M305.7 876.2L300.6 874.8" stroke="#67acac" stroke-width="1"/><path d="M297.3 872.9L293.2 869.6" stroke="#6baaaa" stroke-width="1"/><path d="M299.2 880.4L300.6 874.8M293.2 869.6L293.2 866.5" stroke="#73a7a7" stroke-width="1"/><path d="M320.5 878.0L318.0 876.6M324.9 875.9L323.7 872.6M327.7 869.8L323.7 872.5" stroke="#74a7a7" stroke-width="1"/><path d="M293.2 869.6L287.7 873.3" stroke="#76a6a6" stroke-width="1"/><path d="M306.3 864.4L305.8 864.5" stroke="#70a9a9" stroke-width="1"/><path d="M324.8 876.1L324.9 875.9" stroke="#79a5a5" stroke-width="1"/><path d="M298.9 865.7L302.4 862.7" stroke="#75a7a7" stroke-width="1"/><path d="M296.4 864.8L293.2 866.5" stroke="#77a6a6" stroke-width="1"/><path d="M330.8 873.7L324.9 875.9" stroke="#7ca4a4" stroke-width="1"/><path d="M327.9 868.6L323.3 865.9" stroke="#78a6a6" stroke-width="1"/><path d="M327.9 868.6L327.7 869.8" stroke="#7aa5a5" stroke-width="1"/><path d="M323.3 865.9L326.3 862.7M320.6 865.3L321.2 860.5M309.4 858.3L313.9 864.5M285.7 872.0L287.7 873.3M309.4 858.3L306.3 864.4" stroke="#7fa3a3" stroke-width="1"/><path d="M315.2 864.0L317.1 857.8M331.5 874.0L331.6 874.2M331.5 874.0L333.1 872.3M285.7 872.0L282.9 872.3" stroke="#83a2a2" stroke-width="1"/><path d="M331.6 874.2L330.3 878.8M309.9 881.9L312.0 882.9M295.9 858.0L296.4 864.8" stroke="#85a1a1" stroke-width="1"/><path d="M293.2 866.5L287.9 863.1" stroke="#81a3a3" stroke-width="1"/><path d="M326.3 862.7L330.2 863.3M332.7 868.2L336.1 866.8M304.2 881.8L305.5 884.5" stroke="#88a0a0" stroke-width="1"/><path d="M333.1 872.3L332.7 868.2" stroke="#84a2a2" stroke-width="1"/><path d="M338.9 873.6L338.8 871.7M296.4 882.1L297.2 885.3M290.8 882.3L286.4 880.5M287.9 863.1L293.1 857.6" stroke="#8d9e9e" stroke-width="1"/><path d="M326.8 879.8L322.5 883.7" stroke="#8b9f9f" stroke-width="1"/><path d="M333.5 880.6L336.1 878.3" stroke="#8f9d9d" stroke-width="1"/><path d="M287.3 863.2L287.9 863.1M282.9 872.3L279.2 869.2" stroke="#89a0a0" stroke-width="1"/><path d="M335.9 862.4L336.1 866.8" stroke="#8e9e9e" stroke-width="1"/><path d="M296.9 857.5L295.9 858.0" stroke="#909d9d" stroke-width="1"/><path d="M297.2 885.3L303.4 887.1" stroke="#929c9c" stroke-width="1"/><path d="M282.9 872.3L278.7 879.2" stroke="#8c9f9f" stroke-width="1"/><path d="M342.6 864.9L337.7 861.8M337.7 861.8L336.3 862.0M327.1 886.1L329.3 883.5M336.1 878.3L340.3 881.3M273.9 876.3L278.3 879.3M272.3 865.1L276.9 869.4" stroke="#939c9c" stroke-width="1"/><path d="M343.5 864.8L345.8 866.5M305.0 857.1L302.9 851.4M333.5 884.5L333.4 884.4M341.2 880.8L340.3 881.3M310.4 887.6L310.6 888.9M297.2 885.3L294.8 889.9M266.8 869.9L273.6 874.9" stroke="#959b9b" stroke-width="1"/><path d="M317.1 857.8L317.0 857.3" stroke="#8f9e9e" stroke-width="1"/><path d="M295.9 858.0L293.1 857.6M276.9 869.4L273.6 874.9M285.0 881.1L278.7 879.2" stroke="#919d9d" stroke-width="1"/><path d="M348.3 878.9L346.8 883.7M351.5 873.6L354.8 872.0M323.6 849.9L323.0 854.5M327.2 848.8L330.4 855.7M338.6 854.2L334.2 854.7M349.5 865.5L349.9 860.9M341.7 857.0L344.0 857.3M344.0 857.3L344.8 859.0M302.9 851.4L306.6 849.4M312.1 849.8L316.5 851.8M294.8 889.9L296.6 892.0M277.5 855.4L283.0 855.2M276.2 886.6L284.3 887.9" stroke="#989a9a" stroke-width="1"/><path d="M343.5 864.8L342.6 864.9M321.0 889.1L322.7 884.1" stroke="#949c9c" stroke-width="1"/><path d="M335.9 862.4L336.3 862.0" stroke="#929d9d" stroke-width="1"/><path d="M350.3 872.8L348.2 866.5M327.1 886.1L327.8 888.5M333.5 884.5L335.3 884.9M271.1 865.0L272.3 865.1M276.2 886.6L278.3 879.3" stroke="#969b9b" stroke-width="1"/><path d="M341.2 880.8L346.8 883.7M266.8 869.9L267.3 868.4M330.4 855.7L333.7 855.1M314.8 891.2L316.9 888.8M307.7 892.0L310.6 888.9M277.5 855.4L277.2 861.0" stroke="#979b9b" stroke-width="1"/><path d="M354.5 880.8L351.3 877.7M351.6 885.2L354.5 880.8M361.5 870.3L356.8 872.6M357.5 863.8L358.4 863.7M275.6 854.8L277.0 855.0M333.6 891.8L331.7 888.3M333.6 891.8L328.2 893.9M327.4 893.1L326.9 890.1M341.6 887.3L343.7 888.7M341.6 887.3L337.3 888.3M337.3 888.3L336.2 891.8M344.9 888.4L343.7 888.7M333.9 849.3L334.2 854.7M327.2 848.8L328.6 846.9M264.1 887.5L267.5 883.8M312.8 894.4L307.9 894.5M346.3 854.3L350.0 853.5M344.0 857.3L346.3 854.3M319.3 895.8L321.1 894.9M307.7 894.8L302.7 895.1M299.6 850.9L297.8 848.5M306.6 849.4L310.6 850.7M277.0 855.0L277.5 855.4M287.3 851.1L289.3 851.8M275.8 887.0L279.1 894.6M285.3 888.9L282.1 894.4" stroke="#999a9a" stroke-width="1"/><path d="M329.9 856.2L325.2 857.1" stroke="#959c9c" stroke-width="1"/><path d="M375.7 896.6L374.9 897.1M372.3 858.2L370.7 861.6M377.2 856.6L377.7 857.0M373.0 864.6L370.7 861.6M377.2 856.6L377.0 852.6M368.3 853.8L372.3 858.2M370.1 883.2L375.1 883.9M363.8 888.0L361.1 884.2M370.1 883.2L369.4 882.1M365.8 881.1L361.1 884.2M375.0 871.0L374.4 875.3M358.8 820.4L363.4 825.6M363.4 825.6L365.8 826.1M370.1 822.0L369.5 823.5M352.4 824.6L354.1 821.4M357.8 830.8L363.4 825.6M354.1 821.4L358.8 820.4M368.3 905.1L367.6 906.8M269.9 850.0L264.5 852.5M264.9 842.1L271.2 842.7M358.6 863.5L359.8 856.2M364.1 855.7L359.8 856.2M365.5 854.0L368.3 853.8M346.8 899.8L346.3 895.5M346.0 900.6L342.6 900.1M342.6 900.1L340.5 896.2M340.5 896.2L341.0 894.0M346.3 895.5L341.0 894.0M349.3 892.4L349.2 892.4M349.3 892.4L352.9 888.2M359.5 842.5L360.7 847.7M353.5 846.2L357.5 849.5M365.5 854.0L363.1 848.1M359.8 856.2L356.3 853.8M353.5 840.9L346.0 841.5M353.9 838.6L350.5 833.6M352.4 824.6L348.2 825.4M333.9 849.3L337.8 846.2M328.6 846.9L328.7 846.0M328.7 846.0L333.8 841.5M331.6 837.3L333.8 841.5M331.6 837.3L328.9 836.9M356.3 889.2L359.9 883.8M356.3 889.2L352.9 888.2M368.6 874.2L364.2 876.2M324.7 841.1L323.6 841.1M328.9 836.9L326.0 832.2M326.0 832.2L324.9 832.0M310.4 833.6L316.1 831.1M319.8 835.2L316.1 831.1M341.7 830.9L340.3 824.3M340.3 824.3L334.0 824.8M344.9 831.5L341.7 830.9M331.6 837.3L335.8 832.5M340.1 839.3L336.4 842.5M350.0 816.1L351.8 811.7M345.6 816.8L341.7 811.3M358.1 811.1L360.2 817.5M354.1 821.4L350.0 816.1M342.7 821.1L345.6 816.8M366.5 815.9L368.5 810.9M370.1 822.0L375.5 819.0M356.8 890.4L356.3 889.2M368.3 905.1L367.0 900.3M367.0 900.3L369.3 896.7M346.8 899.8L351.4 899.5M346.3 895.5L349.2 892.4M367.0 900.3L360.0 899.2M359.9 898.5L360.0 899.2M271.5 843.8L277.9 847.5M271.7 841.8L278.2 839.5M271.7 841.8L271.2 842.7M277.9 847.5L280.8 846.0M373.8 832.1L374.8 828.0M339.3 903.0L337.0 902.4M341.5 908.2L341.7 907.3M328.8 904.9L328.8 904.7M346.0 900.6L346.3 904.6M342.6 900.1L339.3 903.0M337.2 898.1L337.0 902.4M334.4 896.4L337.2 898.1M328.5 897.2L328.2 893.9M325.3 899.3L326.5 899.2M343.7 888.7L341.0 893.8M341.2 848.2L337.8 846.2M319.3 895.8L318.1 898.3M345.3 845.6L342.4 848.0M353.0 855.1L350.0 853.5M284.4 812.4L287.9 818.3M277.2 816.1L277.1 818.6M323.6 841.1L319.8 844.9M320.9 848.3L319.8 844.9M309.3 833.3L304.4 841.3M309.3 833.3L306.4 829.8M304.4 841.3L302.6 841.1M300.3 832.5L302.6 841.1M287.9 818.3L288.4 818.5M293.5 836.0L289.4 834.4M286.9 836.0L289.4 834.4M300.3 832.5L299.1 832.3M302.5 841.1L294.9 839.6M286.8 849.4L280.8 846.0M278.5 834.6L281.6 833.2M281.6 833.2L281.9 826.6M264.1 887.5L264.5 890.8M302.0 908.5L306.8 912.2M305.6 902.1L308.1 899.2M357.6 911.8L355.1 903.5M278.5 834.6L274.7 832.6M281.0 825.6L275.7 827.5M281.0 825.6L281.9 826.6M275.7 827.5L274.7 832.6M271.7 841.8L271.2 834.2M304.4 841.3L305.4 842.1M305.4 842.1L306.6 849.4M319.8 844.9L314.1 843.2M313.7 842.5L314.1 843.2M306.4 829.8L313.0 823.3M320.3 815.8L318.8 815.3M322.9 823.1L321.6 824.7M298.3 823.6L297.0 821.7M281.0 825.6L281.2 823.2M289.7 828.5L290.0 828.1M288.4 818.5L290.5 821.3M299.1 832.3L296.3 828.0M294.9 813.7L298.3 817.3M298.3 817.3L297.0 821.7M322.8 905.6L321.6 909.8M325.3 899.3L321.4 902.5M296.1 896.6L299.3 899.5M299.3 899.5L300.5 899.4M311.7 818.0L311.4 818.8M298.3 817.3L302.0 816.5M313.0 823.3L311.4 818.8M282.1 894.4L279.1 894.6M282.1 894.4L285.1 897.5M285.1 897.5L289.3 896.5M262.8 893.8L263.6 897.5M271.2 893.1L271.8 895.5M263.6 897.5L269.1 898.7M283.6 900.8L277.5 901.0M291.3 903.7L289.4 905.2M283.6 900.8L285.6 904.3M269.1 898.7L270.3 903.4M277.5 901.0L275.3 905.5M270.3 903.4L275.3 905.5M267.1 913.4L264.4 906.2M272.1 913.3L275.3 905.5M275.3 905.5L281.0 908.2M282.1 911.1L281.0 908.2M275.3 905.5L275.3 905.5" stroke="#9a9a9a" stroke-width="1"/><path d="M308.5 872.1L304.1 869.1" stroke="#6acdcd" stroke-width="1"/><path d="M312.8 866.3L316.6 871.9" stroke="#70cbcb" stroke-width="1"/><path d="M321.3 866.5L316.6 871.9" stroke="#78c8c8" stroke-width="1"/><path d="M316.6 871.9L316.6 872.1" stroke="#72cbcb" stroke-width="1"/><path d="M298.9 865.7L300.6 870.0" stroke="#79c8c8" stroke-width="1"/><path d="M313.9 864.5L312.8 866.3" stroke="#7ec6c6" stroke-width="1"/><path d="M297.3 872.9L293.5 877.0" stroke="#83c4c4" stroke-width="1"/><path d="M323.7 872.6L323.7 872.5M309.8 879.1L305.9 877.0" stroke="#83c5c5" stroke-width="1"/><path d="M320.6 865.3L321.3 866.2" stroke="#88c3c3" stroke-width="1"/><path d="M320.5 878.0L324.8 876.1" stroke="#8dc1c1" stroke-width="1"/><path d="M304.2 881.8L305.9 877.0" stroke="#8bc2c2" stroke-width="1"/><path d="M293.5 877.0L287.9 873.9" stroke="#8fc0c0" stroke-width="1"/><path d="M331.5 874.0L330.8 873.7M302.4 862.7L301.7 859.5" stroke="#97bdbd" stroke-width="1"/><path d="M293.5 877.0L294.1 880.9" stroke="#96bebe" stroke-width="1"/><path d="M299.2 880.4L304.2 881.8" stroke="#97bebe" stroke-width="1"/><path d="M299.2 880.4L296.4 882.1" stroke="#9bbcbc" stroke-width="1"/><path d="M330.1 866.7L330.2 863.3" stroke="#9cbcbc" stroke-width="1"/><path d="M321.2 860.5L317.1 857.8" stroke="#a2b9b9" stroke-width="1"/><path d="M333.1 872.3L338.8 871.7M331.6 874.2L336.0 877.7" stroke="#a0baba" stroke-width="1"/><path d="M296.4 882.1L294.1 880.9" stroke="#9ebbbb" stroke-width="1"/><path d="M330.4 863.1L330.2 863.3M317.5 883.1L321.0 882.6M294.1 880.9L290.8 882.3M286.5 862.8L287.3 863.2" stroke="#a1baba" stroke-width="1"/><path d="M326.8 879.8L327.8 880.1M309.9 881.9L305.5 884.5" stroke="#9fbbbb" stroke-width="1"/><path d="M336.0 877.7L338.9 873.6" stroke="#a5b8b8" stroke-width="1"/><path d="M301.7 859.5L305.0 857.1M312.0 882.9L312.6 885.3" stroke="#a3b9b9" stroke-width="1"/><path d="M336.1 866.8L338.7 869.2M305.5 884.5L305.5 884.5M281.1 864.2L286.5 862.8" stroke="#a4b9b9" stroke-width="1"/><path d="M338.9 871.4L343.9 871.4" stroke="#a8b7b7" stroke-width="1"/><path d="M329.3 883.5L327.8 880.1M336.0 877.7L336.1 878.3M286.4 880.5L285.0 881.1" stroke="#a6b8b8" stroke-width="1"/><path d="M323.0 854.5L325.2 857.1" stroke="#adb5b5" stroke-width="1"/><path d="M338.7 869.2L338.9 871.4M338.8 871.7L338.9 871.4" stroke="#a5b9b9" stroke-width="1"/><path d="M327.1 886.1L322.7 884.1M277.2 861.0L281.1 864.2M278.3 879.3L278.7 879.2" stroke="#abb6b6" stroke-width="1"/><path d="M316.0 886.2L312.6 885.3" stroke="#a9b7b7" stroke-width="1"/><path d="M341.2 880.8L342.8 877.8M310.1 857.1L310.6 850.7M323.0 854.5L317.8 855.6M284.3 887.9L285.0 881.1M289.4 889.6L290.8 882.3" stroke="#aeb5b5" stroke-width="1"/><path d="M343.9 871.4L345.8 866.5M286.5 862.8L283.0 855.2M273.6 874.9L273.9 876.3" stroke="#acb6b6" stroke-width="1"/><path d="M351.5 873.6L350.3 872.8M301.0 891.9L303.4 888.4" stroke="#b0b4b4" stroke-width="1"/><path d="M338.9 873.6L342.8 877.8M312.6 885.3L310.4 887.6M317.8 855.6L317.0 857.3" stroke="#aab7b7" stroke-width="1"/><path d="M381.3 900.3L376.2 896.6M376.6 905.3L374.4 903.3M368.3 853.8L372.7 848.6M377.0 852.6L372.7 848.6M377.1 887.0L375.1 883.9M370.5 889.9L368.8 886.5M375.1 883.9L377.9 878.1M368.8 886.5L363.8 888.0M369.4 882.1L365.8 881.1M369.4 882.1L371.6 875.9M335.0 816.2L335.4 814.7M358.8 820.4L360.2 817.5M354.3 829.5L352.4 824.6M366.0 862.5L365.8 862.8M365.5 854.0L364.1 855.7M363.1 848.1L360.7 847.7M345.1 840.2L346.7 833.5M350.5 833.6L346.7 833.5M354.3 829.5L350.5 833.6M348.2 825.4L344.9 831.5M337.8 846.2L336.4 842.5M372.2 868.2L367.9 869.5M281.5 812.3L277.2 816.1M324.9 832.0L319.8 835.2M335.8 832.5L338.3 832.9M335.8 832.5L332.2 827.4M332.2 827.4L334.0 824.8M340.1 839.3L338.3 832.9M340.1 839.3L345.1 840.2M332.2 827.4L326.0 832.2M333.2 817.9L334.0 824.8M350.0 816.1L345.6 816.8M356.8 890.4L362.9 892.4M370.5 889.9L367.8 894.0M363.2 892.2L367.8 894.0M374.9 897.1L369.3 896.7M369.3 896.7L367.8 894.0M351.4 899.5L352.5 895.3M359.9 898.5L355.2 894.7M367.6 906.8L363.9 907.8M363.9 907.8L358.5 901.9M375.5 819.0L380.2 820.6M380.3 843.9L373.5 846.2M377.5 836.9L371.8 840.2M371.8 840.2L373.5 846.2M366.0 845.9L372.6 848.1M362.0 835.9L362.5 839.5M365.8 826.1L367.3 832.7M353.6 841.0L353.5 840.9M359.5 842.5L362.5 839.5M371.8 840.2L370.3 839.6M333.1 901.6L331.8 898.2M331.8 898.2L328.5 897.2M334.2 908.5L336.0 902.8M329.6 907.0L328.8 904.9M340.5 896.2L337.2 898.1M341.0 893.8L336.2 891.8M356.3 853.8L353.0 855.1M318.1 898.3L314.0 898.4M346.0 841.5L345.3 845.6M341.2 848.2L342.4 848.0M277.1 818.6L281.2 823.2M300.3 832.5L305.7 829.7M306.4 829.8L305.7 829.7M294.9 813.7L288.4 818.5M293.5 836.0L294.9 839.6M299.1 832.3L293.5 836.0M302.6 841.1L302.5 841.1M281.2 841.4L285.9 839.4M286.8 849.4L288.7 843.8M278.2 839.5L278.5 834.6M305.6 902.1L310.1 905.9M312.6 900.0L313.8 905.2M310.1 905.9L313.8 905.2M349.9 907.0L354.8 903.4M358.5 901.9L355.1 903.5M346.3 904.6L349.9 907.0M309.3 833.3L310.4 833.6M305.4 842.1L313.7 842.5M314.1 843.2L312.1 849.8M320.3 815.8L322.9 823.1M290.0 828.1L296.3 828.0M296.3 828.0L298.3 823.6M305.7 829.7L303.0 824.1M328.8 904.9L322.8 905.6M311.7 818.0L309.8 812.8M318.8 815.3L311.7 818.0M289.3 896.5L291.0 898.1M299.3 899.5L296.1 904.4M298.9 908.8L296.1 904.4M291.0 898.1L291.3 903.7M279.1 894.6L276.9 897.6M271.8 895.5L276.9 897.6M271.8 895.5L269.1 898.7M285.6 904.3L289.4 905.2M285.6 904.3L281.0 908.2" stroke="#b3b3b3" stroke-width="1"/><path d="M330.4 855.7L329.9 856.2M350.3 872.8L345.4 873.3M345.8 866.5L348.2 866.5M335.3 884.9L340.0 882.2" stroke="#afb5b5" stroke-width="1"/><path d="M326.9 890.1L321.0 889.1M289.6 889.9L294.8 889.9" stroke="#b1b4b4" stroke-width="1"/><path d="M268.7 858.8L275.6 854.8M356.8 872.6L354.8 872.0M354.8 866.2L354.8 872.0M314.8 892.2L312.8 894.4M314.8 892.2L314.8 891.2M320.9 848.3L316.5 851.8M289.6 889.9L289.4 889.6M283.0 855.2L287.3 851.1M276.2 886.6L275.8 887.0" stroke="#b2b4b4" stroke-width="1"/><path d="M320.9 889.2L321.0 889.1" stroke="#b0b5b5" stroke-width="1"/><path d="M351.6 885.2L347.2 884.8M359.0 877.9L357.5 880.9M357.5 880.9L354.5 880.8M361.5 870.3L361.7 870.4M334.8 892.3L336.2 891.8M352.6 858.9L353.0 855.1M296.7 848.3L297.8 848.5M286.8 849.4L287.3 851.1" stroke="#b3b4b4" stroke-width="1"/></g>
<path d="M341.4 819.3 L340 824.3 L342.9 832.1 M338.9 824.3 L346.4 825 L353.6 825.7 L357.9 824.3 M346.4 825 L350 818.6 M342.9 831.4 L351.4 832.9 L357.9 824.3 M351.4 832.9 L348.6 837.9 M350 818.6 L352 816.8" fill="none" stroke="#ffffff" stroke-width="3" stroke-opacity="0.5" filter="url(#blur06)" clip-path="url(#clip_r2c3)"/>
<path d="M341.4 819.3 L340 824.3 L342.9 832.1 M338.9 824.3 L346.4 825 L353.6 825.7 L357.9 824.3 M346.4 825 L350 818.6 M342.9 831.4 L351.4 832.9 L357.9 824.3 M351.4 832.9 L348.6 837.9 M350 818.6 L352 816.8" fill="none" stroke="#f4f4f4" stroke-width="1.5" stroke-linejoin="round" clip-path="url(#clip_r2c3)"/>
<path d="M315.7 868.2L333.0 868.3M313.3 867.4L297.6 865.8M314.0 868.0L320.1 869.3M314.8 870.8L309.6 868.5M308.5 870.3L317.0 866.1M313.6 869.2L309.0 870.4M312.3 870.5L321.0 872.1M308.7 870.8L298.4 870.2M309.1 870.2L318.0 874.0M308.1 868.5L300.6 863.8M310.8 870.8L317.2 866.3M314.9 868.0L307.6 871.6M312.2 868.4L331.6 868.9M309.5 869.4L292.6 871.0M309.0 869.6L315.4 872.6M310.7 870.6L306.2 867.6M308.1 870.0L313.1 868.0M310.2 869.5L304.5 872.5M308.6 870.9L318.9 871.9M312.5 869.7L306.4 868.7M315.7 869.4L323.2 872.3M310.0 867.6L305.3 865.8M314.7 869.1L318.8 866.4M314.5 867.2L305.5 869.8M314.2 870.4L321.3 871.6M308.6 867.3L297.0 866.6M312.3 868.1L316.9 870.4M313.8 868.9L308.3 867.4M312.4 869.1L318.3 866.2M314.0 867.9L305.5 871.9M310.9 867.1L319.5 866.5M311.4 870.6L297.5 869.2M315.4 869.2L322.3 871.6M316.0 870.0L310.7 867.4M312.7 869.1L317.8 866.3M312.6 869.8L308.1 871.7" stroke="#a8f0f4" stroke-width="0.55" stroke-opacity="0.75" fill="none" clip-path="url(#clip_r2c3)"/>
<path d="M281.1 936.0Q280.3 925.3 286.9 914.5M313.7 936.0Q314.8 924.9 316.7 913.9M281.5 936.0Q282.8 928.4 283.6 920.7M272.8 936.0Q275.0 925.1 275.3 914.2M306.0 936.0Q305.4 926.6 310.7 917.2M299.8 936.0Q298.5 928.5 301.6 921.0M271.0 936.0Q270.9 926.0 276.3 916.1M284.3 936.0Q284.5 929.5 283.3 923.0M293.9 936.0Q291.9 929.4 293.7 922.8M291.5 936.0Q291.2 924.6 290.2 913.2M268.7 936.0Q268.2 927.8 275.3 919.7M295.6 936.0Q297.7 925.3 296.0 914.6M260.7 936.0Q261.8 926.5 264.7 917.0M282.9 936.0Q281.6 929.9 286.1 923.8M263.5 936.0Q264.4 928.0 262.4 919.9M306.4 936.0Q307.7 928.9 308.9 921.9M303.7 936.0Q305.6 926.8 303.8 917.7M281.1 936.0Q282.1 929.2 282.4 922.5M310.3 936.0Q311.9 925.9 308.7 915.8M316.7 936.0Q315.4 929.9 320.1 923.8M270.9 936.0Q273.5 926.6 274.4 917.3M266.7 936.0Q264.9 927.6 266.0 919.2M301.2 936.0Q302.4 924.9 303.2 913.7M268.7 936.0Q269.6 928.0 267.5 919.9M258.8 936.0Q259.5 925.5 260.9 914.9M268.7 936.0Q270.2 927.2 275.2 918.3M291.3 936.0Q291.6 929.5 289.9 923.0M276.6 936.0Q275.9 928.5 281.1 921.0M286.1 936.0Q285.1 927.2 289.8 918.4M281.1 936.0Q282.4 929.3 281.2 922.7M300.0 936.0Q298.5 926.7 298.7 917.5M269.2 936.0Q269.4 924.9 270.4 913.7M259.6 936.0Q260.9 928.8 260.6 921.5M317.2 936.0Q320.5 927.7 323.9 919.5M271.7 936.0Q273.3 925.1 270.8 914.2M297.4 936.0Q297.5 925.8 297.7 915.6M285.2 936.0Q283.3 929.7 283.4 923.4M261.6 936.0Q263.0 926.0 262.3 916.0M288.5 936.0Q289.2 926.4 294.0 916.8M275.1 936.0Q276.1 927.0 278.6 918.1M269.6 936.0Q268.4 926.7 270.5 917.4M269.7 936.0Q269.0 928.4 273.6 920.8M278.9 936.0Q280.7 927.0 282.4 917.9M292.3 936.0Q292.7 927.1 298.1 918.2M262.4 936.0Q261.9 924.6 268.7 913.1M268.1 936.0Q271.2 925.0 273.5 914.1M282.5 936.0Q281.6 929.4 285.1 922.8M280.3 936.0Q280.0 926.0 281.1 916.0M296.0 936.0Q294.6 929.3 299.1 922.6M259.2 936.0Q261.1 927.1 265.0 918.3M272.4 936.0Q272.7 926.3 277.1 916.6M291.8 936.0Q290.2 929.6 290.1 923.2" stroke="#c8c8c8" stroke-width="0.7" stroke-opacity="0.7" fill="none" clip-path="url(#clip_r2c3)"/>
<path d="M369.2 936.0Q369.5 927.3 370.7 918.5M343.5 936.0Q342.6 929.0 347.3 922.0M326.8 936.0Q327.1 930.5 333.4 925.1M324.9 936.0Q326.3 928.7 330.6 921.5M338.4 936.0Q338.2 929.2 338.3 922.3M341.4 936.0Q342.2 931.4 341.0 926.9M369.3 936.0Q367.3 929.5 368.2 922.9M321.6 936.0Q323.0 932.0 327.6 927.9M355.0 936.0Q355.1 931.4 353.3 926.8M325.9 936.0Q327.1 928.7 326.0 921.5M340.9 936.0Q341.4 930.7 343.1 925.4M323.2 936.0Q324.8 928.3 328.9 920.5M364.0 936.0Q366.8 931.5 370.4 927.0M374.2 936.0Q373.3 927.5 375.0 918.9M361.1 936.0Q361.0 928.1 364.0 920.1M348.8 936.0Q348.8 927.5 353.2 919.0M362.3 936.0Q361.9 928.4 361.6 920.7M357.5 936.0Q356.2 927.5 356.7 919.0" stroke="#909090" stroke-width="0.6" stroke-opacity="0.5" fill="none" clip-path="url(#clip_r2c3)"/>
<rect x="18.9" y="799.6" width="20" height="9.3" fill="#f4f8f2"/>
<text x="28.9" y="807.6" font-size="8.6" text-anchor="middle" fill="#6a9a68" stroke="#6a9a68" stroke-width="0.17" textLength="17" lengthAdjust="spacingAndGlyphs">GFP</text>
<rect x="19.2" y="922.1" width="16.6" height="8.9" fill="#f6f6fc"/>
<text x="27.5" y="929.8" font-size="8.6" text-anchor="middle" fill="#3030c8" stroke="#3030c8" stroke-width="0.17" textLength="14.8" lengthAdjust="spacingAndGlyphs">DiD</text>
<line x1="362.5" y1="938.9" x2="371.7" y2="938.9" stroke="#111" stroke-width="2"/>
</svg></body></html>
